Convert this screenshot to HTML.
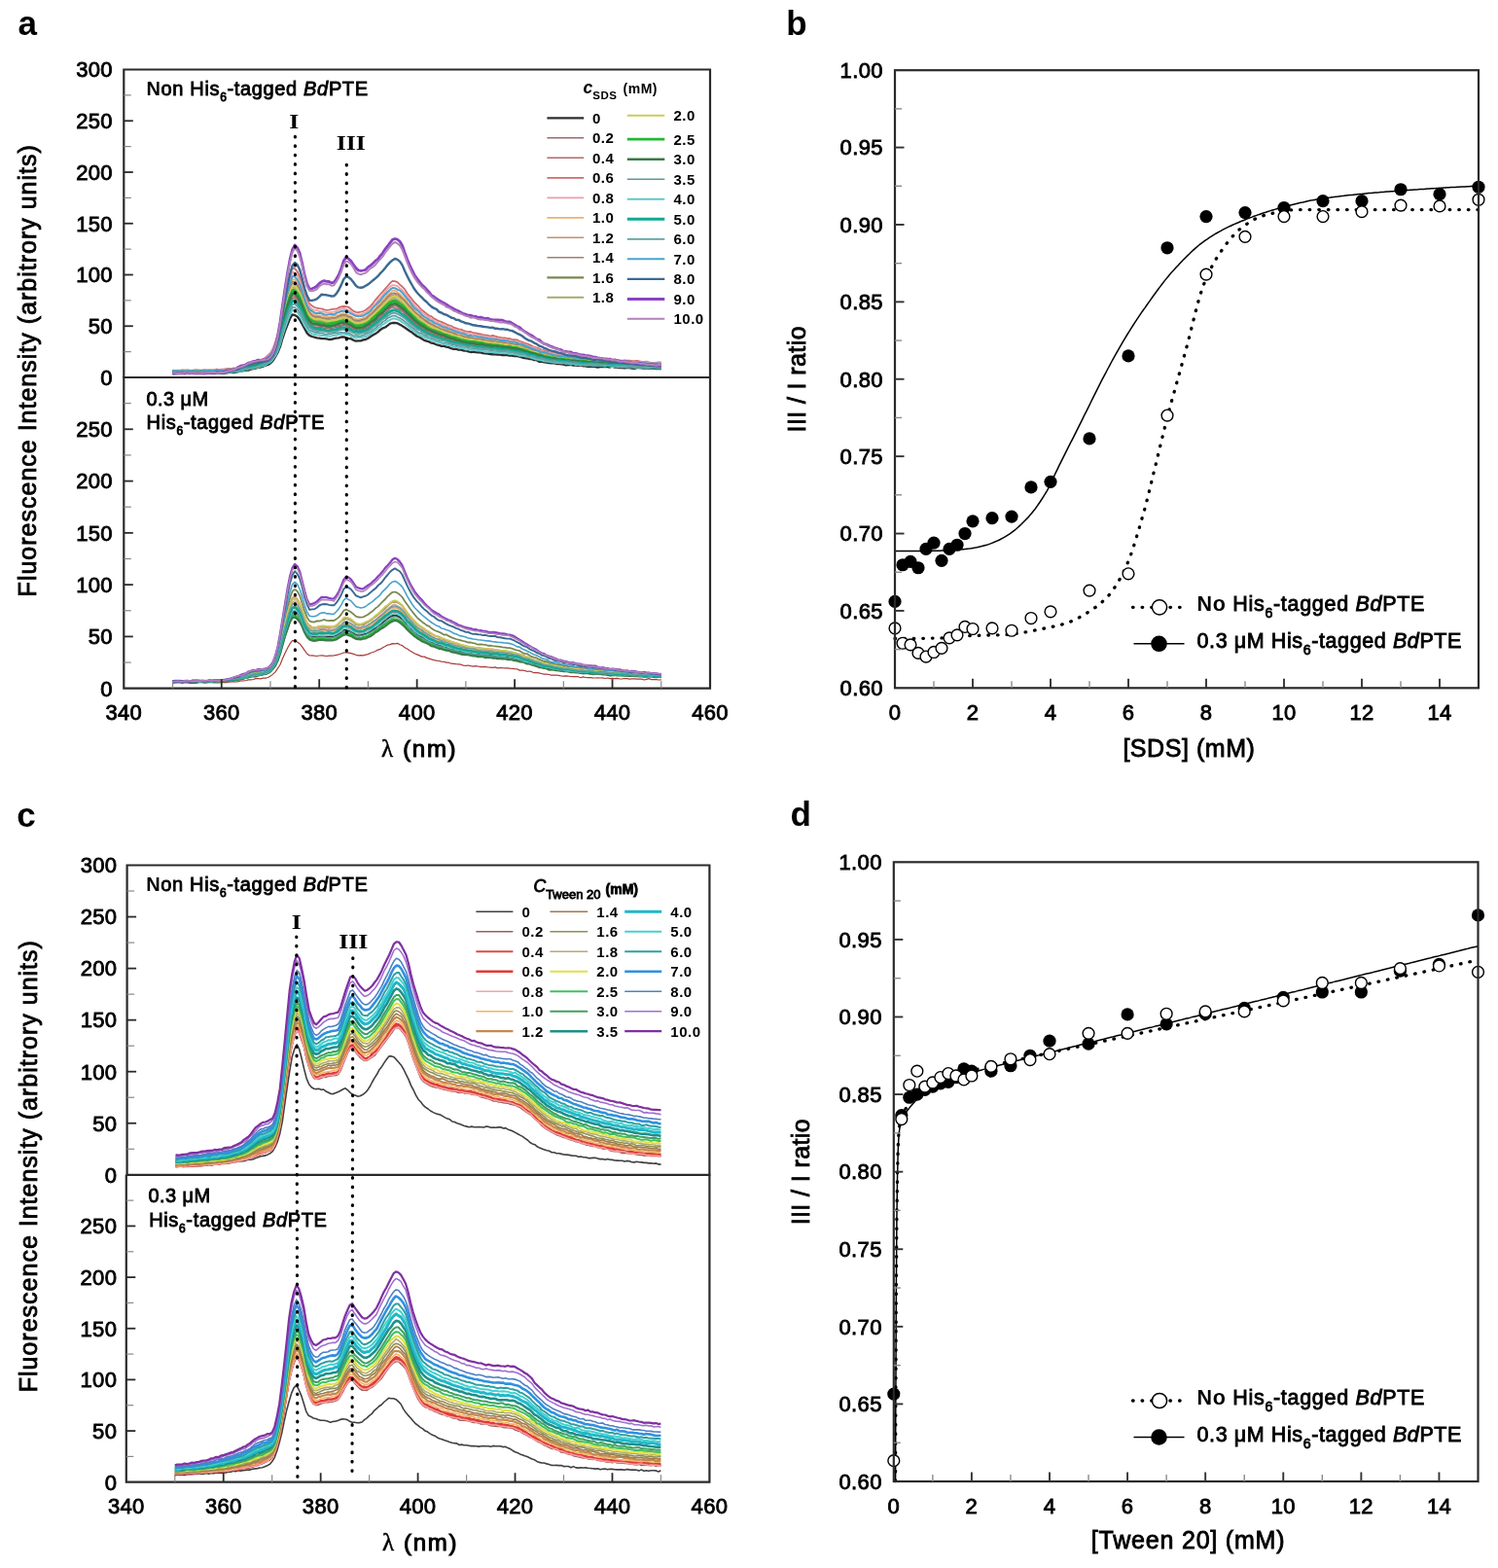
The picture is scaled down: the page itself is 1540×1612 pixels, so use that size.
<!DOCTYPE html>
<html><head><meta charset="utf-8"><title>Figure</title><style>html,body{margin:0;padding:0;background:#fff;}svg{display:block;} text{stroke:#000;stroke-width:0.85px;} text[font-weight=bold]{stroke-width:0;}</style></head><body>
<svg width="1540" height="1612" viewBox="0 0 1540 1612">
<rect width="1540" height="1612" fill="#fff"/>
<path d="M177.5,384.1 180,384 182.5,384 185.1,383.7 187.6,383.8 190.1,383.7 192.6,383.5 195.1,383.5 197.6,383.6 200.1,383.8 202.6,383.9 205.1,383.9 207.7,383.7 210.2,383.6 212.7,383.8 215.2,383.8 217.7,383.4 220.2,383.9 222.7,383.4 225.2,383.2 227.8,383.5 230.3,383.5 232.8,383.3 235.3,382.8 237.8,382.9 240.3,383.2 242.8,382.6 245.3,381.9 247.8,381.5 250.4,381.1 252.9,380.7 255.4,380.6 257.9,379.5 260.4,379.1 262.9,378.6 265.4,377.7 267.9,377.5 270.4,376.8 273,375.8 275.5,374.9 278,373.4 280.5,370.9 283,366.9 285.5,362.5 288,356.4 290.5,347.8 293,340.3 295.6,333.8 298.1,327.5 300.6,323.4 303.1,324.1 305.6,325.5 308.1,328.7 310.6,333.1 313.1,337.6 315.6,342.4 318.2,344.9 320.7,346 323.2,346.7 325.7,347.3 328.2,347.7 330.7,348.1 333.2,348.2 335.7,348.4 338.2,349 340.8,348.9 343.3,348.1 345.8,347.7 348.3,347.3 350.8,346.5 353.3,346.3 355.8,347.1 358.3,347.8 360.8,348.3 363.4,349.7 365.9,350.7 368.4,350.4 370.9,350.3 373.4,349.4 375.9,349 378.4,347.8 380.9,346.1 383.4,344.6 386,343.1 388.5,341.4 391,338.9 393.5,337.4 396,336.5 398.5,334.6 401,332.7 403.5,332 406,331.8 408.6,332.3 411.1,333.7 413.6,335.1 416.1,336.8 418.6,338.5 421.1,340.3 423.6,341.8 426.1,343.8 428.7,345.7 431.2,346.8 433.7,348.3 436.2,349.9 438.7,350.6 441.2,351.4 443.7,352.7 446.2,353.2 448.7,354.3 451.3,354.9 453.8,355.9 456.3,355.6 458.8,356.7 461.3,357.1 463.8,358.1 466.3,358.9 468.8,358.7 471.3,359.7 473.9,359.6 476.4,360.5 478.9,360.4 481.4,361.4 483.9,362 486.4,361.7 488.9,362.1 491.4,362.4 493.9,362.4 496.5,363.1 499,363.4 501.5,363.6 504,364 506.5,364.3 509,364.4 511.5,364.5 514,364.6 516.5,365.1 519.1,365 521.6,365 524.1,365.5 526.6,365.6 529.1,366.2 531.6,366.2 534.1,366.6 536.6,367.4 539.1,368.2 541.7,368.4 544.2,369 546.7,369.1 549.2,370.1 551.7,370.2 554.2,371.8 556.7,371.7 559.2,372.3 561.7,372.7 564.3,373.2 566.8,373.4 569.3,373.2 571.8,374 574.3,373.8 576.8,374.4 579.3,374.6 581.8,375.4 584.3,375 586.9,375 589.4,375.6 591.9,375.7 594.4,375.9 596.9,375.3 599.4,376.3 601.9,376.3 604.4,377 606.9,376.8 609.5,376.5 612,377 614.5,377.5 617,377 619.5,377 622,377.1 624.5,377.2 627,377.5 629.6,376.7 632.1,377.7 634.6,377.6 637.1,378.1 639.6,378 642.1,378.4 644.6,378 647.1,378.2 649.6,378.5 652.2,378.8 654.7,378.2 657.2,378.2 659.7,378.3 662.2,378.6 664.7,378.5 667.2,378.5 669.7,378.7 672.2,378.5 674.8,379 677.3,378.9 679.8,379.4" fill="none" stroke="#2e2e2e" stroke-width="2.3" stroke-linejoin="round" />
<path d="M177.5,382.7 180,382.4 182.5,382.4 185.1,382.8 187.6,382.8 190.1,382.8 192.6,382.5 195.1,382.7 197.6,382.4 200.1,383.1 202.6,382.2 205.1,382.6 207.7,382.3 210.2,382.5 212.7,382.5 215.2,382.3 217.7,382.1 220.2,382.3 222.7,382.2 225.2,381.9 227.8,382.3 230.3,382.4 232.8,381.7 235.3,381.9 237.8,382 240.3,381.5 242.8,381.2 245.3,381 247.8,380.5 250.4,379.5 252.9,378.5 255.4,378.1 257.9,377.5 260.4,376.6 262.9,375.9 265.4,375.6 267.9,374.7 270.4,373.7 273,373 275.5,371.6 278,369.3 280.5,366.2 283,361.4 285.5,356.3 288,348.1 290.5,337.8 293,328.2 295.6,318.9 298.1,311.4 300.6,306.2 303.1,306.1 305.6,308.7 308.1,312.5 310.6,318.1 313.1,324 315.6,329.8 318.2,332.8 320.7,334.4 323.2,336 325.7,336 328.2,336.5 330.7,336.5 333.2,337.4 335.7,337.7 338.2,337.6 340.8,337.6 343.3,336.9 345.8,336.5 348.3,335.6 350.8,335.2 353.3,334.5 355.8,335.1 358.3,336.3 360.8,337.1 363.4,338.3 365.9,339.2 368.4,340.1 370.9,339.1 373.4,338.5 375.9,337.8 378.4,336.7 380.9,334.2 383.4,332.8 386,330.2 388.5,327.8 391,326.3 393.5,323.9 396,322.1 398.5,319.5 401,317.2 403.5,315.8 406,316.7 408.6,317.3 411.1,318.5 413.6,320 416.1,322.4 418.6,325.1 421.1,327.2 423.6,329.7 426.1,332.1 428.7,334.3 431.2,335.7 433.7,337.4 436.2,339 438.7,340.4 441.2,342 443.7,343 446.2,343.6 448.7,345 451.3,346.2 453.8,346.3 456.3,347.3 458.8,347.7 461.3,349 463.8,349.8 466.3,350.8 468.8,350.8 471.3,351.1 473.9,352.6 476.4,353.1 478.9,353.3 481.4,354.1 483.9,354.4 486.4,354.8 488.9,355 491.4,355.1 493.9,355.7 496.5,355.7 499,356.4 501.5,356.5 504,357.4 506.5,357.5 509,357.2 511.5,357.9 514,357.9 516.5,358.2 519.1,358.3 521.6,358.7 524.1,358.9 526.6,359.6 529.1,360.1 531.6,360.5 534.1,361 536.6,361.8 539.1,362.4 541.7,363 544.2,363.7 546.7,364.5 549.2,365.6 551.7,365.8 554.2,366.4 556.7,366.9 559.2,367.7 561.7,368.6 564.3,369.1 566.8,368.8 569.3,369.5 571.8,369.6 574.3,369.8 576.8,370.9 579.3,370.9 581.8,371.1 584.3,371.3 586.9,371.6 589.4,371.9 591.9,372.1 594.4,372.8 596.9,372.6 599.4,373 601.9,372.9 604.4,373.2 606.9,373.1 609.5,373.2 612,373.5 614.5,373.7 617,373.9 619.5,374.2 622,374.3 624.5,374.5 627,374.4 629.6,374.6 632.1,374.6 634.6,375.3 637.1,374.8 639.6,375.4 642.1,375.5 644.6,375.4 647.1,375.7 649.6,375.5 652.2,375.9 654.7,376.1 657.2,376.1 659.7,375.7 662.2,376.1 664.7,376.5 667.2,376.3 669.7,376.8 672.2,376 674.8,377 677.3,376.5 679.8,376.6" fill="none" stroke="#9a6a6e" stroke-width="1.5" stroke-linejoin="round" />
<path d="M177.5,382.6 180,382.3 182.5,382.4 185.1,382.4 187.6,382.1 190.1,382.9 192.6,382.7 195.1,382.9 197.6,382.5 200.1,382.2 202.6,382.4 205.1,382.3 207.7,382.9 210.2,382.3 212.7,382.5 215.2,381.8 217.7,382 220.2,381.9 222.7,382.1 225.2,381.8 227.8,381.7 230.3,381.9 232.8,381.8 235.3,381.6 237.8,381.5 240.3,381.3 242.8,381 245.3,380.7 247.8,379.7 250.4,379.7 252.9,378.3 255.4,377.9 257.9,377.2 260.4,376.8 262.9,375.9 265.4,375.3 267.9,374.5 270.4,373.8 273,372.5 275.5,370.5 278,368.8 280.5,365.8 283,360.7 285.5,355.2 288,346.7 290.5,336.1 293,326.3 295.6,317.7 298.1,309.7 300.6,303.8 303.1,304.5 305.6,306.7 308.1,310.5 310.6,316.5 313.1,322.3 315.6,327.5 318.2,331.3 320.7,332.9 323.2,333.9 325.7,334.1 328.2,335 330.7,335.4 333.2,335.8 335.7,336.7 338.2,336.8 340.8,336.3 343.3,335.6 345.8,335 348.3,334.8 350.8,334.2 353.3,333.5 355.8,334 358.3,334.9 360.8,335.7 363.4,337 365.9,338.3 368.4,338.3 370.9,338.3 373.4,337.7 375.9,336.5 378.4,335 380.9,333 383.4,330.9 386,328.7 388.5,326.4 391,324.7 393.5,322.4 396,319.9 398.5,317.6 401,316.2 403.5,314.2 406,314.5 408.6,315.4 411.1,316.9 413.6,318.5 416.1,321.2 418.6,323 421.1,325.7 423.6,328.4 426.1,330.7 428.7,333.3 431.2,334.6 433.7,336.1 436.2,337.9 438.7,339.2 441.2,340.5 443.7,341.7 446.2,342.5 448.7,343.8 451.3,344.8 453.8,345.5 456.3,345.9 458.8,347.3 461.3,347.8 463.8,349.1 466.3,349.1 468.8,350 471.3,350.5 473.9,351.5 476.4,352.3 478.9,352.3 481.4,352.8 483.9,353.7 486.4,354.2 488.9,354.1 491.4,354.6 493.9,354.2 496.5,355.3 499,355.6 501.5,355.8 504,356.5 506.5,356.6 509,356.2 511.5,357 514,357.4 516.5,357.9 519.1,357.7 521.6,358 524.1,358.4 526.6,358.9 529.1,359.1 531.6,359.5 534.1,360.4 536.6,360.7 539.1,362.1 541.7,362.7 544.2,363.2 546.7,363.9 549.2,364.8 551.7,365.1 554.2,365.7 556.7,366.5 559.2,367.3 561.7,367.7 564.3,368.3 566.8,369.2 569.3,369.3 571.8,369.3 574.3,370.2 576.8,370.2 579.3,370.6 581.8,371 584.3,371.3 586.9,371.3 589.4,371.4 591.9,371.7 594.4,372.3 596.9,372.2 599.4,372.3 601.9,372.3 604.4,372.6 606.9,372.7 609.5,372.8 612,373 614.5,373.6 617,373.6 619.5,373.9 622,374.5 624.5,374.5 627,373.6 629.6,374.6 632.1,375 634.6,374.7 637.1,374.3 639.6,374.8 642.1,374.8 644.6,375.1 647.1,375.2 649.6,375 652.2,375.2 654.7,375.5 657.2,375.4 659.7,375.4 662.2,375.9 664.7,375.8 667.2,375.9 669.7,376.3 672.2,375.9 674.8,376.3 677.3,376.5 679.8,376.9" fill="none" stroke="#b06a6a" stroke-width="1.5" stroke-linejoin="round" />
<path d="M177.5,380.3 180,381.6 182.5,380.6 185.1,380.8 187.6,380.4 190.1,380.7 192.6,380.3 195.1,380.7 197.6,380.8 200.1,380.5 202.6,380.5 205.1,380.7 207.7,380.6 210.2,380.3 212.7,380.3 215.2,380.5 217.7,380.4 220.2,380.7 222.7,379.7 225.2,380.1 227.8,379.6 230.3,379.7 232.8,379.1 235.3,379 237.8,379.1 240.3,378.5 242.8,378.8 245.3,377.7 247.8,377.6 250.4,376.2 252.9,375 255.4,374.2 257.9,373.4 260.4,372.7 262.9,371.8 265.4,370.7 267.9,369.8 270.4,369 273,367.7 275.5,365.2 278,363 280.5,358.5 283,352.2 285.5,344.1 288,333.1 290.5,318.8 293,305.4 295.6,293.6 298.1,283.1 300.6,275.3 303.1,276.2 305.6,279.2 308.1,284.6 310.6,291.9 313.1,300.4 315.6,307.5 318.2,312.4 320.7,314.3 323.2,316 325.7,316.7 328.2,317.2 330.7,317.3 333.2,318.3 335.7,318.9 338.2,318.6 340.8,318.1 343.3,317.7 345.8,317.7 348.3,316.2 350.8,315.3 353.3,314.8 355.8,315.2 358.3,315.8 360.8,317.8 363.4,319.9 365.9,320.9 368.4,321.2 370.9,320.7 373.4,320 375.9,318.7 378.4,316.7 380.9,314.7 383.4,311.8 386,308.3 388.5,305.3 391,302.5 393.5,299.8 396,296.8 398.5,294 401,291.2 403.5,288.9 406,289.1 408.6,290.1 411.1,292.6 413.6,294.8 416.1,297.4 418.6,301.5 421.1,304.6 423.6,307.8 426.1,310.9 428.7,313.4 431.2,316 433.7,318.8 436.2,320.6 438.7,322.7 441.2,324.5 443.7,325.4 446.2,327.7 448.7,328.7 451.3,330.2 453.8,330.9 456.3,332.1 458.8,333.3 461.3,334.3 463.8,335 466.3,336.6 468.8,337.4 471.3,338.4 473.9,338.6 476.4,339.8 478.9,340.7 481.4,341.2 483.9,341 486.4,342.2 488.9,342.4 491.4,343 493.9,343.5 496.5,344.1 499,344.4 501.5,344.8 504,345.7 506.5,344.8 509,345.7 511.5,346.3 514,346.8 516.5,347.4 519.1,347.3 521.6,348 524.1,348.2 526.6,349.2 529.1,349.2 531.6,349.4 534.1,350.8 536.6,351.4 539.1,352.6 541.7,353.3 544.2,354.4 546.7,355.6 549.2,356.7 551.7,357.4 554.2,358.5 556.7,359.6 559.2,360.2 561.7,361 564.3,362.1 566.8,362.4 569.3,362.1 571.8,363.2 574.3,363.8 576.8,363.6 579.3,364.8 581.8,365.6 584.3,365.8 586.9,366.1 589.4,365.9 591.9,366 594.4,367.1 596.9,366.6 599.4,367.5 601.9,367.3 604.4,367.5 606.9,367.8 609.5,368.1 612,368.3 614.5,368.8 617,368.7 619.5,368.7 622,368.9 624.5,368.7 627,369.3 629.6,369.6 632.1,369.5 634.6,370.1 637.1,370.6 639.6,371.1 642.1,370.3 644.6,370.6 647.1,370.7 649.6,371.2 652.2,371.2 654.7,370.9 657.2,371.4 659.7,372 662.2,371.9 664.7,371.6 667.2,372.3 669.7,372.9 672.2,372.9 674.8,372.8 677.3,372.3 679.8,372.6" fill="none" stroke="#d06a6a" stroke-width="1.8" stroke-linejoin="round" />
<path d="M177.5,380.9 180,381.4 182.5,381.5 185.1,381.8 187.6,381.2 190.1,380.7 192.6,381 195.1,380.9 197.6,380.7 200.1,381.2 202.6,380.2 205.1,381.1 207.7,380.7 210.2,380.1 212.7,380.8 215.2,380.6 217.7,380.7 220.2,380.4 222.7,381 225.2,380.5 227.8,379.8 230.3,380 232.8,380 235.3,379.6 237.8,379.4 240.3,379.2 242.8,378.7 245.3,378.8 247.8,377.5 250.4,377 252.9,375.6 255.4,374.8 257.9,374.2 260.4,373.1 262.9,372.6 265.4,371.3 267.9,370.7 270.4,369.4 273,368.5 275.5,365.8 278,363.6 280.5,359.1 283,353.2 285.5,346.2 288,335.1 290.5,321.7 293,308.5 295.6,296.6 298.1,287 300.6,279.6 303.1,280.6 305.6,283.4 308.1,288.4 310.6,295.5 313.1,304 315.6,310.6 318.2,315.2 320.7,317.8 323.2,318.9 325.7,319.2 328.2,320 330.7,320.4 333.2,320.5 335.7,321.3 338.2,321.4 340.8,320.9 343.3,320.6 345.8,319.8 348.3,318.8 350.8,317.6 353.3,316.9 355.8,317.9 358.3,319 360.8,320.4 363.4,322.5 365.9,323.5 368.4,323.5 370.9,323.5 373.4,322.1 375.9,321.4 378.4,319.2 380.9,316.6 383.4,314.4 386,312.1 388.5,308.7 391,306 393.5,303.2 396,300.2 398.5,296.9 401,294.7 403.5,293.1 406,293.3 408.6,294.2 411.1,296.5 413.6,298.3 416.1,301.3 418.6,304.4 421.1,307.6 423.6,310.8 426.1,313.6 428.7,316.5 431.2,319 433.7,321 436.2,322.9 438.7,324.5 441.2,326.6 443.7,327.8 446.2,329.8 448.7,331 451.3,332.6 453.8,333.1 456.3,334.6 458.8,335.6 461.3,336.1 463.8,337.4 466.3,338.4 468.8,338.9 471.3,340.1 473.9,340.6 476.4,341.7 478.9,342 481.4,342.5 483.9,343.3 486.4,343.4 488.9,344.4 491.4,344.8 493.9,345.2 496.5,345.3 499,346 501.5,346.5 504,346.6 506.5,346.8 509,347.6 511.5,348.2 514,348.3 516.5,348.5 519.1,349.2 521.6,349.4 524.1,350.3 526.6,350.3 529.1,350.8 531.6,351.2 534.1,352 536.6,352.7 539.1,354.2 541.7,354.7 544.2,356.3 546.7,357 549.2,357.4 551.7,358.4 554.2,360.1 556.7,360.3 559.2,361.4 561.7,362.3 564.3,362.7 566.8,363.3 569.3,363.5 571.8,364.7 574.3,364.9 576.8,365.2 579.3,366 581.8,365.5 584.3,365.7 586.9,366.7 589.4,366.7 591.9,367.2 594.4,367.3 596.9,367.8 599.4,367.7 601.9,368.5 604.4,368 606.9,368.5 609.5,368.2 612,369.5 614.5,369.3 617,369.8 619.5,369.7 622,369.8 624.5,370.3 627,370.6 629.6,370.9 632.1,370.6 634.6,370.5 637.1,370.6 639.6,371.1 642.1,371.5 644.6,371.5 647.1,372 649.6,372.1 652.2,371.6 654.7,372.1 657.2,372.1 659.7,372.3 662.2,372.1 664.7,372.1 667.2,372.9 669.7,372.9 672.2,373.1 674.8,372.6 677.3,372.8 679.8,373.3" fill="none" stroke="#eca0a8" stroke-width="1.8" stroke-linejoin="round" />
<path d="M177.5,381.9 180,381.8 182.5,381.5 185.1,381.7 187.6,381.4 190.1,381.3 192.6,381.9 195.1,381.2 197.6,381.6 200.1,380.9 202.6,381.2 205.1,381.5 207.7,381.3 210.2,381.2 212.7,381.1 215.2,380.8 217.7,381 220.2,380.6 222.7,380.8 225.2,380.9 227.8,381.2 230.3,381 232.8,380.4 235.3,380.1 237.8,379.7 240.3,380 242.8,379.5 245.3,379.2 247.8,378.5 250.4,378.1 252.9,376.4 255.4,375.9 257.9,374.9 260.4,374 262.9,373.3 265.4,373.1 267.9,371.5 270.4,370.7 273,369.4 275.5,367.9 278,365.7 280.5,361.8 283,355.8 285.5,348.7 288,339 290.5,325.6 293,313.9 295.6,302.9 298.1,293.8 300.6,287.5 303.1,287.4 305.6,290.5 308.1,295.6 310.6,301.8 313.1,309.3 315.6,315.7 318.2,320 320.7,322.6 323.2,323.4 325.7,324.1 328.2,324.3 330.7,324.7 333.2,325 335.7,325.7 338.2,326.1 340.8,325.3 343.3,324.6 345.8,324.2 348.3,323.8 350.8,322.7 353.3,322.1 355.8,323 358.3,323.7 360.8,325.3 363.4,326.5 365.9,327.8 368.4,328.1 370.9,328 373.4,326.7 375.9,326 378.4,324.3 380.9,321.5 383.4,319.5 386,317.1 388.5,313.8 391,310.7 393.5,308.2 396,305.9 398.5,302.9 401,301.1 403.5,298.9 406,298.7 408.6,300.5 411.1,302.2 413.6,304.8 416.1,307.3 418.6,309.9 421.1,313.4 423.6,315.9 426.1,318.8 428.7,321.4 431.2,323.3 433.7,325.1 436.2,327.4 438.7,328.9 441.2,330.4 443.7,332.4 446.2,333.8 448.7,335.5 451.3,335.8 453.8,336.7 456.3,337.9 458.8,338.3 461.3,339.4 463.8,340.5 466.3,341.6 468.8,342.7 471.3,343.2 473.9,343.9 476.4,344.7 478.9,345.4 481.4,346 483.9,346.2 486.4,347.3 488.9,347.4 491.4,347.7 493.9,347.9 496.5,348.3 499,348.9 501.5,349.3 504,349.8 506.5,349.6 509,350.1 511.5,350.5 514,351.2 516.5,351.6 519.1,351.4 521.6,352.1 524.1,352.3 526.6,352.4 529.1,353.7 531.6,354.1 534.1,354.4 536.6,355.2 539.1,356.5 541.7,357.2 544.2,358.2 546.7,359.1 549.2,359.7 551.7,360.6 554.2,361.2 556.7,362.2 559.2,362.7 561.7,364.1 564.3,364.4 566.8,365.4 569.3,365.9 571.8,366.3 574.3,366.1 576.8,366.6 579.3,367.5 581.8,367 584.3,367.4 586.9,368 589.4,368.3 591.9,368.5 594.4,369.1 596.9,368.4 599.4,369.4 601.9,369.6 604.4,369.8 606.9,370.1 609.5,370.4 612,370.3 614.5,370.9 617,371 619.5,371.1 622,370.9 624.5,371.6 627,371.7 629.6,371.5 632.1,372.1 634.6,372 637.1,371.9 639.6,372.2 642.1,372.4 644.6,372.2 647.1,372.8 649.6,373 652.2,373.4 654.7,373.1 657.2,373.1 659.7,373.5 662.2,373 664.7,373.3 667.2,373.4 669.7,374.1 672.2,373.8 674.8,373.9 677.3,374.6 679.8,374.2" fill="none" stroke="#eeb070" stroke-width="1.8" stroke-linejoin="round" />
<path d="M177.5,382 180,381.6 182.5,381.5 185.1,381.5 187.6,381.3 190.1,381.9 192.6,381.6 195.1,381.8 197.6,382.1 200.1,381.9 202.6,381.6 205.1,381.9 207.7,381.6 210.2,381.2 212.7,381.3 215.2,381.3 217.7,381.3 220.2,381.3 222.7,381.7 225.2,380.8 227.8,381.4 230.3,380.8 232.8,380.8 235.3,380.5 237.8,380.3 240.3,380.2 242.8,379.6 245.3,379.7 247.8,378.5 250.4,378.4 252.9,376.8 255.4,376.3 257.9,375.3 260.4,374.3 262.9,374.6 265.4,373.4 267.9,372.4 270.4,371.3 273,369.9 275.5,368.3 278,366 280.5,362.4 283,356.9 285.5,350.3 288,340.5 290.5,328.5 293,316.8 295.6,306.2 298.1,297.6 300.6,291.5 303.1,291.9 305.6,294.5 308.1,299.3 310.6,306.1 313.1,313.1 315.6,318.8 318.2,323.2 320.7,325.1 323.2,325.9 325.7,327 328.2,326.4 330.7,327.4 333.2,328.1 335.7,328 338.2,328.9 340.8,328.4 343.3,327.8 345.8,327.3 348.3,326.3 350.8,325.3 353.3,325 355.8,325.6 358.3,326.4 360.8,327.3 363.4,329.1 365.9,331.3 368.4,330.4 370.9,330.2 373.4,329.5 375.9,328.8 378.4,327.1 380.9,324.8 383.4,322.7 386,319.6 388.5,317 391,314.6 393.5,312.4 396,309.3 398.5,306.9 401,304.5 403.5,303.5 406,302.5 408.6,304.3 411.1,305.6 413.6,308.7 416.1,310.5 418.6,313.4 421.1,317 423.6,319.3 426.1,322.2 428.7,324.7 431.2,326.6 433.7,328.6 436.2,330 438.7,331.6 441.2,333.2 443.7,334.9 446.2,336.1 448.7,336.7 451.3,338.3 453.8,339.2 456.3,340.3 458.8,340.9 461.3,341.7 463.8,342.6 466.3,343.5 468.8,344.2 471.3,345.3 473.9,345.8 476.4,346.8 478.9,347.2 481.4,347.5 483.9,348.4 486.4,348.4 488.9,349 491.4,349.8 493.9,350.3 496.5,350.6 499,350.8 501.5,350.8 504,351.1 506.5,351.2 509,351.3 511.5,352.3 514,353.1 516.5,353.3 519.1,353.8 521.6,353.8 524.1,354.1 526.6,354 529.1,355.2 531.6,355.4 534.1,356 536.6,356.8 539.1,357.7 541.7,357.9 544.2,359.4 546.7,360.2 549.2,360.8 551.7,361.7 554.2,362.2 556.7,363.8 559.2,364.3 561.7,365 564.3,365.5 566.8,365.8 569.3,366.6 571.8,367.4 574.3,367.2 576.8,367.9 579.3,367.7 581.8,368.2 584.3,368 586.9,368.6 589.4,369.3 591.9,369.2 594.4,369.3 596.9,369.8 599.4,370 601.9,370.3 604.4,370.6 606.9,370.9 609.5,370.6 612,371 614.5,371.6 617,371.2 619.5,371.6 622,371.7 624.5,371.9 627,371.8 629.6,372.9 632.1,372.4 634.6,372.4 637.1,372.8 639.6,373.3 642.1,373.4 644.6,373.1 647.1,372.9 649.6,373.9 652.2,373.7 654.7,373.6 657.2,373.7 659.7,373.8 662.2,373.7 664.7,373.9 667.2,374.6 669.7,374.4 672.2,374.7 674.8,374.5 677.3,374.2 679.8,374.4" fill="none" stroke="#c49070" stroke-width="1.6" stroke-linejoin="round" />
<path d="M177.5,381.4 180,381.6 182.5,381.8 185.1,382 187.6,382.1 190.1,381.6 192.6,381.8 195.1,381.8 197.6,381.6 200.1,381.5 202.6,382.1 205.1,381.2 207.7,382 210.2,380.9 212.7,381.2 215.2,381.4 217.7,380.9 220.2,381.1 222.7,380.9 225.2,380.9 227.8,380.6 230.3,380.5 232.8,380.8 235.3,380.6 237.8,380.1 240.3,380 242.8,380.3 245.3,378.7 247.8,379.1 250.4,378.3 252.9,377.2 255.4,375.8 257.9,374.6 260.4,374.4 262.9,373.8 265.4,373 267.9,372.3 270.4,371.1 273,370.2 275.5,367.9 278,365.5 280.5,362.5 283,356.4 285.5,349.5 288,339.6 290.5,327.5 293,315.8 295.6,305.1 298.1,295.8 300.6,289.5 303.1,290 305.6,292.3 308.1,297.4 310.6,304.1 313.1,311.2 315.6,317.4 318.2,321.4 320.7,323.9 323.2,325.2 325.7,325.4 328.2,325.5 330.7,326.5 333.2,326.9 335.7,327.2 338.2,327.2 340.8,326.9 343.3,326.5 345.8,326 348.3,325.1 350.8,323.7 353.3,323.9 355.8,323.9 358.3,325.7 360.8,325.8 363.4,328.7 365.9,329.1 368.4,329.8 370.9,329.1 373.4,328.3 375.9,327.5 378.4,325.1 380.9,323.3 383.4,321.3 386,318.2 388.5,315.5 391,313.3 393.5,310.3 396,308 398.5,305.1 401,302.8 403.5,301.5 406,301.4 408.6,302.2 411.1,304.2 413.6,306.8 416.1,309 418.6,312 421.1,314.8 423.6,317 426.1,320.5 428.7,322.8 431.2,324.6 433.7,326.8 436.2,328.7 438.7,330.2 441.2,332 443.7,333.5 446.2,334.6 448.7,335.9 451.3,337.3 453.8,338.4 456.3,339.1 458.8,339.6 461.3,341 463.8,341.5 466.3,342.5 468.8,343.6 471.3,345 473.9,345 476.4,345.8 478.9,346.7 481.4,346.7 483.9,347.3 486.4,347.7 488.9,348.4 491.4,348.5 493.9,349.1 496.5,349.1 499,349.7 501.5,350.4 504,350.3 506.5,350.7 509,351.1 511.5,351.8 514,351.5 516.5,352.4 519.1,352.1 521.6,353.1 524.1,353.2 526.6,353.7 529.1,354.1 531.6,353.9 534.1,355.4 536.6,355.5 539.1,356.8 541.7,358 544.2,358.4 546.7,359.4 549.2,360.1 551.7,361.6 554.2,361.9 556.7,363 559.2,363.7 561.7,364.4 564.3,365 566.8,365.1 569.3,365.9 571.8,366.9 574.3,366.4 576.8,367.1 579.3,367.4 581.8,368.3 584.3,368 586.9,368.5 589.4,368.4 591.9,368.8 594.4,368.9 596.9,369.5 599.4,370.1 601.9,369.6 604.4,370 606.9,370.4 609.5,370.6 612,370.9 614.5,371.4 617,371.4 619.5,371.3 622,371 624.5,371.5 627,371.4 629.6,372.2 632.1,371.8 634.6,372.4 637.1,372 639.6,372.2 642.1,372.7 644.6,372.8 647.1,372.7 649.6,373.3 652.2,373.8 654.7,373.1 657.2,372.9 659.7,374.1 662.2,373.7 664.7,374.1 667.2,374 669.7,374.3 672.2,373.9 674.8,374.4 677.3,374.4 679.8,374.7" fill="none" stroke="#a08070" stroke-width="1.6" stroke-linejoin="round" />
<path d="M177.5,382.3 180,382.5 182.5,382 185.1,382.5 187.6,381.6 190.1,381.9 192.6,382.2 195.1,382 197.6,381.7 200.1,381.3 202.6,382.3 205.1,381.7 207.7,381.9 210.2,382 212.7,381.6 215.2,381.7 217.7,381.5 220.2,381.9 222.7,381.6 225.2,381.5 227.8,381.5 230.3,381.4 232.8,381.4 235.3,381 237.8,380.8 240.3,380.6 242.8,380.4 245.3,379.8 247.8,379.5 250.4,378.4 252.9,377.8 255.4,377 257.9,376.3 260.4,375.3 262.9,374.7 265.4,374.3 267.9,373.6 270.4,372.1 273,371.3 275.5,370.1 278,367.5 280.5,364.1 283,358.8 285.5,352.8 288,344 290.5,332.1 293,322.2 295.6,312.3 298.1,303.9 300.6,297.8 303.1,298.1 305.6,300.7 308.1,304.7 310.6,311.4 313.1,317 315.6,323.3 318.2,327.5 320.7,329.2 323.2,330.3 325.7,331.3 328.2,330.9 330.7,331.7 333.2,332.1 335.7,332.7 338.2,332.6 340.8,332.1 343.3,332 345.8,330.6 348.3,330.6 350.8,329.6 353.3,329.1 355.8,329.5 358.3,330.6 360.8,331.8 363.4,333.2 365.9,334.4 368.4,334.8 370.9,334 373.4,333.6 375.9,332.8 378.4,331 380.9,329 383.4,326.6 386,324.3 388.5,322 391,319.3 393.5,317.1 396,315.2 398.5,312 401,310.3 403.5,308.9 406,308.5 408.6,310.1 411.1,311.6 413.6,313.1 416.1,316.1 418.6,318.6 421.1,320.6 423.6,323.4 426.1,326.5 428.7,328.5 431.2,330.2 433.7,332.4 436.2,333.8 438.7,335.3 441.2,336.8 443.7,337.8 446.2,339.3 448.7,340.5 451.3,341.4 453.8,342.5 456.3,343.5 458.8,344.2 461.3,345.1 463.8,345.2 466.3,346 468.8,347.4 471.3,348.7 473.9,348.8 476.4,349.1 478.9,350 481.4,350.2 483.9,350.6 486.4,351.4 488.9,351.7 491.4,352.2 493.9,352.4 496.5,352.9 499,353.1 501.5,352.9 504,353.7 506.5,353.6 509,354.1 511.5,354.9 514,354.9 516.5,355.4 519.1,355.9 521.6,356 524.1,355.9 526.6,356.2 529.1,357.1 531.6,357.7 534.1,358.1 536.6,358.7 539.1,359.2 541.7,360.6 544.2,361.5 546.7,362 549.2,363.3 551.7,363.5 554.2,364.2 556.7,365.5 559.2,365.5 561.7,366.6 564.3,367 566.8,367.5 569.3,367.9 571.8,368.2 574.3,368.7 576.8,369.4 579.3,369 581.8,369.5 584.3,369.6 586.9,370 589.4,370 591.9,370.5 594.4,370.9 596.9,370.3 599.4,370.8 601.9,371.2 604.4,371.3 606.9,371.4 609.5,372.6 612,372.3 614.5,372.3 617,372.4 619.5,372.9 622,372.8 624.5,373.3 627,373.2 629.6,373.8 632.1,373.6 634.6,373.2 637.1,374.1 639.6,373.7 642.1,374.4 644.6,374.4 647.1,373.6 649.6,374.6 652.2,374.5 654.7,374.7 657.2,375.5 659.7,374.9 662.2,374.8 664.7,375.4 667.2,375.5 669.7,375.5 672.2,375.2 674.8,375.7 677.3,375.3 679.8,375.4" fill="none" stroke="#788850" stroke-width="2.2" stroke-linejoin="round" />
<path d="M177.5,382.2 180,381.8 182.5,382 185.1,382.2 187.6,381.9 190.1,382.4 192.6,381.8 195.1,382.1 197.6,381.8 200.1,381.8 202.6,382.1 205.1,381.8 207.7,381.8 210.2,382 212.7,381.2 215.2,381.5 217.7,382 220.2,381.8 222.7,381.4 225.2,381.3 227.8,381.5 230.3,380.9 232.8,381 235.3,381.1 237.8,380.8 240.3,380.5 242.8,380.6 245.3,380 247.8,379.6 250.4,378.5 252.9,377.4 255.4,377.1 257.9,375.8 260.4,375.6 262.9,374.7 265.4,374.1 267.9,373.5 270.4,372.4 273,371.3 275.5,369.2 278,367 280.5,363.2 283,358.7 285.5,351.7 288,342.8 290.5,331.1 293,320.1 295.6,309.8 298.1,301.4 300.6,295.3 303.1,296 305.6,299.3 308.1,302.8 310.6,309.2 313.1,316.1 315.6,321.8 318.2,325.6 320.7,327.7 323.2,328.9 325.7,329.6 328.2,329.6 330.7,329.8 333.2,330.5 335.7,331 338.2,331.3 340.8,331.2 343.3,330.1 345.8,329.6 348.3,329.4 350.8,328.3 353.3,327.5 355.8,328 358.3,329.5 360.8,329.9 363.4,331.7 365.9,333 368.4,333.3 370.9,333.2 373.4,331.9 375.9,330.7 378.4,329.4 380.9,327.8 383.4,324.9 386,323 388.5,320.9 391,317.7 393.5,316.2 396,313.1 398.5,310.3 401,308.2 403.5,306.3 406,306.7 408.6,308.2 411.1,309.5 413.6,311.4 416.1,314.1 418.6,317.2 421.1,319.5 423.6,322.3 426.1,324.9 428.7,327.1 431.2,328.8 433.7,330.7 436.2,332.2 438.7,334.3 441.2,335.4 443.7,337.4 446.2,338.2 448.7,339.8 451.3,340.6 453.8,341 456.3,342.5 458.8,342.7 461.3,343.5 463.8,344.6 466.3,345.6 468.8,346.6 471.3,347.3 473.9,347.8 476.4,348.6 478.9,349 481.4,349.7 483.9,349.7 486.4,350.8 488.9,350.6 491.4,350.9 493.9,351.7 496.5,351.4 499,351.7 501.5,352.3 504,353.2 506.5,353 509,353.9 511.5,353.9 514,354.5 516.5,354.4 519.1,355 521.6,355 524.1,355.2 526.6,356 529.1,356.1 531.6,356.9 534.1,357.4 536.6,358.2 539.1,359.1 541.7,359.9 544.2,360.4 546.7,361.1 549.2,362.2 551.7,362.7 554.2,363.5 556.7,364.3 559.2,365.8 561.7,365.9 564.3,366.1 566.8,366.9 569.3,367.4 571.8,367.9 574.3,368.1 576.8,368.6 579.3,368.6 581.8,369.1 584.3,369.4 586.9,369.5 589.4,369.6 591.9,370.2 594.4,370.2 596.9,370.7 599.4,371.1 601.9,371 604.4,371.1 606.9,371.3 609.5,371.6 612,371.9 614.5,372.3 617,372.2 619.5,371.9 622,372.6 624.5,372.7 627,372.4 629.6,372.9 632.1,373.1 634.6,373.6 637.1,373.2 639.6,373.2 642.1,373.7 644.6,373.5 647.1,373.7 649.6,374.8 652.2,373.8 654.7,374.7 657.2,374.3 659.7,374.4 662.2,374.7 664.7,374.8 667.2,374.9 669.7,375.1 672.2,375.2 674.8,375.3 677.3,375.2 679.8,375.3" fill="none" stroke="#a8aa70" stroke-width="2.0" stroke-linejoin="round" />
<path d="M177.5,382 180,381.6 182.5,381.6 185.1,381.8 187.6,381.8 190.1,382 192.6,382.1 195.1,382.1 197.6,382.1 200.1,381.6 202.6,381.8 205.1,381.7 207.7,381.9 210.2,382 212.7,381.9 215.2,381.8 217.7,381.3 220.2,381.4 222.7,381.5 225.2,381.3 227.8,381.5 230.3,380.7 232.8,381.2 235.3,380.7 237.8,380 240.3,381 242.8,380.4 245.3,379.8 247.8,378.9 250.4,378.6 252.9,377.4 255.4,376.5 257.9,375.6 260.4,375.6 262.9,374.1 265.4,373.2 267.9,372.7 270.4,372.1 273,370.8 275.5,369.6 278,366.5 280.5,362.6 283,357.5 285.5,351.9 288,341.9 290.5,329.9 293,318.7 295.6,308.1 298.1,300.3 300.6,293.7 303.1,293.8 305.6,296.4 308.1,301 310.6,307.1 313.1,314.3 315.6,320.7 318.2,324.2 320.7,326.5 323.2,327.9 325.7,327.9 328.2,327.9 330.7,328.5 333.2,329.1 335.7,329.8 338.2,330.5 340.8,329.3 343.3,329 345.8,329.1 348.3,327.7 350.8,327 353.3,326.1 355.8,326.9 358.3,327.9 360.8,329.1 363.4,331.1 365.9,332.5 368.4,332 370.9,331.7 373.4,330.8 375.9,329.9 378.4,328.5 380.9,326 383.4,323.7 386,321.5 388.5,319.3 391,316.8 393.5,314.2 396,311.4 398.5,308.6 401,306.7 403.5,305 406,304.7 408.6,305.5 411.1,307.8 413.6,309.5 416.1,312.2 418.6,315.4 421.1,318.5 423.6,320.5 426.1,323.1 428.7,325 431.2,327.9 433.7,329.4 436.2,331.3 438.7,333.6 441.2,334.3 443.7,335.9 446.2,337.4 448.7,337.8 451.3,339.4 453.8,340.1 456.3,341.2 458.8,342.2 461.3,342.9 463.8,343.5 466.3,344.8 468.8,345.8 471.3,345.7 473.9,346.7 476.4,347.7 478.9,348.1 481.4,349 483.9,349.1 486.4,349.3 488.9,350.4 491.4,350 493.9,350.4 496.5,351.1 499,351.3 501.5,351.7 504,352.1 506.5,352.8 509,352.2 511.5,353.2 514,353.3 516.5,353.8 519.1,353.9 521.6,354.2 524.1,355 526.6,355 529.1,355.6 531.6,356.3 534.1,356.3 536.6,357.1 539.1,358.5 541.7,359.2 544.2,360.2 546.7,361.1 549.2,361.8 551.7,362.2 554.2,363.6 556.7,364.4 559.2,364.6 561.7,365.6 564.3,365.7 566.8,366.7 569.3,367 571.8,367.5 574.3,368.3 576.8,367.9 579.3,368.2 581.8,368.4 584.3,369 586.9,369 589.4,369.5 591.9,369.7 594.4,370.2 596.9,370.2 599.4,370.7 601.9,370.5 604.4,371 606.9,371.3 609.5,371.3 612,371.4 614.5,372.1 617,372.1 619.5,372.1 622,372 624.5,372.2 627,372.3 629.6,372.7 632.1,373 634.6,373.3 637.1,373 639.6,373.3 642.1,373.2 644.6,373.2 647.1,373.1 649.6,374 652.2,373.7 654.7,374.4 657.2,373.8 659.7,374.5 662.2,374.4 664.7,374.7 667.2,374.1 669.7,374.5 672.2,374.5 674.8,374.9 677.3,374.8 679.8,375.3" fill="none" stroke="#cccc58" stroke-width="2.0" stroke-linejoin="round" />
<path d="M177.5,382.2 180,381.9 182.5,382.7 185.1,381.8 187.6,382.3 190.1,382.4 192.6,382.4 195.1,382.5 197.6,382.2 200.1,381.9 202.6,382 205.1,381.9 207.7,382.5 210.2,382.4 212.7,381.6 215.2,381.7 217.7,381.3 220.2,381.5 222.7,382 225.2,381.3 227.8,381.4 230.3,381.4 232.8,381.5 235.3,381.1 237.8,381 240.3,380.5 242.8,380.4 245.3,379.6 247.8,379.7 250.4,378.6 252.9,377.8 255.4,377.3 257.9,376.7 260.4,375.4 262.9,374.9 265.4,374.5 267.9,373.6 270.4,373 273,371.5 275.5,370.1 278,367.7 280.5,364.1 283,359.5 285.5,353 288,344.6 290.5,333.2 293,322.8 295.6,312.8 298.1,304.7 300.6,298.8 303.1,299.2 305.6,301.4 308.1,305.5 310.6,312.2 313.1,318.3 315.6,324.7 318.2,328.2 320.7,329.8 323.2,330.8 325.7,331.6 328.2,331.9 330.7,332 333.2,332.8 335.7,333.3 338.2,332.9 340.8,332.5 343.3,332.4 345.8,331.7 348.3,330.9 350.8,330.3 353.3,329.9 355.8,330.6 358.3,331.1 360.8,332.4 363.4,334 365.9,335 368.4,335 370.9,334.4 373.4,334.1 375.9,333.2 378.4,331.6 380.9,329.8 383.4,327 386,324.8 388.5,322.4 391,320.2 393.5,317.7 396,315.4 398.5,313.1 401,311.2 403.5,310.2 406,309.4 408.6,310.7 411.1,312.6 413.6,314 416.1,316.4 418.6,319.5 421.1,321.8 423.6,324.4 426.1,326.6 428.7,329.6 431.2,331.1 433.7,332.8 436.2,334.1 438.7,336.3 441.2,338.2 443.7,339.1 446.2,339.8 448.7,340.8 451.3,341.5 453.8,342.8 456.3,344 458.8,344.4 461.3,345.4 463.8,346.3 466.3,347 468.8,347.4 471.3,348.7 473.9,349.4 476.4,349.8 478.9,350.3 481.4,351 483.9,351.4 486.4,351.5 488.9,351.7 491.4,352.2 493.9,352.5 496.5,352.7 499,353.9 501.5,354.1 504,354.2 506.5,354.6 509,354.9 511.5,354.9 514,355.6 516.5,355.7 519.1,356.5 521.6,356.5 524.1,356.2 526.6,357.1 529.1,357.3 531.6,357.6 534.1,358.5 536.6,359 539.1,359.8 541.7,360.5 544.2,361.7 546.7,362.7 549.2,363.3 551.7,363.9 554.2,364.4 556.7,365.4 559.2,366.1 561.7,366.7 564.3,366.9 566.8,367.8 569.3,367.7 571.8,368.8 574.3,369 576.8,368.9 579.3,369.3 581.8,369.9 584.3,370 586.9,370.4 589.4,370.3 591.9,370.6 594.4,371.2 596.9,371.1 599.4,371.5 601.9,371.6 604.4,371.8 606.9,372.1 609.5,372.1 612,372.2 614.5,372.4 617,372.4 619.5,372.9 622,373.4 624.5,373.3 627,373.3 629.6,373.5 632.1,373.5 634.6,373.6 637.1,373.9 639.6,374.1 642.1,374.4 644.6,374 647.1,374.5 649.6,374.8 652.2,374.9 654.7,374.9 657.2,374.5 659.7,374.8 662.2,375.5 664.7,375.2 667.2,375.2 669.7,375.2 672.2,375.4 674.8,375.7 677.3,375.5 679.8,375.9" fill="none" stroke="#22b832" stroke-width="2.8" stroke-linejoin="round" />
<path d="M177.5,382.8 180,382.8 182.5,382.8 185.1,382.6 187.6,382 190.1,382.8 192.6,382.1 195.1,382 197.6,382.4 200.1,382.5 202.6,382.2 205.1,382 207.7,381.7 210.2,382 212.7,381.7 215.2,382.2 217.7,382.3 220.2,382.4 222.7,382.2 225.2,381.9 227.8,381.7 230.3,382 232.8,381.3 235.3,381.4 237.8,381.3 240.3,381.2 242.8,380.2 245.3,380.3 247.8,380 250.4,379.3 252.9,377.8 255.4,377.6 257.9,376.4 260.4,375.7 262.9,376.1 265.4,374.5 267.9,374.2 270.4,373.6 273,372.3 275.5,370.4 278,368.3 280.5,365 283,360.5 285.5,354 288,345.4 290.5,334.5 293,324.4 295.6,314.9 298.1,307.1 300.6,301.7 303.1,302.1 305.6,304.7 308.1,308.7 310.6,314.4 313.1,321.5 315.6,326.5 318.2,330 320.7,332.4 323.2,333.2 325.7,333 328.2,334 330.7,334.2 333.2,334.6 335.7,335.3 338.2,335.4 340.8,335 343.3,334.5 345.8,333.9 348.3,333 350.8,331.9 353.3,332 355.8,332.1 358.3,333.4 360.8,334.4 363.4,335.9 365.9,337.2 368.4,337.1 370.9,336.7 373.4,336.4 375.9,335 378.4,333.7 380.9,331.7 383.4,329.8 386,328.1 388.5,324.7 391,322.7 393.5,321.1 396,318.2 398.5,316.2 401,313.8 403.5,312.7 406,312.2 408.6,313.5 411.1,315.1 413.6,316.9 416.1,318.8 418.6,322 421.1,323.9 423.6,326.5 426.1,329.3 428.7,331.3 431.2,333.3 433.7,334.8 436.2,336.2 438.7,338.1 441.2,339.1 443.7,340.3 446.2,341.5 448.7,342.3 451.3,343.7 453.8,344.4 456.3,344.7 458.8,346.2 461.3,347 463.8,347.7 466.3,348.3 468.8,349.4 471.3,350 473.9,351 476.4,351.4 478.9,351.9 481.4,352.4 483.9,352.7 486.4,352.8 488.9,353.4 491.4,354 493.9,353.9 496.5,354.3 499,355 501.5,354.9 504,355.5 506.5,355.7 509,356 511.5,355.9 514,356.7 516.5,356.9 519.1,357.1 521.6,357.2 524.1,357.4 526.6,358.4 529.1,358.2 531.6,358.9 534.1,359.2 536.6,359.9 539.1,361.1 541.7,361.7 544.2,362.6 546.7,363.1 549.2,363.5 551.7,364.7 554.2,365.6 556.7,365.5 559.2,367.1 561.7,367.4 564.3,368 566.8,368.7 569.3,368.6 571.8,368.9 574.3,369.5 576.8,369.8 579.3,370.1 581.8,370.8 584.3,370.5 586.9,371.2 589.4,371.4 591.9,371.2 594.4,371.3 596.9,372 599.4,371.7 601.9,371.7 604.4,372.3 606.9,372.6 609.5,372.7 612,373 614.5,373.3 617,373 619.5,373.2 622,373.7 624.5,373.8 627,374 629.6,374.2 632.1,374.4 634.6,374.6 637.1,374.1 639.6,374.6 642.1,374.6 644.6,374.3 647.1,375 649.6,374.8 652.2,375.4 654.7,375.4 657.2,375.1 659.7,375.5 662.2,375.9 664.7,376 667.2,375.6 669.7,376 672.2,375.7 674.8,375.9 677.3,376.1 679.8,376.1" fill="none" stroke="#3a7a48" stroke-width="2.6" stroke-linejoin="round" />
<path d="M177.5,383.2 180,383.2 182.5,383.3 185.1,383.9 187.6,383.2 190.1,383.8 192.6,383 195.1,383.1 197.6,383 200.1,383 202.6,383.1 205.1,383.3 207.7,383.2 210.2,382.7 212.7,383.2 215.2,383.1 217.7,383.2 220.2,383 222.7,382.9 225.2,382.7 227.8,382.8 230.3,382.7 232.8,382.7 235.3,382.4 237.8,382.6 240.3,382 242.8,381.5 245.3,381.7 247.8,381.1 250.4,379.7 252.9,380.1 255.4,379.6 257.9,378.6 260.4,377.5 262.9,376.9 265.4,377.3 267.9,376.2 270.4,375.6 273,374.8 275.5,373.8 278,371.2 280.5,368.9 283,364.6 285.5,359.6 288,352 290.5,343 293,335 295.6,327 298.1,320.1 300.6,315.8 303.1,316 305.6,318 308.1,321.8 310.6,326.6 313.1,332.1 315.6,336.1 318.2,339.5 320.7,340.5 323.2,341.6 325.7,341.9 328.2,342.4 330.7,342.5 333.2,343.2 335.7,343.9 338.2,343.3 340.8,343.1 343.3,342.4 345.8,342.5 348.3,342 350.8,341.7 353.3,342.1 355.8,341.9 358.3,342.3 360.8,343.5 363.4,345.2 365.9,345.2 368.4,345.6 370.9,345.2 373.4,344.6 375.9,343.8 378.4,342.4 380.9,341.3 383.4,339.1 386,337.3 388.5,334.9 391,333.4 393.5,330.9 396,329.3 398.5,327.1 401,326 403.5,324.6 406,324.5 408.6,325.9 411.1,326.9 413.6,328.5 416.1,330.4 418.6,332.5 421.1,334.8 423.6,336.6 426.1,338.5 428.7,340.6 431.2,342.3 433.7,343.1 436.2,344.8 438.7,345.9 441.2,347.1 443.7,348.3 446.2,348.9 448.7,350.1 451.3,350.7 453.8,351.9 456.3,352.6 458.8,353 461.3,353 463.8,354.1 466.3,354.3 468.8,355.3 471.3,355.9 473.9,356.7 476.4,357 478.9,357 481.4,357.5 483.9,358.4 486.4,358.7 488.9,358.5 491.4,359.3 493.9,359.2 496.5,360 499,359.8 501.5,359.8 504,360.3 506.5,360.7 509,361 511.5,361.3 514,361.5 516.5,361.5 519.1,361.8 521.6,362.2 524.1,362.9 526.6,363 529.1,363.1 531.6,363.6 534.1,364.4 536.6,364.4 539.1,364.6 541.7,366.2 544.2,366.5 546.7,366.7 549.2,367.9 551.7,368.5 554.2,369 556.7,369.4 559.2,370.3 561.7,370.4 564.3,371.6 566.8,371.3 569.3,371.7 571.8,372.2 574.3,372.3 576.8,372.7 579.3,372.6 581.8,373.3 584.3,373.4 586.9,373.9 589.4,374.1 591.9,374 594.4,374.6 596.9,374.6 599.4,374.8 601.9,374.8 604.4,374.8 606.9,374.7 609.5,375.6 612,375.3 614.5,375.2 617,375.2 619.5,375.3 622,376.2 624.5,376.1 627,375.9 629.6,375.9 632.1,376.2 634.6,376.3 637.1,376.4 639.6,376.8 642.1,376.7 644.6,376.6 647.1,377 649.6,376.7 652.2,377.9 654.7,377.3 657.2,376.8 659.7,377.1 662.2,377.1 664.7,377.5 667.2,377.9 669.7,377.8 672.2,377.4 674.8,378.3 677.3,378.2 679.8,378.4" fill="none" stroke="#5a9898" stroke-width="1.6" stroke-linejoin="round" />
<path d="M177.5,383.1 180,383.4 182.5,383.8 185.1,383.5 187.6,383.6 190.1,383.5 192.6,383.3 195.1,383.8 197.6,383.2 200.1,383.7 202.6,383.4 205.1,383.1 207.7,383.2 210.2,383.5 212.7,382.8 215.2,383.1 217.7,383.4 220.2,383.1 222.7,383.3 225.2,382.9 227.8,383.3 230.3,382.7 232.8,383.2 235.3,382.3 237.8,382.4 240.3,382 242.8,382.3 245.3,382.4 247.8,381.7 250.4,380.8 252.9,379.6 255.4,379.4 257.9,378.6 260.4,378.7 262.9,378.1 265.4,377.5 267.9,376.5 270.4,376.3 273,375.3 275.5,373.5 278,372.4 280.5,369.5 283,366 285.5,360.9 288,353.8 290.5,345 293,337.3 295.6,330.2 298.1,323.2 300.6,318.2 303.1,319.2 305.6,321 308.1,324.3 310.6,329.5 313.1,334.8 315.6,338.5 318.2,341.3 320.7,343.2 323.2,343.7 325.7,344.3 328.2,344.6 330.7,345 333.2,344.8 335.7,345.5 338.2,345.6 340.8,345.4 343.3,344.8 345.8,344.6 348.3,343.8 350.8,343.6 353.3,343.1 355.8,343.7 358.3,344.2 360.8,345.6 363.4,346.6 365.9,347.6 368.4,346.9 370.9,347.1 373.4,346.4 375.9,346.1 378.4,344.8 380.9,343.4 383.4,341.2 386,339.7 388.5,337.1 391,335.8 393.5,333.6 396,332.1 398.5,330.1 401,328.8 403.5,327.6 406,327.5 408.6,328.4 411.1,329.4 413.6,331.4 416.1,332.7 418.6,334.8 421.1,336.7 423.6,339 426.1,340.6 428.7,342.7 431.2,344.1 433.7,345.6 436.2,346.7 438.7,347.7 441.2,348.1 443.7,350.6 446.2,350.6 448.7,351.4 451.3,352 453.8,353 456.3,353.7 458.8,353.9 461.3,355 463.8,355.6 466.3,356.3 468.8,356.7 471.3,356.9 473.9,358.1 476.4,358.1 478.9,359.4 481.4,359.1 483.9,359.6 486.4,359.5 488.9,359.9 491.4,360.2 493.9,360.5 496.5,360.9 499,361.7 501.5,361.4 504,362 506.5,361.7 509,362.4 511.5,362.4 514,362.8 516.5,363 519.1,363.2 521.6,363.3 524.1,364 526.6,363.6 529.1,364.6 531.6,364.7 534.1,365.8 536.6,365.6 539.1,366 541.7,366.6 544.2,367.4 546.7,368 549.2,368.9 551.7,369.4 554.2,369.9 556.7,370.4 559.2,371.3 561.7,371.6 564.3,371.8 566.8,372.2 569.3,372.6 571.8,373.1 574.3,373 576.8,373.3 579.3,373.2 581.8,373.8 584.3,373.8 586.9,374.6 589.4,373.9 591.9,375 594.4,374.8 596.9,375.1 599.4,375.3 601.9,375.4 604.4,375.6 606.9,375.6 609.5,375.7 612,375.6 614.5,375.7 617,375.7 619.5,376.1 622,376.6 624.5,375.9 627,376.5 629.6,377.4 632.1,376.6 634.6,377 637.1,377.2 639.6,377.3 642.1,377.2 644.6,377.6 647.1,377.4 649.6,377.6 652.2,377.7 654.7,377.6 657.2,377.7 659.7,377.4 662.2,377.8 664.7,378.3 667.2,378.1 669.7,377.7 672.2,377.8 674.8,378.5 677.3,378.2 679.8,378.6" fill="none" stroke="#60c8cc" stroke-width="2.0" stroke-linejoin="round" />
<path d="M177.5,382.8 180,382.9 182.5,383.1 185.1,383.5 187.6,382.9 190.1,382.6 192.6,382.6 195.1,383 197.6,382.2 200.1,382.3 202.6,382.8 205.1,382.8 207.7,382.5 210.2,382.8 212.7,382.6 215.2,382.3 217.7,382.2 220.2,382.6 222.7,382.5 225.2,382.5 227.8,382.3 230.3,382.2 232.8,382.2 235.3,381.7 237.8,381.7 240.3,381.6 242.8,381.8 245.3,381.3 247.8,380.6 250.4,379.7 252.9,379.3 255.4,378 257.9,377.7 260.4,377.1 262.9,376.6 265.4,375.9 267.9,375.1 270.4,374.7 273,373.1 275.5,372.2 278,370 280.5,367.1 283,362.7 285.5,357 288,349.4 290.5,339.1 293,330.2 295.6,321.5 298.1,314.4 300.6,308.6 303.1,309.2 305.6,311.7 308.1,315.1 310.6,320.6 313.1,326.9 315.6,331.6 318.2,334.8 320.7,336.8 323.2,337.2 325.7,338 328.2,338.5 330.7,338.6 333.2,339.6 335.7,339.8 338.2,339.9 340.8,339.2 343.3,339.2 345.8,338.8 348.3,337.6 350.8,337.2 353.3,337 355.8,337.5 358.3,337.9 360.8,339.1 363.4,340.7 365.9,340.8 368.4,341.4 370.9,340.7 373.4,340.3 375.9,339.4 378.4,338.7 380.9,336.7 383.4,334.5 386,332.6 388.5,330.4 391,328 393.5,326.9 396,324.4 398.5,321.8 401,320.4 403.5,319.1 406,318.9 408.6,319.8 411.1,321.3 413.6,323.3 416.1,324.9 418.6,327.5 421.1,329.2 423.6,332.1 426.1,334.1 428.7,336.2 431.2,337.5 433.7,339.3 436.2,340.6 438.7,342.3 441.2,343.5 443.7,344.8 446.2,345.7 448.7,346.7 451.3,347.8 453.8,348.6 456.3,349 458.8,349.8 461.3,350.7 463.8,351.4 466.3,352.2 468.8,352.5 471.3,353.3 473.9,353.9 476.4,354.4 478.9,354.9 481.4,355.3 483.9,355.6 486.4,356.4 488.9,356.4 491.4,356.9 493.9,357 496.5,356.9 499,358 501.5,358.1 504,358.2 506.5,358.9 509,358 511.5,359 514,358.8 516.5,359.5 519.1,359.4 521.6,359.8 524.1,360.4 526.6,360.5 529.1,361.2 531.6,361.5 534.1,361.5 536.6,362.8 539.1,363.5 541.7,363.3 544.2,364.8 546.7,365.3 549.2,365.6 551.7,366.8 554.2,367.5 556.7,367.5 559.2,368.6 561.7,369.1 564.3,369.7 566.8,369.9 569.3,370.8 571.8,370.7 574.3,370.8 576.8,371.1 579.3,371.7 581.8,371.7 584.3,371.5 586.9,372.3 589.4,372.4 591.9,372.8 594.4,373.4 596.9,373 599.4,373.6 601.9,373.7 604.4,373.7 606.9,373.9 609.5,374.1 612,373.9 614.5,374.3 617,374.5 619.5,374.9 622,374.5 624.5,375.2 627,375.6 629.6,375.4 632.1,375.1 634.6,375.3 637.1,375.2 639.6,375.5 642.1,375.7 644.6,375.8 647.1,376.2 649.6,376.2 652.2,376.3 654.7,376.2 657.2,376.6 659.7,376.6 662.2,376.5 664.7,376.7 667.2,376.8 669.7,376.9 672.2,377.2 674.8,377.4 677.3,377.3 679.8,376.9" fill="none" stroke="#12a892" stroke-width="3.0" stroke-linejoin="round" />
<path d="M177.5,383.6 180,383.9 182.5,382.8 185.1,382.7 187.6,382.7 190.1,383.2 192.6,383.1 195.1,383.1 197.6,382.7 200.1,382.8 202.6,383 205.1,382.8 207.7,382.6 210.2,382.8 212.7,383.2 215.2,382.8 217.7,382.9 220.2,383.1 222.7,383.2 225.2,382.5 227.8,382.8 230.3,382.3 232.8,382.5 235.3,382 237.8,381.8 240.3,381.7 242.8,381.9 245.3,381.8 247.8,380.2 250.4,380.1 252.9,378.9 255.4,378.8 257.9,378.4 260.4,377.6 262.9,377.4 265.4,376.5 267.9,375.4 270.4,374.8 273,373.2 275.5,372.6 278,370.7 280.5,368.2 283,363.9 285.5,358.4 288,351.2 290.5,341.5 293,332.5 295.6,324.6 298.1,316.8 300.6,312.9 303.1,312.7 305.6,314.7 308.1,318.2 310.6,323.6 313.1,329.5 315.6,333.3 318.2,336.6 320.7,338.7 323.2,339.6 325.7,340 328.2,340.7 330.7,340.7 333.2,340.9 335.7,341.4 338.2,341.8 340.8,341.1 343.3,341.2 345.8,340.8 348.3,339.6 350.8,339 353.3,338.5 355.8,339.6 358.3,339.9 360.8,341 363.4,342.3 365.9,343.5 368.4,343.5 370.9,342.9 373.4,342.3 375.9,342 378.4,340.6 380.9,338.7 383.4,336.5 386,334.7 388.5,332.7 391,330.7 393.5,328.3 396,327 398.5,325 401,323.2 403.5,321.8 406,321.7 408.6,322.8 411.1,324.2 413.6,325.5 416.1,327.4 418.6,329.7 421.1,332.2 423.6,334.2 426.1,336 428.7,338.4 431.2,339.4 433.7,341.3 436.2,342.5 438.7,344.3 441.2,344.8 443.7,346.3 446.2,347.2 448.7,348 451.3,348.6 453.8,349.9 456.3,350.4 458.8,351.2 461.3,352.4 463.8,352.9 466.3,353.7 468.8,354 471.3,354.5 473.9,355 476.4,355.3 478.9,356 481.4,356.8 483.9,356.4 486.4,357.2 488.9,357.7 491.4,358.3 493.9,358 496.5,358.8 499,358.4 501.5,358.9 504,359.7 506.5,359.6 509,359.3 511.5,360.5 514,360.5 516.5,361.2 519.1,360.9 521.6,360.7 524.1,361.4 526.6,361.8 529.1,362.2 531.6,362.6 534.1,363.1 536.6,363.4 539.1,364 541.7,365.6 544.2,366.3 546.7,366 549.2,366.6 551.7,367.9 554.2,368.3 556.7,368.7 559.2,369.2 561.7,369.9 564.3,370.3 566.8,370.9 569.3,370.9 571.8,371.5 574.3,371.8 576.8,372.1 579.3,372.5 581.8,372.3 584.3,372.7 586.9,372.9 589.4,373.3 591.9,373.2 594.4,373.5 596.9,374.1 599.4,374.6 601.9,374.2 604.4,374.3 606.9,373.9 609.5,374.2 612,374.5 614.5,374.2 617,375.2 619.5,375.1 622,375.1 624.5,375.4 627,375.6 629.6,375.6 632.1,375.8 634.6,375.6 637.1,376.6 639.6,376 642.1,375.8 644.6,376.5 647.1,376.7 649.6,376.5 652.2,376.7 654.7,376.6 657.2,377 659.7,376.9 662.2,376.8 664.7,377.7 667.2,377.2 669.7,377.2 672.2,377.7 674.8,377.8 677.3,377.3 679.8,377.8" fill="none" stroke="#62a2a2" stroke-width="1.8" stroke-linejoin="round" />
<path d="M177.5,381.1 180,381.3 182.5,381.2 185.1,381.7 187.6,381.2 190.1,381.5 192.6,381.4 195.1,381.1 197.6,381.5 200.1,381.7 202.6,381.4 205.1,381.6 207.7,381.7 210.2,381.2 212.7,381 215.2,381.6 217.7,381 220.2,380.8 222.7,380.8 225.2,381.1 227.8,380.7 230.3,380.6 232.8,380.2 235.3,380.5 237.8,379.8 240.3,379.3 242.8,379.9 245.3,378.7 247.8,378.5 250.4,377.3 252.9,376.5 255.4,375 257.9,374.5 260.4,373.5 262.9,373.3 265.4,372.2 267.9,371.1 270.4,370.6 273,368.9 275.5,367.1 278,364.8 280.5,361.2 283,354.9 285.5,347.9 288,337.3 290.5,324.1 293,311.5 295.6,300.9 298.1,291 300.6,284 303.1,284.5 305.6,287.3 308.1,292.2 310.6,299.1 313.1,307 315.6,313.9 318.2,318.2 320.7,319.9 323.2,321.4 325.7,321.9 328.2,321.7 330.7,322.3 333.2,323.2 335.7,323.7 338.2,323.2 340.8,323.1 343.3,323.3 345.8,321.8 348.3,321.1 350.8,319.9 353.3,319.6 355.8,319.7 358.3,321 360.8,322.4 363.4,323.7 365.9,324.7 368.4,325.3 370.9,325 373.4,324.6 375.9,323.2 378.4,321.7 380.9,319.6 383.4,316.4 386,313.9 388.5,311.3 391,308.7 393.5,305.5 396,302.7 398.5,300.2 401,297.9 403.5,296 406,296.2 408.6,297.7 411.1,298.6 413.6,300.9 416.1,304.1 418.6,307.2 421.1,309.9 423.6,313.7 426.1,316.4 428.7,318.8 431.2,320.8 433.7,323.6 436.2,325.5 438.7,327 441.2,328.9 443.7,329.9 446.2,331.9 448.7,332.9 451.3,334.1 453.8,335.2 456.3,336.6 458.8,336.8 461.3,338.1 463.8,338.9 466.3,339.8 468.8,341 471.3,341.8 473.9,342.6 476.4,342.9 478.9,344 481.4,345 483.9,345 486.4,345.6 488.9,345.6 491.4,346.4 493.9,346.5 496.5,347 499,347.4 501.5,348 504,348.2 506.5,348.5 509,348.7 511.5,349.1 514,349.9 516.5,350.1 519.1,350.1 521.6,350.5 524.1,351.2 526.6,351.7 529.1,351.6 531.6,352.4 534.1,353.8 536.6,353.6 539.1,354.9 541.7,356 544.2,357.2 546.7,358.2 549.2,359 551.7,359.9 554.2,360.9 556.7,362 559.2,362 561.7,362.7 564.3,363.6 566.8,364.3 569.3,364.9 571.8,365.4 574.3,365.7 576.8,366.3 579.3,366.3 581.8,366.8 584.3,367.2 586.9,367.3 589.4,367.7 591.9,367.7 594.4,368.3 596.9,368.8 599.4,368.7 601.9,368.6 604.4,368.7 606.9,369.2 609.5,370 612,370.1 614.5,370.5 617,370.2 619.5,370.5 622,370.9 624.5,370.4 627,370.8 629.6,371.3 632.1,371.1 634.6,372.1 637.1,371.6 639.6,371.8 642.1,371.4 644.6,371.8 647.1,372.1 649.6,372.5 652.2,372.7 654.7,372.6 657.2,372.9 659.7,373.2 662.2,372.8 664.7,373.4 667.2,373.8 669.7,373.4 672.2,373.7 674.8,373.6 677.3,373.6 679.8,374.2" fill="none" stroke="#4aa2cc" stroke-width="2.0" stroke-linejoin="round" />
<path d="M177.5,384.2 180,383.8 182.5,383.9 185.1,383.9 187.6,383.7 190.1,383.5 192.6,383.8 195.1,384 197.6,383.6 200.1,383.8 202.6,383.4 205.1,383.7 207.7,383.4 210.2,383.9 212.7,383.1 215.2,383.7 217.7,383.6 220.2,383.2 222.7,382.6 225.2,383.2 227.8,383 230.3,383.4 232.8,382 235.3,381.7 237.8,380.8 240.3,379.9 242.8,380.1 245.3,379 247.8,377.8 250.4,376.8 252.9,376.1 255.4,375.2 257.9,374.1 260.4,373.4 262.9,372.8 265.4,372.3 267.9,372.1 270.4,371.8 273,371.3 275.5,370.6 278,368.3 280.5,365.6 283,358.9 285.5,349.8 288,337.6 290.5,321.9 293,308.1 295.6,293 298.1,281.9 300.6,273 303.1,270 305.6,272.1 308.1,277.1 310.6,286.3 313.1,296.3 315.6,303.9 318.2,308.8 320.7,308.9 323.2,308.4 325.7,307.4 328.2,305.2 330.7,302.7 333.2,303.1 335.7,303.3 338.2,303.9 340.8,304.5 343.3,304.3 345.8,301.8 348.3,298 350.8,292.9 353.3,287 355.8,284.4 358.3,285 360.8,287 363.4,290.3 365.9,293.8 368.4,295.4 370.9,295.7 373.4,295.3 375.9,293.8 378.4,292.4 380.9,290.4 383.4,288.2 386,286.1 388.5,283.9 391,280.9 393.5,278.5 396,275.5 398.5,272.3 401,269.7 403.5,267.5 406,265.9 408.6,266.9 411.1,268.9 413.6,272.6 416.1,278.5 418.6,283.7 421.1,288.7 423.6,293 426.1,297.3 428.7,300.7 431.2,303.5 433.7,305.9 436.2,308.5 438.7,310.5 441.2,313.2 443.7,315.4 446.2,316.9 448.7,317.9 451.3,320.6 453.8,321.5 456.3,323 458.8,323.6 461.3,325 463.8,326.5 466.3,327.1 468.8,328.7 471.3,328.9 473.9,330.4 476.4,331.2 478.9,332.3 481.4,332.6 483.9,333.3 486.4,334.3 488.9,334.5 491.4,335.1 493.9,335.3 496.5,335.8 499,336.1 501.5,336.4 504,336.9 506.5,336.7 509,337.8 511.5,337.8 514,338.4 516.5,338.1 519.1,338.7 521.6,338.8 524.1,339.6 526.6,340.1 529.1,341.4 531.6,342.8 534.1,343.9 536.6,345.3 539.1,347.2 541.7,348.9 544.2,350.2 546.7,350.9 549.2,352.6 551.7,353.6 554.2,355.5 556.7,356.3 559.2,357.6 561.7,358.7 564.3,359.8 566.8,360.6 569.3,361.1 571.8,361.7 574.3,362.6 576.8,363.1 579.3,363.9 581.8,364.8 584.3,365.4 586.9,365.5 589.4,365.9 591.9,366 594.4,366.9 596.9,367.6 599.4,367.8 601.9,367.9 604.4,368.6 606.9,368.9 609.5,370 612,369.9 614.5,369.2 617,370.3 619.5,370.6 622,371 624.5,371.1 627,371.7 629.6,372.1 632.1,372.3 634.6,372.6 637.1,372.4 639.6,373 642.1,373.3 644.6,373.5 647.1,373.5 649.6,373.9 652.2,374.2 654.7,374.8 657.2,375.1 659.7,374.8 662.2,375.1 664.7,374.9 667.2,375.7 669.7,375.6 672.2,376 674.8,376.2 677.3,376.3 679.8,376.5" fill="none" stroke="#3a6a92" stroke-width="2.4" stroke-linejoin="round" />
<path d="M177.5,383.9 180,383.8 182.5,383.8 185.1,383.8 187.6,383.7 190.1,383.8 192.6,383.6 195.1,383.7 197.6,383.5 200.1,383.8 202.6,383.7 205.1,383.8 207.7,383.9 210.2,384.1 212.7,383.4 215.2,383.6 217.7,383.5 220.2,383.4 222.7,383 225.2,382.9 227.8,382.8 230.3,382.4 232.8,381.2 235.3,381.1 237.8,380.3 240.3,380.1 242.8,379.1 245.3,377.2 247.8,376.1 250.4,375.7 252.9,374.7 255.4,373.1 257.9,372.6 260.4,371.5 262.9,371 265.4,370.1 267.9,370.5 270.4,370 273,369.6 275.5,368.6 278,366.7 280.5,363.2 283,356.3 285.5,345.5 288,331.3 290.5,313.9 293,297 295.6,280.5 298.1,266.7 300.6,256.6 303.1,252 305.6,254.6 308.1,260.1 310.6,270.5 313.1,282.7 315.6,291.9 318.2,297.1 320.7,296.8 323.2,295.8 325.7,294.2 328.2,291.4 330.7,289.5 333.2,288.7 335.7,289.4 338.2,289.5 340.8,290.7 343.3,290.4 345.8,286.7 348.3,282.4 350.8,275.9 353.3,268.1 355.8,264.5 358.3,266 360.8,268.2 363.4,272.2 365.9,275.6 368.4,277.9 370.9,278.5 373.4,278 375.9,277.3 378.4,274.6 380.9,272.8 383.4,270.8 386,268.2 388.5,266.3 391,262.9 393.5,260.1 396,256.1 398.5,253 401,249.7 403.5,246.3 406,245.5 408.6,246.2 411.1,248.3 413.6,252.4 416.1,259.8 418.6,266.6 421.1,272.4 423.6,277.5 426.1,282.7 428.7,286.3 431.2,289.6 433.7,292.8 436.2,295 438.7,297.6 441.2,300.4 443.7,303.8 446.2,305.1 448.7,307 451.3,308.8 453.8,310.3 456.3,311.6 458.8,312.9 461.3,314.7 463.8,315.9 466.3,317.4 468.8,318.8 471.3,319.8 473.9,321.2 476.4,322.6 478.9,323.2 481.4,324.2 483.9,324.2 486.4,325.1 488.9,325.3 491.4,326.6 493.9,326.1 496.5,326.8 499,327.6 501.5,327.2 504,328.3 506.5,328.7 509,328.8 511.5,329 514,329.2 516.5,329.2 519.1,330.3 521.6,331 524.1,330.9 526.6,332.4 529.1,334 531.6,335.4 534.1,336.6 536.6,338.9 539.1,340.6 541.7,342.1 544.2,343.8 546.7,345 549.2,346.8 551.7,348.7 554.2,349.3 556.7,351.6 559.2,353.3 561.7,354 564.3,355.3 566.8,356.2 569.3,357.3 571.8,358.2 574.3,359 576.8,359.6 579.3,361.2 581.8,361.3 584.3,362 586.9,362 589.4,363.4 591.9,363.4 594.4,364 596.9,364.9 599.4,365 601.9,365.4 604.4,365.7 606.9,366.2 609.5,366.8 612,367.1 614.5,367.8 617,368.2 619.5,368.5 622,369 624.5,369.4 627,369.1 629.6,370.4 632.1,370.2 634.6,370.6 637.1,371.4 639.6,371.1 642.1,372 644.6,372 647.1,372.9 649.6,373.1 652.2,373.2 654.7,373.2 657.2,373.1 659.7,374.1 662.2,373.8 664.7,374.4 667.2,374.3 669.7,374.6 672.2,374.9 674.8,375.1 677.3,375.9 679.8,375.4" fill="none" stroke="#8a42c2" stroke-width="2.8" stroke-linejoin="round" />
<path d="M177.5,383.3 180,383.5 182.5,384 185.1,383.8 187.6,383.8 190.1,383.1 192.6,383.9 195.1,383.3 197.6,383.6 200.1,383.3 202.6,383.5 205.1,383.4 207.7,383.3 210.2,383.4 212.7,383.2 215.2,383.2 217.7,383 220.2,382.7 222.7,383.2 225.2,383.1 227.8,382.8 230.3,383 232.8,381.9 235.3,381.3 237.8,380.6 240.3,380 242.8,378.9 245.3,377.8 247.8,377.2 250.4,376.3 252.9,375.1 255.4,373.6 257.9,372.7 260.4,371.8 262.9,371.5 265.4,370.9 267.9,370.1 270.4,370.3 273,369.5 275.5,369.3 278,367.1 280.5,363.4 283,356.1 285.5,346.4 288,332.5 290.5,315.3 293,298.6 295.6,282.4 298.1,269.2 300.6,259.6 303.1,255 305.6,257.7 308.1,263.6 310.6,273.3 313.1,284.8 315.6,294.6 318.2,299 320.7,299.2 323.2,298.6 325.7,297.3 328.2,294.4 330.7,292.5 333.2,291.6 335.7,292.2 338.2,292.2 340.8,293.7 343.3,293.2 345.8,289.7 348.3,285.4 350.8,279.7 353.3,272 355.8,268.6 358.3,269.2 360.8,271.5 363.4,275.3 365.9,279.7 368.4,281.6 370.9,282.3 373.4,281.4 375.9,280.6 378.4,278.4 380.9,275.9 383.4,274.4 386,272.2 388.5,269.1 391,266.4 393.5,263.6 396,259.7 398.5,256.7 401,253.3 403.5,250.6 406,248.8 408.6,250.3 411.1,252.5 413.6,256.8 416.1,263.1 418.6,269.9 421.1,275.8 423.6,281.1 426.1,285.4 428.7,289.3 431.2,292.4 433.7,295.1 436.2,297.1 438.7,300.3 441.2,302.6 443.7,305.3 446.2,307.1 448.7,309.1 451.3,310.8 453.8,312.2 456.3,313.2 458.8,315.5 461.3,316.4 463.8,317.7 466.3,319.5 468.8,320.4 471.3,321.7 473.9,322.5 476.4,323.7 478.9,324.8 481.4,325.4 483.9,326.7 486.4,326.2 488.9,327.1 491.4,328.1 493.9,328.4 496.5,328.6 499,329.1 501.5,329.3 504,329.9 506.5,329.9 509,330.5 511.5,330.8 514,331.5 516.5,331.6 519.1,331.8 521.6,332.4 524.1,332.7 526.6,333.8 529.1,335.6 531.6,336.5 534.1,338.7 536.6,339.5 539.1,341.4 541.7,343.2 544.2,344.9 546.7,346.6 549.2,347.5 551.7,348.9 554.2,351.1 556.7,351.9 559.2,353.4 561.7,354.7 564.3,356 566.8,357.2 569.3,358 571.8,358.8 574.3,359.4 576.8,360.8 579.3,361.2 581.8,362.2 584.3,362.5 586.9,363.2 589.4,363.9 591.9,364.1 594.4,364.6 596.9,365.5 599.4,365.8 601.9,365.9 604.4,366.6 606.9,366.8 609.5,368 612,367.7 614.5,368.1 617,368.3 619.5,368.2 622,369.2 624.5,369.5 627,369.5 629.6,370.3 632.1,370.2 634.6,370.8 637.1,371.8 639.6,371.6 642.1,371.6 644.6,372.3 647.1,372.5 649.6,372.9 652.2,373.1 654.7,373.1 657.2,373.6 659.7,373.9 662.2,373.6 664.7,374.8 667.2,374.8 669.7,375 672.2,375.2 674.8,375.7 677.3,374.8 679.8,375.7" fill="none" stroke="#b282ba" stroke-width="2.0" stroke-linejoin="round" />
<path d="M177.5,700.9 180,700.8 182.5,700.7 185.1,700.3 187.6,700.8 190.1,700.8 192.6,700.6 195.1,700.1 197.6,700.7 200.1,700.6 202.6,700.4 205.1,700.4 207.7,700.3 210.2,700.5 212.7,700.6 215.2,700.6 217.7,700.1 220.2,700.2 222.7,700 225.2,700 227.8,699.6 230.3,699.7 232.8,699.6 235.3,699.4 237.8,699.2 240.3,698.9 242.8,698.6 245.3,697.7 247.8,697.6 250.4,697.1 252.9,696.2 255.4,695.4 257.9,695.2 260.4,695 262.9,694 265.4,693.3 267.9,693.3 270.4,692.4 273,691.8 275.5,690.6 278,689.3 280.5,686.7 283,681.9 285.5,676.8 288,669.9 290.5,659.1 293,649.7 295.6,641.6 298.1,634.1 300.6,629.3 303.1,628.2 305.6,630.2 308.1,633.8 310.6,638.8 313.1,644.9 315.6,650 318.2,653.1 320.7,654.7 323.2,654.4 325.7,654.9 328.2,654.1 330.7,653.7 333.2,654.2 335.7,654.2 338.2,654.7 340.8,654.5 343.3,653.9 345.8,653.3 348.3,651.6 350.8,650.3 353.3,648 355.8,648 358.3,648.6 360.8,649.8 363.4,651 365.9,652.8 368.4,653.1 370.9,652.8 373.4,652.2 375.9,651.5 378.4,650.5 380.9,648.6 383.4,647.1 386,645.6 388.5,643.2 391,642 393.5,639.9 396,637.6 398.5,635.8 401,634 403.5,632.8 406,632.6 408.6,633.2 411.1,634.5 413.6,636.6 416.1,639.5 418.6,642.1 421.1,644 423.6,646.9 426.1,648.9 428.7,651.5 431.2,653.3 433.7,654.9 436.2,655.7 438.7,657.8 441.2,659 443.7,660 446.2,661.6 448.7,662.4 451.3,663.3 453.8,664 456.3,664.5 458.8,665.6 461.3,666 463.8,667.1 466.3,667.6 468.8,668.4 471.3,669.2 473.9,670 476.4,670.2 478.9,670.7 481.4,670.4 483.9,671 486.4,671.4 488.9,672.2 491.4,671.9 493.9,672.3 496.5,672.8 499,672.7 501.5,673.3 504,673.5 506.5,673.8 509,674.3 511.5,674 514,674.9 516.5,674.8 519.1,675.4 521.6,675.3 524.1,675.9 526.6,675.8 529.1,676.7 531.6,677.3 534.1,678.1 536.6,678.8 539.1,679.6 541.7,679.8 544.2,680.9 546.7,682 549.2,682.1 551.7,683.1 554.2,683.7 556.7,684.3 559.2,685.6 561.7,686.1 564.3,686.4 566.8,686.5 569.3,687.1 571.8,688.2 574.3,688.5 576.8,688.1 579.3,688.7 581.8,688.8 584.3,689 586.9,690.1 589.4,689.6 591.9,690.1 594.4,690.4 596.9,690 599.4,690.8 601.9,691.1 604.4,691.6 606.9,690.9 609.5,691.3 612,692 614.5,691.8 617,692 619.5,692.7 622,692.3 624.5,692.8 627,692.4 629.6,693.1 632.1,693.1 634.6,693.8 637.1,693.6 639.6,693.8 642.1,693.2 644.6,693.9 647.1,693.9 649.6,694.3 652.2,694.4 654.7,694.3 657.2,693.8 659.7,694.7 662.2,694.2 664.7,694.3 667.2,694.8 669.7,694.8 672.2,694.7 674.8,695.4 677.3,695.3 679.8,695.5" fill="none" stroke="#2e2e2e" stroke-width="1.8399999999999999" stroke-linejoin="round" />
<path d="M177.5,702.4 180,702 182.5,702 185.1,701.9 187.6,702.4 190.1,701.7 192.6,702 195.1,702.3 197.6,702.3 200.1,702.3 202.6,702.1 205.1,701.6 207.7,701.7 210.2,702.1 212.7,702 215.2,701.3 217.7,701.6 220.2,702 222.7,701.8 225.2,701.8 227.8,701.6 230.3,701.4 232.8,701.6 235.3,701.2 237.8,701 240.3,700.8 242.8,701 245.3,700.6 247.8,699.8 250.4,700 252.9,699.5 255.4,698.9 257.9,698.8 260.4,698.5 262.9,697.6 265.4,697.5 267.9,697.8 270.4,697.2 273,697.1 275.5,696.5 278,695.1 280.5,693.1 283,690.9 285.5,687.2 288,683.3 290.5,677 293,671.4 295.6,666.2 298.1,661.7 300.6,658.6 303.1,658.5 305.6,659.9 308.1,661.8 310.6,664.9 313.1,668.7 315.6,672 318.2,674 320.7,673.8 323.2,674.2 325.7,674.5 328.2,674 330.7,673.8 333.2,674.2 335.7,674.5 338.2,674.1 340.8,674.2 343.3,673.9 345.8,673.4 348.3,672.8 350.8,672 353.3,671 355.8,670.8 358.3,671.1 360.8,671.7 363.4,672.4 365.9,673.3 368.4,673.8 370.9,673.7 373.4,673.8 375.9,673.2 378.4,672.6 380.9,671.3 383.4,670.5 386,669.5 388.5,668.1 391,667.4 393.5,665.8 396,664.5 398.5,663.1 401,662.6 403.5,661.6 406,661.8 408.6,661.4 411.1,662.7 413.6,663.6 416.1,665.7 418.6,667 421.1,668.7 423.6,670.3 426.1,671.8 428.7,672.9 431.2,673.9 433.7,675.1 436.2,675.1 438.7,676.4 441.2,677.1 443.7,677.9 446.2,678.6 448.7,679.1 451.3,679.5 453.8,680.2 456.3,680.3 458.8,681.1 461.3,681.2 463.8,682.2 466.3,682.3 468.8,682.6 471.3,682.8 473.9,683.2 476.4,684.1 478.9,684.3 481.4,684 483.9,684.7 486.4,685.2 488.9,684.7 491.4,685 493.9,685.7 496.5,685.7 499,685.4 501.5,686 504,686.1 506.5,686.3 509,685.9 511.5,686.9 514,686.5 516.5,686.7 519.1,686.8 521.6,686.9 524.1,687.2 526.6,687.3 529.1,687.7 531.6,687.8 534.1,689.1 536.6,689 539.1,689.4 541.7,690.3 544.2,690 546.7,690.7 549.2,691.7 551.7,691.7 554.2,691.9 556.7,692.5 559.2,693.1 561.7,693.1 564.3,693.5 566.8,694.1 569.3,694.2 571.8,694 574.3,694.3 576.8,695 579.3,695.1 581.8,694.8 584.3,695.2 586.9,695.5 589.4,695.7 591.9,695.7 594.4,695.7 596.9,696.7 599.4,695.9 601.9,696.5 604.4,696.7 606.9,696.7 609.5,696.9 612,697 614.5,696.8 617,697 619.5,696.8 622,697.5 624.5,697 627,697.6 629.6,697.4 632.1,697.6 634.6,697.4 637.1,698 639.6,697.8 642.1,697.5 644.6,697.6 647.1,698.1 649.6,697.9 652.2,697.9 654.7,698.1 657.2,698 659.7,698.1 662.2,699 664.7,698.3 667.2,697.6 669.7,698.7 672.2,698.7 674.8,698.7 677.3,699 679.8,698.9" fill="none" stroke="#a83a3a" stroke-width="1.2000000000000002" stroke-linejoin="round" />
<path d="M177.5,700.1 180,700.4 182.5,700 185.1,699.9 187.6,700.7 190.1,700.5 192.6,700.1 195.1,700.2 197.6,700.1 200.1,700.3 202.6,699.8 205.1,699.8 207.7,700 210.2,699.6 212.7,699.8 215.2,700.1 217.7,699.7 220.2,700 222.7,699.5 225.2,699.6 227.8,699.6 230.3,699.6 232.8,698.8 235.3,698.9 237.8,698.7 240.3,698.3 242.8,697.7 245.3,697.3 247.8,696.7 250.4,696.1 252.9,694.8 255.4,694.7 257.9,694 260.4,693.5 262.9,692.7 265.4,692.1 267.9,691.9 270.4,691.5 273,690.8 275.5,689.2 278,687.4 280.5,684.6 283,680.2 285.5,674 288,665.4 290.5,654.5 293,644 295.6,634.5 298.1,626.4 300.6,620.7 303.1,619.7 305.6,621.7 308.1,626.1 310.6,631.8 313.1,638.6 315.6,644.3 318.2,647.7 320.7,648.1 323.2,649.1 325.7,648.5 328.2,648.7 330.7,648 333.2,648.1 335.7,648.3 338.2,648.4 340.8,648.4 343.3,648.5 345.8,647.3 348.3,645.3 350.8,643.5 353.3,641.7 355.8,641.1 358.3,641.8 360.8,642.6 363.4,644.7 365.9,646.2 368.4,646.9 370.9,646.8 373.4,646.1 375.9,645.5 378.4,644 380.9,642.6 383.4,640.7 386,638.8 388.5,636.9 391,634.4 393.5,632.5 396,630.2 398.5,628 401,625.9 403.5,624.3 406,624.1 408.6,625 411.1,626.6 413.6,629 416.1,632 418.6,635.2 421.1,638 423.6,640.5 426.1,643.5 428.7,645.6 431.2,647.1 433.7,649.2 436.2,650.5 438.7,652.6 441.2,653.9 443.7,655.4 446.2,656.5 448.7,657.2 451.3,658.9 453.8,659.2 456.3,660.1 458.8,661.2 461.3,662.2 463.8,662.6 466.3,663.6 468.8,664.1 471.3,664.9 473.9,665.2 476.4,666.3 478.9,667 481.4,667.1 483.9,667.5 486.4,667.6 488.9,668.1 491.4,668.6 493.9,668.6 496.5,669.6 499,669.7 501.5,670.1 504,670.2 506.5,670.7 509,670.5 511.5,671 514,671.6 516.5,671.7 519.1,671.6 521.6,671.8 524.1,671.8 526.6,672 529.1,673.3 531.6,674.4 534.1,675.4 536.6,675.6 539.1,676.8 541.7,677.6 544.2,678.5 546.7,679.2 549.2,679.7 551.7,680.7 554.2,681.6 556.7,682.7 559.2,683.6 561.7,684 564.3,684.5 566.8,684.5 569.3,685.4 571.8,685.6 574.3,686.4 576.8,687 579.3,687.3 581.8,687.6 584.3,687.1 586.9,688.2 589.4,688.1 591.9,688.8 594.4,688.6 596.9,689 599.4,689.4 601.9,689.5 604.4,689.9 606.9,689.8 609.5,690.3 612,690.7 614.5,690.9 617,690.7 619.5,690.5 622,691.1 624.5,691.4 627,691.4 629.6,691.3 632.1,691.8 634.6,692.1 637.1,691.9 639.6,692.3 642.1,692.1 644.6,692.6 647.1,693.2 649.6,693.3 652.2,692.7 654.7,692.8 657.2,693.4 659.7,693.6 662.2,693.2 664.7,694 667.2,694.1 669.7,693.8 672.2,694.2 674.8,694.2 677.3,694.3 679.8,694.3" fill="none" stroke="#b06a6a" stroke-width="1.2000000000000002" stroke-linejoin="round" />
<path d="M177.5,699.8 180,699.7 182.5,700 185.1,700.1 187.6,700.3 190.1,699.5 192.6,699.8 195.1,699.7 197.6,699.9 200.1,699.4 202.6,699.4 205.1,699.7 207.7,699.8 210.2,699.7 212.7,699.8 215.2,699.5 217.7,699.6 220.2,699.2 222.7,699.4 225.2,699.3 227.8,698.8 230.3,699.2 232.8,699.2 235.3,698.3 237.8,698.6 240.3,697.7 242.8,697.1 245.3,696.9 247.8,696.3 250.4,696.1 252.9,694.6 255.4,693.7 257.9,693.4 260.4,691.9 262.9,692.3 265.4,691.9 267.9,691.4 270.4,690.3 273,689.4 275.5,688.2 278,686.4 280.5,683.5 283,678 285.5,672 288,662.8 290.5,650.4 293,639.7 295.6,629.2 298.1,620.6 300.6,614.6 303.1,613.5 305.6,615.5 308.1,619.9 310.6,626.1 313.1,633.5 315.6,639.9 318.2,643.1 320.7,644.7 323.2,644.6 325.7,644.6 328.2,643.7 330.7,643.9 333.2,644 335.7,644.3 338.2,644.3 340.8,644.2 343.3,644.1 345.8,642.9 348.3,640.8 350.8,638.4 353.3,637 355.8,636 358.3,636.7 360.8,638.1 363.4,639.8 365.9,642.1 368.4,642.8 370.9,642.2 373.4,642.7 375.9,641.1 378.4,639 380.9,637.8 383.4,635.7 386,634 388.5,631.5 391,629.3 393.5,626.5 396,625 398.5,623.1 401,620.1 403.5,618.1 406,618.2 408.6,619.4 411.1,621 413.6,622.7 416.1,626.2 418.6,629.6 421.1,633.4 423.6,635.9 426.1,638.4 428.7,641.1 431.2,643.4 433.7,644.7 436.2,646.4 438.7,648.5 441.2,650.2 443.7,651.1 446.2,652.9 448.7,653.9 451.3,654.5 453.8,655.9 456.3,657 458.8,658.3 461.3,658.6 463.8,659.5 466.3,660.5 468.8,660.9 471.3,662.3 473.9,663.1 476.4,663.5 478.9,663.9 481.4,664.8 483.9,665.2 486.4,665.5 488.9,665.7 491.4,666.2 493.9,666.1 496.5,667.2 499,666.9 501.5,667.4 504,667.4 506.5,667.3 509,668.1 511.5,668.4 514,668.5 516.5,669.4 519.1,669.1 521.6,669.4 524.1,670 526.6,670.3 529.1,671.1 531.6,672.1 534.1,673 536.6,673.3 539.1,674 541.7,675.7 544.2,676.3 546.7,677.6 549.2,678.3 551.7,679.2 554.2,680.2 556.7,680.8 559.2,681.3 561.7,682.2 564.3,683.1 566.8,683.1 569.3,684 571.8,684 574.3,685.3 576.8,684.6 579.3,685.8 581.8,686.4 584.3,686.8 586.9,686.5 589.4,686.9 591.9,687.2 594.4,687.5 596.9,688.2 599.4,688.2 601.9,689 604.4,688.9 606.9,688.7 609.5,689.6 612,688.7 614.5,689.2 617,690 619.5,689.7 622,690 624.5,690.4 627,690.4 629.6,690.8 632.1,690.9 634.6,691 637.1,691.2 639.6,691.4 642.1,691.6 644.6,691.6 647.1,691.8 649.6,692.4 652.2,692.5 654.7,692 657.2,692.1 659.7,692.5 662.2,692.9 664.7,692.7 667.2,692.9 669.7,693.6 672.2,693.3 674.8,693.8 677.3,693.6 679.8,693.6" fill="none" stroke="#d06a6a" stroke-width="1.4400000000000002" stroke-linejoin="round" />
<path d="M177.5,699.7 180,700.1 182.5,700 185.1,699.8 187.6,699.9 190.1,699.9 192.6,700.2 195.1,700.3 197.6,699.9 200.1,700.1 202.6,699.8 205.1,699.9 207.7,700.1 210.2,699.8 212.7,699.7 215.2,699.8 217.7,700 220.2,699.6 222.7,699.5 225.2,699.3 227.8,699.3 230.3,699.6 232.8,699.2 235.3,698.6 237.8,698.9 240.3,697.9 242.8,697.9 245.3,697.4 247.8,696.3 250.4,696 252.9,695.3 255.4,694.3 257.9,693.6 260.4,693.2 262.9,692.5 265.4,691.6 267.9,691.4 270.4,690.9 273,690.2 275.5,688.9 278,687.1 280.5,684.6 283,679.5 285.5,673.4 288,664.1 290.5,653.5 293,642.5 295.6,633.2 298.1,624.6 300.6,618.9 303.1,617.8 305.6,619.6 308.1,623.9 310.6,629.9 313.1,637 315.6,642.5 318.2,646.2 320.7,647.7 323.2,647.2 325.7,647.4 328.2,646.2 330.7,646 333.2,646.3 335.7,647.5 338.2,646.5 340.8,647 343.3,647.1 345.8,645.4 348.3,643.5 350.8,642 353.3,639.1 355.8,638.8 358.3,639.7 360.8,640.8 363.4,643 365.9,644.4 368.4,644.9 370.9,644.7 373.4,644.1 375.9,643.7 378.4,642 380.9,640.8 383.4,638.5 386,637 388.5,634.8 391,632.3 393.5,630.5 396,628 398.5,626.3 401,624 403.5,622 406,621.3 408.6,622.9 411.1,623.9 413.6,626.3 416.1,628.9 418.6,633 421.1,636 423.6,638.7 426.1,641.8 428.7,643.8 431.2,645.8 433.7,647.2 436.2,649.1 438.7,651.2 441.2,652.7 443.7,654 446.2,655.6 448.7,656.7 451.3,656.6 453.8,658.3 456.3,658.6 458.8,660 461.3,660.7 463.8,661.9 466.3,661.9 468.8,663.2 471.3,663.4 473.9,664.7 476.4,664.8 478.9,665.3 481.4,666.5 483.9,666.5 486.4,667.2 488.9,667.6 491.4,667.6 493.9,667.8 496.5,667.9 499,668.7 501.5,668.6 504,669 506.5,669.4 509,669.9 511.5,669.9 514,669.3 516.5,670.8 519.1,670.8 521.6,671.3 524.1,671 526.6,671.4 529.1,672.2 531.6,672.7 534.1,674 536.6,674.4 539.1,676 541.7,676.3 544.2,677.2 546.7,678.6 549.2,679 551.7,680.4 554.2,681.4 556.7,682.2 559.2,682.9 561.7,683.6 564.3,684 566.8,684 569.3,685 571.8,685.6 574.3,685.7 576.8,686.3 579.3,686.6 581.8,686.9 584.3,687.2 586.9,687.8 589.4,688 591.9,688 594.4,688.6 596.9,688.8 599.4,688.9 601.9,689.1 604.4,689.5 606.9,689.5 609.5,689.8 612,690.4 614.5,690.1 617,690.7 619.5,689.8 622,690.8 624.5,691.1 627,691 629.6,691 632.1,691.2 634.6,691.7 637.1,691.7 639.6,691.9 642.1,692.3 644.6,692.9 647.1,692.6 649.6,693.4 652.2,693.1 654.7,692.7 657.2,693.1 659.7,693.3 662.2,693.7 664.7,693.8 667.2,693.9 669.7,694.2 672.2,694.5 674.8,693.7 677.3,693.7 679.8,694.4" fill="none" stroke="#eca0a8" stroke-width="1.4400000000000002" stroke-linejoin="round" />
<path d="M177.5,700.4 180,700.4 182.5,700.2 185.1,700 187.6,700.3 190.1,700.2 192.6,700.1 195.1,700 197.6,700.4 200.1,700 202.6,700.1 205.1,700.3 207.7,700.3 210.2,700.1 212.7,700.3 215.2,700.4 217.7,699.9 220.2,699.7 222.7,699.9 225.2,699.5 227.8,699.8 230.3,699.8 232.8,699.7 235.3,699.2 237.8,698.3 240.3,698.4 242.8,698.5 245.3,697.5 247.8,697.1 250.4,696.4 252.9,695.7 255.4,695 257.9,694.1 260.4,693.9 262.9,693.3 265.4,692.7 267.9,691.9 270.4,691.4 273,690.3 275.5,689.4 278,688.4 280.5,685 283,680.2 285.5,674.5 288,666.6 290.5,655.4 293,645.4 295.6,635.4 298.1,627.3 300.6,621.6 303.1,621 305.6,622.7 308.1,626.6 310.6,632.3 313.1,639.4 315.6,644.8 318.2,648.4 320.7,649.3 323.2,649.1 325.7,649.1 328.2,648.7 330.7,648.8 333.2,648.8 335.7,649 338.2,648.9 340.8,649.6 343.3,648.7 345.8,648 348.3,646.4 350.8,643.7 353.3,641.9 355.8,641 358.3,641.7 360.8,642.9 363.4,645.3 365.9,646.9 368.4,647.3 370.9,647.1 373.4,646.6 375.9,645.5 378.4,644.4 380.9,642.6 383.4,641.2 386,639.3 388.5,637.6 391,635.3 393.5,633.5 396,631.1 398.5,628.4 401,626.7 403.5,625.2 406,624.8 408.6,625.7 411.1,627.2 413.6,628.9 416.1,632.5 418.6,635.7 421.1,638.7 423.6,641.3 426.1,643.1 428.7,645.6 431.2,647.4 433.7,650 436.2,651.6 438.7,652.6 441.2,654.6 443.7,655.6 446.2,657.2 448.7,657.6 451.3,658.9 453.8,659.9 456.3,659.9 458.8,661.4 461.3,662.5 463.8,663.3 466.3,663.5 468.8,664.8 471.3,664.9 473.9,666.3 476.4,666.5 478.9,667.4 481.4,667.3 483.9,667.7 486.4,668.2 488.9,668.8 491.4,669.2 493.9,669.4 496.5,670 499,670.2 501.5,669.9 504,670.6 506.5,670.7 509,670.6 511.5,671.2 514,671.5 516.5,671.5 519.1,671.9 521.6,672.2 524.1,672.6 526.6,672.7 529.1,673.3 531.6,675.1 534.1,674.6 536.6,675.8 539.1,676.9 541.7,677.5 544.2,679 546.7,679.3 549.2,679.9 551.7,681.1 554.2,682.5 556.7,682.6 559.2,683.5 561.7,683.7 564.3,684.4 566.8,684.7 569.3,685.6 571.8,685.9 574.3,686.4 576.8,687.1 579.3,687.2 581.8,686.9 584.3,688.1 586.9,688.1 589.4,688.5 591.9,688.6 594.4,689.3 596.9,688.9 599.4,689.6 601.9,689.8 604.4,690.1 606.9,690.1 609.5,690.6 612,690.3 614.5,690.9 617,691 619.5,690.8 622,690.9 624.5,691.5 627,691.9 629.6,691.9 632.1,691.9 634.6,692.2 637.1,692.3 639.6,692.3 642.1,693.2 644.6,692.9 647.1,693 649.6,693.3 652.2,693.2 654.7,693.7 657.2,693.7 659.7,693.8 662.2,693.3 664.7,694.3 667.2,694.1 669.7,693.9 672.2,694.1 674.8,694.7 677.3,694.5 679.8,695.1" fill="none" stroke="#eeb070" stroke-width="1.4400000000000002" stroke-linejoin="round" />
<path d="M177.5,700.5 180,700.1 182.5,700.5 185.1,700.2 187.6,700.7 190.1,700.7 192.6,700.3 195.1,700.4 197.6,700.3 200.1,700.1 202.6,700.2 205.1,700.3 207.7,700.5 210.2,700.5 212.7,700.1 215.2,699.6 217.7,700 220.2,700.3 222.7,700 225.2,699.7 227.8,699.7 230.3,700 232.8,699.4 235.3,699 237.8,698.6 240.3,699 242.8,698.2 245.3,697.6 247.8,696.6 250.4,696.2 252.9,696.1 255.4,694.7 257.9,694.4 260.4,693.8 262.9,693.4 265.4,692.8 267.9,692 270.4,692.1 273,690.9 275.5,690.1 278,688.1 280.5,685.4 283,681.1 285.5,675.1 288,666.7 290.5,656.8 293,646.3 295.6,637.2 298.1,629.2 300.6,624.4 303.1,622.9 305.6,625.1 308.1,628.8 310.6,634.9 313.1,641 315.6,646.5 318.2,650.1 320.7,650.8 323.2,650.6 325.7,650.8 328.2,649.9 330.7,649.2 333.2,650.1 335.7,650.4 338.2,650.9 340.8,651.1 343.3,650.4 345.8,649.3 348.3,647.4 350.8,645.2 353.3,643.4 355.8,642.6 358.3,643.7 360.8,644.5 363.4,647 365.9,648.1 368.4,648.4 370.9,649.2 373.4,648.4 375.9,647.2 378.4,646 380.9,644.3 383.4,643 386,640.5 388.5,638.8 391,636.8 393.5,634.6 396,632.6 398.5,630.5 401,628.8 403.5,627.3 406,627.3 408.6,627.4 411.1,628.7 413.6,631.5 416.1,634 418.6,637.3 421.1,640.3 423.6,643 426.1,645.9 428.7,647.4 431.2,649.5 433.7,650.9 436.2,652.3 438.7,654 441.2,655.9 443.7,656.6 446.2,658.1 448.7,659.1 451.3,660.3 453.8,660.9 456.3,661.9 458.8,662.8 461.3,663.5 463.8,663.8 466.3,664.6 468.8,665.8 471.3,666.5 473.9,666.9 476.4,667.8 478.9,668.3 481.4,668.3 483.9,668.4 486.4,669.1 488.9,669.6 491.4,669.9 493.9,670.2 496.5,670.6 499,670.7 501.5,671.1 504,671.2 506.5,671.5 509,671.5 511.5,671.9 514,672.3 516.5,672.7 519.1,672.4 521.6,672.6 524.1,673.1 526.6,673.6 529.1,674.8 531.6,675.1 534.1,675.1 536.6,676.9 539.1,677.8 541.7,678.3 544.2,679.9 546.7,680 549.2,680.8 551.7,681.8 554.2,682.1 556.7,683.4 559.2,683.9 561.7,684.9 564.3,685.3 566.8,685.5 569.3,686.6 571.8,686.1 574.3,687.2 576.8,687.2 579.3,687.3 581.8,687.8 584.3,688.7 586.9,688 589.4,688.5 591.9,688.7 594.4,689.7 596.9,689.8 599.4,690.1 601.9,690 604.4,690.1 606.9,690.6 609.5,690.4 612,690.6 614.5,691.1 617,691.4 619.5,692.2 622,691.8 624.5,691.6 627,692.8 629.6,692.3 632.1,692.7 634.6,692.6 637.1,692.7 639.6,692.8 642.1,693.6 644.6,693.3 647.1,693.3 649.6,693.2 652.2,693.3 654.7,693.9 657.2,693.5 659.7,694 662.2,693.9 664.7,694.1 667.2,694.5 669.7,694.3 672.2,694.4 674.8,694.7 677.3,694.6 679.8,695.1" fill="none" stroke="#c49070" stroke-width="1.2800000000000002" stroke-linejoin="round" />
<path d="M177.5,700.7 180,700.5 182.5,701 185.1,701 187.6,700.8 190.1,700.7 192.6,700.6 195.1,700.5 197.6,700.5 200.1,700.6 202.6,700.4 205.1,700.2 207.7,700.2 210.2,700.1 212.7,699.8 215.2,700.4 217.7,699.7 220.2,700.4 222.7,700.1 225.2,699.7 227.8,699.5 230.3,699.6 232.8,699.4 235.3,698.9 237.8,698.9 240.3,698.5 242.8,698.5 245.3,698.3 247.8,697.9 250.4,696.3 252.9,695.8 255.4,695.4 257.9,694.7 260.4,694.2 262.9,693.9 265.4,693.4 267.9,692.9 270.4,691.9 273,691.4 275.5,690.9 278,688.5 280.5,685.9 283,681.7 285.5,676.1 288,667.9 290.5,657.8 293,648.3 295.6,638.5 298.1,631.3 300.6,625.9 303.1,625.2 305.6,627.3 308.1,630.3 310.6,636.1 313.1,642.4 315.6,648.2 318.2,651.2 320.7,652.3 323.2,652.4 325.7,652.2 328.2,651.3 330.7,651.4 333.2,651.8 335.7,651.6 338.2,651.7 340.8,652.4 343.3,651.6 345.8,650.3 348.3,649.1 350.8,647 353.3,644.7 355.8,644.1 358.3,645.1 360.8,646.3 363.4,648 365.9,649.5 368.4,650.1 370.9,650.3 373.4,649.4 375.9,648.6 378.4,647.3 380.9,646.1 383.4,643.9 386,641.9 388.5,640.8 391,638.5 393.5,636.5 396,635.2 398.5,632.7 401,631 403.5,629.4 406,629.1 408.6,629.7 411.1,631.2 413.6,633.1 416.1,635.6 418.6,639.1 421.1,641.6 423.6,644.3 426.1,647 428.7,649.1 431.2,650.6 433.7,652.3 436.2,653.7 438.7,655.7 441.2,656.7 443.7,658.2 446.2,659.2 448.7,660.1 451.3,660.8 453.8,662.4 456.3,663.1 458.8,663.3 461.3,664.3 463.8,664.7 466.3,665.6 468.8,666.6 471.3,667.1 473.9,667.4 476.4,668.6 478.9,669 481.4,669.8 483.9,669.9 486.4,670.1 488.9,670.6 491.4,670.7 493.9,671.5 496.5,671.5 499,671.7 501.5,671.9 504,671.8 506.5,672.9 509,672.4 511.5,672.7 514,673.7 516.5,673.7 519.1,673.5 521.6,673.5 524.1,674.4 526.6,674.7 529.1,675.2 531.6,676.2 534.1,676.5 536.6,677 539.1,678.4 541.7,679.4 544.2,679.8 546.7,680.7 549.2,681.9 551.7,681.9 554.2,682.7 556.7,683.7 559.2,684.4 561.7,685.1 564.3,685.7 566.8,686.1 569.3,686.9 571.8,687.1 574.3,687.5 576.8,687.6 579.3,688.1 581.8,688.5 584.3,688.8 586.9,688.6 589.4,689.2 591.9,689.6 594.4,690.5 596.9,689.9 599.4,690.6 601.9,690.4 604.4,690.5 606.9,691.6 609.5,690.9 612,690.8 614.5,691.5 617,691.2 619.5,692.2 622,692.3 624.5,692.1 627,692.6 629.6,692.1 632.1,692.4 634.6,693.1 637.1,692.9 639.6,692.9 642.1,693.1 644.6,693.2 647.1,693.7 649.6,693.9 652.2,693.7 654.7,694.4 657.2,694.1 659.7,694.1 662.2,694.6 664.7,694.6 667.2,694.2 669.7,694.9 672.2,694.8 674.8,694.9 677.3,694.9 679.8,695.3" fill="none" stroke="#a08070" stroke-width="1.2800000000000002" stroke-linejoin="round" />
<path d="M177.5,700 180,699.5 182.5,699.8 185.1,699.5 187.6,699.8 190.1,700.1 192.6,699.6 195.1,700 197.6,699.7 200.1,699.5 202.6,699.5 205.1,699.6 207.7,700 210.2,699.7 212.7,699.8 215.2,699.2 217.7,699.4 220.2,699.2 222.7,699.1 225.2,699.2 227.8,699.3 230.3,699 232.8,698.7 235.3,698.5 237.8,697.8 240.3,697.7 242.8,697 245.3,696.5 247.8,695.8 250.4,694.4 252.9,694.2 255.4,692.9 257.9,692.6 260.4,691.5 262.9,691 265.4,690.7 267.9,690.3 270.4,689.5 273,688.7 275.5,687.1 278,686.1 280.5,682.5 283,676.8 285.5,669.9 288,659.7 290.5,647 293,635.3 295.6,623.8 298.1,614.8 300.6,607.7 303.1,606 305.6,607.8 308.1,612.3 310.6,619.9 313.1,627.7 315.6,634.4 318.2,638.5 320.7,639.4 323.2,639.5 325.7,638.4 328.2,638.5 330.7,637.8 333.2,637 335.7,637.8 338.2,638.1 340.8,638 343.3,638.1 345.8,636.4 348.3,634.6 350.8,631.6 353.3,627.7 355.8,626.6 358.3,627.8 360.8,629.3 363.4,631.4 365.9,633.7 368.4,634.5 370.9,634.6 373.4,634.3 375.9,633.1 378.4,631.7 380.9,629.8 383.4,628 386,625.4 388.5,623.6 391,621 393.5,618.4 396,616 398.5,613.2 401,610.8 403.5,608.8 406,608.5 408.6,609.6 411.1,611.5 413.6,614 416.1,618 418.6,621.4 421.1,625.3 423.6,628.5 426.1,631.6 428.7,634.8 431.2,637 433.7,639.2 436.2,640.9 438.7,642.9 441.2,643.8 443.7,646.1 446.2,647.8 448.7,648.8 451.3,649.7 453.8,650.9 456.3,652.6 458.8,652.3 461.3,653.9 463.8,655.1 466.3,656.1 468.8,657 471.3,657.7 473.9,658.3 476.4,659 478.9,659.7 481.4,660.5 483.9,660.5 486.4,661.2 488.9,661.7 491.4,662.7 493.9,662.3 496.5,662.6 499,662.8 501.5,663.8 504,663.6 506.5,664 509,664.3 511.5,664.6 514,664.9 516.5,665.3 519.1,665.6 521.6,666.2 524.1,666.2 526.6,666.8 529.1,667.9 531.6,668.5 534.1,669.1 536.6,670.7 539.1,671.9 541.7,672.1 544.2,673.8 546.7,675.2 549.2,675.9 551.7,676.4 554.2,677.9 556.7,678.8 559.2,680 561.7,680.1 564.3,681.4 566.8,682 569.3,682.2 571.8,683.3 574.3,683 576.8,683.8 579.3,684.3 581.8,684.5 584.3,685.4 586.9,685.7 589.4,685.5 591.9,686.1 594.4,687 596.9,686.4 599.4,687.1 601.9,687.3 604.4,687.6 606.9,687.6 609.5,688 612,688.7 614.5,688.4 617,689.2 619.5,689 622,689.3 624.5,689.7 627,690 629.6,690.1 632.1,690.5 634.6,690.2 637.1,690.4 639.6,690.8 642.1,691.4 644.6,691 647.1,692 649.6,691.4 652.2,691.4 654.7,692 657.2,692 659.7,692.1 662.2,692.3 664.7,692.9 667.2,692.6 669.7,692.9 672.2,692.9 674.8,693.5 677.3,693.1 679.8,692.9" fill="none" stroke="#788850" stroke-width="1.7600000000000002" stroke-linejoin="round" />
<path d="M177.5,700 180,699.8 182.5,700.1 185.1,700.6 187.6,700.1 190.1,700.1 192.6,700.3 195.1,700.6 197.6,700.1 200.1,700.6 202.6,700.1 205.1,700 207.7,699.4 210.2,699.7 212.7,699.7 215.2,699.8 217.7,699.9 220.2,699.9 222.7,699.9 225.2,699.4 227.8,699.2 230.3,699.5 232.8,699.1 235.3,698.6 237.8,698 240.3,697.6 242.8,697.1 245.3,697 247.8,696.3 250.4,695.5 252.9,695.2 255.4,694 257.9,693.4 260.4,692.6 262.9,692.4 265.4,691.9 267.9,691.6 270.4,690.6 273,690 275.5,688.9 278,687.5 280.5,684.4 283,679.1 285.5,672.7 288,663.8 290.5,652.7 293,641.5 295.6,631.1 298.1,623.1 300.6,616.8 303.1,615.3 305.6,617.3 308.1,621.5 310.6,628.4 313.1,635.2 315.6,640.9 318.2,644.9 320.7,645.7 323.2,645.9 325.7,645.7 328.2,644.9 330.7,644.2 333.2,644.9 335.7,645.2 338.2,645.3 340.8,645 343.3,644.9 345.8,643.7 348.3,641.3 350.8,638.8 353.3,636.3 355.8,635.5 358.3,636.9 360.8,637.5 363.4,639.7 365.9,641.8 368.4,642.6 370.9,642.1 373.4,641.9 375.9,640.5 378.4,639.9 380.9,637.9 383.4,636.1 386,634.2 388.5,632 391,629.9 393.5,627.8 396,626.1 398.5,623 401,620.8 403.5,619.1 406,619 408.6,619.4 411.1,620.7 413.6,623.1 416.1,627.1 418.6,630.5 421.1,633.8 423.6,636.4 426.1,639.4 428.7,641.9 431.2,643.5 433.7,645.4 436.2,647.4 438.7,648.7 441.2,651 443.7,651.8 446.2,653.7 448.7,654.1 451.3,655.4 453.8,656.6 456.3,657.5 458.8,658.5 461.3,659.3 463.8,660 466.3,661 468.8,661.5 471.3,662.5 473.9,663.4 476.4,663.8 478.9,664.6 481.4,665.1 483.9,665.8 486.4,665.6 488.9,666.6 491.4,665.9 493.9,666.8 496.5,666.8 499,667 501.5,667.8 504,667.9 506.5,668.6 509,668.5 511.5,668.3 514,669.2 516.5,669.4 519.1,669.4 521.6,670.3 524.1,670.3 526.6,670.7 529.1,671 531.6,672.2 534.1,672.6 536.6,674 539.1,674.7 541.7,675.9 544.2,676.5 546.7,677.8 549.2,678.9 551.7,679.3 554.2,680.5 556.7,681.3 559.2,681.8 561.7,683.1 564.3,683.7 566.8,684.1 569.3,684.1 571.8,685.2 574.3,684.8 576.8,685.8 579.3,686.5 581.8,686.8 584.3,687 586.9,687.3 589.4,687.6 591.9,688.4 594.4,687.8 596.9,688.5 599.4,688.8 601.9,688.4 604.4,689 606.9,689.6 609.5,689.3 612,689.6 614.5,690 617,690.2 619.5,690.2 622,690.8 624.5,690.5 627,690.9 629.6,691.4 632.1,691.2 634.6,691.5 637.1,691.6 639.6,692.8 642.1,691.9 644.6,692 647.1,692.5 649.6,692 652.2,693.2 654.7,693.5 657.2,693.4 659.7,693.4 662.2,693.1 664.7,693.1 667.2,693.9 669.7,693.2 672.2,694 674.8,693.7 677.3,693.6 679.8,694.4" fill="none" stroke="#a8aa70" stroke-width="1.6" stroke-linejoin="round" />
<path d="M177.5,700.1 180,700.3 182.5,700 185.1,700.6 187.6,699.7 190.1,700.2 192.6,700 195.1,699.9 197.6,700 200.1,700 202.6,700.4 205.1,700.1 207.7,700.2 210.2,700 212.7,700.7 215.2,700.3 217.7,699.9 220.2,699.7 222.7,699.8 225.2,699.9 227.8,699.7 230.3,699.5 232.8,699.9 235.3,699 237.8,698.6 240.3,698.2 242.8,697.5 245.3,697.4 247.8,696.4 250.4,695.7 252.9,694.9 255.4,694 257.9,693 260.4,692.2 262.9,692.3 265.4,692.1 267.9,691.3 270.4,690.3 273,690.2 275.5,689.1 278,687.3 280.5,684.6 283,679.6 285.5,672.1 288,663.9 290.5,652.4 293,641.2 295.6,630.4 298.1,622.4 300.6,616 303.1,614.4 305.6,616.3 308.1,620.9 310.6,627 313.1,633.8 315.6,640.7 318.2,644.4 320.7,644.8 323.2,644.8 325.7,644.9 328.2,644 330.7,643.2 333.2,643.4 335.7,643.9 338.2,643.8 340.8,644.7 343.3,643.9 345.8,642.7 348.3,640.4 350.8,638 353.3,634.8 355.8,634.2 358.3,635.1 360.8,636.3 363.4,638.4 365.9,640.6 368.4,641.4 370.9,641.5 373.4,640.6 375.9,639.3 378.4,638.6 380.9,636.5 383.4,635.2 386,632.7 388.5,630.9 391,628.6 393.5,626 396,623.5 398.5,621.9 401,619.9 403.5,618.1 406,617.2 408.6,618.2 411.1,620.1 413.6,622.4 416.1,625.7 418.6,629.5 421.1,632.2 423.6,635.7 426.1,638.1 428.7,640.7 431.2,642.8 433.7,644.7 436.2,646.9 438.7,648 441.2,649.5 443.7,651.4 446.2,653 448.7,654.1 451.3,655.1 453.8,656.1 456.3,656.3 458.8,657.6 461.3,658.2 463.8,659.6 466.3,660 468.8,660.9 471.3,661.6 473.9,662.8 476.4,663.3 478.9,664.1 481.4,664.7 483.9,665.1 486.4,665.2 488.9,665.6 491.4,666.1 493.9,666.4 496.5,666.3 499,666.7 501.5,666.9 504,667.3 506.5,667.6 509,667.7 511.5,668.2 514,668.6 516.5,668.7 519.1,668.8 521.6,669.6 524.1,669.7 526.6,670.5 529.1,670.9 531.6,671.8 534.1,672.2 536.6,673.8 539.1,674.5 541.7,675 544.2,675.8 546.7,677.9 549.2,678.1 551.7,679.5 554.2,680.2 556.7,680.7 559.2,681.6 561.7,681.8 564.3,683.2 566.8,683.5 569.3,684 571.8,684.5 574.3,685.3 576.8,685.3 579.3,686.3 581.8,686.6 584.3,686.8 586.9,686.9 589.4,687.5 591.9,687.6 594.4,687.5 596.9,688.6 599.4,688.4 601.9,688.7 604.4,689.7 606.9,689.6 609.5,689.6 612,689.7 614.5,690.3 617,690.2 619.5,690.2 622,690.5 624.5,690.6 627,690.9 629.6,690.8 632.1,691.7 634.6,691.2 637.1,691.5 639.6,691.8 642.1,691.7 644.6,692.4 647.1,692.2 649.6,692.4 652.2,693.1 654.7,693 657.2,693.4 659.7,693.2 662.2,693.6 664.7,693.6 667.2,693.8 669.7,693.5 672.2,693.7 674.8,693.7 677.3,693.8 679.8,694.4" fill="none" stroke="#cccc58" stroke-width="1.6" stroke-linejoin="round" />
<path d="M177.5,700.9 180,700.9 182.5,700.7 185.1,700.4 187.6,700.8 190.1,701 192.6,700.9 195.1,700.2 197.6,700.8 200.1,701 202.6,700.7 205.1,700.6 207.7,700.5 210.2,700.1 212.7,700.6 215.2,700.9 217.7,700.1 220.2,700.3 222.7,700.3 225.2,700.5 227.8,700.5 230.3,699.7 232.8,700.3 235.3,699.8 237.8,699.7 240.3,698.7 242.8,698.7 245.3,698.6 247.8,697.8 250.4,696.9 252.9,697 255.4,696.3 257.9,695.3 260.4,694.9 262.9,694.9 265.4,694.3 267.9,693.7 270.4,693 273,693 275.5,691.4 278,689.9 280.5,687 283,684.2 285.5,678.6 288,671.3 290.5,661.5 293,653.5 295.6,645.1 298.1,638.2 300.6,633.1 303.1,632.3 305.6,634.7 308.1,637 310.6,642.8 313.1,648.2 315.6,652.9 318.2,656.3 320.7,656.8 323.2,657.6 325.7,657.2 328.2,657 330.7,656.9 333.2,656.9 335.7,657.3 338.2,656.9 340.8,657.4 343.3,657.4 345.8,656 348.3,654.7 350.8,652.2 353.3,650.7 355.8,650.7 358.3,651.6 360.8,651.8 363.4,654 365.9,655.9 368.4,655.7 370.9,656.3 373.4,655 375.9,654.5 378.4,653.8 380.9,652.2 383.4,651.1 386,648.4 388.5,647.1 391,645.1 393.5,643.1 396,641.8 398.5,640 401,638.2 403.5,636.7 406,636.6 408.6,637.2 411.1,638.4 413.6,640.2 416.1,642.9 418.6,645.8 421.1,648.1 423.6,650.1 426.1,652.2 428.7,654.2 431.2,656.2 433.7,657.4 436.2,658.8 438.7,659.8 441.2,661.8 443.7,662.3 446.2,663.6 448.7,664.6 451.3,664.7 453.8,665.7 456.3,667.4 458.8,667.6 461.3,668.1 463.8,668.7 466.3,670 468.8,670.2 471.3,670.9 473.9,671.7 476.4,671.8 478.9,672.6 481.4,672.9 483.9,673.5 486.4,673.4 488.9,673.7 491.4,674.2 493.9,674.6 496.5,674.6 499,674.8 501.5,675.1 504,675.4 506.5,675.3 509,675.9 511.5,676 514,675.8 516.5,676.8 519.1,676.7 521.6,676.9 524.1,677.5 526.6,678.1 529.1,678.5 531.6,679.4 534.1,679.4 536.6,680.1 539.1,680.6 541.7,681 544.2,682.2 546.7,682.9 549.2,683.5 551.7,684.5 554.2,685.5 556.7,686 559.2,686.3 561.7,687 564.3,687.5 566.8,688.1 569.3,688.3 571.8,688.8 574.3,689.1 576.8,689.7 579.3,689.9 581.8,689.9 584.3,689.8 586.9,690.4 589.4,690.5 591.9,690.4 594.4,691.1 596.9,691.5 599.4,692.1 601.9,691.9 604.4,691.6 606.9,692.4 609.5,692.4 612,692.5 614.5,692.6 617,693.1 619.5,692.7 622,692.9 624.5,693.6 627,694.2 629.6,693.4 632.1,693.7 634.6,693.9 637.1,694.5 639.6,694.4 642.1,694.4 644.6,694.3 647.1,694.6 649.6,694.4 652.2,695.1 654.7,695.2 657.2,695 659.7,694.8 662.2,695.6 664.7,695.7 667.2,694.9 669.7,695.7 672.2,695.6 674.8,695.3 677.3,696 679.8,695.8" fill="none" stroke="#22b832" stroke-width="2.2399999999999998" stroke-linejoin="round" />
<path d="M177.5,701.1 180,700.8 182.5,700.9 185.1,700.9 187.6,700.8 190.1,700.7 192.6,700.8 195.1,700.8 197.6,701.1 200.1,700.6 202.6,700.9 205.1,700.5 207.7,700.4 210.2,701.1 212.7,700.3 215.2,700.8 217.7,700.9 220.2,700.6 222.7,700.4 225.2,700.2 227.8,699.6 230.3,700.6 232.8,700.1 235.3,699.7 237.8,699.7 240.3,699.7 242.8,699.1 245.3,698.6 247.8,698 250.4,697.7 252.9,696.6 255.4,696.3 257.9,695.5 260.4,695.5 262.9,695.5 265.4,694.3 267.9,694 270.4,693.4 273,692.9 275.5,692 278,690.5 280.5,687.8 283,684.4 285.5,679.3 288,672.2 290.5,663.1 293,654.1 295.6,646.9 298.1,639.5 300.6,635.3 303.1,634.6 305.6,636.5 308.1,639.3 310.6,644 313.1,650.3 315.6,654.7 318.2,657.6 320.7,658.5 323.2,658.9 325.7,658.5 328.2,658 330.7,657.8 333.2,658.3 335.7,658.4 338.2,658.2 340.8,658.4 343.3,658.1 345.8,657.4 348.3,655.8 350.8,654.2 353.3,652.9 355.8,652.3 358.3,653.2 360.8,653.9 363.4,655.6 365.9,656.9 368.4,657.2 370.9,657.4 373.4,656.6 375.9,656.4 378.4,655 380.9,654.2 383.4,652.3 386,650.3 388.5,648.8 391,646.9 393.5,645.5 396,643.9 398.5,642 401,640 403.5,638.8 406,637.9 408.6,638.6 411.1,640.2 413.6,642.3 416.1,644.5 418.6,647.3 421.1,649.8 423.6,652 426.1,654.1 428.7,656 431.2,657.5 433.7,659.4 436.2,660.4 438.7,661.4 441.2,662.6 443.7,664.3 446.2,664.8 448.7,665.8 451.3,666.9 453.8,667.3 456.3,667.9 458.8,668.7 461.3,668.9 463.8,670.2 466.3,670.6 468.8,671.2 471.3,671.8 473.9,672.6 476.4,672.9 478.9,673.3 481.4,673.2 483.9,673.8 486.4,674.5 488.9,674.4 491.4,675.3 493.9,675.2 496.5,675.1 499,676.3 501.5,675.7 504,676.1 506.5,676.6 509,676.4 511.5,677.2 514,676.9 516.5,677.4 519.1,677.3 521.6,678.1 524.1,677.9 526.6,678.2 529.1,679.2 531.6,679.1 534.1,680.4 536.6,680.2 539.1,681 541.7,682.5 544.2,682.5 546.7,683.5 549.2,684.2 551.7,684.9 554.2,686.1 556.7,686.3 559.2,687 561.7,687.3 564.3,688.6 566.8,688.4 569.3,688.5 571.8,689.3 574.3,689.3 576.8,689.6 579.3,690.2 581.8,690.3 584.3,690.4 586.9,691.3 589.4,690.9 591.9,691.4 594.4,691.5 596.9,691.9 599.4,692.1 601.9,691.9 604.4,692.2 606.9,692.6 609.5,693.1 612,692.7 614.5,692.8 617,692.6 619.5,693.5 622,693.4 624.5,693.7 627,694.4 629.6,694.1 632.1,693.9 634.6,694.4 637.1,693.9 639.6,694.3 642.1,694.7 644.6,694.4 647.1,694.9 649.6,694.7 652.2,695 654.7,695 657.2,695.4 659.7,695.3 662.2,695.4 664.7,695.5 667.2,695.5 669.7,695.3 672.2,695.9 674.8,696.1 677.3,695.8 679.8,696.2" fill="none" stroke="#3a7a48" stroke-width="2.08" stroke-linejoin="round" />
<path d="M177.5,700.7 180,700.9 182.5,700.5 185.1,700.9 187.6,701 190.1,700.5 192.6,700.3 195.1,700.3 197.6,700.3 200.1,700.5 202.6,700.7 205.1,700.4 207.7,700.4 210.2,700.5 212.7,700.7 215.2,700.5 217.7,700.3 220.2,700.7 222.7,700.4 225.2,700.6 227.8,699.7 230.3,699.8 232.8,699.9 235.3,699.3 237.8,699.2 240.3,699.1 242.8,698.7 245.3,698.3 247.8,696.8 250.4,697.5 252.9,697.3 255.4,695.6 257.9,695.5 260.4,695.1 262.9,693.9 265.4,694.1 267.9,693.8 270.4,693 273,692.6 275.5,691.1 278,689.9 280.5,687.2 283,682.7 285.5,677.3 288,670.9 290.5,660.9 293,651.9 295.6,643.1 298.1,636.5 300.6,631.4 303.1,629.9 305.6,631.9 308.1,635.5 310.6,641.4 313.1,646.8 315.6,652 318.2,654.2 320.7,655.4 323.2,655.7 325.7,655.5 328.2,655.1 330.7,655.3 333.2,655 335.7,655.4 338.2,656.3 340.8,655.3 343.3,655.3 345.8,654.4 348.3,652.8 350.8,651.3 353.3,649 355.8,648.8 358.3,649.8 360.8,649.9 363.4,652 365.9,653.6 368.4,654 370.9,653.9 373.4,653.2 375.9,652.6 378.4,651.3 380.9,650.4 383.4,648.8 386,646.9 388.5,645 391,643.3 393.5,641.7 396,639.6 398.5,637.4 401,635.6 403.5,634.8 406,633.9 408.6,634.7 411.1,636.2 413.6,637.8 416.1,640.6 418.6,643.1 421.1,646.2 423.6,648.8 426.1,650.8 428.7,652.7 431.2,654.8 433.7,655.9 436.2,657.4 438.7,659.1 441.2,660.2 443.7,661 446.2,662.1 448.7,663.6 451.3,664 453.8,664.9 456.3,665.1 458.8,666.5 461.3,667 463.8,668.3 466.3,668.2 468.8,669.2 471.3,670 473.9,670.6 476.4,671 478.9,671.6 481.4,671.7 483.9,672.3 486.4,672.6 488.9,672.1 491.4,673.2 493.9,673.3 496.5,673.6 499,673.9 501.5,674.1 504,674.8 506.5,674.4 509,674.8 511.5,675.1 514,675.7 516.5,675.3 519.1,676.2 521.6,676.1 524.1,676.5 526.6,677.1 529.1,676.9 531.6,677.5 534.1,678.2 536.6,679.3 539.1,680.3 541.7,680.8 544.2,681.6 546.7,682.8 549.2,682.7 551.7,683.5 554.2,684.6 556.7,685.4 559.2,685.8 561.7,686.4 564.3,686.4 566.8,687.3 569.3,688.1 571.8,688 574.3,688.9 576.8,689.2 579.3,689.1 581.8,689.6 584.3,690.2 586.9,690.3 589.4,690.5 591.9,690.8 594.4,690.9 596.9,691 599.4,691.3 601.9,691.6 604.4,691.4 606.9,691.4 609.5,691.7 612,692.4 614.5,692.5 617,692.4 619.5,692.6 622,693.1 624.5,692.8 627,693.1 629.6,693.6 632.1,693.9 634.6,693.6 637.1,693.9 639.6,693.4 642.1,694.3 644.6,694.3 647.1,693.5 649.6,694.7 652.2,694.3 654.7,694.6 657.2,694.8 659.7,695.2 662.2,694.9 664.7,694.7 667.2,695 669.7,695.3 672.2,695.1 674.8,695.6 677.3,695.5 679.8,695.3" fill="none" stroke="#5a9898" stroke-width="1.2800000000000002" stroke-linejoin="round" />
<path d="M177.5,700.9 180,700.6 182.5,700.3 185.1,700.1 187.6,700.7 190.1,700.2 192.6,700.7 195.1,700.5 197.6,700.2 200.1,700.6 202.6,699.8 205.1,701.1 207.7,700.5 210.2,700.6 212.7,700.4 215.2,700.3 217.7,700.7 220.2,699.9 222.7,700.5 225.2,700 227.8,699.8 230.3,700.2 232.8,699.4 235.3,699.3 237.8,699.2 240.3,698.6 242.8,698 245.3,697.7 247.8,697.4 250.4,697 252.9,696.4 255.4,695.3 257.9,694.8 260.4,694.4 262.9,694.1 265.4,693.8 267.9,693.2 270.4,692.4 273,692.1 275.5,691.1 278,689.4 280.5,686.9 283,682.6 285.5,676.6 288,668.5 290.5,659 293,649.5 295.6,640.8 298.1,633.3 300.6,628.4 303.1,627.1 305.6,628.7 308.1,632.8 310.6,638.1 313.1,644.3 315.6,649.7 318.2,652.4 320.7,653.5 323.2,653.3 325.7,653.6 328.2,653.2 330.7,652.9 333.2,653.2 335.7,653 338.2,653.3 340.8,652.9 343.3,653.1 345.8,651.9 348.3,650.3 350.8,648.9 353.3,646.3 355.8,645.8 358.3,646.9 360.8,647.8 363.4,649.4 365.9,651 368.4,651.4 370.9,651.4 373.4,650.7 375.9,650.3 378.4,649.2 380.9,647.6 383.4,645.8 386,644.4 388.5,642.6 391,640.7 393.5,638.1 396,636.4 398.5,634.2 401,632.5 403.5,631.2 406,630.4 408.6,631.2 411.1,632.5 413.6,635.2 416.1,637.9 418.6,640.7 421.1,644 423.6,645.9 426.1,648.7 428.7,650.7 431.2,652.6 433.7,653.6 436.2,655.2 438.7,657.1 441.2,658.6 443.7,659.1 446.2,660.2 448.7,661.5 451.3,661.9 453.8,663.1 456.3,663.9 458.8,664.5 461.3,665.6 463.8,666.5 466.3,666.7 468.8,667.7 471.3,668.4 473.9,668.6 476.4,669.4 478.9,670.3 481.4,670.2 483.9,670.8 486.4,671.1 488.9,671.5 491.4,671.3 493.9,672 496.5,671.8 499,672.3 501.5,672.8 504,672.6 506.5,672.8 509,673.5 511.5,673.9 514,673.9 516.5,674.2 519.1,674.8 521.6,674 524.1,675.3 526.6,675.2 529.1,676 531.6,676.7 534.1,677.4 536.6,678.1 539.1,679.4 541.7,680.2 544.2,680.2 546.7,681.4 549.2,681.6 551.7,682.8 554.2,683.6 556.7,684.4 559.2,685 561.7,686 564.3,686.2 566.8,686.4 569.3,686.9 571.8,687.7 574.3,687.6 576.8,688.2 579.3,688.5 581.8,689.7 584.3,689.3 586.9,689.6 589.4,690 591.9,689.8 594.4,690.8 596.9,690.5 599.4,690.7 601.9,690.6 604.4,691.3 606.9,691.3 609.5,691.6 612,691.7 614.5,691.8 617,692.1 619.5,692.2 622,692.3 624.5,692.2 627,693 629.6,692.7 632.1,693.4 634.6,693.4 637.1,693.6 639.6,693.3 642.1,693.9 644.6,693.2 647.1,693.9 649.6,693.8 652.2,694.2 654.7,694.1 657.2,694.7 659.7,694.4 662.2,694.7 664.7,694.2 667.2,695.1 669.7,695.8 672.2,694.6 674.8,695.2 677.3,695.5 679.8,695.1" fill="none" stroke="#60c8cc" stroke-width="1.6" stroke-linejoin="round" />
<path d="M177.5,700.3 180,701.3 182.5,700.6 185.1,700.1 187.6,700.8 190.1,700.4 192.6,700 195.1,700.7 197.6,700.2 200.1,699.9 202.6,700.2 205.1,699.9 207.7,700.4 210.2,700.4 212.7,700.1 215.2,700.6 217.7,699.9 220.2,700.1 222.7,700.4 225.2,699.7 227.8,699.7 230.3,699.9 232.8,699.7 235.3,699.1 237.8,699.3 240.3,698.9 242.8,697.9 245.3,697.7 247.8,696.9 250.4,696.6 252.9,695.4 255.4,695.4 257.9,694.1 260.4,693.6 262.9,693.1 265.4,692.6 267.9,692.7 270.4,692.1 273,690.9 275.5,690 278,688.4 280.5,686.3 283,681 285.5,675.7 288,667.4 290.5,657.7 293,647.4 295.6,638.8 298.1,630.4 300.6,625 303.1,623.8 305.6,626.2 308.1,629.4 310.6,635.3 313.1,642.2 315.6,647.1 318.2,650.5 320.7,651.6 323.2,651.2 325.7,651.7 328.2,651 330.7,650.8 333.2,651 335.7,650.7 338.2,650.3 340.8,651.2 343.3,650.9 345.8,649.7 348.3,647.7 350.8,645.3 353.3,643.6 355.8,643.1 358.3,643.5 360.8,644.7 363.4,646.9 365.9,648.4 368.4,649.2 370.9,648.9 373.4,648.9 375.9,647.3 378.4,646 380.9,645.4 383.4,643.7 386,641.6 388.5,639.5 391,637.2 393.5,635.6 396,633.1 398.5,631.8 401,629.5 403.5,628 406,627.8 408.6,628.5 411.1,629.7 413.6,631.7 416.1,634.5 418.6,638.5 421.1,640.3 423.6,642.9 426.1,645.4 428.7,648.2 431.2,650.1 433.7,651.4 436.2,653.1 438.7,654.4 441.2,656.7 443.7,657.5 446.2,658.5 448.7,659.8 451.3,660.8 453.8,660.8 456.3,662 458.8,663.2 461.3,663.3 463.8,664.6 466.3,665.5 468.8,666.2 471.3,666.9 473.9,667.2 476.4,667.9 478.9,668.4 481.4,669 483.9,669.1 486.4,669.8 488.9,669.9 491.4,670.6 493.9,670.3 496.5,670.6 499,671.2 501.5,671.3 504,671.8 506.5,672 509,672.1 511.5,672.1 514,673.1 516.5,673 519.1,672.9 521.6,673.7 524.1,674.1 526.6,673.9 529.1,674.9 531.6,674.9 534.1,675.9 536.6,676.9 539.1,677.9 541.7,678.7 544.2,679.6 546.7,680.4 549.2,681.5 551.7,682 554.2,682.6 556.7,683.7 559.2,684.5 561.7,685 564.3,685 566.8,685.5 569.3,686.2 571.8,687 574.3,686.9 576.8,688.1 579.3,687.7 581.8,688.2 584.3,687.9 586.9,688.7 589.4,689.3 591.9,689.3 594.4,689.9 596.9,689.8 599.4,690.3 601.9,690.1 604.4,690.3 606.9,691.1 609.5,690.5 612,691.9 614.5,691.7 617,691.3 619.5,691.5 622,691.3 624.5,692.1 627,692.3 629.6,692.2 632.1,692.8 634.6,692.6 637.1,693.1 639.6,693.2 642.1,693 644.6,693.2 647.1,693.8 649.6,693.3 652.2,694.2 654.7,693.8 657.2,693.9 659.7,694.3 662.2,694.7 664.7,694.7 667.2,694.5 669.7,694.1 672.2,694.8 674.8,695.4 677.3,695.1 679.8,695.5" fill="none" stroke="#12a892" stroke-width="2.4000000000000004" stroke-linejoin="round" />
<path d="M177.5,700.6 180,700.3 182.5,699.9 185.1,700.1 187.6,700.3 190.1,700 192.6,700.1 195.1,699.8 197.6,700.7 200.1,700.3 202.6,700.1 205.1,700.4 207.7,700.2 210.2,700.5 212.7,700.5 215.2,699.8 217.7,700.7 220.2,700.4 222.7,700 225.2,700.1 227.8,699.5 230.3,699.5 232.8,699.3 235.3,698.6 237.8,698.4 240.3,698 242.8,697.9 245.3,697.5 247.8,696.7 250.4,696 252.9,695.4 255.4,694.6 257.9,693.8 260.4,693.2 262.9,692.7 265.4,692.8 267.9,692.2 270.4,691.4 273,690.9 275.5,689.8 278,687.8 280.5,685.3 283,680.5 285.5,674.9 288,665.5 290.5,655.2 293,644.8 295.6,634.2 298.1,626.5 300.6,620.8 303.1,619.8 305.6,621.9 308.1,626 310.6,631.8 313.1,639.2 315.6,644.1 318.2,647.6 320.7,648.7 323.2,648.5 325.7,648.8 328.2,647.8 330.7,647 333.2,647.1 335.7,647.6 338.2,648 340.8,648.1 343.3,647.2 345.8,646.9 348.3,644.2 350.8,642.8 353.3,640 355.8,638.7 358.3,639.8 360.8,641.1 363.4,642.7 365.9,644.5 368.4,645.4 370.9,645.2 373.4,644.3 375.9,644 378.4,642.6 380.9,641 383.4,639.2 386,637.4 388.5,635.5 391,633.3 393.5,631.5 396,629.2 398.5,627.1 401,624.9 403.5,623.1 406,622.9 408.6,623.7 411.1,625.1 413.6,627.5 416.1,630.4 418.6,634.2 421.1,636.7 423.6,639.8 426.1,642.6 428.7,644.9 431.2,646.9 433.7,647.9 436.2,650.2 438.7,651.5 441.2,653.1 443.7,654.7 446.2,656 448.7,656.6 451.3,657.6 453.8,658.6 456.3,660 458.8,660.4 461.3,661.4 463.8,662 466.3,663.1 468.8,664 471.3,664.4 473.9,665.4 476.4,665.4 478.9,666.3 481.4,666.7 483.9,666.9 486.4,667 488.9,667.8 491.4,668.6 493.9,668.9 496.5,669.2 499,669.1 501.5,669.5 504,669.4 506.5,670 509,670.5 511.5,670.1 514,670.7 516.5,670.8 519.1,671.4 521.6,671.4 524.1,671.4 526.6,672.3 529.1,673.2 531.6,673.3 534.1,674.2 536.6,675.6 539.1,676.6 541.7,677.1 544.2,677.7 546.7,678.6 549.2,679.9 551.7,680.5 554.2,681.2 556.7,682.1 559.2,683.3 561.7,683.7 564.3,684 566.8,684.5 569.3,685.4 571.8,685.7 574.3,686.2 576.8,686.5 579.3,687.6 581.8,687.1 584.3,687.5 586.9,688.3 589.4,688.1 591.9,689 594.4,689.3 596.9,689.5 599.4,689.2 601.9,689.7 604.4,690.2 606.9,689.8 609.5,690.3 612,690.9 614.5,691 617,691.3 619.5,691.2 622,691.1 624.5,691.2 627,691.7 629.6,691.7 632.1,692.4 634.6,692.4 637.1,692.5 639.6,692.3 642.1,692.8 644.6,692.4 647.1,693.3 649.6,693.6 652.2,694.1 654.7,693.5 657.2,693.5 659.7,693.7 662.2,693.8 664.7,693.9 667.2,694.3 669.7,694.2 672.2,694.1 674.8,694.4 677.3,694.5 679.8,695.1" fill="none" stroke="#62a2a2" stroke-width="1.4400000000000002" stroke-linejoin="round" />
<path d="M177.5,700.2 180,700.2 182.5,699.9 185.1,699.9 187.6,700.2 190.1,700.1 192.6,700.5 195.1,700.3 197.6,700.1 200.1,699.9 202.6,700.3 205.1,700.3 207.7,699.9 210.2,699.8 212.7,700.3 215.2,699.9 217.7,699.5 220.2,699.8 222.7,699.5 225.2,699.4 227.8,699.8 230.3,699.5 232.8,699.3 235.3,698.7 237.8,697.9 240.3,697.2 242.8,696.6 245.3,696.3 247.8,695.9 250.4,694.6 252.9,693.4 255.4,692.5 257.9,691.5 260.4,690.5 262.9,690.2 265.4,690.3 267.9,690.4 270.4,689.1 273,689 275.5,687.7 278,686.1 280.5,682.7 283,677.2 285.5,669.2 288,658.5 290.5,644.6 293,631.7 295.6,618.6 298.1,608.4 300.6,600.8 303.1,598.4 305.6,600.6 308.1,605.5 310.6,613.1 313.1,621.9 315.6,629.3 318.2,633.2 320.7,633.8 323.2,633.6 325.7,633 328.2,631.1 330.7,630.1 333.2,629.7 335.7,630.9 338.2,630.7 340.8,631.4 343.3,631.2 345.8,628.7 348.3,625.9 350.8,621.8 353.3,617 355.8,614.8 358.3,616.4 360.8,617.7 363.4,620.7 365.9,623.6 368.4,624.2 370.9,625 373.4,624.5 375.9,623.5 378.4,621.5 380.9,619.8 383.4,618.1 386,615.7 388.5,613.7 391,611.3 393.5,608.1 396,605.6 398.5,603.1 401,600.1 403.5,598.2 406,597.5 408.6,598.8 411.1,600.9 413.6,603.3 416.1,607.8 418.6,612.8 421.1,617 423.6,621 426.1,624.5 428.7,627.2 431.2,629.6 433.7,632 436.2,634.2 438.7,636.1 441.2,638.1 443.7,640 446.2,641.6 448.7,643.2 451.3,644 453.8,645.9 456.3,646.6 458.8,647.6 461.3,648.3 463.8,649.4 466.3,651.1 468.8,651.7 471.3,652.9 473.9,653.9 476.4,654.2 478.9,655 481.4,656 483.9,656.4 486.4,657 488.9,657.2 491.4,657.8 493.9,658 496.5,658.3 499,658.7 501.5,658.9 504,659.1 506.5,659.7 509,659.9 511.5,660.2 514,660.5 516.5,660.6 519.1,661 521.6,661.1 524.1,661.6 526.6,662.2 529.1,663.4 531.6,664.9 534.1,665.1 536.6,667 539.1,668 541.7,669.3 544.2,670.4 546.7,671.9 549.2,673 551.7,673.8 554.2,675.1 556.7,676.5 559.2,677.4 561.7,678 564.3,679.5 566.8,680.6 569.3,680.8 571.8,681.1 574.3,681.8 576.8,682.8 579.3,682.9 581.8,683.2 584.3,683.6 586.9,684.7 589.4,684.9 591.9,685.5 594.4,685.4 596.9,685.7 599.4,686.1 601.9,686.3 604.4,687.1 606.9,687 609.5,687.5 612,687.6 614.5,688.2 617,688.5 619.5,688.3 622,688.9 624.5,689.1 627,689.4 629.6,689.5 632.1,689.3 634.6,690.3 637.1,690.8 639.6,690.9 642.1,690.8 644.6,691.2 647.1,691.7 649.6,691.7 652.2,691.8 654.7,691.5 657.2,692.1 659.7,692.2 662.2,692.2 664.7,692.7 667.2,692.6 669.7,693.1 672.2,693.3 674.8,693 677.3,693.1 679.8,693.8" fill="none" stroke="#4aa2cc" stroke-width="1.6" stroke-linejoin="round" />
<path d="M177.5,700.4 180,700.2 182.5,700.8 185.1,700.6 187.6,700.4 190.1,700.3 192.6,700 195.1,700.1 197.6,700.3 200.1,700.2 202.6,700.1 205.1,700.1 207.7,700.2 210.2,700.2 212.7,700 215.2,700 217.7,700.1 220.2,699.7 222.7,699.6 225.2,699.8 227.8,699.6 230.3,699.2 232.8,698.4 235.3,698.5 237.8,697.6 240.3,696.3 242.8,696.3 245.3,695.8 247.8,694.6 250.4,693.8 252.9,692.5 255.4,691.6 257.9,690.6 260.4,689.7 262.9,689.6 265.4,689.3 267.9,689.1 270.4,688.1 273,688.4 275.5,687 278,684.4 280.5,681.5 283,675.4 285.5,666.3 288,654.1 290.5,639.7 293,625.3 295.6,611.4 298.1,599.4 300.6,591.2 303.1,587.2 305.6,590.1 308.1,594.8 310.6,603.3 313.1,613.7 315.6,621.3 318.2,626.9 320.7,626.4 323.2,626.3 325.7,624.7 328.2,622.5 330.7,621.4 333.2,621 335.7,621.2 338.2,621.9 340.8,622.3 343.3,622.3 345.8,619.7 348.3,616 350.8,611.5 353.3,605.6 355.8,603.2 358.3,604.1 360.8,605.8 363.4,609 365.9,612.4 368.4,613.3 370.9,614.4 373.4,613.4 375.9,612.7 378.4,611.2 380.9,609.1 383.4,606.9 386,605 388.5,602.1 391,600.1 393.5,597.3 396,593.9 398.5,591 401,587.9 403.5,585.8 406,584.4 408.6,586 411.1,587.5 413.6,591 416.1,596.5 418.6,602.1 421.1,607.1 423.6,611.4 426.1,615.2 428.7,618.4 431.2,620.9 433.7,624 436.2,626.4 438.7,628.3 441.2,630.7 443.7,632.8 446.2,634 448.7,636.2 451.3,637.9 453.8,638.2 456.3,639.9 458.8,641.3 461.3,642.7 463.8,643.6 466.3,644.5 468.8,645.9 471.3,646.7 473.9,648 476.4,648.6 478.9,649.9 481.4,649.8 483.9,651.1 486.4,651.9 488.9,651.7 491.4,652.3 493.9,652.4 496.5,653.1 499,652.8 501.5,653.6 504,654 506.5,654 509,654 511.5,655.1 514,655.2 516.5,655.8 519.1,656.3 521.6,656.6 524.1,656.6 526.6,657.7 529.1,658.7 531.6,660.2 534.1,661.3 536.6,663.1 539.1,664.4 541.7,665.2 544.2,667.1 546.7,668.3 549.2,669.4 551.7,671 554.2,671.8 556.7,673.5 559.2,674.1 561.7,675.2 564.3,676.8 566.8,677.1 569.3,678.6 571.8,679.1 574.3,679.5 576.8,680.2 579.3,681.2 581.8,681.4 584.3,681.6 586.9,682.6 589.4,683.1 591.9,683.1 594.4,684 596.9,684.7 599.4,684.6 601.9,685.4 604.4,685.5 606.9,685.3 609.5,686.3 612,686.2 614.5,686.9 617,687.1 619.5,687 622,687.7 624.5,687.8 627,688.3 629.6,688.4 632.1,688.8 634.6,688.8 637.1,689.6 639.6,689.8 642.1,690.1 644.6,690.3 647.1,690.7 649.6,691.4 652.2,691.1 654.7,690.9 657.2,690.9 659.7,691.2 662.2,691.1 664.7,692.2 667.2,692.2 669.7,692.6 672.2,692.5 674.8,692.8 677.3,693 679.8,693.3" fill="none" stroke="#3a6a92" stroke-width="1.92" stroke-linejoin="round" />
<path d="M177.5,700.7 180,700 182.5,699.9 185.1,700.4 187.6,700.6 190.1,700.5 192.6,700.3 195.1,700.6 197.6,699.7 200.1,700.2 202.6,699.9 205.1,700 207.7,699.9 210.2,700.1 212.7,700.3 215.2,699.7 217.7,700.1 220.2,700.1 222.7,699.5 225.2,700 227.8,699.9 230.3,698.9 232.8,698.6 235.3,698.1 237.8,697.4 240.3,696.9 242.8,695.5 245.3,695 247.8,693.9 250.4,692.9 252.9,692.3 255.4,690.5 257.9,689.7 260.4,688.9 262.9,689.1 265.4,688.1 267.9,688.1 270.4,687.9 273,687.4 275.5,686.7 278,684.5 280.5,681.2 283,674.5 285.5,665.2 288,651.7 290.5,636.2 293,621 295.6,605 298.1,592.4 300.6,583.7 303.1,580 305.6,582.1 308.1,587.4 310.6,597.2 313.1,607.3 315.6,616.3 318.2,621.6 320.7,620.8 323.2,620.2 325.7,618.4 328.2,616.1 330.7,613.8 333.2,614.1 335.7,614.1 338.2,614.9 340.8,615.6 343.3,615.3 345.8,612.4 348.3,608.3 350.8,602.4 353.3,595.9 355.8,592.9 358.3,593.5 360.8,595.6 363.4,599.4 365.9,603.2 368.4,604.4 370.9,605.3 373.4,605.4 375.9,603.5 378.4,601.8 380.9,600.2 383.4,597.7 386,595.6 388.5,592.8 391,590.3 393.5,587.3 396,583.9 398.5,581.3 401,578.5 403.5,575.3 406,573.8 408.6,575.1 411.1,577.6 413.6,581.4 416.1,587.6 418.6,593.7 421.1,599 423.6,603.7 426.1,607.8 428.7,611.3 431.2,614.4 433.7,616.8 436.2,619.9 438.7,622.6 441.2,624.8 443.7,627.3 446.2,628.7 448.7,630.3 451.3,631.5 453.8,633.7 456.3,634.9 458.8,636.4 461.3,637.5 463.8,638.4 466.3,639.9 468.8,641 471.3,642.6 473.9,643.4 476.4,644.3 478.9,645.1 481.4,645.7 483.9,646.1 486.4,647.1 488.9,647.2 491.4,647.9 493.9,648 496.5,648.5 499,648.9 501.5,649.6 504,650.1 506.5,649.9 509,650.2 511.5,650.7 514,651.2 516.5,651.3 519.1,651.6 521.6,652.4 524.1,652.7 526.6,653.3 529.1,654.5 531.6,656.1 534.1,657.8 536.6,659.3 539.1,661 541.7,662.5 544.2,663.9 546.7,665.4 549.2,666.8 551.7,668.1 554.2,669.9 556.7,671.2 559.2,672 561.7,673.9 564.3,674.6 566.8,675.4 569.3,676.4 571.8,677.3 574.3,678.7 576.8,678.7 579.3,679.5 581.8,680.1 584.3,680.8 586.9,681.4 589.4,681.2 591.9,682 594.4,682.5 596.9,682.7 599.4,683.5 601.9,683.9 604.4,684.3 606.9,684.3 609.5,684.7 612,684.6 614.5,685.7 617,686.6 619.5,686 622,686.9 624.5,687.1 627,687.9 629.6,687.5 632.1,687.9 634.6,688.3 637.1,688.3 639.6,689 642.1,689.5 644.6,689.4 647.1,690.1 649.6,689.9 652.2,690.1 654.7,690.7 657.2,691.3 659.7,691.8 662.2,691.1 664.7,691.5 667.2,691.7 669.7,692.1 672.2,692.2 674.8,692.4 677.3,693.1 679.8,692.8" fill="none" stroke="#8a42c2" stroke-width="2.2399999999999998" stroke-linejoin="round" />
<path d="M177.5,700.7 180,700.5 182.5,700.2 185.1,700.7 187.6,700.7 190.1,700.1 192.6,700 195.1,699.8 197.6,700.3 200.1,700 202.6,700.1 205.1,700.1 207.7,699.9 210.2,700 212.7,699.6 215.2,699.8 217.7,700.1 220.2,699.7 222.7,699.6 225.2,700.2 227.8,699.5 230.3,699.3 232.8,698.8 235.3,698.4 237.8,697.7 240.3,696.3 242.8,695.6 245.3,694.8 247.8,694.5 250.4,693.7 252.9,692.4 255.4,691 257.9,689.8 260.4,689.2 262.9,688.8 265.4,688.6 267.9,688.4 270.4,687.8 273,688.1 275.5,686.3 278,684.8 280.5,681.8 283,674.6 285.5,665.7 288,652.8 290.5,636.8 293,622.1 295.6,606.7 298.1,595.1 300.6,586 303.1,582.4 305.6,584.7 308.1,589.8 310.6,599.3 313.1,609.2 315.6,617.5 318.2,623.1 320.7,622.9 323.2,622.4 325.7,620.7 328.2,618.5 330.7,616.4 333.2,616.7 335.7,616.7 338.2,617 340.8,617.3 343.3,617.9 345.8,614.6 348.3,610.7 350.8,605.3 353.3,599 355.8,595.5 358.3,596.7 360.8,598.2 363.4,601.9 365.9,606.2 368.4,607.2 370.9,608.1 373.4,608 375.9,606.6 378.4,604.4 380.9,602.2 383.4,600.6 386,598.1 388.5,595.8 391,593 393.5,590.6 396,587.6 398.5,584.2 401,581.7 403.5,578.9 406,577.5 408.6,578.2 411.1,580.9 413.6,584.1 416.1,590.4 418.6,595.9 421.1,601.4 423.6,606 426.1,610.3 428.7,613.4 431.2,616.4 433.7,619 436.2,621.8 438.7,623.9 441.2,626 443.7,628.6 446.2,631 448.7,632.1 451.3,633.7 453.8,635 456.3,636.2 458.8,637.9 461.3,638.6 463.8,640 466.3,641 468.8,642.9 471.3,643.8 473.9,644.5 476.4,645.6 478.9,646.6 481.4,647 483.9,647.6 486.4,648.3 488.9,648.7 491.4,648.7 493.9,649.5 496.5,649.9 499,650.1 501.5,651.1 504,651.2 506.5,651.3 509,651.6 511.5,652.2 514,652.3 516.5,652.9 519.1,653.2 521.6,653.1 524.1,653.8 526.6,655 529.1,656.1 531.6,657.5 534.1,658.8 536.6,660.6 539.1,662.2 541.7,663.8 544.2,664.7 546.7,665.6 549.2,667.8 551.7,668.7 554.2,670.4 556.7,671.8 559.2,672.7 561.7,674 564.3,674.5 566.8,676.1 569.3,676.6 571.8,677.6 574.3,678.8 576.8,679.1 579.3,679.9 581.8,680.6 584.3,681.6 586.9,681.2 589.4,681.8 591.9,682.6 594.4,682.8 596.9,683.1 599.4,683.9 601.9,683.5 604.4,685 606.9,685.2 609.5,685.2 612,685.6 614.5,686.1 617,686.5 619.5,686.3 622,687.4 624.5,687.5 627,687.7 629.6,687.9 632.1,687.9 634.6,688.7 637.1,689.2 639.6,689.3 642.1,689.6 644.6,689.9 647.1,689.7 649.6,690.4 652.2,690.6 654.7,690.9 657.2,691.2 659.7,690.9 662.2,691.8 664.7,692.1 667.2,691.8 669.7,691.7 672.2,692.4 674.8,692 677.3,692.5 679.8,693" fill="none" stroke="#b282ba" stroke-width="1.6" stroke-linejoin="round" />
<path d="M127.3,388 L127.3,71.5 L730,71.5 L730,388" fill="none" stroke="#2a2a2a" stroke-width="2.2"/>
<line x1="126.3" y1="388" x2="731" y2="388" stroke="#2a2a2a" stroke-width="2.2" />
<path d="M127.3,388 L127.3,707.7 L730,707.7 L730,388" fill="none" stroke="#2a2a2a" stroke-width="2.2"/>
<text x="115.8" y="395.8" font-size="22" text-anchor="end" font-weight="normal" font-style="normal" font-family="'Liberation Sans', Arial, sans-serif" letter-spacing="0.3" >0</text>
<line x1="127.3" y1="361.62" x2="134.8" y2="361.62" stroke="#888" stroke-width="1.2" />
<line x1="127.3" y1="335.25" x2="136.8" y2="335.25" stroke="#2a2a2a" stroke-width="1.8" />
<text x="115.8" y="343.05" font-size="22" text-anchor="end" font-weight="normal" font-style="normal" font-family="'Liberation Sans', Arial, sans-serif" letter-spacing="0.3" >50</text>
<line x1="127.3" y1="308.88" x2="134.8" y2="308.88" stroke="#888" stroke-width="1.2" />
<line x1="127.3" y1="282.5" x2="136.8" y2="282.5" stroke="#2a2a2a" stroke-width="1.8" />
<text x="115.8" y="290.3" font-size="22" text-anchor="end" font-weight="normal" font-style="normal" font-family="'Liberation Sans', Arial, sans-serif" letter-spacing="0.3" >100</text>
<line x1="127.3" y1="256.12" x2="134.8" y2="256.12" stroke="#888" stroke-width="1.2" />
<line x1="127.3" y1="229.75" x2="136.8" y2="229.75" stroke="#2a2a2a" stroke-width="1.8" />
<text x="115.8" y="237.55" font-size="22" text-anchor="end" font-weight="normal" font-style="normal" font-family="'Liberation Sans', Arial, sans-serif" letter-spacing="0.3" >150</text>
<line x1="127.3" y1="203.38" x2="134.8" y2="203.38" stroke="#888" stroke-width="1.2" />
<line x1="127.3" y1="177" x2="136.8" y2="177" stroke="#2a2a2a" stroke-width="1.8" />
<text x="115.8" y="184.8" font-size="22" text-anchor="end" font-weight="normal" font-style="normal" font-family="'Liberation Sans', Arial, sans-serif" letter-spacing="0.3" >200</text>
<line x1="127.3" y1="150.62" x2="134.8" y2="150.62" stroke="#888" stroke-width="1.2" />
<line x1="127.3" y1="124.25" x2="136.8" y2="124.25" stroke="#2a2a2a" stroke-width="1.8" />
<text x="115.8" y="132.05" font-size="22" text-anchor="end" font-weight="normal" font-style="normal" font-family="'Liberation Sans', Arial, sans-serif" letter-spacing="0.3" >250</text>
<line x1="127.3" y1="97.88" x2="134.8" y2="97.88" stroke="#888" stroke-width="1.2" />
<text x="115.8" y="79.3" font-size="22" text-anchor="end" font-weight="normal" font-style="normal" font-family="'Liberation Sans', Arial, sans-serif" letter-spacing="0.3" >300</text>
<text x="115.8" y="715.5" font-size="22" text-anchor="end" font-weight="normal" font-style="normal" font-family="'Liberation Sans', Arial, sans-serif" letter-spacing="0.3" >0</text>
<line x1="127.3" y1="681.06" x2="134.8" y2="681.06" stroke="#888" stroke-width="1.2" />
<line x1="127.3" y1="654.42" x2="136.8" y2="654.42" stroke="#2a2a2a" stroke-width="1.8" />
<text x="115.8" y="662.22" font-size="22" text-anchor="end" font-weight="normal" font-style="normal" font-family="'Liberation Sans', Arial, sans-serif" letter-spacing="0.3" >50</text>
<line x1="127.3" y1="627.78" x2="134.8" y2="627.78" stroke="#888" stroke-width="1.2" />
<line x1="127.3" y1="601.13" x2="136.8" y2="601.13" stroke="#2a2a2a" stroke-width="1.8" />
<text x="115.8" y="608.93" font-size="22" text-anchor="end" font-weight="normal" font-style="normal" font-family="'Liberation Sans', Arial, sans-serif" letter-spacing="0.3" >100</text>
<line x1="127.3" y1="574.49" x2="134.8" y2="574.49" stroke="#888" stroke-width="1.2" />
<line x1="127.3" y1="547.85" x2="136.8" y2="547.85" stroke="#2a2a2a" stroke-width="1.8" />
<text x="115.8" y="555.65" font-size="22" text-anchor="end" font-weight="normal" font-style="normal" font-family="'Liberation Sans', Arial, sans-serif" letter-spacing="0.3" >150</text>
<line x1="127.3" y1="521.21" x2="134.8" y2="521.21" stroke="#888" stroke-width="1.2" />
<line x1="127.3" y1="494.57" x2="136.8" y2="494.57" stroke="#2a2a2a" stroke-width="1.8" />
<text x="115.8" y="502.37" font-size="22" text-anchor="end" font-weight="normal" font-style="normal" font-family="'Liberation Sans', Arial, sans-serif" letter-spacing="0.3" >200</text>
<line x1="127.3" y1="467.92" x2="134.8" y2="467.92" stroke="#888" stroke-width="1.2" />
<line x1="127.3" y1="441.28" x2="136.8" y2="441.28" stroke="#2a2a2a" stroke-width="1.8" />
<text x="115.8" y="449.08" font-size="22" text-anchor="end" font-weight="normal" font-style="normal" font-family="'Liberation Sans', Arial, sans-serif" letter-spacing="0.3" >250</text>
<line x1="127.3" y1="414.64" x2="134.8" y2="414.64" stroke="#888" stroke-width="1.2" />
<text x="127.3" y="739.7" font-size="22" text-anchor="middle" font-weight="normal" font-style="normal" font-family="'Liberation Sans', Arial, sans-serif" letter-spacing="0.3" >340</text>
<line x1="177.53" y1="707.7" x2="177.53" y2="700.2" stroke="#888" stroke-width="1.2" />
<line x1="227.75" y1="707.7" x2="227.75" y2="698.2" stroke="#2a2a2a" stroke-width="1.8" />
<text x="227.75" y="739.7" font-size="22" text-anchor="middle" font-weight="normal" font-style="normal" font-family="'Liberation Sans', Arial, sans-serif" letter-spacing="0.3" >360</text>
<line x1="277.98" y1="707.7" x2="277.98" y2="700.2" stroke="#888" stroke-width="1.2" />
<line x1="328.2" y1="707.7" x2="328.2" y2="698.2" stroke="#2a2a2a" stroke-width="1.8" />
<text x="328.2" y="739.7" font-size="22" text-anchor="middle" font-weight="normal" font-style="normal" font-family="'Liberation Sans', Arial, sans-serif" letter-spacing="0.3" >380</text>
<line x1="378.43" y1="707.7" x2="378.43" y2="700.2" stroke="#888" stroke-width="1.2" />
<line x1="428.65" y1="707.7" x2="428.65" y2="698.2" stroke="#2a2a2a" stroke-width="1.8" />
<text x="428.65" y="739.7" font-size="22" text-anchor="middle" font-weight="normal" font-style="normal" font-family="'Liberation Sans', Arial, sans-serif" letter-spacing="0.3" >400</text>
<line x1="478.88" y1="707.7" x2="478.88" y2="700.2" stroke="#888" stroke-width="1.2" />
<line x1="529.1" y1="707.7" x2="529.1" y2="698.2" stroke="#2a2a2a" stroke-width="1.8" />
<text x="529.1" y="739.7" font-size="22" text-anchor="middle" font-weight="normal" font-style="normal" font-family="'Liberation Sans', Arial, sans-serif" letter-spacing="0.3" >420</text>
<line x1="579.33" y1="707.7" x2="579.33" y2="700.2" stroke="#888" stroke-width="1.2" />
<line x1="629.55" y1="707.7" x2="629.55" y2="698.2" stroke="#2a2a2a" stroke-width="1.8" />
<text x="629.55" y="739.7" font-size="22" text-anchor="middle" font-weight="normal" font-style="normal" font-family="'Liberation Sans', Arial, sans-serif" letter-spacing="0.3" >440</text>
<line x1="679.77" y1="707.7" x2="679.77" y2="700.2" stroke="#888" stroke-width="1.2" />
<text x="730" y="739.7" font-size="22" text-anchor="middle" font-weight="normal" font-style="normal" font-family="'Liberation Sans', Arial, sans-serif" letter-spacing="0.3" >460</text>
<text x="431.15" y="777.7" font-size="24" text-anchor="middle" font-weight="normal" letter-spacing="1.7" style="stroke-width:1.05px" font-family="'Liberation Sans', Arial, sans-serif"><tspan font-family="'Liberation Serif', 'Times New Roman', serif" font-size="25" style="stroke-width:0.5px">&#955;</tspan> (nm)</text>
<text x="0" y="0" transform="translate(37.3,380.8) rotate(-90)" font-size="25" text-anchor="middle" font-weight="normal" letter-spacing="1.0" font-family="'Liberation Sans', Arial, sans-serif">Fluorescence Intensity (arbitrory units)</text>
<text x="150.5" y="97.6" font-size="20" font-weight="normal" font-family="'Liberation Sans', Arial, sans-serif" letter-spacing="0.65"><tspan font-weight="bold" stroke-width="0">N</tspan>on His<tspan font-size="12" dy="6">6</tspan><tspan dy="-6">-tagged </tspan><tspan font-style="italic">Bd</tspan>PTE</text>
<text x="150.6" y="416.5" font-size="20" text-anchor="start" font-weight="normal" font-style="normal" font-family="'Liberation Sans', Arial, sans-serif" letter-spacing="0.4" >0.3 &#956;M</text>
<text x="150.6" y="441.3" font-size="20" font-weight="normal" font-family="'Liberation Sans', Arial, sans-serif" letter-spacing="0.65">His<tspan font-size="12" dy="6">6</tspan><tspan dy="-6">-tagged </tspan><tspan font-style="italic">Bd</tspan>PTE</text>
<line x1="303.4" y1="140.4" x2="303.4" y2="708" stroke="#000" stroke-width="3.2" stroke-linecap="round" stroke-dasharray="0.6 8.82"/>
<line x1="356.3" y1="169.3" x2="356.3" y2="708" stroke="#000" stroke-width="3.2" stroke-linecap="round" stroke-dasharray="0.6 8.82"/>
<text x="0" y="0" transform="translate(302.3,131.6) scale(1.2,1)" font-size="21.5" text-anchor="middle" font-weight="bold" font-family="'Liberation Serif', 'Times New Roman', serif">I</text>
<text x="0" y="0" transform="translate(360.7,154) scale(1.2,1)" font-size="21.5" text-anchor="middle" font-weight="bold" font-family="'Liberation Serif', 'Times New Roman', serif">III</text>
<text x="599.4" y="96.1" font-size="17.5" font-weight="bold" font-style="italic" font-family="'Liberation Sans', Arial, sans-serif">c<tspan font-size="11.5" font-style="normal" dy="6" letter-spacing="0.6">SDS</tspan><tspan font-size="14" font-style="normal" dy="-6" dx="6" letter-spacing="0.5">(mM)</tspan></text>
<line x1="562.4" y1="121.3" x2="600.2" y2="121.3" stroke="#2e2e2e" stroke-width="2.3" />
<text x="609" y="126.7" font-size="15" text-anchor="start" font-weight="bold" font-style="normal" font-family="'Liberation Sans', Arial, sans-serif" letter-spacing="0.5" >0</text>
<line x1="562.4" y1="141.8" x2="600.2" y2="141.8" stroke="#9a6a6e" stroke-width="1.5" />
<text x="609" y="147.2" font-size="15" text-anchor="start" font-weight="bold" font-style="normal" font-family="'Liberation Sans', Arial, sans-serif" letter-spacing="0.5" >0.2</text>
<line x1="562.4" y1="162.3" x2="600.2" y2="162.3" stroke="#b06a6a" stroke-width="1.5" />
<text x="609" y="167.7" font-size="15" text-anchor="start" font-weight="bold" font-style="normal" font-family="'Liberation Sans', Arial, sans-serif" letter-spacing="0.5" >0.4</text>
<line x1="562.4" y1="182.8" x2="600.2" y2="182.8" stroke="#d06a6a" stroke-width="1.8" />
<text x="609" y="188.2" font-size="15" text-anchor="start" font-weight="bold" font-style="normal" font-family="'Liberation Sans', Arial, sans-serif" letter-spacing="0.5" >0.6</text>
<line x1="562.4" y1="203.3" x2="600.2" y2="203.3" stroke="#eca0a8" stroke-width="1.8" />
<text x="609" y="208.7" font-size="15" text-anchor="start" font-weight="bold" font-style="normal" font-family="'Liberation Sans', Arial, sans-serif" letter-spacing="0.5" >0.8</text>
<line x1="562.4" y1="223.8" x2="600.2" y2="223.8" stroke="#eeb070" stroke-width="1.8" />
<text x="609" y="229.2" font-size="15" text-anchor="start" font-weight="bold" font-style="normal" font-family="'Liberation Sans', Arial, sans-serif" letter-spacing="0.5" >1.0</text>
<line x1="562.4" y1="244.3" x2="600.2" y2="244.3" stroke="#c49070" stroke-width="1.6" />
<text x="609" y="249.7" font-size="15" text-anchor="start" font-weight="bold" font-style="normal" font-family="'Liberation Sans', Arial, sans-serif" letter-spacing="0.5" >1.2</text>
<line x1="562.4" y1="264.8" x2="600.2" y2="264.8" stroke="#a08070" stroke-width="1.6" />
<text x="609" y="270.2" font-size="15" text-anchor="start" font-weight="bold" font-style="normal" font-family="'Liberation Sans', Arial, sans-serif" letter-spacing="0.5" >1.4</text>
<line x1="562.4" y1="285.3" x2="600.2" y2="285.3" stroke="#788850" stroke-width="2.2" />
<text x="609" y="290.7" font-size="15" text-anchor="start" font-weight="bold" font-style="normal" font-family="'Liberation Sans', Arial, sans-serif" letter-spacing="0.5" >1.6</text>
<line x1="562.4" y1="305.8" x2="600.2" y2="305.8" stroke="#a8aa70" stroke-width="2.0" />
<text x="609" y="311.2" font-size="15" text-anchor="start" font-weight="bold" font-style="normal" font-family="'Liberation Sans', Arial, sans-serif" letter-spacing="0.5" >1.8</text>
<line x1="644.8" y1="118.7" x2="683.3" y2="118.7" stroke="#cccc58" stroke-width="2.0" />
<text x="692.5" y="124.1" font-size="15" text-anchor="start" font-weight="bold" font-style="normal" font-family="'Liberation Sans', Arial, sans-serif" letter-spacing="0.5" >2.0</text>
<line x1="644.8" y1="143.1" x2="683.3" y2="143.1" stroke="#22b832" stroke-width="2.8" />
<text x="692.5" y="148.5" font-size="15" text-anchor="start" font-weight="bold" font-style="normal" font-family="'Liberation Sans', Arial, sans-serif" letter-spacing="0.5" >2.5</text>
<line x1="644.8" y1="163.8" x2="683.3" y2="163.8" stroke="#3a7a48" stroke-width="2.6" />
<text x="692.5" y="169.2" font-size="15" text-anchor="start" font-weight="bold" font-style="normal" font-family="'Liberation Sans', Arial, sans-serif" letter-spacing="0.5" >3.0</text>
<line x1="644.8" y1="184.3" x2="683.3" y2="184.3" stroke="#5a9898" stroke-width="1.6" />
<text x="692.5" y="189.7" font-size="15" text-anchor="start" font-weight="bold" font-style="normal" font-family="'Liberation Sans', Arial, sans-serif" letter-spacing="0.5" >3.5</text>
<line x1="644.8" y1="204.7" x2="683.3" y2="204.7" stroke="#60c8cc" stroke-width="2.0" />
<text x="692.5" y="210.1" font-size="15" text-anchor="start" font-weight="bold" font-style="normal" font-family="'Liberation Sans', Arial, sans-serif" letter-spacing="0.5" >4.0</text>
<line x1="644.8" y1="225.2" x2="683.3" y2="225.2" stroke="#12a892" stroke-width="3.0" />
<text x="692.5" y="230.6" font-size="15" text-anchor="start" font-weight="bold" font-style="normal" font-family="'Liberation Sans', Arial, sans-serif" letter-spacing="0.5" >5.0</text>
<line x1="644.8" y1="245.8" x2="683.3" y2="245.8" stroke="#62a2a2" stroke-width="1.8" />
<text x="692.5" y="251.2" font-size="15" text-anchor="start" font-weight="bold" font-style="normal" font-family="'Liberation Sans', Arial, sans-serif" letter-spacing="0.5" >6.0</text>
<line x1="644.8" y1="266.3" x2="683.3" y2="266.3" stroke="#4aa2cc" stroke-width="2.0" />
<text x="692.5" y="271.7" font-size="15" text-anchor="start" font-weight="bold" font-style="normal" font-family="'Liberation Sans', Arial, sans-serif" letter-spacing="0.5" >7.0</text>
<line x1="644.8" y1="286.9" x2="683.3" y2="286.9" stroke="#3a6a92" stroke-width="2.4" />
<text x="692.5" y="292.3" font-size="15" text-anchor="start" font-weight="bold" font-style="normal" font-family="'Liberation Sans', Arial, sans-serif" letter-spacing="0.5" >8.0</text>
<line x1="644.8" y1="307.5" x2="683.3" y2="307.5" stroke="#8a42c2" stroke-width="2.8" />
<text x="692.5" y="312.9" font-size="15" text-anchor="start" font-weight="bold" font-style="normal" font-family="'Liberation Sans', Arial, sans-serif" letter-spacing="0.5" >9.0</text>
<line x1="644.8" y1="327.7" x2="683.3" y2="327.7" stroke="#b282ba" stroke-width="2.0" />
<text x="692.5" y="333.1" font-size="15" text-anchor="start" font-weight="bold" font-style="normal" font-family="'Liberation Sans', Arial, sans-serif" letter-spacing="0.5" >10.0</text>
<path d="M180.5,1199.2 183,1199.5 185.5,1198.8 188,1199.2 190.5,1198.5 193,1199.3 195.5,1198.6 198,1198.6 200.5,1198.3 203,1198.6 205.4,1198.2 207.9,1197.6 210.4,1198.3 212.9,1197.9 215.4,1197.2 217.9,1197.5 220.4,1196.7 222.9,1197.1 225.4,1196.8 227.9,1196.1 230.4,1196.1 232.9,1195.5 235.4,1195.3 237.9,1195.5 240.4,1194.4 242.9,1194.3 245.4,1193.9 247.9,1193.6 250.4,1193.8 252.9,1193.1 255.3,1192.1 257.8,1192.2 260.3,1191.8 262.8,1190.6 265.3,1189.8 267.8,1188.8 270.3,1188.4 272.8,1187.9 275.3,1186.9 277.8,1185.7 280.3,1183.7 282.8,1179.4 285.3,1173.6 287.8,1165.2 290.3,1152.9 292.8,1135 295.3,1117.7 297.8,1100.8 300.3,1086.3 302.8,1078.4 305.2,1073.8 307.7,1078.7 310.2,1088.5 312.7,1099.3 315.2,1108.9 317.7,1114.7 320.2,1117.8 322.7,1119.2 325.2,1119.6 327.7,1119.2 330.2,1120.2 332.7,1120 335.2,1122.1 337.7,1123.2 340.2,1124.5 342.7,1124.6 345.2,1123.5 347.7,1122.5 350.2,1121.2 352.7,1119.8 355.1,1118.8 357.6,1120.8 360.1,1123.4 362.6,1125.5 365.1,1126 367.6,1127.1 370.1,1126.7 372.6,1125.6 375.1,1123.7 377.6,1121.1 380.1,1117.3 382.6,1112.5 385.1,1108.1 387.6,1104.3 390.1,1099.4 392.6,1096.4 395.1,1092.4 397.6,1088.8 400.1,1085.7 402.6,1085.9 405,1086.8 407.5,1089.4 410,1092.3 412.5,1095.2 415,1099.5 417.5,1104.7 420,1109.6 422.5,1115.9 425,1120.5 427.5,1125.8 430,1130.2 432.5,1132.7 435,1136.1 437.5,1138.3 440,1140 442.5,1142 445,1143.4 447.5,1144.6 450,1145.4 452.5,1146 455,1147.4 457.4,1148.9 459.9,1150.1 462.4,1150.8 464.9,1153 467.4,1153.5 469.9,1154.7 472.4,1155.6 474.9,1156.6 477.4,1157.5 479.9,1158.1 482.4,1158.7 484.9,1158.1 487.4,1158.7 489.9,1158.7 492.4,1158.5 494.9,1158.7 497.4,1159 499.9,1158 502.4,1158.4 504.9,1159.2 507.3,1159.1 509.8,1159.3 512.3,1158.9 514.8,1158.8 517.3,1160 519.8,1159.6 522.3,1161.2 524.8,1161.9 527.3,1163 529.8,1164.4 532.3,1165.7 534.8,1167.1 537.3,1168.4 539.8,1170.3 542.3,1172 544.8,1174.5 547.3,1175.9 549.8,1176.7 552.3,1178.8 554.7,1180.1 557.2,1181 559.7,1181.9 562.2,1182.8 564.7,1183.3 567.2,1184.8 569.7,1184.8 572.2,1185.8 574.7,1185.8 577.2,1186.4 579.7,1187 582.2,1187.1 584.7,1187.4 587.2,1187.9 589.7,1188.3 592.2,1188.2 594.7,1189.4 597.2,1189 599.7,1189.7 602.2,1189.8 604.6,1190.6 607.1,1190.6 609.6,1190.4 612.1,1190.3 614.6,1191.1 617.1,1191.6 619.6,1191.5 622.1,1192.3 624.6,1191.6 627.1,1192.3 629.6,1192.4 632.1,1193 634.6,1193.1 637.1,1193.3 639.6,1193.2 642.1,1194.1 644.6,1193.4 647.1,1193.8 649.6,1194.8 652.1,1194.9 654.5,1194.3 657,1194.8 659.5,1194.9 662,1195.4 664.5,1195.4 667,1195.9 669.5,1195.7 672,1196.2 674.5,1195.9 677,1196.9 679.5,1197.1" fill="none" stroke="#404040" stroke-width="1.6" stroke-linejoin="round" />
<path d="M180.5,1199.3 183,1199.1 185.5,1199.2 188,1199.1 190.5,1198.8 193,1198.7 195.5,1198.7 198,1199.1 200.5,1198.7 203,1198.5 205.4,1198 207.9,1198.1 210.4,1198.1 212.9,1197.6 215.4,1197.5 217.9,1197.7 220.4,1197 222.9,1197.1 225.4,1196.6 227.9,1196.3 230.4,1196.4 232.9,1195.4 235.4,1195.8 237.9,1194.8 240.4,1194.5 242.9,1194.3 245.4,1193.3 247.9,1193.4 250.4,1193 252.9,1192 255.3,1191.7 257.8,1190.6 260.3,1189.6 262.8,1188.2 265.3,1187.7 267.8,1186.5 270.3,1185.5 272.8,1184.7 275.3,1184.1 277.8,1182.7 280.3,1181.6 282.8,1177.1 285.3,1169.3 287.8,1158.2 290.3,1140.8 292.8,1122.9 295.3,1104 297.8,1086.6 300.3,1074.5 302.8,1064.8 305.2,1060 307.7,1062.3 310.2,1069.7 312.7,1077.1 315.2,1088.8 317.7,1097.3 320.2,1103.9 322.7,1108.5 325.2,1109.3 327.7,1109.4 330.2,1108.3 332.7,1107.4 335.2,1107.4 337.7,1106.4 340.2,1106 342.7,1105.8 345.2,1105.6 347.7,1104.6 350.2,1100.7 352.7,1094 355.1,1088.2 357.6,1082.4 360.1,1078.2 362.6,1077.2 365.1,1081 367.6,1084.3 370.1,1087.1 372.6,1089.3 375.1,1090.5 377.6,1090.2 380.1,1088.5 382.6,1086.8 385.1,1085.2 387.6,1082.1 390.1,1078.7 392.6,1075.4 395.1,1072.1 397.6,1068.8 400.1,1065.2 402.6,1062 405,1058.5 407.5,1056.4 410,1056.8 412.5,1059.5 415,1062.6 417.5,1066.2 420,1073 422.5,1081.5 425,1089.2 427.5,1095.4 430,1102 432.5,1108.3 435,1111.9 437.5,1113.3 440,1114.9 442.5,1116.4 445,1117.2 447.5,1117.9 450,1118.3 452.5,1119.1 455,1119.7 457.4,1120.2 459.9,1120.9 462.4,1121.4 464.9,1121.9 467.4,1122.1 469.9,1122.9 472.4,1123.5 474.9,1123.1 477.4,1123.6 479.9,1123.4 482.4,1124.3 484.9,1125.1 487.4,1125.6 489.9,1125.5 492.4,1126.6 494.9,1128.1 497.4,1128.6 499.9,1129.3 502.4,1129.7 504.9,1130.9 507.3,1132.1 509.8,1131.8 512.3,1132.9 514.8,1133 517.3,1133.8 519.8,1133.9 522.3,1134.2 524.8,1135.3 527.3,1135.7 529.8,1136.2 532.3,1137.6 534.8,1138.6 537.3,1140.6 539.8,1142.4 542.3,1144.2 544.8,1145.7 547.3,1147.8 549.8,1150.4 552.3,1152.4 554.7,1154.5 557.2,1157.4 559.7,1159.4 562.2,1161.1 564.7,1162.7 567.2,1164 569.7,1165.4 572.2,1166.7 574.7,1167.5 577.2,1168.5 579.7,1169.5 582.2,1170.1 584.7,1171.2 587.2,1172 589.7,1172.7 592.2,1173.8 594.7,1173.9 597.2,1175.4 599.7,1175.7 602.2,1176.9 604.6,1177.2 607.1,1178.1 609.6,1178.6 612.1,1178.5 614.6,1179.8 617.1,1180.1 619.6,1181 622.1,1180.8 624.6,1181 627.1,1182.8 629.6,1183.4 632.1,1183.7 634.6,1183.6 637.1,1184.4 639.6,1185.5 642.1,1185.6 644.6,1185.5 647.1,1185.9 649.6,1185.7 652.1,1186.4 654.5,1186.9 657,1187.2 659.5,1187.6 662,1187.9 664.5,1187.9 667,1187.8 669.5,1188.5 672,1188.5 674.5,1188.5 677,1188.3 679.5,1188.8" fill="none" stroke="#a05a5a" stroke-width="1.5" stroke-linejoin="round" />
<path d="M180.5,1199.4 183,1199 185.5,1198.8 188,1199.4 190.5,1199.2 193,1198.9 195.5,1198.2 198,1198 200.5,1198.2 203,1198 205.4,1198.2 207.9,1198.2 210.4,1197.5 212.9,1197.2 215.4,1197.3 217.9,1197.7 220.4,1196.8 222.9,1196.6 225.4,1196.6 227.9,1195.9 230.4,1195.4 232.9,1195.2 235.4,1195.1 237.9,1194.9 240.4,1194.2 242.9,1194.3 245.4,1193.1 247.9,1192.6 250.4,1192.2 252.9,1191.3 255.3,1191 257.8,1189.8 260.3,1189 262.8,1188.1 265.3,1186.8 267.8,1186.2 270.3,1185.2 272.8,1184.8 275.3,1183.4 277.8,1182.1 280.3,1180.4 282.8,1176.1 285.3,1168.1 287.8,1157 290.3,1140.6 292.8,1122 295.3,1103.3 297.8,1084.9 300.3,1072.8 302.8,1063.1 305.2,1058.5 307.7,1060.8 310.2,1068.2 312.7,1075.5 315.2,1087.3 317.7,1095.8 320.2,1102.3 322.7,1107.4 325.2,1109.1 327.7,1108.1 330.2,1106.9 332.7,1106.1 335.2,1105.4 337.7,1105.6 340.2,1104.9 342.7,1104.6 345.2,1103.8 347.7,1103.2 350.2,1099.1 352.7,1092.6 355.1,1086.9 357.6,1081.1 360.1,1077.3 362.6,1076.5 365.1,1079.5 367.6,1082.6 370.1,1085.3 372.6,1087.9 375.1,1089.2 377.6,1089.2 380.1,1087.6 382.6,1085.8 385.1,1083.2 387.6,1081.1 390.1,1077.4 392.6,1073.2 395.1,1069.9 397.6,1067.3 400.1,1063.9 402.6,1059.6 405,1056.6 407.5,1054.9 410,1054.7 412.5,1057.8 415,1060.7 417.5,1064.7 420,1071 422.5,1079.8 425,1087.6 427.5,1093.8 430,1100.7 432.5,1106.7 435,1110.3 437.5,1112.6 440,1113.7 442.5,1114.8 445,1115.9 447.5,1116.9 450,1117.3 452.5,1118.1 455,1118.6 457.4,1119 459.9,1119.6 462.4,1120.4 464.9,1120.9 467.4,1121 469.9,1122.1 472.4,1121.8 474.9,1122.2 477.4,1123.7 479.9,1123.5 482.4,1123.5 484.9,1124.4 487.4,1124.2 489.9,1124.8 492.4,1125.7 494.9,1126.5 497.4,1127.2 499.9,1128 502.4,1128.8 504.9,1129.6 507.3,1130.1 509.8,1130.6 512.3,1131.5 514.8,1131.2 517.3,1132.6 519.8,1132.4 522.3,1133.3 524.8,1133.5 527.3,1134.1 529.8,1134.9 532.3,1136.1 534.8,1137.4 537.3,1138.5 539.8,1141.1 542.3,1143.5 544.8,1144.2 547.3,1146.7 549.8,1149.4 552.3,1151.6 554.7,1153.9 557.2,1156 559.7,1158.3 562.2,1159.7 564.7,1161.5 567.2,1162.9 569.7,1164.4 572.2,1164.9 574.7,1165.7 577.2,1167.4 579.7,1168.5 582.2,1169.3 584.7,1170.4 587.2,1171 589.7,1171.8 592.2,1172.3 594.7,1173.2 597.2,1173.7 599.7,1174.9 602.2,1176.1 604.6,1175.6 607.1,1176.3 609.6,1177.5 612.1,1178 614.6,1177.8 617.1,1178.7 619.6,1179.8 622.1,1180.7 624.6,1180.8 627.1,1181.3 629.6,1181.7 632.1,1182.2 634.6,1182.1 637.1,1183.4 639.6,1184.2 642.1,1184.2 644.6,1184.6 647.1,1185 649.6,1185.2 652.1,1185.3 654.5,1185.9 657,1185.9 659.5,1186.4 662,1187.3 664.5,1186.9 667,1187 669.5,1187 672,1187.7 674.5,1187.1 677,1188.3 679.5,1188.2" fill="none" stroke="#e04848" stroke-width="2.0" stroke-linejoin="round" />
<path d="M180.5,1199.2 183,1198.5 185.5,1198.8 188,1198.5 190.5,1198.4 193,1199 195.5,1198.1 198,1198.4 200.5,1198.4 203,1197.5 205.4,1198.2 207.9,1198 210.4,1197.6 212.9,1196.7 215.4,1196.7 217.9,1196.8 220.4,1196 222.9,1196.6 225.4,1196.6 227.9,1195.6 230.4,1195.4 232.9,1195.1 235.4,1195.2 237.9,1194.3 240.4,1193.9 242.9,1193.9 245.4,1192.8 247.9,1192.3 250.4,1191.3 252.9,1191.3 255.3,1190.4 257.8,1189.3 260.3,1189 262.8,1187.7 265.3,1186.7 267.8,1185.5 270.3,1184 272.8,1183.5 275.3,1182.7 277.8,1181.6 280.3,1179.8 282.8,1175.1 285.3,1167.4 287.8,1156 290.3,1139.1 292.8,1120.8 295.3,1101.7 297.8,1083.5 300.3,1071.2 302.8,1062.7 305.2,1057 307.7,1059.2 310.2,1066.4 312.7,1074.3 315.2,1085.5 317.7,1094.7 320.2,1101.5 322.7,1105.9 325.2,1108 327.7,1106.9 330.2,1105.7 332.7,1104.9 335.2,1104.4 337.7,1103.6 340.2,1104.1 342.7,1103.1 345.2,1103 347.7,1102.1 350.2,1097.4 352.7,1090.8 355.1,1085.1 357.6,1079 360.1,1075.1 362.6,1074.4 365.1,1077.4 367.6,1081.4 370.1,1084.1 372.6,1086.3 375.1,1088.4 377.6,1087.7 380.1,1086.7 382.6,1083.3 385.1,1081.9 387.6,1079 390.1,1076.4 392.6,1071.8 395.1,1069.3 397.6,1065.7 400.1,1061.2 402.6,1057.8 405,1054.8 407.5,1052.6 410,1053.5 412.5,1055.8 415,1059.2 417.5,1063.3 420,1070.1 422.5,1078.5 425,1086.1 427.5,1092.5 430,1099.3 432.5,1105 435,1108.6 437.5,1110.7 440,1112 442.5,1113.3 445,1113.9 447.5,1115.3 450,1115.3 452.5,1116.6 455,1117.2 457.4,1117.6 459.9,1118.5 462.4,1118.7 464.9,1119.2 467.4,1119.8 469.9,1120.2 472.4,1121.1 474.9,1120.5 477.4,1121.5 479.9,1122.7 482.4,1121.7 484.9,1122.5 487.4,1123.1 489.9,1123.9 492.4,1124.7 494.9,1125.2 497.4,1125.4 499.9,1126.8 502.4,1127.5 504.9,1128.5 507.3,1129.6 509.8,1129.8 512.3,1130.2 514.8,1130.4 517.3,1130.9 519.8,1131.4 522.3,1132.4 524.8,1132.9 527.3,1133.4 529.8,1134.7 532.3,1135.6 534.8,1136.2 537.3,1138.3 539.8,1140.3 542.3,1142.1 544.8,1143.6 547.3,1145.8 549.8,1148.2 552.3,1150.3 554.7,1152.6 557.2,1154.8 559.7,1157.3 562.2,1159 564.7,1160.6 567.2,1162.4 569.7,1163.4 572.2,1164.4 574.7,1164.7 577.2,1166.2 579.7,1167.1 582.2,1167.8 584.7,1169 587.2,1169.2 589.7,1170.9 592.2,1171.8 594.7,1172.2 597.2,1173.1 599.7,1174 602.2,1174.4 604.6,1175.8 607.1,1175.6 609.6,1176.6 612.1,1176.9 614.6,1177.9 617.1,1178.3 619.6,1178.4 622.1,1179.6 624.6,1179.5 627.1,1180.5 629.6,1180.2 632.1,1181.9 634.6,1181.5 637.1,1182.5 639.6,1182.3 642.1,1183.4 644.6,1184 647.1,1183.9 649.6,1184.1 652.1,1184.6 654.5,1184.8 657,1185.2 659.5,1185.6 662,1186.1 664.5,1185.7 667,1185.9 669.5,1186.6 672,1186.1 674.5,1186.7 677,1186.7 679.5,1187.1" fill="none" stroke="#e03a3a" stroke-width="2.6" stroke-linejoin="round" />
<path d="M180.5,1199.1 183,1199.1 185.5,1198.8 188,1199 190.5,1199.1 193,1198.9 195.5,1198.6 198,1198.5 200.5,1198.5 203,1198 205.4,1197.6 207.9,1197.6 210.4,1197.9 212.9,1197.6 215.4,1197.3 217.9,1197.2 220.4,1197.4 222.9,1197.2 225.4,1196.5 227.9,1195.8 230.4,1195.9 232.9,1195.4 235.4,1195.2 237.9,1194.9 240.4,1194.8 242.9,1193.6 245.4,1193.8 247.9,1192.9 250.4,1192.3 252.9,1192.2 255.3,1191 257.8,1190.6 260.3,1189 262.8,1188.1 265.3,1187.4 267.8,1186.4 270.3,1185.4 272.8,1184.4 275.3,1183.8 277.8,1182 280.3,1181.4 282.8,1176.5 285.3,1168 287.8,1158.4 290.3,1140.7 292.8,1122.3 295.3,1104.2 297.8,1085.1 300.3,1074.2 302.8,1064.2 305.2,1059.3 307.7,1061.7 310.2,1067.5 312.7,1076.9 315.2,1087.1 317.7,1096.6 320.2,1102.4 322.7,1107.7 325.2,1109.4 327.7,1108.5 330.2,1106.9 332.7,1107.2 335.2,1106.1 337.7,1105.5 340.2,1105.4 342.7,1105.4 345.2,1104.4 347.7,1103.7 350.2,1099.4 352.7,1092.8 355.1,1087.6 357.6,1082 360.1,1077.5 362.6,1076.9 365.1,1080 367.6,1083.7 370.1,1085.6 372.6,1088.4 375.1,1090.1 377.6,1089.8 380.1,1087.6 382.6,1086.4 385.1,1083.6 387.6,1081.9 390.1,1078.3 392.6,1074.3 395.1,1070.9 397.6,1068.2 400.1,1064.5 402.6,1060.5 405,1057.8 407.5,1056.4 410,1056.1 412.5,1058.8 415,1061.8 417.5,1064.8 420,1072.9 422.5,1080.8 425,1088.3 427.5,1094.7 430,1101.7 432.5,1106.7 435,1111.1 437.5,1112.5 440,1113.9 442.5,1115.3 445,1116.2 447.5,1116.8 450,1118 452.5,1118.2 455,1119.2 457.4,1119.4 459.9,1120.4 462.4,1121 464.9,1121.4 467.4,1121.4 469.9,1121.6 472.4,1122.6 474.9,1122.4 477.4,1123.3 479.9,1123.4 482.4,1124.1 484.9,1124.5 487.4,1125 489.9,1125.9 492.4,1126.2 494.9,1127.2 497.4,1127.4 499.9,1128.6 502.4,1129.2 504.9,1130.1 507.3,1130.9 509.8,1131.1 512.3,1132 514.8,1132.2 517.3,1132.4 519.8,1132.9 522.3,1133.3 524.8,1133.9 527.3,1134.8 529.8,1135.9 532.3,1136.7 534.8,1137.6 537.3,1139.5 539.8,1141.6 542.3,1143.8 544.8,1144.9 547.3,1147.4 549.8,1150.1 552.3,1152.2 554.7,1154.4 557.2,1156.1 559.7,1158.7 562.2,1160.4 564.7,1162.1 567.2,1163.5 569.7,1164.9 572.2,1165.9 574.7,1166.8 577.2,1167.8 579.7,1168.8 582.2,1169.8 584.7,1170.8 587.2,1171.6 589.7,1172.5 592.2,1173 594.7,1173.4 597.2,1175 599.7,1175.2 602.2,1176.2 604.6,1176.6 607.1,1177.4 609.6,1177.7 612.1,1178.7 614.6,1179.3 617.1,1179.9 619.6,1179.8 622.1,1180.6 624.6,1181.6 627.1,1182.3 629.6,1182.8 632.1,1183.6 634.6,1183 637.1,1183.8 639.6,1183.8 642.1,1184 644.6,1185 647.1,1185.7 649.6,1185.7 652.1,1186.3 654.5,1186.4 657,1186 659.5,1186.4 662,1186.4 664.5,1187.7 667,1187.6 669.5,1188 672,1188 674.5,1188 677,1188.3 679.5,1188.4" fill="none" stroke="#f4a4a4" stroke-width="1.5" stroke-linejoin="round" />
<path d="M180.5,1198.7 183,1198.2 185.5,1198.1 188,1198 190.5,1197.8 193,1197.9 195.5,1197.6 198,1197.3 200.5,1196.9 203,1197.4 205.4,1197.4 207.9,1197.4 210.4,1196.7 212.9,1196.7 215.4,1195.9 217.9,1196.6 220.4,1196.1 222.9,1196 225.4,1195.4 227.9,1195.2 230.4,1195.2 232.9,1194.7 235.4,1193.9 237.9,1193.4 240.4,1193.1 242.9,1192.6 245.4,1192.1 247.9,1191.8 250.4,1191 252.9,1190.6 255.3,1189.3 257.8,1188.8 260.3,1187.7 262.8,1186.2 265.3,1185 267.8,1184.2 270.3,1183.5 272.8,1182.7 275.3,1181.8 277.8,1180.4 280.3,1178.5 282.8,1174.3 285.3,1166 287.8,1155.6 290.3,1137.4 292.8,1118.7 295.3,1100 297.8,1080.4 300.3,1068.4 302.8,1058.3 305.2,1053.5 307.7,1056.1 310.2,1063.9 312.7,1072.1 315.2,1083.1 317.7,1092.2 320.2,1098.8 322.7,1104 325.2,1105 327.7,1104.5 330.2,1103.6 332.7,1102.2 335.2,1102.2 337.7,1101.5 340.2,1101.2 342.7,1100.4 345.2,1100.3 347.7,1099.6 350.2,1095.2 352.7,1088.2 355.1,1082.6 357.6,1076.6 360.1,1072.4 362.6,1071.2 365.1,1075.1 367.6,1078.5 370.1,1080.6 372.6,1083.3 375.1,1085 377.6,1084.7 380.1,1082.5 382.6,1081.1 385.1,1078.8 387.6,1076.5 390.1,1073.2 392.6,1069.5 395.1,1066 397.6,1061.9 400.1,1058.4 402.6,1054.6 405,1051.3 407.5,1049 410,1050.2 412.5,1051.8 415,1055.8 417.5,1059.7 420,1066.2 422.5,1075.1 425,1082.5 427.5,1089.7 430,1096.2 432.5,1101.8 435,1105.1 437.5,1107.7 440,1109.3 442.5,1110.5 445,1111.6 447.5,1112.6 450,1113.2 452.5,1113.8 455,1115.2 457.4,1114.9 459.9,1115.5 462.4,1116.3 464.9,1117.2 467.4,1117.5 469.9,1118.1 472.4,1118.1 474.9,1118.9 477.4,1119.7 479.9,1120.1 482.4,1120.3 484.9,1120.3 487.4,1120.5 489.9,1122 492.4,1122.5 494.9,1123.1 497.4,1124.5 499.9,1124.4 502.4,1125.5 504.9,1126 507.3,1126.6 509.8,1127.9 512.3,1127.6 514.8,1128.7 517.3,1128.7 519.8,1129.4 522.3,1129.6 524.8,1130.4 527.3,1131.1 529.8,1131.8 532.3,1132.8 534.8,1134.3 537.3,1135.6 539.8,1138.1 542.3,1139.7 544.8,1141.2 547.3,1143.9 549.8,1145.6 552.3,1148.2 554.7,1151 557.2,1152.2 559.7,1154.9 562.2,1156.6 564.7,1158.4 567.2,1159.9 569.7,1161.2 572.2,1161.7 574.7,1163.1 577.2,1163.8 579.7,1165.2 582.2,1166.1 584.7,1167 587.2,1167.4 589.7,1168.2 592.2,1169.2 594.7,1169.6 597.2,1171.2 599.7,1171.6 602.2,1173 604.6,1172.9 607.1,1173.5 609.6,1174.3 612.1,1175.4 614.6,1175.4 617.1,1175.9 619.6,1176.7 622.1,1177.7 624.6,1178.2 627.1,1178.7 629.6,1178.9 632.1,1179 634.6,1179.8 637.1,1180.3 639.6,1181.1 642.1,1180.8 644.6,1181.1 647.1,1181.9 649.6,1182.3 652.1,1182.8 654.5,1182.5 657,1183.4 659.5,1183.3 662,1183.4 664.5,1184.2 667,1183.9 669.5,1184.2 672,1184.7 674.5,1184.8 677,1184.8 679.5,1185.2" fill="none" stroke="#f2b464" stroke-width="1.6" stroke-linejoin="round" />
<path d="M180.5,1198.1 183,1197.3 185.5,1197.4 188,1197.5 190.5,1197.2 193,1197.9 195.5,1197 198,1196.6 200.5,1196.5 203,1197.3 205.4,1196.9 207.9,1196.3 210.4,1196.1 212.9,1196.3 215.4,1195.4 217.9,1195.6 220.4,1195.4 222.9,1195.3 225.4,1194.4 227.9,1195 230.4,1193.8 232.9,1194 235.4,1193.6 237.9,1193.2 240.4,1192.5 242.9,1192.2 245.4,1191.8 247.9,1190.5 250.4,1189.9 252.9,1189.6 255.3,1188.6 257.8,1187 260.3,1186.5 262.8,1185 265.3,1184.4 267.8,1183 270.3,1182.3 272.8,1181.3 275.3,1180.3 277.8,1178.8 280.3,1177.6 282.8,1173 285.3,1164.1 287.8,1153 290.3,1135.4 292.8,1116.6 295.3,1097.1 297.8,1078.2 300.3,1064.8 302.8,1055.6 305.2,1050.8 307.7,1052.9 310.2,1060.1 312.7,1069.3 315.2,1080.6 317.7,1090.6 320.2,1096.8 322.7,1101.7 325.2,1103.4 327.7,1102.2 330.2,1101 332.7,1099.8 335.2,1099 337.7,1098 340.2,1098.1 342.7,1098 345.2,1097.4 347.7,1097.2 350.2,1092.6 352.7,1085.9 355.1,1080 357.6,1073.8 360.1,1069.4 362.6,1069 365.1,1072.2 367.6,1075.9 370.1,1078.3 372.6,1081.2 375.1,1082.4 377.6,1081.5 380.1,1080.5 382.6,1078.1 385.1,1075.8 387.6,1073.1 390.1,1069.8 392.6,1065.7 395.1,1062 397.6,1058.9 400.1,1054.5 402.6,1050.5 405,1047.7 407.5,1045.7 410,1046.7 412.5,1048.8 415,1051.6 417.5,1056.5 420,1063.5 422.5,1072.2 425,1080 427.5,1086.6 430,1093.1 432.5,1098.7 435,1102.7 437.5,1104.7 440,1106.5 442.5,1107.8 445,1108.5 447.5,1110.1 450,1110.6 452.5,1111.4 455,1112.8 457.4,1112.9 459.9,1113.5 462.4,1113.6 464.9,1114.8 467.4,1114.8 469.9,1116.2 472.4,1116.1 474.9,1116.2 477.4,1117.1 479.9,1117 482.4,1117.5 484.9,1118 487.4,1118.7 489.9,1118.9 492.4,1120.4 494.9,1120.9 497.4,1121.8 499.9,1122.9 502.4,1123.2 504.9,1123.9 507.3,1124.8 509.8,1125.1 512.3,1125.5 514.8,1125.5 517.3,1126.3 519.8,1126.8 522.3,1126.8 524.8,1128.1 527.3,1128.5 529.8,1129.2 532.3,1130.5 534.8,1132.1 537.3,1133.6 539.8,1135.3 542.3,1137.5 544.8,1139.2 547.3,1142.2 549.8,1144.2 552.3,1145.5 554.7,1148 557.2,1150.3 559.7,1152.9 562.2,1154.6 564.7,1156 567.2,1157.4 569.7,1159.1 572.2,1159.8 574.7,1161.1 577.2,1162 579.7,1162.6 582.2,1164.2 584.7,1165 587.2,1165.2 589.7,1166.3 592.2,1167.8 594.7,1167.9 597.2,1169.5 599.7,1169.2 602.2,1170.5 604.6,1170.6 607.1,1171 609.6,1172 612.1,1172.9 614.6,1172.7 617.1,1174.5 619.6,1174.5 622.1,1175.5 624.6,1176.2 627.1,1176.2 629.6,1177.2 632.1,1176.9 634.6,1177.8 637.1,1178.2 639.6,1179.1 642.1,1178.9 644.6,1179.3 647.1,1180.6 649.6,1180.4 652.1,1180.3 654.5,1180.9 657,1181.9 659.5,1181.3 662,1181.7 664.5,1182.1 667,1182.4 669.5,1182.5 672,1182.6 674.5,1182.6 677,1183.1 679.5,1182.9" fill="none" stroke="#c48a4c" stroke-width="2.2" stroke-linejoin="round" />
<path d="M180.5,1197.3 183,1197.6 185.5,1196.4 188,1197.7 190.5,1196.8 193,1196.9 195.5,1196.8 198,1196.2 200.5,1197 203,1196.5 205.4,1196.1 207.9,1195.3 210.4,1195.6 212.9,1195.2 215.4,1195.8 217.9,1195.4 220.4,1194.5 222.9,1194.7 225.4,1194.3 227.9,1193.7 230.4,1194.3 232.9,1193.7 235.4,1192.9 237.9,1193 240.4,1192.2 242.9,1191.5 245.4,1191 247.9,1190.2 250.4,1189.4 252.9,1188.2 255.3,1187.2 257.8,1186.7 260.3,1185.6 262.8,1183.7 265.3,1182.5 267.8,1181.5 270.3,1181 272.8,1179.7 275.3,1178.8 277.8,1178.4 280.3,1175.8 282.8,1171.6 285.3,1163.5 287.8,1152.2 290.3,1133.8 292.8,1114.5 295.3,1094.6 297.8,1075.5 300.3,1062.9 302.8,1052.5 305.2,1047.4 307.7,1049.7 310.2,1057.1 312.7,1066 315.2,1077.7 317.7,1088 320.2,1094.4 322.7,1099.5 325.2,1100.6 327.7,1099.7 330.2,1098.6 332.7,1097.5 335.2,1096.8 337.7,1095.1 340.2,1096 342.7,1095.1 345.2,1095 347.7,1094.4 350.2,1089.9 352.7,1083 355.1,1076.9 357.6,1071.2 360.1,1066.4 362.6,1065.7 365.1,1068.8 367.6,1072.4 370.1,1074.9 372.6,1077.4 375.1,1079.3 377.6,1079 380.1,1076.9 382.6,1075.2 385.1,1072.8 387.6,1070.3 390.1,1066.8 392.6,1062.7 395.1,1059 397.6,1056.1 400.1,1052.2 402.6,1047.8 405,1044.2 407.5,1042.1 410,1043.6 412.5,1044.9 415,1049.1 417.5,1052.5 420,1060.4 422.5,1068.8 425,1076.3 427.5,1083.5 430,1090.1 432.5,1095.6 435,1100.3 437.5,1102.6 440,1104.3 442.5,1105.7 445,1106.4 447.5,1107.8 450,1109 452.5,1109.1 455,1109.1 457.4,1110.1 459.9,1111.2 462.4,1111.7 464.9,1111.8 467.4,1112.5 469.9,1113.3 472.4,1113.3 474.9,1114 477.4,1114.7 479.9,1115.1 482.4,1115.5 484.9,1115.7 487.4,1117 489.9,1117.4 492.4,1118.1 494.9,1119.5 497.4,1119.8 499.9,1120.9 502.4,1121.1 504.9,1121.9 507.3,1122.4 509.8,1122.9 512.3,1124 514.8,1123.9 517.3,1124.1 519.8,1124.4 522.3,1125.1 524.8,1125.9 527.3,1126.2 529.8,1126.8 532.3,1128.3 534.8,1130.3 537.3,1131.3 539.8,1133.1 542.3,1134.9 544.8,1137.1 547.3,1139.2 549.8,1141.6 552.3,1144.3 554.7,1145.7 557.2,1148.3 559.7,1150.4 562.2,1152.4 564.7,1153.5 567.2,1155 569.7,1156.1 572.2,1157.9 574.7,1159.3 577.2,1160 579.7,1160.5 582.2,1161.3 584.7,1162.9 587.2,1163.1 589.7,1164.8 592.2,1165.2 594.7,1165.9 597.2,1166.2 599.7,1168 602.2,1168.6 604.6,1169.6 607.1,1169.8 609.6,1170.8 612.1,1170.6 614.6,1171.8 617.1,1172.2 619.6,1171.9 622.1,1173 624.6,1173.9 627.1,1174.1 629.6,1174.6 632.1,1175 634.6,1176.1 637.1,1176.2 639.6,1176.8 642.1,1177.2 644.6,1177.7 647.1,1177.6 649.6,1178 652.1,1179.1 654.5,1179.1 657,1179.3 659.5,1179.3 662,1179.7 664.5,1179.8 667,1180.4 669.5,1180.7 672,1180.7 674.5,1180.6 677,1181.4 679.5,1181.4" fill="none" stroke="#a07850" stroke-width="1.6" stroke-linejoin="round" />
<path d="M180.5,1197.2 183,1196.8 185.5,1196.9 188,1197 190.5,1196.3 193,1196.5 195.5,1196.2 198,1195.8 200.5,1195.1 203,1195.8 205.4,1195.3 207.9,1195 210.4,1195 212.9,1194.5 215.4,1194.1 217.9,1194.1 220.4,1194 222.9,1193.5 225.4,1193.5 227.9,1193.2 230.4,1192.9 232.9,1192.4 235.4,1192.3 237.9,1191.4 240.4,1191.3 242.9,1190.4 245.4,1190.1 247.9,1189.6 250.4,1188.8 252.9,1187.8 255.3,1186.9 257.8,1185.3 260.3,1183.9 262.8,1183.1 265.3,1181.6 267.8,1180.3 270.3,1179.6 272.8,1178.5 275.3,1177.9 277.8,1176.4 280.3,1175 282.8,1169.6 285.3,1161.9 287.8,1150.1 290.3,1131.5 292.8,1112.4 295.3,1092.2 297.8,1072.3 300.3,1059.1 302.8,1050 305.2,1044.2 307.7,1046.7 310.2,1054.2 312.7,1063.4 315.2,1075.5 317.7,1085.3 320.2,1091.9 322.7,1096.9 325.2,1098.1 327.7,1097.1 330.2,1096.4 332.7,1095 335.2,1094.2 337.7,1093.2 340.2,1093.8 342.7,1092.9 345.2,1092.8 347.7,1091.8 350.2,1088.1 352.7,1080.3 355.1,1073.6 357.6,1068.1 360.1,1063.2 362.6,1062.5 365.1,1065.2 367.6,1069.4 370.1,1072.7 372.6,1074.9 375.1,1076.2 377.6,1075.8 380.1,1074.3 382.6,1072.4 385.1,1069.8 387.6,1067.2 390.1,1064.2 392.6,1059.6 395.1,1055.6 397.6,1052.2 400.1,1047.9 402.6,1044.1 405,1040.3 407.5,1039 410,1040 412.5,1042.2 415,1045.1 417.5,1049.7 420,1057.3 422.5,1065.6 425,1072.7 427.5,1079.9 430,1087.1 432.5,1093.4 435,1097.6 437.5,1099.5 440,1101 442.5,1102.4 445,1103 447.5,1104.7 450,1105.6 452.5,1106.3 455,1107.4 457.4,1107.6 459.9,1108.7 462.4,1109 464.9,1109.7 467.4,1109.9 469.9,1110.3 472.4,1111.9 474.9,1111.5 477.4,1112.6 479.9,1112.6 482.4,1113.6 484.9,1113.5 487.4,1113.9 489.9,1115.1 492.4,1116.1 494.9,1116.7 497.4,1117.8 499.9,1118.1 502.4,1118.6 504.9,1119.8 507.3,1120.1 509.8,1120.6 512.3,1121.2 514.8,1121.2 517.3,1121.9 519.8,1122.4 522.3,1122.7 524.8,1123.2 527.3,1123.8 529.8,1124.9 532.3,1125.8 534.8,1127.5 537.3,1128.8 539.8,1130.3 542.3,1132.1 544.8,1135 547.3,1137.1 549.8,1140 552.3,1142 554.7,1144.2 557.2,1145.9 559.7,1148 562.2,1150.4 564.7,1152.1 567.2,1153.1 569.7,1154.2 572.2,1155.5 574.7,1156.5 577.2,1157.6 579.7,1157.9 582.2,1159.3 584.7,1160.5 587.2,1161.6 589.7,1162.4 592.2,1163 594.7,1164.2 597.2,1164 599.7,1165 602.2,1165.8 604.6,1166.4 607.1,1167.4 609.6,1168 612.1,1168.9 614.6,1169.7 617.1,1170.3 619.6,1170.2 622.1,1171.3 624.6,1171.7 627.1,1172.5 629.6,1172.1 632.1,1173.5 634.6,1173.9 637.1,1174.6 639.6,1174.8 642.1,1175.3 644.6,1175 647.1,1176.4 649.6,1175.8 652.1,1176.5 654.5,1177.9 657,1177.5 659.5,1177.2 662,1177.8 664.5,1178.2 667,1178.6 669.5,1178.7 672,1178.7 674.5,1179.1 677,1178.9 679.5,1178.9" fill="none" stroke="#909050" stroke-width="1.6" stroke-linejoin="round" />
<path d="M180.5,1196.4 183,1196.7 185.5,1196.2 188,1196.3 190.5,1195.6 193,1195.9 195.5,1196.3 198,1195.3 200.5,1195.5 203,1194.9 205.4,1194.8 207.9,1194.9 210.4,1194.3 212.9,1194.3 215.4,1193.8 217.9,1193.8 220.4,1194.2 222.9,1193.3 225.4,1193.2 227.9,1192.8 230.4,1192.2 232.9,1192.3 235.4,1191.1 237.9,1191.7 240.4,1191.2 242.9,1190.1 245.4,1188.8 247.9,1188.5 250.4,1187.9 252.9,1186.8 255.3,1185.8 257.8,1184.5 260.3,1183 262.8,1181.4 265.3,1180.1 267.8,1179.1 270.3,1178.3 272.8,1177.1 275.3,1176.7 277.8,1175.1 280.3,1174.2 282.8,1168.6 285.3,1160.2 287.8,1148.7 290.3,1129.9 292.8,1110.1 295.3,1090.2 297.8,1069.1 300.3,1056.2 302.8,1046.2 305.2,1041.1 307.7,1043.7 310.2,1051.3 312.7,1060.4 315.2,1072.7 317.7,1083.2 320.2,1089.1 322.7,1094.8 325.2,1095.8 327.7,1095.2 330.2,1093.7 332.7,1092.6 335.2,1092 337.7,1090.7 340.2,1090.8 342.7,1090.7 345.2,1090.2 347.7,1089.6 350.2,1084.6 352.7,1078 355.1,1071.6 357.6,1065.2 360.1,1060.1 362.6,1059.9 365.1,1062.8 367.6,1066.8 370.1,1069.3 372.6,1071.9 375.1,1072.6 377.6,1073.1 380.1,1071.6 382.6,1068.6 385.1,1066.9 387.6,1063.5 390.1,1060.6 392.6,1056.7 395.1,1053.2 397.6,1049.4 400.1,1045 402.6,1040.8 405,1037.5 407.5,1035.9 410,1035.8 412.5,1038.3 415,1042 417.5,1045.9 420,1053.9 422.5,1062.2 425,1070.9 427.5,1077.3 430,1085.1 432.5,1090.6 435,1094.7 437.5,1097.1 440,1098.4 442.5,1099.6 445,1100.5 447.5,1102.4 450,1103.3 452.5,1103.6 455,1103.9 457.4,1105 459.9,1105.5 462.4,1106.9 464.9,1107.4 467.4,1108.1 469.9,1108.5 472.4,1108.7 474.9,1109.1 477.4,1109.7 479.9,1110.8 482.4,1111.1 484.9,1111.9 487.4,1112.2 489.9,1113.2 492.4,1113.5 494.9,1113.8 497.4,1115 499.9,1116.3 502.4,1116.8 504.9,1117.9 507.3,1117.7 509.8,1118.3 512.3,1118.8 514.8,1119.5 517.3,1119 519.8,1120 522.3,1120.3 524.8,1120.6 527.3,1121.9 529.8,1122.3 532.3,1123.9 534.8,1125.4 537.3,1126.7 539.8,1129.6 542.3,1130.6 544.8,1132.8 547.3,1135.2 549.8,1137.1 552.3,1139.3 554.7,1141.4 557.2,1143.6 559.7,1145.3 562.2,1147.6 564.7,1149.2 567.2,1151.1 569.7,1151.9 572.2,1153.8 574.7,1154.5 577.2,1155 579.7,1157 582.2,1156.6 584.7,1158.5 587.2,1159.2 589.7,1160.5 592.2,1160 594.7,1162.3 597.2,1162.7 599.7,1163.3 602.2,1163.4 604.6,1164.3 607.1,1165.4 609.6,1165.9 612.1,1166.3 614.6,1167.1 617.1,1167.9 619.6,1168.3 622.1,1168.7 624.6,1169.4 627.1,1169.9 629.6,1170.6 632.1,1171.5 634.6,1171.3 637.1,1172.2 639.6,1172.9 642.1,1172.9 644.6,1173.2 647.1,1173.7 649.6,1174.1 652.1,1175 654.5,1174.7 657,1175.1 659.5,1175.4 662,1176.3 664.5,1176.1 667,1176.9 669.5,1176.7 672,1176.5 674.5,1177.5 677,1177.2 679.5,1177.5" fill="none" stroke="#b4aa72" stroke-width="1.6" stroke-linejoin="round" />
<path d="M180.5,1195.8 183,1196.1 185.5,1196 188,1196.1 190.5,1195.9 193,1194.5 195.5,1195.1 198,1195 200.5,1194.5 203,1194.5 205.4,1194.7 207.9,1194.5 210.4,1193.8 212.9,1194 215.4,1193.2 217.9,1193.4 220.4,1193.3 222.9,1192.8 225.4,1192.7 227.9,1192.1 230.4,1192.4 232.9,1191.6 235.4,1190.6 237.9,1190.7 240.4,1189.5 242.9,1188.7 245.4,1188.8 247.9,1187.6 250.4,1187.1 252.9,1186.1 255.3,1185.2 257.8,1183.4 260.3,1181.8 262.8,1180.3 265.3,1178.9 267.8,1178.1 270.3,1177 272.8,1176 275.3,1175.2 277.8,1174.3 280.3,1172.1 282.8,1167.1 285.3,1159 287.8,1146.6 290.3,1128.1 292.8,1108.4 295.3,1087.3 297.8,1066.4 300.3,1053.7 302.8,1043.6 305.2,1038.3 307.7,1040.8 310.2,1047.5 312.7,1057.6 315.2,1070.6 317.7,1080.3 320.2,1087.5 322.7,1092.4 325.2,1093.7 327.7,1093.2 330.2,1090.6 332.7,1089.6 335.2,1089.1 337.7,1088.7 340.2,1087.9 342.7,1088.3 345.2,1087.8 347.7,1087 350.2,1082.3 352.7,1075 355.1,1068.7 357.6,1062.5 360.1,1057.4 362.6,1057 365.1,1060.3 367.6,1062.9 370.1,1066.3 372.6,1069.2 375.1,1070.5 377.6,1070.3 380.1,1068.4 382.6,1067 385.1,1064 387.6,1060.5 390.1,1057.3 392.6,1053.8 395.1,1049.6 397.6,1045.9 400.1,1041.9 402.6,1037.3 405,1033.8 407.5,1031.6 410,1032.3 412.5,1035.3 415,1038.3 417.5,1043.3 420,1050.3 422.5,1059 425,1067.5 427.5,1074.4 430,1081.4 432.5,1087.7 435,1091.7 437.5,1094 440,1095.8 442.5,1097.2 445,1099.1 447.5,1098.8 450,1100.2 452.5,1101.8 455,1101.3 457.4,1102.1 459.9,1103.4 462.4,1103.5 464.9,1104.1 467.4,1105.5 469.9,1106.4 472.4,1106.8 474.9,1106.9 477.4,1107.8 479.9,1107.8 482.4,1108.8 484.9,1109.9 487.4,1110 489.9,1110.5 492.4,1110.9 494.9,1112.3 497.4,1113 499.9,1113.4 502.4,1114.5 504.9,1115 507.3,1115.8 509.8,1115.9 512.3,1116.8 514.8,1116.8 517.3,1117.6 519.8,1117.4 522.3,1118.3 524.8,1118.8 527.3,1119.6 529.8,1120.3 532.3,1120.8 534.8,1122.7 537.3,1124.8 539.8,1126.7 542.3,1128.8 544.8,1130 547.3,1132.5 549.8,1135.1 552.3,1137.1 554.7,1139.4 557.2,1141.8 559.7,1143.4 562.2,1145.6 564.7,1147.2 567.2,1148.4 569.7,1150.2 572.2,1152.5 574.7,1152.9 577.2,1153.6 579.7,1154.2 582.2,1155 584.7,1155.8 587.2,1157.7 589.7,1158.2 592.2,1158.8 594.7,1159.1 597.2,1160.6 599.7,1161.9 602.2,1162.4 604.6,1162.9 607.1,1163.5 609.6,1163.8 612.1,1164.2 614.6,1165.3 617.1,1165.1 619.6,1166.2 622.1,1166.8 624.6,1167.4 627.1,1167.9 629.6,1168.8 632.1,1168.9 634.6,1169.7 637.1,1170.5 639.6,1171.1 642.1,1170.9 644.6,1171.5 647.1,1171.2 649.6,1172.3 652.1,1173.7 654.5,1173.6 657,1173.7 659.5,1173.4 662,1173.5 664.5,1174.7 667,1174.8 669.5,1174.3 672,1175.6 674.5,1175.3 677,1174.7 679.5,1175.8" fill="none" stroke="#e2e040" stroke-width="2.0" stroke-linejoin="round" />
<path d="M180.5,1195.4 183,1195.1 185.5,1195.5 188,1194.9 190.5,1194.5 193,1194.7 195.5,1194.1 198,1194 200.5,1194.2 203,1193.7 205.4,1193.5 207.9,1193 210.4,1193.2 212.9,1193.6 215.4,1192.7 217.9,1192.3 220.4,1192.2 222.9,1191.8 225.4,1192 227.9,1190.9 230.4,1190.9 232.9,1191 235.4,1190.4 237.9,1189.7 240.4,1189 242.9,1188.7 245.4,1187.1 247.9,1187 250.4,1186.1 252.9,1185.2 255.3,1183.8 257.8,1181.9 260.3,1180.8 262.8,1179.1 265.3,1177.3 267.8,1176.7 270.3,1175.1 272.8,1174.3 275.3,1173.4 277.8,1172.2 280.3,1170.5 282.8,1165.8 285.3,1157.4 287.8,1144.9 290.3,1126.2 292.8,1105.5 295.3,1084.3 297.8,1063.4 300.3,1049.9 302.8,1039.9 305.2,1034.2 307.7,1036.8 310.2,1045.4 312.7,1054.7 315.2,1068.2 317.7,1077.8 320.2,1084.9 322.7,1089.8 325.2,1091 327.7,1089.9 330.2,1087.7 332.7,1087.3 335.2,1085.6 337.7,1085 340.2,1084.9 342.7,1084.4 345.2,1083.9 347.7,1083.2 350.2,1079.1 352.7,1071.8 355.1,1065 357.6,1058.7 360.1,1053.5 362.6,1053 365.1,1056.2 367.6,1059.8 370.1,1062.6 372.6,1065.7 375.1,1067.5 377.6,1066.4 380.1,1065.4 382.6,1062.7 385.1,1060.4 387.6,1057 390.1,1053.9 392.6,1049.9 395.1,1045.8 397.6,1041.3 400.1,1037.4 402.6,1033.1 405,1029 407.5,1027 410,1027.3 412.5,1030.7 415,1034.2 417.5,1038.7 420,1046.2 422.5,1055 425,1063.1 427.5,1070.2 430,1077.9 432.5,1083.6 435,1087.9 437.5,1090.6 440,1092 442.5,1093.4 445,1094.9 447.5,1096.3 450,1096.7 452.5,1097.4 455,1099 457.4,1099.2 459.9,1100.1 462.4,1100.6 464.9,1102.1 467.4,1102.5 469.9,1102.7 472.4,1103.9 474.9,1104.3 477.4,1104.6 479.9,1105.3 482.4,1106.2 484.9,1106.6 487.4,1107.1 489.9,1108.2 492.4,1108.7 494.9,1109.1 497.4,1110.6 499.9,1110.9 502.4,1111.9 504.9,1112.2 507.3,1112.9 509.8,1113.7 512.3,1113.6 514.8,1114.7 517.3,1114.4 519.8,1115.4 522.3,1115.8 524.8,1116.4 527.3,1116.6 529.8,1117.7 532.3,1118.9 534.8,1120.2 537.3,1121.9 539.8,1123.4 542.3,1125.4 544.8,1127.5 547.3,1129.6 549.8,1131.7 552.3,1134.4 554.7,1136.6 557.2,1138.9 559.7,1140.5 562.2,1142.3 564.7,1144.1 567.2,1145.6 569.7,1147.2 572.2,1148.2 574.7,1149.3 577.2,1150.2 579.7,1151.4 582.2,1153.3 584.7,1153.7 587.2,1154.4 589.7,1155.5 592.2,1155.6 594.7,1157.1 597.2,1157.6 599.7,1157.8 602.2,1159.1 604.6,1160.6 607.1,1160.6 609.6,1161.3 612.1,1162 614.6,1162.5 617.1,1163.1 619.6,1164.4 622.1,1164.3 624.6,1164.9 627.1,1166 629.6,1165.8 632.1,1166.1 634.6,1167.5 637.1,1167.7 639.6,1168.5 642.1,1168.7 644.6,1168.9 647.1,1169.1 649.6,1169.5 652.1,1169.6 654.5,1170.5 657,1171.1 659.5,1171.9 662,1171.5 664.5,1171.5 667,1172.1 669.5,1172.7 672,1172.1 674.5,1172.4 677,1173 679.5,1173.1" fill="none" stroke="#40c060" stroke-width="2.0" stroke-linejoin="round" />
<path d="M180.5,1194.4 183,1194.5 185.5,1194.3 188,1194.8 190.5,1194.5 193,1194.3 195.5,1194.4 198,1193.8 200.5,1193.2 203,1193.2 205.4,1193.1 207.9,1193.3 210.4,1192 212.9,1192.8 215.4,1191.7 217.9,1192.1 220.4,1191.5 222.9,1191.2 225.4,1191.2 227.9,1190.8 230.4,1190.7 232.9,1190.2 235.4,1189.4 237.9,1188.9 240.4,1188.1 242.9,1187.2 245.4,1187.5 247.9,1186 250.4,1185 252.9,1183.2 255.3,1182.7 257.8,1180.9 260.3,1179 262.8,1177.5 265.3,1176.2 267.8,1174.7 270.3,1173.6 272.8,1173 275.3,1172.4 277.8,1170.6 280.3,1169.3 282.8,1164 285.3,1155.5 287.8,1142.3 290.3,1123.4 292.8,1103 295.3,1080.9 297.8,1059.9 300.3,1046.9 302.8,1036.1 305.2,1029.9 307.7,1033.5 310.2,1040.6 312.7,1050.6 315.2,1064.1 317.7,1074.5 320.2,1081.7 322.7,1086.9 325.2,1088.1 327.7,1086.6 330.2,1085.2 332.7,1084.4 335.2,1083.2 337.7,1082.1 340.2,1082.5 342.7,1080.9 345.2,1081.2 347.7,1080 350.2,1075.2 352.7,1068.3 355.1,1062 357.6,1055.4 360.1,1050.2 362.6,1049.4 365.1,1052.2 367.6,1056.1 370.1,1059.1 372.6,1061.6 375.1,1063.1 377.6,1063.1 380.1,1061 382.6,1059.6 385.1,1056.8 387.6,1053.6 390.1,1050.3 392.6,1046.1 395.1,1041.8 397.6,1037.8 400.1,1033.4 402.6,1029 405,1025.1 407.5,1022.9 410,1022.9 412.5,1026.4 415,1029.8 417.5,1035.1 420,1042 422.5,1051.4 425,1059.9 427.5,1066.6 430,1074.3 432.5,1080.6 435,1084.9 437.5,1087.2 440,1089.1 442.5,1090 445,1091.1 447.5,1093.1 450,1093.5 452.5,1094.2 455,1095.5 457.4,1096.5 459.9,1097 462.4,1097.4 464.9,1098.7 467.4,1099.5 469.9,1099.6 472.4,1100.7 474.9,1101.9 477.4,1102.3 479.9,1103 482.4,1103 484.9,1103.6 487.4,1104.6 489.9,1105 492.4,1106.1 494.9,1106.6 497.4,1107 499.9,1108.6 502.4,1109.3 504.9,1109.2 507.3,1110 509.8,1110.2 512.3,1111.4 514.8,1112 517.3,1111.5 519.8,1112.4 522.3,1113.1 524.8,1113.5 527.3,1113.3 529.8,1114.3 532.3,1116.7 534.8,1117.3 537.3,1118.6 539.8,1120.6 542.3,1122.7 544.8,1125 547.3,1126.7 549.8,1129 552.3,1132 554.7,1134.1 557.2,1135.7 559.7,1138.2 562.2,1139.8 564.7,1141.4 567.2,1143.2 569.7,1144.8 572.2,1145.8 574.7,1147.4 577.2,1148.2 579.7,1149.1 582.2,1150 584.7,1150.4 587.2,1151.9 589.7,1152.7 592.2,1153.3 594.7,1154.1 597.2,1155 599.7,1156.3 602.2,1156.1 604.6,1157.3 607.1,1158.4 609.6,1159 612.1,1159.5 614.6,1159.9 617.1,1160.9 619.6,1161.2 622.1,1161.8 624.6,1161.8 627.1,1163 629.6,1164.2 632.1,1164 634.6,1165.2 637.1,1165.3 639.6,1165.8 642.1,1165.7 644.6,1166.9 647.1,1167.6 649.6,1167.2 652.1,1168.1 654.5,1167.7 657,1168.4 659.5,1168.7 662,1169 664.5,1169.4 667,1169.8 669.5,1170.1 672,1169.7 674.5,1170.1 677,1170.9 679.5,1170.3" fill="none" stroke="#40a060" stroke-width="2.0" stroke-linejoin="round" />
<path d="M180.5,1194.6 183,1194.1 185.5,1193.8 188,1193.5 190.5,1193.7 193,1192.8 195.5,1192.9 198,1192.9 200.5,1193 203,1192.5 205.4,1191.8 207.9,1191.6 210.4,1191.3 212.9,1191.5 215.4,1190.8 217.9,1190.8 220.4,1190 222.9,1190.2 225.4,1190.2 227.9,1189.6 230.4,1189.1 232.9,1188.6 235.4,1188.1 237.9,1187.9 240.4,1187.1 242.9,1186.1 245.4,1185.2 247.9,1184.5 250.4,1183.3 252.9,1182.9 255.3,1180.9 257.8,1179.3 260.3,1177.5 262.8,1175.4 265.3,1174 267.8,1172.5 270.3,1171.4 272.8,1170.8 275.3,1169.8 277.8,1168.4 280.3,1167.3 282.8,1162.1 285.3,1153.5 287.8,1139.9 290.3,1120 292.8,1098.8 295.3,1076.6 297.8,1055.3 300.3,1040.7 302.8,1030.2 305.2,1025.6 307.7,1027.3 310.2,1035.6 312.7,1046.5 315.2,1059.6 317.7,1071 320.2,1077.8 322.7,1082.8 325.2,1083.7 327.7,1083 330.2,1080.8 332.7,1079.7 335.2,1078 337.7,1078.2 340.2,1077.4 342.7,1076.8 345.2,1076.5 347.7,1076.3 350.2,1070.7 352.7,1063.8 355.1,1057.4 357.6,1050.4 360.1,1044.9 362.6,1045 365.1,1047 367.6,1050.9 370.1,1054.2 372.6,1056.9 375.1,1058.2 377.6,1057.9 380.1,1056.2 382.6,1054.2 385.1,1051 387.6,1048.3 390.1,1045 392.6,1040.7 395.1,1035.8 397.6,1032.2 400.1,1027.4 402.6,1022.9 405,1018.4 407.5,1016.4 410,1017.4 412.5,1020.2 415,1023.7 417.5,1028.4 420,1036.6 422.5,1046.3 425,1053.6 427.5,1061.5 430,1069.1 432.5,1075.3 435,1079.9 437.5,1081.6 440,1084.4 442.5,1085.1 445,1087 447.5,1088.4 450,1089 452.5,1090.1 455,1090.6 457.4,1091.4 459.9,1093.3 462.4,1093.1 464.9,1093.9 467.4,1094.1 469.9,1095.8 472.4,1097.4 474.9,1097 477.4,1097.9 479.9,1098.5 482.4,1099.4 484.9,1100.3 487.4,1100.7 489.9,1101.3 492.4,1102.4 494.9,1102.2 497.4,1103.9 499.9,1104.6 502.4,1105.7 504.9,1105.2 507.3,1106.6 509.8,1106.5 512.3,1107 514.8,1108 517.3,1108.1 519.8,1108.9 522.3,1108.3 524.8,1109.4 527.3,1109.9 529.8,1111.2 532.3,1111.8 534.8,1113.3 537.3,1115.5 539.8,1116.8 542.3,1119.2 544.8,1120.6 547.3,1123.1 549.8,1125.3 552.3,1127.8 554.7,1129.8 557.2,1132.4 559.7,1134 562.2,1136.6 564.7,1137.8 567.2,1139.6 569.7,1140.8 572.2,1142 574.7,1143.1 577.2,1143.7 579.7,1145.3 582.2,1146.2 584.7,1147.3 587.2,1147.6 589.7,1148.7 592.2,1150.1 594.7,1150.5 597.2,1151.6 599.7,1152.1 602.2,1153.1 604.6,1153.4 607.1,1154.3 609.6,1155 612.1,1155.8 614.6,1155.7 617.1,1157.3 619.6,1158.2 622.1,1158.7 624.6,1158.7 627.1,1159.1 629.6,1160.1 632.1,1160.7 634.6,1160.9 637.1,1162.1 639.6,1162 642.1,1162.6 644.6,1162.8 647.1,1163.4 649.6,1163.8 652.1,1164.6 654.5,1164.5 657,1165.2 659.5,1165.7 662,1165.6 664.5,1165.9 667,1166.2 669.5,1166.7 672,1167.1 674.5,1166.9 677,1167.3 679.5,1167.9" fill="none" stroke="#1e908a" stroke-width="2.6" stroke-linejoin="round" />
<path d="M180.5,1193.8 183,1193.3 185.5,1193.7 188,1192.4 190.5,1192.9 193,1192.4 195.5,1191.9 198,1191.8 200.5,1191.9 203,1191 205.4,1191.1 207.9,1191 210.4,1190.8 212.9,1190.7 215.4,1189.7 217.9,1190 220.4,1189.5 222.9,1189.6 225.4,1188.9 227.9,1187.9 230.4,1188.5 232.9,1187.6 235.4,1187.4 237.9,1186.3 240.4,1185.4 242.9,1184.7 245.4,1184.8 247.9,1183.1 250.4,1182.7 252.9,1181.3 255.3,1179.3 257.8,1177.4 260.3,1175.5 262.8,1173.4 265.3,1171.5 267.8,1170.7 270.3,1169.1 272.8,1168.8 275.3,1167.6 277.8,1166.1 280.3,1164.4 282.8,1159.7 285.3,1150.6 287.8,1137.2 290.3,1116.7 292.8,1095.4 295.3,1072.4 297.8,1050.6 300.3,1035.8 302.8,1024.8 305.2,1019.5 307.7,1021.6 310.2,1031.2 312.7,1041.4 315.2,1056.1 317.7,1066.7 320.2,1073.5 322.7,1078.3 325.2,1080 327.7,1079.1 330.2,1076.7 332.7,1075.6 335.2,1074.6 337.7,1073.2 340.2,1073.3 342.7,1072.4 345.2,1072.4 347.7,1071 350.2,1066.9 352.7,1059.2 355.1,1052.1 357.6,1045.4 360.1,1039.5 362.6,1038.9 365.1,1041.8 367.6,1045.7 370.1,1048.8 372.6,1051.4 375.1,1052.9 377.6,1052.4 380.1,1051 382.6,1048.4 385.1,1046 387.6,1043.3 390.1,1039.1 392.6,1035 395.1,1030.5 397.6,1026.1 400.1,1022 402.6,1017.2 405,1012.3 407.5,1009.9 410,1011.5 412.5,1014.1 415,1017 417.5,1022.7 420,1031.5 422.5,1039.5 425,1048.5 427.5,1056 430,1063.8 432.5,1070.7 435,1074.5 437.5,1077.8 440,1079 442.5,1080.7 445,1081.8 447.5,1083.6 450,1084.4 452.5,1085.4 455,1086.4 457.4,1087.5 459.9,1087.9 462.4,1089.7 464.9,1090.1 467.4,1091.1 469.9,1091.9 472.4,1091.5 474.9,1093.4 477.4,1093.7 479.9,1094.9 482.4,1095.4 484.9,1095.8 487.4,1096.9 489.9,1097.6 492.4,1098.1 494.9,1099.1 497.4,1100.2 499.9,1100.8 502.4,1100.8 504.9,1102 507.3,1102.7 509.8,1103.2 512.3,1103.5 514.8,1103.7 517.3,1103.9 519.8,1104.6 522.3,1104.8 524.8,1104.7 527.3,1106.1 529.8,1106.7 532.3,1107.9 534.8,1109.4 537.3,1110.9 539.8,1113.1 542.3,1114.4 544.8,1117.2 547.3,1119.8 549.8,1121.4 552.3,1124 554.7,1126.4 557.2,1128.4 559.7,1131 562.2,1132 564.7,1134.6 567.2,1135.6 569.7,1137 572.2,1138.9 574.7,1139.4 577.2,1140.4 579.7,1141.2 582.2,1142.3 584.7,1143.2 587.2,1144 589.7,1145.1 592.2,1146.2 594.7,1146.3 597.2,1148.2 599.7,1148.6 602.2,1149.4 604.6,1150.2 607.1,1150.9 609.6,1151.6 612.1,1152.2 614.6,1152.7 617.1,1153.8 619.6,1154.3 622.1,1155.1 624.6,1155.3 627.1,1155.6 629.6,1156.7 632.1,1156.9 634.6,1157.2 637.1,1158.1 639.6,1158.8 642.1,1158.8 644.6,1159.7 647.1,1159.9 649.6,1160.3 652.1,1161.3 654.5,1160.8 657,1161.5 659.5,1161.4 662,1161.6 664.5,1162.1 667,1162.9 669.5,1163.4 672,1164.1 674.5,1163.9 677,1164.1 679.5,1164.3" fill="none" stroke="#20b8c8" stroke-width="3.0" stroke-linejoin="round" />
<path d="M180.5,1192.3 183,1192.8 185.5,1192.6 188,1192.3 190.5,1191.8 193,1191.4 195.5,1191.2 198,1191 200.5,1191.1 203,1190.6 205.4,1190.2 207.9,1190.1 210.4,1190.1 212.9,1188.8 215.4,1189.3 217.9,1189.3 220.4,1188.8 222.9,1188.6 225.4,1188.6 227.9,1187.5 230.4,1186.9 232.9,1187.1 235.4,1186.3 237.9,1185.6 240.4,1184.7 242.9,1184.4 245.4,1182.8 247.9,1182.3 250.4,1181.2 252.9,1179.9 255.3,1177.8 257.8,1176 260.3,1173.7 262.8,1171.9 265.3,1169.9 267.8,1168.6 270.3,1167.4 272.8,1166.6 275.3,1165.8 277.8,1165 280.3,1163.1 282.8,1157.4 285.3,1148.1 287.8,1134.3 290.3,1114.1 292.8,1092.3 295.3,1068.9 297.8,1046.1 300.3,1030.8 302.8,1020.4 305.2,1015.1 307.7,1017.1 310.2,1026.3 312.7,1037 315.2,1051.8 317.7,1063.6 320.2,1069.2 322.7,1075 325.2,1076.8 327.7,1075.3 330.2,1073.4 332.7,1071.4 335.2,1070.6 337.7,1069.3 340.2,1069.4 342.7,1068.2 345.2,1067.4 347.7,1067.9 350.2,1063 352.7,1054.6 355.1,1048.1 357.6,1042.1 360.1,1035.9 362.6,1034.4 365.1,1037.2 367.6,1041.4 370.1,1044.6 372.6,1047.3 375.1,1048.7 377.6,1048.6 380.1,1046.5 382.6,1044.4 385.1,1041.9 387.6,1039.2 390.1,1034.3 392.6,1031 395.1,1025.7 397.6,1021.5 400.1,1017.5 402.6,1011.7 405,1007 407.5,1005 410,1005.5 412.5,1008.6 415,1011.6 417.5,1017 420,1025.5 422.5,1035 425,1044.4 427.5,1052.3 430,1059.7 432.5,1066.3 435,1070.7 437.5,1073.1 440,1075.1 442.5,1076.7 445,1078 447.5,1079.3 450,1080.5 452.5,1081.4 455,1082 457.4,1083 459.9,1084.5 462.4,1085.2 464.9,1086.2 467.4,1087.1 469.9,1088.1 472.4,1088.8 474.9,1089.4 477.4,1090.5 479.9,1091.2 482.4,1092.2 484.9,1092.4 487.4,1093.1 489.9,1094.6 492.4,1095.3 494.9,1096.2 497.4,1096.1 499.9,1097.2 502.4,1097.9 504.9,1098.4 507.3,1099.3 509.8,1099.6 512.3,1100.1 514.8,1100.3 517.3,1100.5 519.8,1100.8 522.3,1101.4 524.8,1102.1 527.3,1103.1 529.8,1102.8 532.3,1104.7 534.8,1105.9 537.3,1107.5 539.8,1109.5 542.3,1111.6 544.8,1113.6 547.3,1115.6 549.8,1118.1 552.3,1120.6 554.7,1122.7 557.2,1125.1 559.7,1127 562.2,1128.7 564.7,1131.1 567.2,1132.5 569.7,1133.2 572.2,1134.9 574.7,1136.4 577.2,1136.8 579.7,1137.8 582.2,1138.8 584.7,1140.2 587.2,1140.9 589.7,1142.4 592.2,1143.3 594.7,1143.6 597.2,1144.7 599.7,1145.8 602.2,1146.5 604.6,1146.6 607.1,1147.6 609.6,1148.2 612.1,1148.9 614.6,1149.6 617.1,1150 619.6,1151.4 622.1,1152.3 624.6,1153.2 627.1,1153 629.6,1153.2 632.1,1153.9 634.6,1154.5 637.1,1154.8 639.6,1155.3 642.1,1156.4 644.6,1156.8 647.1,1157.3 649.6,1157 652.1,1158.1 654.5,1158 657,1158.4 659.5,1158.9 662,1159.3 664.5,1159.8 667,1160 669.5,1160.5 672,1160.9 674.5,1160.7 677,1161.2 679.5,1161.5" fill="none" stroke="#44d0d0" stroke-width="2.0" stroke-linejoin="round" />
<path d="M180.5,1192.5 183,1191.8 185.5,1191.3 188,1191.1 190.5,1191.3 193,1190.6 195.5,1190.4 198,1190.2 200.5,1189.9 203,1190.1 205.4,1189.5 207.9,1189.2 210.4,1188.3 212.9,1188.5 215.4,1189.1 217.9,1187.6 220.4,1187.1 222.9,1187.4 225.4,1186.4 227.9,1186.3 230.4,1186.2 232.9,1186.2 235.4,1185.6 237.9,1184.7 240.4,1183.9 242.9,1183.2 245.4,1182.5 247.9,1181.3 250.4,1179.6 252.9,1177.9 255.3,1176.5 257.8,1174.7 260.3,1172 262.8,1169.8 265.3,1168 267.8,1166.3 270.3,1165.8 272.8,1164.9 275.3,1163.7 277.8,1162.7 280.3,1160 282.8,1155.2 285.3,1145.6 287.8,1132.4 290.3,1111.6 292.8,1089.3 295.3,1065.3 297.8,1042.2 300.3,1027.7 302.8,1015.4 305.2,1009.6 307.7,1013.2 310.2,1021.8 312.7,1032.7 315.2,1047.7 317.7,1059.5 320.2,1066.4 322.7,1071.7 325.2,1073.5 327.7,1071.9 330.2,1069.7 332.7,1068.5 335.2,1066.3 337.7,1065.9 340.2,1065.4 342.7,1065.3 345.2,1065 347.7,1063.6 350.2,1058.7 352.7,1051.2 355.1,1043.6 357.6,1036.7 360.1,1031.3 362.6,1030 365.1,1032.9 367.6,1037.1 370.1,1039.6 372.6,1043.4 375.1,1044.1 377.6,1044.2 380.1,1041.8 382.6,1040.1 385.1,1037.4 387.6,1034.4 390.1,1030.1 392.6,1025.7 395.1,1020.3 397.6,1016.7 400.1,1011.8 402.6,1006.6 405,1002.1 407.5,1000.2 410,999.7 412.5,1003.8 415,1007.4 417.5,1012.4 420,1020.8 422.5,1029.7 425,1039.6 427.5,1047.3 430,1055.9 432.5,1061.9 435,1066.3 437.5,1069.3 440,1071.2 442.5,1072.6 445,1073.8 447.5,1075.4 450,1076.4 452.5,1077.5 455,1079 457.4,1080 459.9,1080 462.4,1081.6 464.9,1081.9 467.4,1083.3 469.9,1083.8 472.4,1085.4 474.9,1086.5 477.4,1087 479.9,1088.4 482.4,1088.6 484.9,1089.4 487.4,1090 489.9,1091.4 492.4,1091.7 494.9,1091.9 497.4,1093.5 499.9,1094.1 502.4,1094.9 504.9,1095.2 507.3,1095.5 509.8,1096.4 512.3,1096.6 514.8,1096.7 517.3,1097.1 519.8,1097.9 522.3,1098.5 524.8,1099 527.3,1098.9 529.8,1100 532.3,1101.3 534.8,1103.2 537.3,1104.1 539.8,1106.5 542.3,1108.6 544.8,1110.4 547.3,1112.7 549.8,1115.4 552.3,1117.2 554.7,1119.8 557.2,1121.8 559.7,1123.1 562.2,1125.4 564.7,1128 567.2,1129.3 569.7,1130.7 572.2,1132 574.7,1132.8 577.2,1134.2 579.7,1134.7 582.2,1136.3 584.7,1137.5 587.2,1137.8 589.7,1139.4 592.2,1140 594.7,1140.8 597.2,1141.2 599.7,1142.4 602.2,1143.5 604.6,1143.9 607.1,1144 609.6,1145.2 612.1,1146 614.6,1146.4 617.1,1147.3 619.6,1147.1 622.1,1148.5 624.6,1148.9 627.1,1149.4 629.6,1150.5 632.1,1151.1 634.6,1151.8 637.1,1152 639.6,1152.7 642.1,1152.7 644.6,1153.6 647.1,1154.2 649.6,1154.2 652.1,1155.2 654.5,1155.4 657,1155.4 659.5,1157 662,1156.9 664.5,1156.3 667,1157.2 669.5,1157.7 672,1157.7 674.5,1158 677,1158.8 679.5,1159.1" fill="none" stroke="#30a0a0" stroke-width="2.0" stroke-linejoin="round" />
<path d="M180.5,1190.9 183,1190.9 185.5,1190.4 188,1189.8 190.5,1190.3 193,1190 195.5,1189.3 198,1189.2 200.5,1188.4 203,1189 205.4,1188.6 207.9,1188 210.4,1187.9 212.9,1186.8 215.4,1187.1 217.9,1187.2 220.4,1186.3 222.9,1186.6 225.4,1185.5 227.9,1185.5 230.4,1185.2 232.9,1184.6 235.4,1184.4 237.9,1183.6 240.4,1183 242.9,1181.6 245.4,1180.4 247.9,1179.8 250.4,1178.3 252.9,1176.7 255.3,1174.5 257.8,1172.5 260.3,1170 262.8,1167.6 265.3,1165.9 267.8,1164 270.3,1163 272.8,1162.3 275.3,1161.3 277.8,1159.8 280.3,1158.5 282.8,1152.7 285.3,1142.9 287.8,1129.5 290.3,1108.4 292.8,1084.1 295.3,1060.5 297.8,1036.2 300.3,1021.3 302.8,1009.9 305.2,1003.6 307.7,1006.5 310.2,1015.3 312.7,1026.9 315.2,1042.8 317.7,1054.6 320.2,1062.2 322.7,1067.5 325.2,1068.5 327.7,1067.1 330.2,1064.9 332.7,1063 335.2,1061.8 337.7,1061.1 340.2,1060.2 342.7,1059.8 345.2,1059.5 347.7,1058.7 350.2,1053.4 352.7,1045.8 355.1,1038.1 357.6,1031.9 360.1,1025.8 362.6,1023.9 365.1,1027.3 367.6,1031.5 370.1,1033.9 372.6,1037.2 375.1,1038.5 377.6,1038.1 380.1,1037.2 382.6,1034.1 385.1,1030.9 387.6,1027.4 390.1,1024 392.6,1019 395.1,1014.5 397.6,1010.2 400.1,1005.3 402.6,999.5 405,995.1 407.5,992.6 410,993 412.5,996 415,1000.6 417.5,1005.9 420,1014.4 422.5,1024 425,1033 427.5,1040.9 430,1049.2 432.5,1056.2 435,1060.7 437.5,1063.4 440,1065.8 442.5,1067.2 445,1068.1 447.5,1069.8 450,1071.3 452.5,1072.8 455,1073.1 457.4,1074.4 459.9,1075 462.4,1076.9 464.9,1077.1 467.4,1078.3 469.9,1079.3 472.4,1080.2 474.9,1081.7 477.4,1082.8 479.9,1083.5 482.4,1084.4 484.9,1084.9 487.4,1086.1 489.9,1086.6 492.4,1087.3 494.9,1088.2 497.4,1088.8 499.9,1089.5 502.4,1089.9 504.9,1090.8 507.3,1091.4 509.8,1091.8 512.3,1091.5 514.8,1093 517.3,1092.6 519.8,1093.1 522.3,1093.3 524.8,1094 527.3,1094 529.8,1095.1 532.3,1096.7 534.8,1098.1 537.3,1099.9 539.8,1101.6 542.3,1103.4 544.8,1105.8 547.3,1108.4 549.8,1110.8 552.3,1113.4 554.7,1115.2 557.2,1117.4 559.7,1119.8 562.2,1122 564.7,1123.4 567.2,1124.8 569.7,1126.1 572.2,1127.1 574.7,1128.8 577.2,1129 579.7,1130.8 582.2,1131.3 584.7,1132.3 587.2,1133.7 589.7,1134.9 592.2,1135.5 594.7,1136.6 597.2,1137.4 599.7,1138.5 602.2,1138.8 604.6,1139.7 607.1,1140.3 609.6,1141.4 612.1,1142 614.6,1142.2 617.1,1143.2 619.6,1143.9 622.1,1144 624.6,1145.7 627.1,1146 629.6,1146.4 632.1,1146.9 634.6,1147.2 637.1,1148.4 639.6,1148.7 642.1,1149 644.6,1149.9 647.1,1150.5 649.6,1150.2 652.1,1150.8 654.5,1151.6 657,1152 659.5,1152.6 662,1152.7 664.5,1152.9 667,1152.9 669.5,1153.8 672,1154.4 674.5,1154.1 677,1154.9 679.5,1155.4" fill="none" stroke="#3090e0" stroke-width="2.6" stroke-linejoin="round" />
<path d="M180.5,1190.4 183,1190.1 185.5,1190 188,1189.2 190.5,1189.2 193,1188.5 195.5,1188.2 198,1188.3 200.5,1187.4 203,1187.9 205.4,1187.7 207.9,1187.2 210.4,1186.8 212.9,1186.1 215.4,1185.3 217.9,1185.8 220.4,1185.1 222.9,1184.8 225.4,1184.3 227.9,1184 230.4,1183.4 232.9,1183.2 235.4,1182.7 237.9,1182.2 240.4,1181 242.9,1180.8 245.4,1179.4 247.9,1178.4 250.4,1176.8 252.9,1174.9 255.3,1172.7 257.8,1170.8 260.3,1167.4 262.8,1165.4 265.3,1162.8 267.8,1160.9 270.3,1160.6 272.8,1159.2 275.3,1158.9 277.8,1157.8 280.3,1155.8 282.8,1150.2 285.3,1140.5 287.8,1125.8 290.3,1104.1 292.8,1080 295.3,1055.6 297.8,1031.3 300.3,1015.3 302.8,1003.9 305.2,997.5 307.7,1000 310.2,1010 312.7,1022.2 315.2,1037.2 317.7,1050.1 320.2,1056.8 322.7,1062.7 325.2,1064.3 327.7,1062.9 330.2,1059.9 332.7,1058.1 335.2,1056.6 337.7,1055.4 340.2,1055.6 342.7,1054.9 345.2,1054.3 347.7,1052.8 350.2,1048.1 352.7,1040.4 355.1,1032.5 357.6,1025.8 360.1,1019 362.6,1017.9 365.1,1021.5 367.6,1025.1 370.1,1028.3 372.6,1031.4 375.1,1032.9 377.6,1032.6 380.1,1031 382.6,1028.2 385.1,1025.5 387.6,1021.9 390.1,1017.6 392.6,1013.4 395.1,1007.8 397.6,1003.1 400.1,998 402.6,992.6 405,988 407.5,985.3 410,986.2 412.5,989.1 415,994 417.5,998.8 420,1007.4 422.5,1017.9 425,1026.1 427.5,1035.3 430,1043.4 432.5,1050.6 435,1054.9 437.5,1058.2 440,1059.7 442.5,1061.4 445,1062.9 447.5,1064.2 450,1066 452.5,1067.1 455,1068.5 457.4,1069.6 459.9,1070.5 462.4,1071.7 464.9,1073 467.4,1074.2 469.9,1075 472.4,1076.3 474.9,1076.9 477.4,1077.6 479.9,1079.1 482.4,1079.7 484.9,1080.4 487.4,1081.8 489.9,1082.1 492.4,1082.8 494.9,1083.8 497.4,1084.8 499.9,1084.4 502.4,1086.1 504.9,1086.8 507.3,1086.7 509.8,1087.5 512.3,1087.7 514.8,1088 517.3,1088.5 519.8,1088.6 522.3,1088.8 524.8,1088.8 527.3,1090.1 529.8,1090.8 532.3,1091.7 534.8,1094.1 537.3,1095.6 539.8,1097.6 542.3,1099.4 544.8,1101.9 547.3,1103.3 549.8,1106 552.3,1108.7 554.7,1110.4 557.2,1113.3 559.7,1115.7 562.2,1117.5 564.7,1118.6 567.2,1120.2 569.7,1121.9 572.2,1122 574.7,1124 577.2,1124.9 579.7,1126.3 582.2,1127.8 584.7,1128.1 587.2,1129.1 589.7,1130.8 592.2,1131.6 594.7,1132.2 597.2,1132.6 599.7,1133.8 602.2,1134.7 604.6,1135.7 607.1,1136.3 609.6,1136.6 612.1,1137.4 614.6,1138.4 617.1,1139.2 619.6,1139.7 622.1,1140.3 624.6,1141 627.1,1141.4 629.6,1142.2 632.1,1143 634.6,1143.8 637.1,1144.5 639.6,1144.9 642.1,1145.5 644.6,1145.7 647.1,1146.1 649.6,1146.7 652.1,1147.6 654.5,1147.2 657,1147.9 659.5,1148.4 662,1149.2 664.5,1149.2 667,1149.8 669.5,1149.9 672,1150.3 674.5,1150.4 677,1150.8 679.5,1150.8" fill="none" stroke="#5080c0" stroke-width="1.6" stroke-linejoin="round" />
<path d="M180.5,1188.9 183,1188.6 185.5,1187.9 188,1187.8 190.5,1187.3 193,1187.2 195.5,1186.8 198,1186.6 200.5,1186.1 203,1186.2 205.4,1185.2 207.9,1185.6 210.4,1184.8 212.9,1184.5 215.4,1184.4 217.9,1183.8 220.4,1184.2 222.9,1183.5 225.4,1182.8 227.9,1182.1 230.4,1181.5 232.9,1181.6 235.4,1181 237.9,1180.1 240.4,1179 242.9,1178.1 245.4,1177 247.9,1175.5 250.4,1174.2 252.9,1173 255.3,1170.3 257.8,1167.7 260.3,1165.1 262.8,1162.5 265.3,1159.4 267.8,1157.5 270.3,1156.9 272.8,1155.8 275.3,1155.6 277.8,1154 280.3,1151.4 282.8,1146.4 285.3,1136.1 287.8,1121.5 290.3,1098.5 292.8,1074.4 295.3,1048.1 297.8,1023.1 300.3,1006.2 302.8,994.5 305.2,987.6 307.7,991.5 310.2,1000.9 312.7,1013.7 315.2,1030.4 317.7,1042.5 320.2,1050.3 322.7,1055.9 325.2,1057.2 327.7,1055.6 330.2,1053.3 332.7,1050.9 335.2,1049.3 337.7,1047.9 340.2,1047.4 342.7,1047.4 345.2,1046.8 347.7,1046.2 350.2,1040.2 352.7,1032.5 355.1,1024.4 357.6,1016.6 360.1,1010.3 362.6,1008.9 365.1,1012.3 367.6,1016.3 370.1,1019.6 372.6,1022.5 375.1,1024.3 377.6,1023.4 380.1,1021.9 382.6,1019 385.1,1016.6 387.6,1013 390.1,1008.7 392.6,1003.6 395.1,997.8 397.6,993.5 400.1,988.3 402.6,982.6 405,977 407.5,975 410,976 412.5,979.1 415,983.1 417.5,989.1 420,997.9 422.5,1008.1 425,1017.9 427.5,1026.6 430,1034.8 432.5,1041.9 435,1046.8 437.5,1049.1 440,1051.5 442.5,1053.9 445,1055.3 447.5,1056.5 450,1057.8 452.5,1059.1 455,1061 457.4,1062 459.9,1062.9 462.4,1064.2 464.9,1065.3 467.4,1066.2 469.9,1067.2 472.4,1068.4 474.9,1069.2 477.4,1070.1 479.9,1071.6 482.4,1073 484.9,1074.1 487.4,1074.5 489.9,1075.6 492.4,1075.9 494.9,1077.3 497.4,1077.9 499.9,1078.4 502.4,1079.4 504.9,1079.6 507.3,1080.1 509.8,1080.7 512.3,1081 514.8,1081.2 517.3,1081.2 519.8,1081.2 522.3,1082.3 524.8,1082.8 527.3,1083.2 529.8,1084.1 532.3,1085.4 534.8,1087.2 537.3,1089.1 539.8,1090.7 542.3,1092.2 544.8,1094.7 547.3,1097 549.8,1099.7 552.3,1102.2 554.7,1104.4 557.2,1106.5 559.7,1108.3 562.2,1110.2 564.7,1111.5 567.2,1113.4 569.7,1115.3 572.2,1116.4 574.7,1117.7 577.2,1118.8 579.7,1119.9 582.2,1121.1 584.7,1122.6 587.2,1123.3 589.7,1124.3 592.2,1124.9 594.7,1125.6 597.2,1126.6 599.7,1127.8 602.2,1128.2 604.6,1128.7 607.1,1130.2 609.6,1130.9 612.1,1132 614.6,1131.6 617.1,1133.2 619.6,1133.4 622.1,1134 624.6,1134.6 627.1,1135.8 629.6,1135.7 632.1,1137 634.6,1137.5 637.1,1138 639.6,1138.4 642.1,1139.1 644.6,1138.8 647.1,1140 649.6,1141.2 652.1,1141.4 654.5,1141.5 657,1141.5 659.5,1142.5 662,1144 664.5,1143.6 667,1144.2 669.5,1144.3 672,1144.4 674.5,1144.9 677,1145.1 679.5,1146.1" fill="none" stroke="#a070d0" stroke-width="1.6" stroke-linejoin="round" />
<path d="M180.5,1187.3 183,1187.7 185.5,1187.3 188,1186.8 190.5,1186.7 193,1186.3 195.5,1185.4 198,1185.2 200.5,1185 203,1184.8 205.4,1184.4 207.9,1183.6 210.4,1183.7 212.9,1183.2 215.4,1182.8 217.9,1182.9 220.4,1181.9 222.9,1182.2 225.4,1181.5 227.9,1181.8 230.4,1180.2 232.9,1179.9 235.4,1179.6 237.9,1179.4 240.4,1177.9 242.9,1176.9 245.4,1175.8 247.9,1174.5 250.4,1172 252.9,1170.3 255.3,1168.8 257.8,1165.9 260.3,1162.5 262.8,1159.2 265.3,1157.3 267.8,1155.3 270.3,1153.9 272.8,1153.5 275.3,1152.6 277.8,1150.9 280.3,1149.7 282.8,1143.8 285.3,1132.9 287.8,1119.2 290.3,1095.2 292.8,1069.4 295.3,1043.2 297.8,1017.4 300.3,1001.2 302.8,988.5 305.2,981.9 307.7,985.1 310.2,995.9 312.7,1008.2 315.2,1024.2 317.7,1038.3 320.2,1045.4 322.7,1051.5 325.2,1053.3 327.7,1050.8 330.2,1047.7 332.7,1045.3 335.2,1044.6 337.7,1043.1 340.2,1042.3 342.7,1042 345.2,1041.3 347.7,1040.6 350.2,1035.1 352.7,1026.9 355.1,1018.9 357.6,1011.6 360.1,1004.6 362.6,1003.5 365.1,1005.8 367.6,1010.3 370.1,1013.8 372.6,1016.4 375.1,1018.7 377.6,1017.7 380.1,1015.8 382.6,1013.5 385.1,1010 387.6,1006.9 390.1,1002.4 392.6,997.4 395.1,991.8 397.6,986.7 400.1,981.7 402.6,975.9 405,970.3 407.5,968.3 410,968.5 412.5,972 415,976.7 417.5,981.7 420,990.8 422.5,1002.1 425,1011.8 427.5,1020 430,1028.1 432.5,1035.5 435,1041.1 437.5,1043.8 440,1046.1 442.5,1048.2 445,1050.1 447.5,1051.6 450,1052.3 452.5,1054.1 455,1055.5 457.4,1056.9 459.9,1057.9 462.4,1059.4 464.9,1060.6 467.4,1061.7 469.9,1063.3 472.4,1064.2 474.9,1065.3 477.4,1066.8 479.9,1067.7 482.4,1068.5 484.9,1070.1 487.4,1069.9 489.9,1071.3 492.4,1072.2 494.9,1072.6 497.4,1073.7 499.9,1074.8 502.4,1074.8 504.9,1074.8 507.3,1076.1 509.8,1076.6 512.3,1076.5 514.8,1077 517.3,1077.2 519.8,1077.5 522.3,1077.4 524.8,1077.5 527.3,1078.4 529.8,1079.1 532.3,1080.8 534.8,1082.3 537.3,1084.5 539.8,1086.2 542.3,1088.2 544.8,1090.7 547.3,1093 549.8,1095.1 552.3,1097.2 554.7,1100.3 557.2,1101.6 559.7,1104 562.2,1105.7 564.7,1108.1 567.2,1109.7 569.7,1110.6 572.2,1111.9 574.7,1112.5 577.2,1114.6 579.7,1115.3 582.2,1116.6 584.7,1117.5 587.2,1118.8 589.7,1119.9 592.2,1120 594.7,1121.6 597.2,1122.8 599.7,1123.4 602.2,1124.2 604.6,1124.8 607.1,1125.7 609.6,1126.2 612.1,1127.2 614.6,1128.1 617.1,1128.6 619.6,1129.1 622.1,1130.3 624.6,1130.7 627.1,1131.6 629.6,1132 632.1,1132.6 634.6,1133.5 637.1,1133.4 639.6,1134.1 642.1,1135 644.6,1135.9 647.1,1136.1 649.6,1136.8 652.1,1137 654.5,1136.9 657,1137.8 659.5,1138.4 662,1139 664.5,1139.3 667,1139.7 669.5,1140.7 672,1140.8 674.5,1140.8 677,1141.2 679.5,1141.1" fill="none" stroke="#8030a0" stroke-width="2.2" stroke-linejoin="round" />
<path d="M179.8,1516.8 182.3,1516.3 184.8,1516.1 187.3,1516.1 189.8,1516.4 192.3,1515.7 194.8,1515.7 197.3,1515.6 199.8,1515.5 202.3,1515.3 204.8,1514.8 207.2,1515.5 209.7,1515.2 212.2,1514.5 214.7,1515.3 217.2,1514.6 219.7,1514.7 222.2,1514.3 224.7,1514 227.2,1514.5 229.7,1514 232.2,1513.9 234.7,1513.3 237.2,1513.2 239.7,1512.3 242.2,1512.7 244.7,1511.7 247.2,1512.1 249.7,1511.6 252.2,1511.4 254.7,1511.1 257.2,1511.1 259.7,1510.3 262.2,1509.9 264.7,1509.6 267.2,1509 269.7,1508.8 272.2,1507.8 274.7,1506.7 277.2,1505.4 279.7,1502.5 282.2,1498.6 284.7,1491.7 287.2,1483 289.7,1473.4 292.2,1461.1 294.7,1449.7 297.2,1440.5 299.7,1432.2 302.2,1426.6 304.7,1424.1 307.2,1428.7 309.7,1434.6 312.2,1442.4 314.7,1450.8 317.2,1455.3 319.7,1456.4 322.2,1458 324.7,1458.5 327.2,1459.5 329.7,1460.3 332.2,1460.3 334.7,1460.5 337.2,1461.3 339.7,1462.2 342.2,1461.4 344.7,1461.3 347.2,1460.4 349.7,1459.4 352.2,1458.9 354.6,1459 357.1,1459.6 359.6,1461.3 362.1,1462.3 364.6,1462.2 367.1,1462.7 369.6,1462.6 372.1,1462 374.6,1459.6 377.1,1457.8 379.6,1455.4 382.1,1453.7 384.6,1450.3 387.1,1448.2 389.6,1445.7 392.1,1444.2 394.6,1441.5 397.1,1439.5 399.6,1437.3 402.1,1437.8 404.6,1437.7 407.1,1438.7 409.6,1440.9 412.1,1443.5 414.6,1448.4 417.1,1452.1 419.6,1455.1 422.1,1457.7 424.6,1460.8 427.1,1463.5 429.6,1465.3 432.1,1467.4 434.6,1468.9 437.1,1471.1 439.6,1472.1 442.1,1473.9 444.6,1475.2 447.1,1476.2 449.6,1477.9 452.1,1479 454.6,1479.7 457.1,1480.8 459.6,1481.6 462.1,1482.5 464.6,1483.2 467.1,1483.6 469.6,1483.9 472.1,1485.5 474.6,1485.1 477.1,1485.7 479.6,1485.8 482.1,1486.2 484.6,1486.6 487.1,1486.5 489.6,1486.8 492.1,1487.1 494.6,1486.7 497.1,1486.6 499.6,1486.8 502.1,1486.7 504.5,1487.2 507,1486.4 509.5,1486.8 512,1486.8 514.5,1486.7 517,1487.6 519.5,1487.3 522,1488.6 524.5,1489.6 527,1491.2 529.5,1492.7 532,1493.5 534.5,1494.9 537,1495.7 539.5,1496.8 542,1497.5 544.5,1498.8 547,1500 549.5,1500.8 552,1502.4 554.5,1503.4 557,1504 559.5,1504 562,1504.9 564.5,1505.5 567,1506.4 569.5,1506.5 572,1506.4 574.5,1506.6 577,1506.6 579.5,1507.6 582,1507.5 584.5,1507.5 587,1508.8 589.5,1507.6 592,1508.9 594.5,1509.1 597,1508.7 599.5,1509 602,1508.9 604.5,1509.3 607,1509.5 609.5,1509.8 612,1510.1 614.5,1509.8 617,1510.7 619.5,1510.3 622,1510.1 624.5,1510.8 627,1510.3 629.5,1510.4 632,1510.8 634.5,1510.9 637,1510.8 639.5,1510.9 642,1511.3 644.5,1510.6 647,1510.9 649.5,1511.1 652,1511.1 654.5,1511.2 656.9,1512.1 659.4,1510.9 661.9,1512.3 664.4,1511.8 666.9,1512.2 669.4,1511.7 671.9,1511.8 674.4,1511.9 676.9,1512.9 679.4,1511.8" fill="none" stroke="#404040" stroke-width="1.6" stroke-linejoin="round" />
<path d="M179.8,1515.5 182.3,1515.8 184.8,1514.9 187.3,1514.8 189.8,1515 192.3,1514.7 194.8,1514.2 197.3,1514.3 199.8,1514.2 202.3,1514.1 204.8,1514.5 207.2,1513.8 209.7,1514.5 212.2,1513.9 214.7,1513.8 217.2,1514.1 219.7,1513.4 222.2,1512.7 224.7,1513.2 227.2,1513.2 229.7,1512.7 232.2,1512.1 234.7,1512.1 237.2,1511.8 239.7,1511.9 242.2,1511 244.7,1510.6 247.2,1509.9 249.7,1509.4 252.2,1509.2 254.7,1509.5 257.2,1508.9 259.7,1508.2 262.2,1507.1 264.7,1506.8 267.2,1505.3 269.7,1504.7 272.2,1503.6 274.7,1502.2 277.2,1500.6 279.7,1498.9 282.2,1493.2 284.7,1486.5 287.2,1477.1 289.7,1464.5 292.2,1450.6 294.7,1435.2 297.2,1420.1 299.7,1409.3 302.2,1401.1 304.7,1396.4 307.2,1398.2 309.7,1405 312.2,1412.9 314.7,1424.3 317.2,1433.2 319.7,1439.3 322.2,1443.3 324.7,1444.7 327.2,1444.2 329.7,1443.3 332.2,1442.3 334.7,1441.7 337.2,1441.7 339.7,1441.2 342.2,1441 344.7,1440.3 347.2,1439.3 349.7,1436 352.2,1431.3 354.6,1426.7 357.1,1422.5 359.6,1419.9 362.1,1418.8 364.6,1422 367.1,1424.8 369.6,1427.3 372.1,1429.2 374.6,1429.1 377.1,1429.4 379.6,1427.7 382.1,1426.4 384.6,1424.6 387.1,1422.1 389.6,1419.6 392.1,1417.3 394.6,1413.5 397.1,1409.7 399.6,1406.2 402.1,1403.6 404.6,1401 407.1,1399.8 409.6,1399.7 412.1,1402.1 414.6,1404.4 417.1,1407.2 419.6,1413.1 422.1,1420.5 424.6,1426.5 427.1,1432.6 429.6,1437.8 432.1,1442 434.6,1444.8 437.1,1446.7 439.6,1447.2 442.1,1449.1 444.6,1449.8 447.1,1451.3 449.6,1452 452.1,1453.3 454.6,1454.2 457.1,1454.5 459.6,1456 462.1,1456.1 464.6,1457.6 467.1,1458.2 469.6,1458.3 472.1,1460 474.6,1460.3 477.1,1460.2 479.6,1460.6 482.1,1461 484.6,1461.8 487.1,1462.6 489.6,1462.4 492.1,1463 494.6,1464 497.1,1464 499.6,1463.9 502.1,1464.9 504.5,1465.7 507,1465.9 509.5,1466.3 512,1466.4 514.5,1466.5 517,1467.4 519.5,1467.7 522,1467.5 524.5,1468.1 527,1468.4 529.5,1470 532,1470.9 534.5,1471.4 537,1473.4 539.5,1474.4 542,1475.8 544.5,1477.5 547,1478.2 549.5,1480.2 552,1481.7 554.5,1482.9 557,1484.1 559.5,1485.9 562,1486.9 564.5,1488.1 567,1489.4 569.5,1489.4 572,1490.2 574.5,1491.2 577,1493.1 579.5,1493.3 582,1494 584.5,1495.1 587,1495.4 589.5,1496.7 592,1497.3 594.5,1497.8 597,1498.3 599.5,1498.9 602,1498.8 604.5,1499.9 607,1500.1 609.5,1500.6 612,1500.1 614.5,1501.5 617,1501.4 619.5,1501.4 622,1502.7 624.5,1502.9 627,1503 629.5,1503.7 632,1503.1 634.5,1504 637,1503.7 639.5,1504.1 642,1504.5 644.5,1504.4 647,1505 649.5,1504.8 652,1505.8 654.5,1505.8 656.9,1505.3 659.4,1506.5 661.9,1505.9 664.4,1506.3 666.9,1506.5 669.4,1506.7 671.9,1506.2 674.4,1507.2 676.9,1506.5 679.4,1506.7" fill="none" stroke="#a05a5a" stroke-width="1.5" stroke-linejoin="round" />
<path d="M179.8,1514.9 182.3,1514.3 184.8,1514.6 187.3,1515.2 189.8,1514.9 192.3,1514.3 194.8,1514.5 197.3,1514 199.8,1514.9 202.3,1513.5 204.8,1513.4 207.2,1514.3 209.7,1513.8 212.2,1513.8 214.7,1513.5 217.2,1513 219.7,1513.3 222.2,1513.2 224.7,1512.5 227.2,1512.1 229.7,1512.4 232.2,1511.9 234.7,1512.2 237.2,1511.1 239.7,1510.4 242.2,1510.5 244.7,1510.3 247.2,1510.6 249.7,1509.5 252.2,1509.6 254.7,1508.2 257.2,1507.3 259.7,1506.9 262.2,1506.6 264.7,1505.7 267.2,1505.3 269.7,1504.1 272.2,1503 274.7,1501.8 277.2,1501 279.7,1497.8 282.2,1493.3 284.7,1486.6 287.2,1476.8 289.7,1463.2 292.2,1449.7 294.7,1433.3 297.2,1418.6 299.7,1408.6 302.2,1399.9 304.7,1395.6 307.2,1397.5 309.7,1404 312.2,1411.9 314.7,1423.3 317.2,1432.1 319.7,1438.1 322.2,1442.7 324.7,1443.2 327.2,1442.9 329.7,1441.7 332.2,1440.6 334.7,1440.6 337.2,1440.4 339.7,1440.4 342.2,1439.3 344.7,1438.7 347.2,1437.5 349.7,1434.6 352.2,1429.9 354.6,1426 357.1,1421.2 359.6,1418.6 362.1,1417.8 364.6,1420.2 367.1,1423.2 369.6,1425.2 372.1,1426.8 374.6,1428.4 377.1,1427.6 379.6,1426.1 382.1,1424.6 384.6,1423.7 387.1,1420.7 389.6,1417.9 392.1,1415 394.6,1411.8 397.1,1408.3 399.6,1404.7 402.1,1401.6 404.6,1399.3 407.1,1397.5 409.6,1397.7 412.1,1399.8 414.6,1402.4 417.1,1405.4 419.6,1412.2 422.1,1418.7 424.6,1425.7 427.1,1430.7 429.6,1435.9 432.1,1440.5 434.6,1443.7 437.1,1445.3 439.6,1446.2 442.1,1448 444.6,1449 447.1,1449.6 449.6,1450.5 452.1,1451.8 454.6,1453 457.1,1453.5 459.6,1454.7 462.1,1454.7 464.6,1455.6 467.1,1456.1 469.6,1457.7 472.1,1458.1 474.6,1458.6 477.1,1459.4 479.6,1459.7 482.1,1459.7 484.6,1460.8 487.1,1461.1 489.6,1461 492.1,1461.8 494.6,1462.2 497.1,1462.8 499.6,1463.5 502.1,1463.8 504.5,1464.1 507,1464.7 509.5,1464.9 512,1465.4 514.5,1465.6 517,1465.4 519.5,1466 522,1467 524.5,1467.1 527,1467 529.5,1467.7 532,1469.7 534.5,1470.4 537,1471.8 539.5,1474 542,1474.5 544.5,1475.3 547,1477.7 549.5,1479.1 552,1480.1 554.5,1481.9 557,1483.2 559.5,1484.3 562,1486 564.5,1486.5 567,1488.1 569.5,1488.7 572,1489.4 574.5,1490.1 577,1491.8 579.5,1492.3 582,1493.1 584.5,1494.6 587,1494.7 589.5,1495.3 592,1495.8 594.5,1495.9 597,1497 599.5,1497.6 602,1498.1 604.5,1498.6 607,1498.9 609.5,1498.9 612,1500.2 614.5,1500.3 617,1501.4 619.5,1501.5 622,1501.3 624.5,1502.4 627,1501.9 629.5,1501.9 632,1502.9 634.5,1503.1 637,1503.2 639.5,1503.6 642,1503.7 644.5,1504.1 647,1503.8 649.5,1504.2 652,1504.5 654.5,1505.4 656.9,1505.1 659.4,1505 661.9,1504.9 664.4,1505.5 666.9,1505.3 669.4,1505.3 671.9,1505.9 674.4,1505.6 676.9,1506 679.4,1506.4" fill="none" stroke="#e04848" stroke-width="2.0" stroke-linejoin="round" />
<path d="M179.8,1514.6 182.3,1515.2 184.8,1514.5 187.3,1515 189.8,1514.2 192.3,1514.9 194.8,1514.5 197.3,1514.4 199.8,1514.7 202.3,1513.6 204.8,1514.2 207.2,1514 209.7,1513.7 212.2,1513.1 214.7,1513.4 217.2,1512.4 219.7,1512.8 222.2,1512.7 224.7,1512.3 227.2,1512.3 229.7,1512.3 232.2,1511.9 234.7,1511.4 237.2,1510.6 239.7,1510.7 242.2,1510.2 244.7,1510.7 247.2,1509.6 249.7,1509 252.2,1508 254.7,1507.5 257.2,1507.4 259.7,1506.6 262.2,1506.1 264.7,1505.6 267.2,1504.5 269.7,1503.7 272.2,1502.5 274.7,1501.1 277.2,1499.7 279.7,1497 282.2,1493.3 284.7,1485.7 287.2,1476.2 289.7,1463.2 292.2,1447.9 294.7,1432.3 297.2,1416.6 299.7,1406.8 302.2,1398.2 304.7,1393.6 307.2,1396.4 309.7,1402.1 312.2,1410.7 314.7,1421.5 317.2,1430.4 319.7,1436.4 322.2,1441.6 324.7,1441.9 327.2,1441.5 329.7,1440.2 332.2,1440.1 334.7,1439.6 337.2,1438.5 339.7,1438.7 342.2,1438.3 344.7,1437.7 347.2,1436.2 349.7,1433.7 352.2,1428.4 354.6,1424.2 357.1,1419.1 359.6,1416.1 362.1,1416.1 364.6,1418.7 367.1,1421.7 369.6,1423.8 372.1,1425.5 374.6,1425.8 377.1,1426.2 379.6,1425.1 382.1,1423.3 384.6,1421.2 387.1,1419.3 389.6,1416.7 392.1,1413 394.6,1409.6 397.1,1406.9 399.6,1403.6 402.1,1399.8 404.6,1397.3 407.1,1395.2 409.6,1396 412.1,1398 414.6,1400.5 417.1,1404 419.6,1410 422.1,1416.9 424.6,1423.7 427.1,1429.8 429.6,1434.9 432.1,1438.8 434.6,1442.4 437.1,1443.9 439.6,1444.8 442.1,1446.3 444.6,1447.4 447.1,1448.5 449.6,1449.1 452.1,1450.7 454.6,1451.8 457.1,1452.3 459.6,1452.7 462.1,1453.9 464.6,1454.2 467.1,1455 469.6,1456.4 472.1,1456.6 474.6,1457.2 477.1,1457.7 479.6,1457.8 482.1,1458.3 484.6,1459 487.1,1459.3 489.6,1460.4 492.1,1460.4 494.6,1461.4 497.1,1461.7 499.6,1462.4 502.1,1462.1 504.5,1463 507,1463 509.5,1464.1 512,1463.9 514.5,1464 517,1464.6 519.5,1464.9 522,1465.2 524.5,1465.7 527,1466.4 529.5,1467.2 532,1467.6 534.5,1469.2 537,1470.5 539.5,1471.8 542,1473.6 544.5,1475.1 547,1476.7 549.5,1477.2 552,1479.3 554.5,1480.4 557,1482.5 559.5,1483.4 562,1484.4 564.5,1485.8 567,1486.3 569.5,1487.7 572,1488.6 574.5,1489.2 577,1490 579.5,1491.2 582,1492.3 584.5,1493 587,1493.2 589.5,1494.6 592,1495.2 594.5,1495.8 597,1495.7 599.5,1496.4 602,1497.4 604.5,1497.8 607,1498 609.5,1498.6 612,1499.2 614.5,1499.5 617,1499.7 619.5,1500.2 622,1500.4 624.5,1500.8 627,1501.3 629.5,1501.2 632,1501.5 634.5,1502.6 637,1502.1 639.5,1502.6 642,1503 644.5,1502.7 647,1503.1 649.5,1503.2 652,1503.7 654.5,1503.2 656.9,1503.8 659.4,1504.3 661.9,1503.7 664.4,1504.7 666.9,1504.1 669.4,1504.8 671.9,1505 674.4,1505.2 676.9,1505.4 679.4,1505.4" fill="none" stroke="#e03a3a" stroke-width="2.6" stroke-linejoin="round" />
<path d="M179.8,1515 182.3,1514.9 184.8,1515.2 187.3,1514.9 189.8,1514.8 192.3,1514.7 194.8,1513.9 197.3,1514.6 199.8,1514.5 202.3,1514.4 204.8,1513.8 207.2,1514.1 209.7,1513.9 212.2,1513.4 214.7,1513.3 217.2,1513.7 219.7,1512.7 222.2,1513 224.7,1512.6 227.2,1512.6 229.7,1511.9 232.2,1512.3 234.7,1512.2 237.2,1511.5 239.7,1510.9 242.2,1511 244.7,1510.3 247.2,1509.6 249.7,1510.1 252.2,1508.8 254.7,1508.4 257.2,1508.3 259.7,1507.6 262.2,1507.1 264.7,1506 267.2,1505.6 269.7,1504.2 272.2,1503 274.7,1502.7 277.2,1500.3 279.7,1498.2 282.2,1493.9 284.7,1486.5 287.2,1477.3 289.7,1464.4 292.2,1449.7 294.7,1434.2 297.2,1419.4 299.7,1409.3 302.2,1399.8 304.7,1395.6 307.2,1397.7 309.7,1404.4 312.2,1413 314.7,1423.6 317.2,1432.3 319.7,1438.5 322.2,1443 324.7,1444.1 327.2,1442.8 329.7,1442.3 332.2,1441.7 334.7,1441.6 337.2,1440.6 339.7,1440.5 342.2,1440.2 344.7,1439.6 347.2,1438.7 349.7,1435.1 352.2,1429.7 354.6,1426 357.1,1421.9 359.6,1419 362.1,1418.3 364.6,1421.5 367.1,1423.4 369.6,1426 372.1,1427.4 374.6,1428.5 377.1,1427.8 379.6,1427 382.1,1425.4 384.6,1424.4 387.1,1422 389.6,1419.1 392.1,1415.8 394.6,1412.4 397.1,1408.8 399.6,1406 402.1,1402.6 404.6,1400.1 407.1,1398.7 409.6,1399.3 412.1,1400.3 414.6,1403.1 417.1,1406.1 419.6,1412.2 422.1,1419.9 424.6,1426.1 427.1,1432.1 429.6,1436.5 432.1,1441.1 434.6,1444.1 437.1,1445.8 439.6,1447 442.1,1448.3 444.6,1449.3 447.1,1450.6 449.6,1451.5 452.1,1452.4 454.6,1453.1 457.1,1454.5 459.6,1455.6 462.1,1456.6 464.6,1456.8 467.1,1457.6 469.6,1457.8 472.1,1458 474.6,1459.3 477.1,1459.2 479.6,1459.7 482.1,1460.9 484.6,1461.2 487.1,1461.3 489.6,1462.3 492.1,1462.8 494.6,1462.7 497.1,1463.6 499.6,1464.1 502.1,1464.1 504.5,1464.7 507,1465.1 509.5,1465.1 512,1465.4 514.5,1466.7 517,1466.2 519.5,1466.8 522,1467.1 524.5,1467.4 527,1467.6 529.5,1468.6 532,1469.9 534.5,1470.9 537,1472.9 539.5,1473.6 542,1475.1 544.5,1476.9 547,1478.5 549.5,1480 552,1481.2 554.5,1482.1 557,1483.7 559.5,1485.1 562,1486.1 564.5,1486.8 567,1488.3 569.5,1489.4 572,1489.5 574.5,1491.4 577,1491.8 579.5,1492.6 582,1493.6 584.5,1494.5 587,1494.8 589.5,1495.8 592,1496.2 594.5,1497 597,1497 599.5,1498.3 602,1499 604.5,1499.3 607,1499.5 609.5,1500 612,1500.3 614.5,1500.9 617,1500.9 619.5,1501.9 622,1502.2 624.5,1502.2 627,1502.7 629.5,1503 632,1503.2 634.5,1503.6 637,1503.5 639.5,1503.6 642,1503.7 644.5,1504.2 647,1504.7 649.5,1505 652,1505.2 654.5,1505.6 656.9,1505.1 659.4,1504.9 661.9,1505.6 664.4,1505.7 666.9,1506.6 669.4,1506 671.9,1506.3 674.4,1506.2 676.9,1506.6 679.4,1506.7" fill="none" stroke="#f4a4a4" stroke-width="1.5" stroke-linejoin="round" />
<path d="M179.8,1514.6 182.3,1514.1 184.8,1513.7 187.3,1514.3 189.8,1514.2 192.3,1513.7 194.8,1513.9 197.3,1513.5 199.8,1513.1 202.3,1513.3 204.8,1513 207.2,1513.9 209.7,1512.6 212.2,1512.9 214.7,1512.9 217.2,1512.5 219.7,1512.6 222.2,1512.4 224.7,1512.5 227.2,1511.8 229.7,1511.7 232.2,1511.3 234.7,1510.4 237.2,1510.3 239.7,1510.4 242.2,1509.4 244.7,1508.8 247.2,1508.7 249.7,1508.2 252.2,1507.7 254.7,1507.4 257.2,1506.1 259.7,1505.6 262.2,1505 264.7,1504.2 267.2,1503.4 269.7,1502 272.2,1501.5 274.7,1500.8 277.2,1498.5 279.7,1496.1 282.2,1491.6 284.7,1484.7 287.2,1475.4 289.7,1460.4 292.2,1446.5 294.7,1430.3 297.2,1414.7 299.7,1404.2 302.2,1395.6 304.7,1391.2 307.2,1393.1 309.7,1399.5 312.2,1407.5 314.7,1418.2 317.2,1428.5 319.7,1433.7 322.2,1438.5 324.7,1440 327.2,1439.6 329.7,1438 332.2,1437.6 334.7,1436.8 337.2,1436.4 339.7,1436.5 342.2,1435.3 344.7,1435 347.2,1434 349.7,1430.5 352.2,1425.6 354.6,1420.6 357.1,1416.3 359.6,1413.3 362.1,1412.6 364.6,1415.1 367.1,1418.3 369.6,1420.7 372.1,1422 374.6,1423.3 377.1,1423.2 379.6,1422.4 382.1,1420.3 384.6,1418.8 387.1,1416.2 389.6,1413.9 392.1,1410.1 394.6,1405.8 397.1,1402.5 399.6,1399.7 402.1,1396.3 404.6,1394.2 407.1,1391.9 409.6,1392.7 412.1,1395 414.6,1397.3 417.1,1400.6 419.6,1406.2 422.1,1413.9 424.6,1419.9 427.1,1425.7 429.6,1431.6 432.1,1436 434.6,1439.6 437.1,1440.7 439.6,1442.5 442.1,1443.5 444.6,1444.5 447.1,1445.7 449.6,1446.9 452.1,1447.6 454.6,1448.5 457.1,1450.5 459.6,1450.8 462.1,1451.5 464.6,1452.3 467.1,1452.8 469.6,1453.2 472.1,1454 474.6,1454.7 477.1,1454.9 479.6,1455.6 482.1,1456.1 484.6,1456.1 487.1,1456.9 489.6,1458 492.1,1457.7 494.6,1458.9 497.1,1459 499.6,1460.1 502.1,1459.6 504.5,1461 507,1460.7 509.5,1460.5 512,1461.3 514.5,1461.8 517,1462.4 519.5,1462.5 522,1462.5 524.5,1464 527,1464.1 529.5,1464.1 532,1465.6 534.5,1466.3 537,1467.8 539.5,1469.7 542,1470.9 544.5,1471.8 547,1474 549.5,1475.5 552,1476.8 554.5,1478.6 557,1479.9 559.5,1481 562,1482.5 564.5,1483.6 567,1484.4 569.5,1485.1 572,1486.7 574.5,1487.8 577,1487.5 579.5,1489 582,1490.8 584.5,1491.1 587,1492.2 589.5,1492.1 592,1493.3 594.5,1493.7 597,1493.5 599.5,1494.8 602,1495.1 604.5,1495.5 607,1495.7 609.5,1496.2 612,1496.4 614.5,1497.6 617,1497.6 619.5,1498.7 622,1498.5 624.5,1498.9 627,1498.6 629.5,1499.4 632,1499.9 634.5,1500.2 637,1500.7 639.5,1500.8 642,1501.1 644.5,1501.1 647,1501.5 649.5,1501.6 652,1501.4 654.5,1502.3 656.9,1502.4 659.4,1502.8 661.9,1501.9 664.4,1502.1 666.9,1502.7 669.4,1503 671.9,1503.4 674.4,1502.9 676.9,1503.3 679.4,1503.3" fill="none" stroke="#f2b464" stroke-width="1.6" stroke-linejoin="round" />
<path d="M179.8,1513.9 182.3,1514 184.8,1513.8 187.3,1513.9 189.8,1513.4 192.3,1514.1 194.8,1513.1 197.3,1513.4 199.8,1513.2 202.3,1513.3 204.8,1513.3 207.2,1512.8 209.7,1512.3 212.2,1512.2 214.7,1511.8 217.2,1512 219.7,1511.6 222.2,1511.5 224.7,1511.5 227.2,1511 229.7,1510.8 232.2,1510.1 234.7,1510.1 237.2,1509.6 239.7,1509 242.2,1508.5 244.7,1508.4 247.2,1507.9 249.7,1507.2 252.2,1506.4 254.7,1506.4 257.2,1505.8 259.7,1503.8 262.2,1504 264.7,1503.1 267.2,1502.9 269.7,1501.5 272.2,1500.4 274.7,1499.3 277.2,1497.6 279.7,1495.4 282.2,1490.7 284.7,1483 287.2,1473.9 289.7,1459.8 292.2,1444.1 294.7,1428 297.2,1412.3 299.7,1401.6 302.2,1392.8 304.7,1387.8 307.2,1389.7 309.7,1396.1 312.2,1404.4 314.7,1416.7 317.2,1425.1 319.7,1431.4 322.2,1436.1 324.7,1437.4 327.2,1436.3 329.7,1435.6 332.2,1434.8 334.7,1434.2 337.2,1433.4 339.7,1433.9 342.2,1432.7 344.7,1433 347.2,1431.6 349.7,1427.8 352.2,1422.4 354.6,1418.4 357.1,1413.5 359.6,1409.8 362.1,1409.9 364.6,1412.7 367.1,1415.6 369.6,1418.2 372.1,1418.7 374.6,1420.3 377.1,1420.6 379.6,1418.8 382.1,1417.2 384.6,1415.6 387.1,1413.1 389.6,1409.7 392.1,1406.6 394.6,1403.1 397.1,1399.1 399.6,1396.2 402.1,1392.9 404.6,1389.3 407.1,1389 409.6,1389.1 412.1,1390.4 414.6,1393.3 417.1,1396.6 419.6,1403.2 422.1,1410.9 424.6,1417.7 427.1,1423.2 429.6,1428.4 432.1,1432.9 434.6,1436.2 437.1,1437.8 439.6,1440.2 442.1,1440.8 444.6,1442.2 447.1,1442.5 449.6,1444.2 452.1,1445 454.6,1446.1 457.1,1447.3 459.6,1448.2 462.1,1448.6 464.6,1449.3 467.1,1450.4 469.6,1450.3 472.1,1451.5 474.6,1451.9 477.1,1452.6 479.6,1452.9 482.1,1454.2 484.6,1453.8 487.1,1454.5 489.6,1455 492.1,1455.3 494.6,1456 497.1,1457.1 499.6,1457.3 502.1,1457.9 504.5,1458.1 507,1458.2 509.5,1458.2 512,1459.5 514.5,1459.7 517,1459.6 519.5,1459.8 522,1460.2 524.5,1460.9 527,1461.1 529.5,1461.8 532,1463.1 534.5,1463.7 537,1466 539.5,1466.9 542,1468.3 544.5,1469.7 547,1471.2 549.5,1473.3 552,1474.7 554.5,1475.9 557,1477.1 559.5,1479.2 562,1480.1 564.5,1481.4 567,1482.8 569.5,1483.4 572,1484.9 574.5,1485.6 577,1486.4 579.5,1486.7 582,1488.4 584.5,1488.7 587,1489.6 589.5,1490.4 592,1491.1 594.5,1491.1 597,1492.3 599.5,1492.4 602,1493.2 604.5,1493.4 607,1493.9 609.5,1495.1 612,1495.3 614.5,1495.4 617,1495.8 619.5,1496.6 622,1496.4 624.5,1496.6 627,1497.3 629.5,1497.6 632,1498.3 634.5,1497.9 637,1498 639.5,1497.9 642,1499 644.5,1498.7 647,1499.7 649.5,1499.6 652,1499.9 654.5,1500.7 656.9,1500.6 659.4,1500.6 661.9,1500.8 664.4,1501.1 666.9,1501.1 669.4,1501 671.9,1501 674.4,1502.2 676.9,1501.8 679.4,1501.7" fill="none" stroke="#c48a4c" stroke-width="2.2" stroke-linejoin="round" />
<path d="M179.8,1513.7 182.3,1514.3 184.8,1513.6 187.3,1512.9 189.8,1513.8 192.3,1513 194.8,1513.2 197.3,1512.4 199.8,1512.9 202.3,1512.7 204.8,1511.8 207.2,1511.8 209.7,1512.1 212.2,1512.4 214.7,1512.1 217.2,1511.2 219.7,1510.9 222.2,1511.3 224.7,1510.2 227.2,1510.1 229.7,1510.1 232.2,1509.7 234.7,1509.2 237.2,1509.1 239.7,1508.2 242.2,1508 244.7,1507.5 247.2,1506.7 249.7,1506.3 252.2,1506.3 254.7,1505.2 257.2,1504.8 259.7,1503.6 262.2,1502.7 264.7,1502.4 267.2,1500.7 269.7,1499.6 272.2,1499.1 274.7,1498.4 277.2,1496.5 279.7,1494.2 282.2,1489.5 284.7,1481.9 287.2,1472.4 289.7,1458 292.2,1442.2 294.7,1424.9 297.2,1409.3 299.7,1398.4 302.2,1389.3 304.7,1384.2 307.2,1386.8 309.7,1394.3 312.2,1402 314.7,1414 317.2,1423.5 319.7,1429.5 322.2,1433.9 324.7,1434.1 327.2,1433.9 329.7,1432.8 332.2,1432.5 334.7,1431.8 337.2,1431.1 339.7,1430.9 342.2,1430.4 344.7,1429.2 347.2,1428.3 349.7,1425 352.2,1420.4 354.6,1415 357.1,1411.1 359.6,1407.3 362.1,1406.7 364.6,1409.3 367.1,1412.1 369.6,1415.3 372.1,1416.2 374.6,1417.7 377.1,1417.2 379.6,1416.3 382.1,1413.8 384.6,1412.4 387.1,1409.8 389.6,1407.1 392.1,1402.8 394.6,1399.4 397.1,1396.4 399.6,1392.9 402.1,1389.4 404.6,1386.4 407.1,1384.2 409.6,1385 412.1,1387.2 414.6,1390.3 417.1,1392.9 419.6,1399.7 422.1,1407.6 424.6,1414.7 427.1,1419.7 429.6,1425.3 432.1,1430.5 434.6,1433.7 437.1,1435.6 439.6,1437 442.1,1438.1 444.6,1439.7 447.1,1440.6 449.6,1441.5 452.1,1442.2 454.6,1443.4 457.1,1444.4 459.6,1445.6 462.1,1446.1 464.6,1446.7 467.1,1447.4 469.6,1447.9 472.1,1449.1 474.6,1449.8 477.1,1449.9 479.6,1450.9 482.1,1451.1 484.6,1451.8 487.1,1452.8 489.6,1452.8 492.1,1453.4 494.6,1453.9 497.1,1454.4 499.6,1455.1 502.1,1455.3 504.5,1455.7 507,1455.6 509.5,1456.3 512,1456.5 514.5,1456.3 517,1457.8 519.5,1457.1 522,1457.7 524.5,1458.3 527,1459.1 529.5,1459 532,1460.2 534.5,1461.7 537,1463.3 539.5,1464 542,1465.3 544.5,1467.6 547,1469 549.5,1470.6 552,1472 554.5,1474 557,1474.7 559.5,1476.8 562,1478.3 564.5,1479.7 567,1480.9 569.5,1481.3 572,1482.5 574.5,1483.8 577,1484.8 579.5,1485 582,1485.8 584.5,1486.7 587,1487.6 589.5,1488.5 592,1488.6 594.5,1489.1 597,1490 599.5,1490.7 602,1490.6 604.5,1491.9 607,1492 609.5,1491.9 612,1493 614.5,1493.5 617,1494.6 619.5,1494.5 622,1494.7 624.5,1494.4 627,1495.8 629.5,1495 632,1496 634.5,1496.4 637,1496.5 639.5,1497.4 642,1497.1 644.5,1496.9 647,1498.3 649.5,1498.2 652,1498.6 654.5,1498.3 656.9,1498.5 659.4,1498.2 661.9,1499.3 664.4,1498.8 666.9,1499.5 669.4,1499.3 671.9,1499.6 674.4,1499.5 676.9,1500.1 679.4,1499.6" fill="none" stroke="#a07850" stroke-width="1.6" stroke-linejoin="round" />
<path d="M179.8,1512.5 182.3,1513.3 184.8,1512.6 187.3,1513.5 189.8,1512.7 192.3,1512.4 194.8,1513.2 197.3,1512.5 199.8,1512.1 202.3,1511.3 204.8,1512 207.2,1511.4 209.7,1511.7 212.2,1511 214.7,1510.2 217.2,1510.3 219.7,1511 222.2,1510.6 224.7,1510.4 227.2,1509.8 229.7,1509.7 232.2,1508.2 234.7,1508.5 237.2,1507.3 239.7,1507.7 242.2,1507.1 244.7,1506.7 247.2,1506 249.7,1505.4 252.2,1504.8 254.7,1504.4 257.2,1503.8 259.7,1502.5 262.2,1501.4 264.7,1500.6 267.2,1500.2 269.7,1498.7 272.2,1498.2 274.7,1497.4 277.2,1495.3 279.7,1493.7 282.2,1488.2 284.7,1480.8 287.2,1471 289.7,1456.4 292.2,1440.5 294.7,1423.7 297.2,1407.1 299.7,1394.9 302.2,1386.7 304.7,1381.9 307.2,1384.5 309.7,1390.4 312.2,1399 314.7,1410.9 317.2,1421 319.7,1426.1 322.2,1431.4 324.7,1432.7 327.2,1431.6 329.7,1430.4 332.2,1429.3 334.7,1428.2 337.2,1428.5 339.7,1427.6 342.2,1427.4 344.7,1427.3 347.2,1426.6 349.7,1422.5 352.2,1417.4 354.6,1412.3 357.1,1407.6 359.6,1404 362.1,1403.2 364.6,1407 367.1,1409.7 369.6,1410.6 372.1,1413.2 374.6,1414.4 377.1,1414 379.6,1413.4 382.1,1411.6 384.6,1409.1 387.1,1407.6 389.6,1403.4 392.1,1400.6 394.6,1395.7 397.1,1392.5 399.6,1389.3 402.1,1385.4 404.6,1382.4 407.1,1381.3 409.6,1381.9 412.1,1383.5 414.6,1386 417.1,1390.1 419.6,1396.2 422.1,1403.6 424.6,1411.3 427.1,1417.1 429.6,1423.3 432.1,1427 434.6,1430.8 437.1,1432.8 439.6,1434.5 442.1,1435 444.6,1436.5 447.1,1437.6 449.6,1438.9 452.1,1440.2 454.6,1440.8 457.1,1441.7 459.6,1442.9 462.1,1443.8 464.6,1444.3 467.1,1445.2 469.6,1445.3 472.1,1445.7 474.6,1447.2 477.1,1447.9 479.6,1447.9 482.1,1448.6 484.6,1449.3 487.1,1449.8 489.6,1450 492.1,1450.7 494.6,1451.2 497.1,1451.5 499.6,1453 502.1,1452.5 504.5,1452.9 507,1453.4 509.5,1453.9 512,1454.6 514.5,1455 517,1454.7 519.5,1455.4 522,1454.8 524.5,1455.4 527,1456.2 529.5,1456.4 532,1457.7 534.5,1459.1 537,1459.9 539.5,1461.7 542,1463.2 544.5,1464.6 547,1466.4 549.5,1468.1 552,1470.1 554.5,1471.6 557,1472.9 559.5,1474.5 562,1475.9 564.5,1477.7 567,1478.5 569.5,1479.6 572,1480.4 574.5,1481.2 577,1482.5 579.5,1483.2 582,1484 584.5,1484.6 587,1485.5 589.5,1486.3 592,1487 594.5,1487.5 597,1487.6 599.5,1488.1 602,1489 604.5,1489.9 607,1490.1 609.5,1490.4 612,1491.6 614.5,1491.6 617,1491.3 619.5,1492.3 622,1493.1 624.5,1493.3 627,1494.1 629.5,1494 632,1494.4 634.5,1494.7 637,1495 639.5,1495.3 642,1495.2 644.5,1495.6 647,1496.1 649.5,1496.2 652,1497 654.5,1496.7 656.9,1496.2 659.4,1496.6 661.9,1497 664.4,1497.7 666.9,1497.6 669.4,1497 671.9,1497.9 674.4,1498 676.9,1497.7 679.4,1497.7" fill="none" stroke="#909050" stroke-width="1.6" stroke-linejoin="round" />
<path d="M179.8,1512.8 182.3,1512.6 184.8,1512.8 187.3,1513.1 189.8,1512.3 192.3,1512.3 194.8,1512.3 197.3,1512.1 199.8,1511.9 202.3,1511.6 204.8,1511.4 207.2,1511.5 209.7,1511 212.2,1511 214.7,1510.9 217.2,1510.3 219.7,1509.7 222.2,1509.5 224.7,1509.2 227.2,1508.5 229.7,1508.4 232.2,1508.2 234.7,1507.9 237.2,1506.9 239.7,1507 242.2,1506.5 244.7,1505.6 247.2,1505 249.7,1505 252.2,1503.8 254.7,1503.3 257.2,1502.4 259.7,1501.6 262.2,1500.6 264.7,1499.2 267.2,1498.5 269.7,1498 272.2,1497 274.7,1496.1 277.2,1494.8 279.7,1492.3 282.2,1487.2 284.7,1479.5 287.2,1469.7 289.7,1453.9 292.2,1438.3 294.7,1421.5 297.2,1404.2 299.7,1392.7 302.2,1383.7 304.7,1378.2 307.2,1380.3 309.7,1387.7 312.2,1396.1 314.7,1408.4 317.2,1418.3 319.7,1424.5 322.2,1429 324.7,1429.8 327.2,1429 329.7,1427.7 332.2,1426.9 334.7,1426.4 337.2,1426.1 339.7,1426.1 342.2,1425.7 344.7,1424.2 347.2,1423.5 349.7,1420.2 352.2,1414.4 354.6,1409 357.1,1404.1 359.6,1400.4 362.1,1400.2 364.6,1403.1 367.1,1406.6 369.6,1408.4 372.1,1410.7 374.6,1411.5 377.1,1411.7 379.6,1409.9 382.1,1408.4 384.6,1406 387.1,1404.2 389.6,1400.2 392.1,1396.5 394.6,1392.9 397.1,1389.2 399.6,1386 402.1,1381.6 404.6,1379.4 407.1,1376.5 409.6,1378.1 412.1,1380.2 414.6,1383.2 417.1,1386.1 419.6,1393 422.1,1401.4 424.6,1408.5 427.1,1414.6 429.6,1419.7 432.1,1424.6 434.6,1427.9 437.1,1430.4 439.6,1431.4 442.1,1432.9 444.6,1433.9 447.1,1435.3 449.6,1436 452.1,1436.9 454.6,1438.3 457.1,1439.1 459.6,1440.1 462.1,1441.3 464.6,1441.7 467.1,1442.8 469.6,1443.2 472.1,1443.7 474.6,1444.1 477.1,1445.4 479.6,1445.4 482.1,1445.8 484.6,1446.8 487.1,1447.2 489.6,1447.7 492.1,1448.1 494.6,1448.8 497.1,1449.1 499.6,1450.5 502.1,1450.5 504.5,1450.5 507,1450.6 509.5,1451.6 512,1451.9 514.5,1452.1 517,1451.9 519.5,1452.7 522,1452.5 524.5,1452.5 527,1453.5 529.5,1453.8 532,1454.9 534.5,1455.9 537,1458 539.5,1459.5 542,1460.4 544.5,1461.8 547,1464.3 549.5,1465.7 552,1468 554.5,1469.4 557,1471.4 559.5,1472.6 562,1474.3 564.5,1474.8 567,1476.4 569.5,1477.1 572,1477.9 574.5,1480 577,1479.8 579.5,1481.2 582,1482 584.5,1483 587,1484.2 589.5,1484.7 592,1485.1 594.5,1486 597,1486.2 599.5,1486.5 602,1487.5 604.5,1487.9 607,1488 609.5,1489.2 612,1489 614.5,1490.1 617,1489.7 619.5,1490.5 622,1491.1 624.5,1491.3 627,1491.1 629.5,1492.4 632,1492.8 634.5,1492.4 637,1492.7 639.5,1493.4 642,1493.4 644.5,1493.9 647,1493.9 649.5,1494.4 652,1494.5 654.5,1494.8 656.9,1495.2 659.4,1495.3 661.9,1495.3 664.4,1495.6 666.9,1496.2 669.4,1495.9 671.9,1495.4 674.4,1496 676.9,1496.3 679.4,1496.6" fill="none" stroke="#b4aa72" stroke-width="1.6" stroke-linejoin="round" />
<path d="M179.8,1512.6 182.3,1512.6 184.8,1512.1 187.3,1512.3 189.8,1512.6 192.3,1512 194.8,1511.6 197.3,1511.2 199.8,1510.8 202.3,1511.6 204.8,1511.2 207.2,1510.8 209.7,1510.2 212.2,1510.3 214.7,1510.2 217.2,1509.8 219.7,1509.8 222.2,1509.2 224.7,1508.6 227.2,1508.4 229.7,1508.4 232.2,1508.1 234.7,1506.7 237.2,1506.2 239.7,1506.2 242.2,1505.7 244.7,1504.8 247.2,1504.2 249.7,1503.4 252.2,1502.6 254.7,1502.2 257.2,1502.1 259.7,1500.3 262.2,1499.6 264.7,1499.1 267.2,1497.4 269.7,1496.2 272.2,1496 274.7,1494.5 277.2,1492.9 279.7,1491 282.2,1486.2 284.7,1478.6 287.2,1468.1 289.7,1453 292.2,1436.6 294.7,1419.1 297.2,1401.9 299.7,1390.2 302.2,1380.6 304.7,1375.6 307.2,1377.9 309.7,1384.7 312.2,1393.7 314.7,1405.4 317.2,1415.8 319.7,1420.8 322.2,1426 324.7,1427.8 327.2,1426.3 329.7,1425.3 332.2,1424.5 334.7,1423.9 337.2,1422.8 339.7,1422.9 342.2,1422.8 344.7,1422.4 347.2,1421.1 349.7,1417.2 352.2,1411.5 354.6,1406.2 357.1,1401.7 359.6,1397.6 362.1,1397.9 364.6,1399.6 367.1,1403.6 369.6,1405.5 372.1,1407.6 374.6,1408.5 377.1,1408 379.6,1407 382.1,1404.8 384.6,1403.7 387.1,1400.2 389.6,1397.2 392.1,1392.8 394.6,1389.2 397.1,1385.5 399.6,1382 402.1,1377.8 404.6,1375.5 407.1,1373.6 409.6,1373.8 412.1,1376.1 414.6,1378.4 417.1,1383 419.6,1388.9 422.1,1397.9 424.6,1405.6 427.1,1410.7 429.6,1417.4 432.1,1421.7 434.6,1424.7 437.1,1426.7 439.6,1428.4 442.1,1430 444.6,1431.1 447.1,1432.8 449.6,1433.7 452.1,1434.8 454.6,1435.8 457.1,1436.2 459.6,1437.6 462.1,1438.5 464.6,1439.4 467.1,1439.5 469.6,1440.7 472.1,1441.3 474.6,1442 477.1,1442.8 479.6,1443.1 482.1,1443.7 484.6,1444.7 487.1,1445.1 489.6,1445.7 492.1,1445.9 494.6,1445.8 497.1,1447 499.6,1447 502.1,1448.1 504.5,1448.1 507,1448.2 509.5,1448.8 512,1449.1 514.5,1448.9 517,1450.1 519.5,1449.8 522,1449.9 524.5,1450.2 527,1451.3 529.5,1452.1 532,1452.7 534.5,1454.2 537,1455.6 539.5,1457.1 542,1458.9 544.5,1459.6 547,1461.4 549.5,1463.2 552,1465.3 554.5,1467.3 557,1469 559.5,1470.3 562,1472 564.5,1472.8 567,1474.5 569.5,1475.4 572,1476 574.5,1477.6 577,1478.8 579.5,1479.6 582,1479.7 584.5,1480.7 587,1482 589.5,1482.1 592,1483.1 594.5,1483.2 597,1484.2 599.5,1484.8 602,1485.3 604.5,1485.6 607,1485.7 609.5,1487 612,1486.8 614.5,1488 617,1488 619.5,1488.9 622,1488.8 624.5,1489.8 627,1489.3 629.5,1490 632,1490.8 634.5,1491 637,1491.6 639.5,1491.3 642,1492 644.5,1491.8 647,1492.9 649.5,1492.4 652,1492.9 654.5,1492.5 656.9,1493.2 659.4,1493.3 661.9,1493.3 664.4,1493.6 666.9,1494.4 669.4,1494 671.9,1494.2 674.4,1494.5 676.9,1495.2 679.4,1494.8" fill="none" stroke="#e2e040" stroke-width="2.0" stroke-linejoin="round" />
<path d="M179.8,1512.3 182.3,1512.4 184.8,1511.9 187.3,1512 189.8,1511.6 192.3,1510.7 194.8,1511.1 197.3,1510.8 199.8,1511.1 202.3,1510.9 204.8,1510.2 207.2,1510.5 209.7,1510.2 212.2,1509.5 214.7,1509.5 217.2,1508.8 219.7,1508.9 222.2,1508 224.7,1508.6 227.2,1507.8 229.7,1507.5 232.2,1506.6 234.7,1506.7 237.2,1505.4 239.7,1505.5 242.2,1504.3 244.7,1504.1 247.2,1503.1 249.7,1502.4 252.2,1502.2 254.7,1501.1 257.2,1500 259.7,1499.1 262.2,1497.7 264.7,1496.7 267.2,1496.3 269.7,1495.9 272.2,1494.4 274.7,1492.9 277.2,1492 279.7,1490 282.2,1485.2 284.7,1476.8 287.2,1465.9 289.7,1451.6 292.2,1434.1 294.7,1416.5 297.2,1398.8 299.7,1386.1 302.2,1377.1 304.7,1372 307.2,1374.1 309.7,1381.5 312.2,1389.9 314.7,1402.9 317.2,1412 319.7,1418.4 322.2,1423.2 324.7,1424.4 327.2,1423.8 329.7,1421.9 332.2,1420.9 334.7,1421.2 337.2,1420.1 339.7,1419.4 342.2,1418.9 344.7,1418.7 347.2,1417.8 349.7,1413.7 352.2,1407.6 354.6,1402.3 357.1,1397.6 359.6,1393.8 362.1,1393.4 364.6,1396.6 367.1,1399.2 369.6,1401.8 372.1,1403.7 374.6,1404.1 377.1,1405 379.6,1402.9 382.1,1401.7 384.6,1399.4 387.1,1396.9 389.6,1393.1 392.1,1388.9 394.6,1385 397.1,1380.9 399.6,1377.9 402.1,1373.5 404.6,1370.7 407.1,1369.2 409.6,1369.4 412.1,1371.9 414.6,1374.1 417.1,1377.8 419.6,1385.3 422.1,1394.1 424.6,1400.9 427.1,1407.1 429.6,1412.9 432.1,1418.3 434.6,1421.4 437.1,1423.4 439.6,1424.5 442.1,1426.7 444.6,1427.4 447.1,1429 449.6,1430 452.1,1430.6 454.6,1432.6 457.1,1433.6 459.6,1434.1 462.1,1435 464.6,1435.1 467.1,1436.8 469.6,1436.7 472.1,1438.1 474.6,1438.5 477.1,1439.6 479.6,1440.5 482.1,1440.7 484.6,1440.9 487.1,1441.9 489.6,1442.5 492.1,1442.4 494.6,1444.1 497.1,1443.7 499.6,1444 502.1,1444.8 504.5,1445 507,1445 509.5,1445.6 512,1446.4 514.5,1446.2 517,1446.9 519.5,1446.4 522,1446.7 524.5,1447.2 527,1447.5 529.5,1448.4 532,1450 534.5,1450.9 537,1452.1 539.5,1453.2 542,1455 544.5,1456.3 547,1459 549.5,1460.3 552,1463.3 554.5,1464 557,1466.2 559.5,1467.5 562,1469.3 564.5,1470.8 567,1471.6 569.5,1472.5 572,1473.7 574.5,1474.2 577,1476 579.5,1476.7 582,1477.8 584.5,1478.3 587,1478.8 589.5,1479.3 592,1480.5 594.5,1481.6 597,1481.9 599.5,1482.2 602,1482.7 604.5,1483 607,1483.4 609.5,1484.5 612,1485.1 614.5,1485.8 617,1485.7 619.5,1485.6 622,1486.5 624.5,1486.6 627,1487.7 629.5,1487.9 632,1488.2 634.5,1488.8 637,1489 639.5,1489.1 642,1489.5 644.5,1489.6 647,1490 649.5,1490.2 652,1490.9 654.5,1491 656.9,1491.1 659.4,1490.9 661.9,1491.6 664.4,1491.8 666.9,1492.1 669.4,1491.8 671.9,1492.4 674.4,1492.7 676.9,1492.9 679.4,1493" fill="none" stroke="#40c060" stroke-width="2.0" stroke-linejoin="round" />
<path d="M179.8,1512.2 182.3,1511.4 184.8,1511.7 187.3,1511.3 189.8,1511.5 192.3,1510.3 194.8,1511.1 197.3,1510.5 199.8,1510.4 202.3,1509.4 204.8,1509.7 207.2,1509.9 209.7,1509.4 212.2,1509.2 214.7,1508.9 217.2,1508.3 219.7,1508.4 222.2,1507.3 224.7,1507.7 227.2,1506.7 229.7,1506 232.2,1505.7 234.7,1504.7 237.2,1504.7 239.7,1503.9 242.2,1503.8 244.7,1502.4 247.2,1503.1 249.7,1501.5 252.2,1501.1 254.7,1499.7 257.2,1499.2 259.7,1497.9 262.2,1496.6 264.7,1495.9 267.2,1494.7 269.7,1493.7 272.2,1493.1 274.7,1492.1 277.2,1490.5 279.7,1487.9 282.2,1484 284.7,1475.2 287.2,1465.3 289.7,1449.3 292.2,1431.9 294.7,1413.2 297.2,1395.2 299.7,1382.8 302.2,1373.8 304.7,1368.4 307.2,1370.1 309.7,1377.5 312.2,1386.6 314.7,1399.9 317.2,1409 319.7,1415 322.2,1420 324.7,1421.1 327.2,1420.7 329.7,1418.6 332.2,1417.9 334.7,1417.4 337.2,1417.5 339.7,1416.6 342.2,1416.4 344.7,1415 347.2,1414.5 349.7,1409.8 352.2,1404.1 354.6,1399 357.1,1393.5 359.6,1389.4 362.1,1389.2 364.6,1392.9 367.1,1395.3 369.6,1397.6 372.1,1399.8 374.6,1401.4 377.1,1401.3 379.6,1400 382.1,1398.2 384.6,1395.8 387.1,1392.4 389.6,1388.7 392.1,1385.1 394.6,1381 397.1,1376.9 399.6,1373.3 402.1,1369.1 404.6,1366.1 407.1,1364.5 409.6,1364.5 412.1,1367.3 414.6,1369.8 417.1,1374.2 419.6,1381 422.1,1389.8 424.6,1397.2 427.1,1403.6 429.6,1409 432.1,1414.6 434.6,1418.1 437.1,1420.2 439.6,1421.3 442.1,1423.3 444.6,1424.7 447.1,1426 449.6,1426.7 452.1,1428 454.6,1429 457.1,1429.8 459.6,1430.2 462.1,1431.6 464.6,1432.2 467.1,1433.6 469.6,1433.9 472.1,1434.6 474.6,1435.5 477.1,1436.1 479.6,1437.3 482.1,1437.2 484.6,1438.2 487.1,1439 489.6,1439.2 492.1,1439.6 494.6,1440.2 497.1,1440.4 499.6,1440.8 502.1,1441.5 504.5,1442 507,1442.3 509.5,1442.6 512,1442.9 514.5,1442.6 517,1442.6 519.5,1444 522,1443.7 524.5,1444.5 527,1444.9 529.5,1445.2 532,1446.2 534.5,1447.9 537,1448.8 539.5,1450.3 542,1452.3 544.5,1453.5 547,1455.7 549.5,1457.9 552,1459.8 554.5,1461.3 557,1463.3 559.5,1464.4 562,1466.6 564.5,1468.2 567,1468.9 569.5,1470.5 572,1471.4 574.5,1472.5 577,1473.3 579.5,1474.3 582,1474.4 584.5,1475.9 587,1476.5 589.5,1477.1 592,1477.4 594.5,1478.8 597,1479.5 599.5,1479.5 602,1480.6 604.5,1481.1 607,1481.6 609.5,1481.7 612,1482.4 614.5,1483.8 617,1483.1 619.5,1483.5 622,1484.1 624.5,1484.9 627,1484.9 629.5,1486.2 632,1485.3 634.5,1486.4 637,1486.8 639.5,1486.8 642,1486.6 644.5,1487.8 647,1487.8 649.5,1488.3 652,1488.5 654.5,1488.3 656.9,1488.2 659.4,1489.1 661.9,1489.4 664.4,1489.6 666.9,1489.7 669.4,1490.1 671.9,1490.3 674.4,1490.7 676.9,1490.6 679.4,1490.7" fill="none" stroke="#40a060" stroke-width="2.0" stroke-linejoin="round" />
<path d="M179.8,1510.7 182.3,1510.8 184.8,1510.9 187.3,1511.4 189.8,1510.2 192.3,1509.5 194.8,1509.3 197.3,1509.6 199.8,1509.7 202.3,1509 204.8,1509.6 207.2,1508.9 209.7,1508.2 212.2,1507.9 214.7,1507.6 217.2,1507.8 219.7,1507.5 222.2,1506.4 224.7,1505.8 227.2,1505.7 229.7,1505.5 232.2,1504.5 234.7,1503.7 237.2,1503.5 239.7,1503.2 242.2,1501.7 244.7,1501.3 247.2,1501 249.7,1500.1 252.2,1499.5 254.7,1497.8 257.2,1497.4 259.7,1496.3 262.2,1494.8 264.7,1493 267.2,1493.7 269.7,1492.3 272.2,1490.7 274.7,1489.9 277.2,1488.6 279.7,1486.7 282.2,1481.9 284.7,1473.2 287.2,1462.1 289.7,1446.2 292.2,1429 294.7,1409.8 297.2,1391.1 299.7,1377.9 302.2,1368.1 304.7,1362.5 307.2,1364.6 309.7,1372.5 312.2,1381.5 314.7,1395 317.2,1405 319.7,1411.5 322.2,1415.6 324.7,1417 327.2,1415.8 329.7,1414.3 332.2,1413.8 334.7,1412.3 337.2,1412.2 339.7,1412 342.2,1411.1 344.7,1411 347.2,1410.1 349.7,1405.3 352.2,1399.2 354.6,1394 357.1,1388.6 359.6,1383.9 362.1,1383.6 364.6,1386.6 367.1,1390.1 369.6,1392.3 372.1,1394.3 374.6,1395.8 377.1,1395.7 379.6,1394.4 382.1,1392.2 384.6,1390.1 387.1,1387.1 389.6,1383.3 392.1,1379 394.6,1374.8 397.1,1370.8 399.6,1366.8 402.1,1364.1 404.6,1360.1 407.1,1357.9 409.6,1358.2 412.1,1360.4 414.6,1364.2 417.1,1368 419.6,1375.4 422.1,1383.6 424.6,1391.8 427.1,1398.8 429.6,1404.3 432.1,1409.7 434.6,1412.8 437.1,1415.4 439.6,1417.2 442.1,1418.5 444.6,1419.3 447.1,1421.2 449.6,1422.3 452.1,1423.4 454.6,1424.3 457.1,1424.9 459.6,1426 462.1,1426.6 464.6,1427.8 467.1,1428.9 469.6,1429.1 472.1,1430.5 474.6,1430.6 477.1,1431.8 479.6,1432.9 482.1,1432.8 484.6,1433.7 487.1,1434.1 489.6,1434.6 492.1,1435.4 494.6,1436.1 497.1,1435.9 499.6,1436.8 502.1,1437.2 504.5,1438 507,1437.7 509.5,1438 512,1439.3 514.5,1439.4 517,1439.3 519.5,1439.3 522,1439.4 524.5,1440 527,1439.8 529.5,1440.5 532,1442.2 534.5,1442.9 537,1444.5 539.5,1446.1 542,1447.9 544.5,1449.3 547,1451.6 549.5,1454.3 552,1455.4 554.5,1457.5 557,1459.3 559.5,1461.7 562,1463.2 564.5,1464.6 567,1465.4 569.5,1466.6 572,1467.9 574.5,1467.8 577,1470 579.5,1471.2 582,1471.2 584.5,1472.7 587,1473.4 589.5,1473.6 592,1475 594.5,1475.3 597,1475.7 599.5,1476.2 602,1476.6 604.5,1477.6 607,1477.7 609.5,1479.1 612,1479.3 614.5,1479.6 617,1480 619.5,1480.4 622,1480.5 624.5,1481.1 627,1481.4 629.5,1482 632,1483.2 634.5,1482.4 637,1483.1 639.5,1483.9 642,1484.3 644.5,1484.3 647,1484.7 649.5,1484.6 652,1484.7 654.5,1485.3 656.9,1485.2 659.4,1485.4 661.9,1486.2 664.4,1486.3 666.9,1486.7 669.4,1487 671.9,1487.2 674.4,1487.7 676.9,1487.5 679.4,1487.7" fill="none" stroke="#1e908a" stroke-width="2.6" stroke-linejoin="round" />
<path d="M179.8,1510.8 182.3,1510.3 184.8,1510.5 187.3,1509.7 189.8,1509.4 192.3,1509.5 194.8,1509.4 197.3,1509 199.8,1508.9 202.3,1508.7 204.8,1508.3 207.2,1507.8 209.7,1507.3 212.2,1507 214.7,1507 217.2,1506.9 219.7,1506.2 222.2,1505.6 224.7,1504.7 227.2,1504.5 229.7,1504.5 232.2,1503 234.7,1502.5 237.2,1502.2 239.7,1502 242.2,1501.1 244.7,1500.1 247.2,1499.3 249.7,1498.8 252.2,1497.9 254.7,1496.2 257.2,1496 259.7,1493.7 262.2,1493.2 264.7,1491.3 267.2,1490.5 269.7,1489.7 272.2,1489 274.7,1487.6 277.2,1486.6 279.7,1484.9 282.2,1480.4 284.7,1471.1 287.2,1459.7 289.7,1443.4 292.2,1425.7 294.7,1405.6 297.2,1386 299.7,1373.2 302.2,1362.5 304.7,1357.3 307.2,1360.3 309.7,1367.6 312.2,1376.2 314.7,1390.3 317.2,1400.6 319.7,1407 322.2,1411.3 324.7,1412.7 327.2,1411.9 329.7,1410.4 332.2,1409 334.7,1408.3 337.2,1408 339.7,1407.2 342.2,1407 344.7,1405.4 347.2,1405.5 349.7,1400.1 352.2,1394.4 354.6,1388.4 357.1,1383.3 359.6,1378.7 362.1,1378 364.6,1381.3 367.1,1384.8 369.6,1387.2 372.1,1389.5 374.6,1390.5 377.1,1389.8 379.6,1389.3 382.1,1386.9 384.6,1384.8 387.1,1382 389.6,1378.1 392.1,1373.8 394.6,1369.2 397.1,1365.3 399.6,1360.5 402.1,1356 404.6,1353.1 407.1,1350.8 409.6,1352.6 412.1,1353.8 414.6,1357.8 417.1,1361.7 419.6,1369.4 422.1,1378.3 424.6,1386 427.1,1393 429.6,1398.9 432.1,1404 434.6,1407.7 437.1,1410.1 439.6,1411.9 442.1,1413.6 444.6,1414.9 447.1,1416.3 449.6,1417.8 452.1,1418.7 454.6,1419.8 457.1,1420.1 459.6,1421.5 462.1,1422.2 464.6,1423.6 467.1,1424.4 469.6,1425.1 472.1,1425.9 474.6,1426.5 477.1,1427.9 479.6,1427.9 482.1,1428.6 484.6,1429.5 487.1,1430.2 489.6,1430.4 492.1,1430.9 494.6,1431.9 497.1,1431.6 499.6,1432.7 502.1,1432.9 504.5,1432.7 507,1433.5 509.5,1434.2 512,1433.6 514.5,1434.9 517,1434.3 519.5,1434.9 522,1434.4 524.5,1435 527,1435.5 529.5,1436.4 532,1437.2 534.5,1438.9 537,1440.3 539.5,1441.4 542,1442.9 544.5,1445.5 547,1447.3 549.5,1449.4 552,1451.1 554.5,1453.4 557,1455.5 559.5,1457.2 562,1459 564.5,1460.9 567,1461.8 569.5,1462.9 572,1464 574.5,1465.3 577,1466.6 579.5,1467.3 582,1467.7 584.5,1468.8 587,1469.2 589.5,1470.2 592,1470.8 594.5,1472.1 597,1472.6 599.5,1473.5 602,1473.6 604.5,1473.8 607,1474.9 609.5,1475.1 612,1475.7 614.5,1475.7 617,1476.6 619.5,1476.4 622,1477.2 624.5,1477.5 627,1478.5 629.5,1478.3 632,1479.8 634.5,1480.1 637,1480 639.5,1480.5 642,1480.5 644.5,1481.1 647,1481.3 649.5,1482.2 652,1481.8 654.5,1482.1 656.9,1482.3 659.4,1482.9 661.9,1483.1 664.4,1483.5 666.9,1483.8 669.4,1483.6 671.9,1483.6 674.4,1484.2 676.9,1484.7 679.4,1485.2" fill="none" stroke="#20b8c8" stroke-width="3.0" stroke-linejoin="round" />
<path d="M179.8,1509.6 182.3,1510.4 184.8,1509.9 187.3,1509.1 189.8,1509.2 192.3,1509.2 194.8,1508.7 197.3,1508.5 199.8,1508.3 202.3,1508.1 204.8,1507.4 207.2,1507.3 209.7,1507.6 212.2,1506.4 214.7,1506.2 217.2,1505.7 219.7,1505.1 222.2,1504.8 224.7,1504 227.2,1503.3 229.7,1503.2 232.2,1502.5 234.7,1501.6 237.2,1500.9 239.7,1500.4 242.2,1499.7 244.7,1499 247.2,1498.5 249.7,1497.2 252.2,1496.2 254.7,1495.2 257.2,1493.9 259.7,1492.4 262.2,1490.7 264.7,1490.3 267.2,1488.8 269.7,1488.3 272.2,1486.7 274.7,1486.3 277.2,1485.3 279.7,1483.1 282.2,1478.5 284.7,1469.4 287.2,1458 289.7,1440.5 292.2,1422.4 294.7,1402.3 297.2,1382.2 299.7,1369.3 302.2,1358.5 304.7,1353 307.2,1355.9 309.7,1362.6 312.2,1372.9 314.7,1386.8 317.2,1396.8 319.7,1403 322.2,1407.8 324.7,1408.6 327.2,1407.5 329.7,1406.3 332.2,1404.9 334.7,1404.4 337.2,1403.6 339.7,1402.6 342.2,1403 344.7,1402.3 347.2,1401.3 349.7,1397.2 352.2,1389.9 354.6,1383.5 357.1,1378.5 359.6,1374.5 362.1,1373.7 364.6,1376.3 367.1,1380.1 369.6,1382.9 372.1,1385.6 374.6,1386.1 377.1,1385.7 379.6,1384.4 382.1,1382.7 384.6,1380 387.1,1377.3 389.6,1373.5 392.1,1368.4 394.6,1363.5 397.1,1359.7 399.6,1356.4 402.1,1350.7 404.6,1347.8 407.1,1345.6 409.6,1346.9 412.1,1348.6 414.6,1352.4 417.1,1356.8 419.6,1364.7 422.1,1373.7 424.6,1381.5 427.1,1388.4 429.6,1394.1 432.1,1400.2 434.6,1403.9 437.1,1405.8 439.6,1408.1 442.1,1409.5 444.6,1410.8 447.1,1412 449.6,1413.2 452.1,1414.3 454.6,1416.1 457.1,1416.8 459.6,1417.4 462.1,1418.5 464.6,1419.6 467.1,1420.7 469.6,1420.7 472.1,1422.2 474.6,1422.7 477.1,1424.2 479.6,1424.7 482.1,1425.8 484.6,1425.8 487.1,1425.8 489.6,1426.7 492.1,1427.4 494.6,1428.3 497.1,1428.3 499.6,1428.6 502.1,1428.6 504.5,1429.5 507,1430 509.5,1429.7 512,1430.2 514.5,1430.6 517,1430.3 519.5,1430.6 522,1430.7 524.5,1431.8 527,1432.2 529.5,1432.1 532,1433.3 534.5,1435.3 537,1436 539.5,1437.5 542,1439 544.5,1441.5 547,1444.1 549.5,1446.1 552,1447.9 554.5,1449.9 557,1452.3 559.5,1454.1 562,1455.7 564.5,1458.1 567,1458.9 569.5,1460.5 572,1460.7 574.5,1462.1 577,1463.3 579.5,1464.4 582,1465.1 584.5,1465.5 587,1466.3 589.5,1468.1 592,1467.9 594.5,1468 597,1469.6 599.5,1470.6 602,1471.1 604.5,1471.2 607,1471.4 609.5,1471.9 612,1472.8 614.5,1473.2 617,1473.5 619.5,1474.4 622,1474.4 624.5,1475.3 627,1476 629.5,1476.5 632,1476.4 634.5,1477.2 637,1477.1 639.5,1478.5 642,1478.3 644.5,1478.5 647,1478.9 649.5,1479.4 652,1479.9 654.5,1479.3 656.9,1479.6 659.4,1479.9 661.9,1480.9 664.4,1480.8 666.9,1481.3 669.4,1481.4 671.9,1481.3 674.4,1481.6 676.9,1482.2 679.4,1481.6" fill="none" stroke="#44d0d0" stroke-width="2.0" stroke-linejoin="round" />
<path d="M179.8,1509.6 182.3,1509.2 184.8,1508.8 187.3,1509.4 189.8,1508.6 192.3,1507.9 194.8,1507.9 197.3,1508.1 199.8,1507.7 202.3,1507.1 204.8,1506.4 207.2,1506.6 209.7,1505.8 212.2,1506 214.7,1505.3 217.2,1504.8 219.7,1504 222.2,1503.6 224.7,1502.7 227.2,1502.5 229.7,1502 232.2,1501.2 234.7,1500.9 237.2,1500.2 239.7,1499.5 242.2,1498.6 244.7,1498.1 247.2,1497.5 249.7,1496.5 252.2,1495.3 254.7,1493.4 257.2,1492.3 259.7,1490.9 262.2,1489.5 264.7,1488.2 267.2,1487.8 269.7,1486.3 272.2,1485.8 274.7,1484.9 277.2,1483.6 279.7,1481.6 282.2,1476.7 284.7,1468.1 287.2,1456 289.7,1438.4 292.2,1419.8 294.7,1398.6 297.2,1378.3 299.7,1364.1 302.2,1354.5 304.7,1348.4 307.2,1350.4 309.7,1358.6 312.2,1368.6 314.7,1382.9 317.2,1394 319.7,1399.3 322.2,1404.1 324.7,1405 327.2,1404 329.7,1402.1 332.2,1401.2 334.7,1400.3 337.2,1399.6 339.7,1399.6 342.2,1399.7 344.7,1398.4 347.2,1397.1 349.7,1393.1 352.2,1386.1 354.6,1379.2 357.1,1374.4 359.6,1369.2 362.1,1368.7 364.6,1372.2 367.1,1375.9 369.6,1378.2 372.1,1381.1 374.6,1382.3 377.1,1381.5 379.6,1380.2 382.1,1378.2 384.6,1375.4 387.1,1372.4 389.6,1368.7 392.1,1363.7 394.6,1358.8 397.1,1354.3 399.6,1350.9 402.1,1346.4 404.6,1342.2 407.1,1340.4 409.6,1340.6 412.1,1343.7 414.6,1346.6 417.1,1350.9 419.6,1358.7 422.1,1368.4 424.6,1376.5 427.1,1383.6 429.6,1390.2 432.1,1395.5 434.6,1399.8 437.1,1401.6 439.6,1403.9 442.1,1405.4 444.6,1407.4 447.1,1408 449.6,1408.9 452.1,1410.5 454.6,1411.4 457.1,1413.3 459.6,1413.6 462.1,1414.5 464.6,1415.9 467.1,1416.6 469.6,1416.9 472.1,1418.1 474.6,1419.2 477.1,1419.8 479.6,1420.8 482.1,1421 484.6,1421.7 487.1,1422.6 489.6,1423.7 492.1,1423.8 494.6,1424 497.1,1424.5 499.6,1425 502.1,1424.9 504.5,1425.8 507,1425.7 509.5,1426.6 512,1427.2 514.5,1426.6 517,1427.1 519.5,1426.7 522,1427.1 524.5,1427.9 527,1428.3 529.5,1429 532,1429.6 534.5,1431.6 537,1432.2 539.5,1434 542,1435.6 544.5,1437.3 547,1440.2 549.5,1442.6 552,1444.9 554.5,1446.5 557,1449.5 559.5,1451 562,1452.7 564.5,1454.7 567,1456.1 569.5,1456.7 572,1458.4 574.5,1459.3 577,1460.6 579.5,1460.7 582,1461.9 584.5,1462.6 587,1463.9 589.5,1464.2 592,1465 594.5,1465.8 597,1466.6 599.5,1466.6 602,1468.1 604.5,1468.3 607,1468.2 609.5,1469 612,1469.5 614.5,1470.3 617,1471 619.5,1470.9 622,1471.9 624.5,1472.5 627,1473.1 629.5,1472.8 632,1474 634.5,1473.6 637,1474.6 639.5,1475.2 642,1475.2 644.5,1475.5 647,1476.3 649.5,1476.4 652,1476.6 654.5,1477 656.9,1477.8 659.4,1477.2 661.9,1478.1 664.4,1477.8 666.9,1478.6 669.4,1478.8 671.9,1478.8 674.4,1479 676.9,1479.1 679.4,1479.5" fill="none" stroke="#30a0a0" stroke-width="2.0" stroke-linejoin="round" />
<path d="M179.8,1508.7 182.3,1508.2 184.8,1508.7 187.3,1507.6 189.8,1507.9 192.3,1507.7 194.8,1507 197.3,1506.8 199.8,1506.8 202.3,1506.1 204.8,1506.2 207.2,1505.2 209.7,1505.1 212.2,1504.6 214.7,1504.3 217.2,1503.4 219.7,1503.2 222.2,1502.9 224.7,1502.4 227.2,1500.5 229.7,1500.7 232.2,1499.9 234.7,1499.3 237.2,1498.5 239.7,1498.2 242.2,1497.2 244.7,1495.9 247.2,1495.6 249.7,1493.9 252.2,1493.1 254.7,1491.8 257.2,1490.5 259.7,1488.4 262.2,1487.2 264.7,1486.2 267.2,1485.2 269.7,1483.3 272.2,1483.6 274.7,1482.8 277.2,1480.7 279.7,1479.9 282.2,1473.9 284.7,1465.3 287.2,1453.2 289.7,1435.1 292.2,1416.2 294.7,1394.3 297.2,1372.7 299.7,1359.2 302.2,1348.2 304.7,1341.8 307.2,1344.9 309.7,1352.5 312.2,1362.8 314.7,1377.4 317.2,1388.6 319.7,1394.4 322.2,1398.7 324.7,1400.4 327.2,1398.9 329.7,1397.2 332.2,1395.9 334.7,1395.4 337.2,1394.4 339.7,1393.8 342.2,1393.4 344.7,1393.6 347.2,1392 349.7,1387.5 352.2,1380.6 354.6,1373.9 357.1,1367.6 359.6,1362.8 362.1,1362 364.6,1365.9 367.1,1369.6 369.6,1372.3 372.1,1374.7 374.6,1375.6 377.1,1375.4 379.6,1374.3 382.1,1372.1 384.6,1369 387.1,1366.4 389.6,1361.5 392.1,1356.7 394.6,1352 397.1,1347.3 399.6,1343.5 402.1,1338.9 404.6,1335 407.1,1332.5 409.6,1334 412.1,1336.2 414.6,1339.5 417.1,1344.4 419.6,1352.1 422.1,1362.2 424.6,1370.5 427.1,1377.6 429.6,1384.5 432.1,1389.9 434.6,1393.6 437.1,1397.1 439.6,1398.7 442.1,1399.9 444.6,1401.5 447.1,1403.1 449.6,1403.8 452.1,1405.2 454.6,1406.1 457.1,1407.3 459.6,1408.6 462.1,1409.8 464.6,1410.7 467.1,1411.5 469.6,1412.3 472.1,1413.7 474.6,1414 477.1,1414.8 479.6,1415.7 482.1,1416.4 484.6,1417.1 487.1,1417.7 489.6,1418 492.1,1418.6 494.6,1419 497.1,1419.9 499.6,1420.2 502.1,1420.5 504.5,1421 507,1421.4 509.5,1421.5 512,1421.3 514.5,1421.6 517,1421.5 519.5,1422.6 522,1422.6 524.5,1422.5 527,1423.3 529.5,1423.9 532,1424.4 534.5,1425.5 537,1427.5 539.5,1428.7 542,1430.2 544.5,1432.2 547,1434.9 549.5,1437.3 552,1439.6 554.5,1441.9 557,1444.5 559.5,1447 562,1448.7 564.5,1450 567,1452 569.5,1452.6 572,1454.2 574.5,1455.4 577,1456.2 579.5,1456.8 582,1457.6 584.5,1459.1 587,1459.1 589.5,1460.2 592,1460.4 594.5,1461.8 597,1462.2 599.5,1463.3 602,1464.3 604.5,1464.3 607,1464.9 609.5,1465 612,1465.7 614.5,1466.4 617,1467.4 619.5,1467.7 622,1468 624.5,1468.6 627,1469 629.5,1469.7 632,1470.4 634.5,1469.7 637,1471.5 639.5,1471.2 642,1471.5 644.5,1472.5 647,1472.8 649.5,1472.7 652,1473.1 654.5,1473.2 656.9,1473.7 659.4,1474 661.9,1474.7 664.4,1473.9 666.9,1474.4 669.4,1474.8 671.9,1475.4 674.4,1476 676.9,1476 679.4,1475.8" fill="none" stroke="#3090e0" stroke-width="2.6" stroke-linejoin="round" />
<path d="M179.8,1508.1 182.3,1507.6 184.8,1507.5 187.3,1507.9 189.8,1506.9 192.3,1506.8 194.8,1506.6 197.3,1506 199.8,1505.5 202.3,1505.4 204.8,1505.4 207.2,1504.7 209.7,1504 212.2,1503.4 214.7,1503.4 217.2,1502.9 219.7,1501.9 222.2,1500.8 224.7,1500.1 227.2,1499.8 229.7,1499.8 232.2,1498.1 234.7,1497.5 237.2,1497 239.7,1496.5 242.2,1495.3 244.7,1494.1 247.2,1493.3 249.7,1492.4 252.2,1491.3 254.7,1490.4 257.2,1488.8 259.7,1486.8 262.2,1484.5 264.7,1483.4 267.2,1482.4 269.7,1481.6 272.2,1480.6 274.7,1480.3 277.2,1478.8 279.7,1478 282.2,1472.2 284.7,1462.8 287.2,1449.9 289.7,1431.2 292.2,1412.2 294.7,1389.9 297.2,1369 299.7,1353.3 302.2,1342.2 304.7,1336.2 307.2,1339.2 309.7,1347.8 312.2,1357.6 314.7,1372.2 317.2,1383.3 319.7,1389.5 322.2,1393.7 324.7,1395.1 327.2,1394.7 329.7,1391.9 332.2,1390.3 334.7,1390.2 337.2,1389.8 339.7,1388.3 342.2,1388 344.7,1387.8 347.2,1386.9 349.7,1381.6 352.2,1375 354.6,1367.2 357.1,1361.8 359.6,1356.7 362.1,1356 364.6,1359.6 367.1,1362.6 369.6,1365.9 372.1,1369.2 374.6,1370.2 377.1,1369.8 379.6,1367.8 382.1,1366.3 384.6,1363.4 387.1,1359.6 389.6,1355.2 392.1,1350.5 394.6,1345.3 397.1,1341.4 399.6,1335.8 402.1,1331.8 404.6,1328.1 407.1,1325.9 409.6,1326.6 412.1,1329.6 414.6,1332.7 417.1,1337.7 419.6,1345.1 422.1,1355.1 424.6,1364.1 427.1,1371.8 429.6,1377.9 432.1,1383.8 434.6,1388.3 437.1,1391 439.6,1392.9 442.1,1394.6 444.6,1396.1 447.1,1397.6 449.6,1398.4 452.1,1400 454.6,1400.9 457.1,1401.8 459.6,1403.4 462.1,1403.6 464.6,1404.8 467.1,1406.4 469.6,1406.9 472.1,1408.3 474.6,1409.1 477.1,1410.1 479.6,1411.1 482.1,1411.5 484.6,1412.4 487.1,1412.9 489.6,1413.8 492.1,1413.2 494.6,1413.8 497.1,1414.6 499.6,1415.6 502.1,1415.4 504.5,1415.6 507,1416.3 509.5,1416 512,1415.9 514.5,1416.5 517,1417.2 519.5,1416.7 522,1417.6 524.5,1417.7 527,1417.6 529.5,1418.1 532,1419.1 534.5,1419.9 537,1422.1 539.5,1424 542,1425.1 544.5,1427.4 547,1429.4 549.5,1432.8 552,1435.4 554.5,1437.6 557,1439.8 559.5,1442.4 562,1444.3 564.5,1445.6 567,1447.4 569.5,1448.8 572,1449.7 574.5,1450.7 577,1451.8 579.5,1453.4 582,1453.9 584.5,1454.5 587,1455.4 589.5,1456.3 592,1456.6 594.5,1458.1 597,1458.7 599.5,1458.5 602,1460.3 604.5,1460.2 607,1460.2 609.5,1461.3 612,1461.6 614.5,1463 617,1463.3 619.5,1462.9 622,1464.5 624.5,1464.7 627,1465.7 629.5,1465.7 632,1466.5 634.5,1467 637,1467.8 639.5,1467.8 642,1468 644.5,1468.4 647,1468.6 649.5,1469.6 652,1469.9 654.5,1469.8 656.9,1469.9 659.4,1470.4 661.9,1470.5 664.4,1471.2 666.9,1471.2 669.4,1471.4 671.9,1471.9 674.4,1472 676.9,1472.1 679.4,1472.2" fill="none" stroke="#5080c0" stroke-width="1.6" stroke-linejoin="round" />
<path d="M179.8,1507.1 182.3,1506.1 184.8,1506.7 187.3,1506.2 189.8,1505.8 192.3,1505.5 194.8,1504.9 197.3,1504.9 199.8,1504.2 202.3,1504.4 204.8,1503.5 207.2,1503.1 209.7,1502.9 212.2,1502.2 214.7,1501.9 217.2,1501.1 219.7,1500.2 222.2,1499.7 224.7,1499.1 227.2,1498.5 229.7,1497 232.2,1496.2 234.7,1495.7 237.2,1494.8 239.7,1494.7 242.2,1492.8 244.7,1491.7 247.2,1490.8 249.7,1489.6 252.2,1489.2 254.7,1487.1 257.2,1485.9 259.7,1483.1 262.2,1482.1 264.7,1480.2 267.2,1479.1 269.7,1478.6 272.2,1478 274.7,1476.9 277.2,1475.8 279.7,1474.4 282.2,1468.9 284.7,1459.3 287.2,1446.4 289.7,1427.4 292.2,1406.4 294.7,1383.3 297.2,1359.5 299.7,1345.2 302.2,1333 304.7,1326.6 307.2,1329.9 309.7,1338.3 312.2,1349.4 314.7,1364.2 317.2,1376 319.7,1381.7 322.2,1386.7 324.7,1388.3 327.2,1386.3 329.7,1384.3 332.2,1383.2 334.7,1382.5 337.2,1381.3 339.7,1380.8 342.2,1380.2 344.7,1380.4 347.2,1378.5 349.7,1373.9 352.2,1366.1 354.6,1358.6 357.1,1352.3 359.6,1348.2 362.1,1346.5 364.6,1350.6 367.1,1353.9 369.6,1357.6 372.1,1359.7 374.6,1361 377.1,1360.6 379.6,1358.8 382.1,1356.5 384.6,1353.9 387.1,1351.1 389.6,1345.5 392.1,1340.3 394.6,1335.4 397.1,1330.8 399.6,1325.5 402.1,1320.9 404.6,1316.8 407.1,1314.5 409.6,1315.5 412.1,1317.3 414.6,1322.1 417.1,1326.2 419.6,1335.1 422.1,1345.8 424.6,1355.2 427.1,1363 429.6,1369.8 432.1,1376.2 434.6,1379.6 437.1,1382.9 439.6,1384.6 442.1,1386.2 444.6,1387.7 447.1,1389.6 449.6,1390.6 452.1,1392.5 454.6,1393.4 457.1,1393.9 459.6,1395 462.1,1396.4 464.6,1397.4 467.1,1398.5 469.6,1399.3 472.1,1400.1 474.6,1401.7 477.1,1401.9 479.6,1403.6 482.1,1403.6 484.6,1404.4 487.1,1405.2 489.6,1406.2 492.1,1406.2 494.6,1407.4 497.1,1407.7 499.6,1407 502.1,1407.8 504.5,1408.2 507,1408.6 509.5,1409 512,1408.6 514.5,1409.1 517,1409.7 519.5,1409.3 522,1410.3 524.5,1410.4 527,1410.1 529.5,1410.7 532,1411.5 534.5,1412.8 537,1414.2 539.5,1415.7 542,1418.3 544.5,1420.3 547,1422.5 549.5,1426.1 552,1428.7 554.5,1431 557,1433.5 559.5,1435.9 562,1438.5 564.5,1440.1 567,1441.4 569.5,1442.6 572,1444 574.5,1445.3 577,1446.2 579.5,1447.2 582,1447.8 584.5,1448.5 587,1449.3 589.5,1450 592,1451.7 594.5,1451.8 597,1452.5 599.5,1453.5 602,1454.3 604.5,1454.3 607,1455 609.5,1455.4 612,1456.3 614.5,1456.8 617,1457.1 619.5,1458.2 622,1458.1 624.5,1459.6 627,1459 629.5,1460.2 632,1460.9 634.5,1461.2 637,1461.4 639.5,1462 642,1462.5 644.5,1463 647,1463.6 649.5,1463.4 652,1464.6 654.5,1464.7 656.9,1464.8 659.4,1465.5 661.9,1465.6 664.4,1465.3 666.9,1466 669.4,1465.7 671.9,1467 674.4,1466.7 676.9,1466.6 679.4,1467.5" fill="none" stroke="#a070d0" stroke-width="1.6" stroke-linejoin="round" />
<path d="M179.8,1506.3 182.3,1505.6 184.8,1505.7 187.3,1505.6 189.8,1504.5 192.3,1505 194.8,1504.5 197.3,1503.5 199.8,1503.8 202.3,1503 204.8,1502.8 207.2,1501.8 209.7,1501.5 212.2,1501.3 214.7,1500.6 217.2,1499.3 219.7,1499 222.2,1497.8 224.7,1498 227.2,1496.4 229.7,1496.2 232.2,1495.1 234.7,1494.3 237.2,1493.4 239.7,1492.8 242.2,1491.5 244.7,1490.3 247.2,1489.1 249.7,1487.7 252.2,1487.2 254.7,1485.1 257.2,1483.6 259.7,1481.3 262.2,1479.5 264.7,1478.1 267.2,1476.8 269.7,1476.1 272.2,1475.6 274.7,1474.2 277.2,1474.2 279.7,1472.6 282.2,1467.2 284.7,1456.6 287.2,1443.5 289.7,1423.9 292.2,1402.1 294.7,1379 297.2,1355.2 299.7,1338.7 302.2,1328.1 304.7,1321.3 307.2,1324.6 309.7,1332.9 312.2,1343.4 314.7,1358.7 317.2,1371.4 319.7,1377.6 322.2,1381.7 324.7,1382.9 327.2,1381.6 329.7,1379.6 332.2,1377.5 334.7,1377 337.2,1376 339.7,1376 342.2,1375.4 344.7,1375.4 347.2,1373.7 349.7,1368.8 352.2,1360.6 354.6,1353.1 357.1,1347.2 359.6,1341.6 362.1,1340.2 364.6,1344.1 367.1,1347.6 369.6,1351 372.1,1354.2 374.6,1355.6 377.1,1355.1 379.6,1353.1 382.1,1350.7 384.6,1347.9 387.1,1344.6 389.6,1339.6 392.1,1333.6 394.6,1328.2 397.1,1324 399.6,1318.9 402.1,1313.9 404.6,1309.2 407.1,1307.3 409.6,1308.2 412.1,1310.6 414.6,1315 417.1,1319.7 419.6,1328.4 422.1,1339.2 424.6,1348.8 427.1,1356.7 429.6,1363.5 432.1,1369.5 434.6,1373.9 437.1,1376.9 439.6,1379.3 442.1,1381.1 444.6,1382.6 447.1,1384.3 449.6,1385.7 452.1,1386.9 454.6,1387.3 457.1,1389.2 459.6,1390 462.1,1391.4 464.6,1392.4 467.1,1392.8 469.6,1394.3 472.1,1395.4 474.6,1396.2 477.1,1396.9 479.6,1397.9 482.1,1399.2 484.6,1399.7 487.1,1400.1 489.6,1400.7 492.1,1401.5 494.6,1401.4 497.1,1402.4 499.6,1403.6 502.1,1402.7 504.5,1403.4 507,1404.1 509.5,1404.2 512,1403.7 514.5,1404.4 517,1404.5 519.5,1404.8 522,1404 524.5,1404.8 527,1404.7 529.5,1405.2 532,1406.7 534.5,1408.1 537,1409.6 539.5,1411.5 542,1412.8 544.5,1415 547,1417.4 549.5,1421.5 552,1423.9 554.5,1426.3 557,1428.3 559.5,1431.7 562,1433.8 564.5,1436 567,1437.6 569.5,1438.6 572,1439.9 574.5,1440.6 577,1442.4 579.5,1443 582,1443.9 584.5,1444.7 587,1445.1 589.5,1445.8 592,1447.2 594.5,1448.1 597,1448.7 599.5,1449 602,1450.3 604.5,1449.6 607,1451.3 609.5,1451.4 612,1452.2 614.5,1452.4 617,1453.5 619.5,1454.4 622,1454.5 624.5,1455.6 627,1456.3 629.5,1456 632,1456.8 634.5,1457.5 637,1458 639.5,1458.9 642,1459.1 644.5,1459.5 647,1460.5 649.5,1460.5 652,1460.2 654.5,1460.9 656.9,1461.5 659.4,1461.9 661.9,1462.8 664.4,1462.5 666.9,1462.6 669.4,1462.8 671.9,1463.3 674.4,1463.1 676.9,1464.1 679.4,1463.5" fill="none" stroke="#8030a0" stroke-width="2.2" stroke-linejoin="round" />
<path d="M130.6,1207.8 L130.6,889.5 L729.4,889.5 L729.4,1207.8" fill="none" stroke="#2a2a2a" stroke-width="2.2"/>
<line x1="129.6" y1="1207.8" x2="730.4" y2="1207.8" stroke="#2a2a2a" stroke-width="2.2" />
<path d="M129.8,1207.8 L129.8,1523.7 L729.4,1523.7 L729.4,1207.8" fill="none" stroke="#2a2a2a" stroke-width="2.2"/>
<text x="120.3" y="1215.6" font-size="22" text-anchor="end" font-weight="normal" font-style="normal" font-family="'Liberation Sans', Arial, sans-serif" letter-spacing="0.3" >0</text>
<line x1="130.6" y1="1181.27" x2="138.1" y2="1181.27" stroke="#888" stroke-width="1.2" />
<line x1="130.6" y1="1154.75" x2="140.1" y2="1154.75" stroke="#2a2a2a" stroke-width="1.8" />
<text x="120.3" y="1162.55" font-size="22" text-anchor="end" font-weight="normal" font-style="normal" font-family="'Liberation Sans', Arial, sans-serif" letter-spacing="0.3" >50</text>
<line x1="130.6" y1="1128.22" x2="138.1" y2="1128.22" stroke="#888" stroke-width="1.2" />
<line x1="130.6" y1="1101.7" x2="140.1" y2="1101.7" stroke="#2a2a2a" stroke-width="1.8" />
<text x="120.3" y="1109.5" font-size="22" text-anchor="end" font-weight="normal" font-style="normal" font-family="'Liberation Sans', Arial, sans-serif" letter-spacing="0.3" >100</text>
<line x1="130.6" y1="1075.17" x2="138.1" y2="1075.17" stroke="#888" stroke-width="1.2" />
<line x1="130.6" y1="1048.65" x2="140.1" y2="1048.65" stroke="#2a2a2a" stroke-width="1.8" />
<text x="120.3" y="1056.45" font-size="22" text-anchor="end" font-weight="normal" font-style="normal" font-family="'Liberation Sans', Arial, sans-serif" letter-spacing="0.3" >150</text>
<line x1="130.6" y1="1022.12" x2="138.1" y2="1022.12" stroke="#888" stroke-width="1.2" />
<line x1="130.6" y1="995.6" x2="140.1" y2="995.6" stroke="#2a2a2a" stroke-width="1.8" />
<text x="120.3" y="1003.4" font-size="22" text-anchor="end" font-weight="normal" font-style="normal" font-family="'Liberation Sans', Arial, sans-serif" letter-spacing="0.3" >200</text>
<line x1="130.6" y1="969.08" x2="138.1" y2="969.08" stroke="#888" stroke-width="1.2" />
<line x1="130.6" y1="942.55" x2="140.1" y2="942.55" stroke="#2a2a2a" stroke-width="1.8" />
<text x="120.3" y="950.35" font-size="22" text-anchor="end" font-weight="normal" font-style="normal" font-family="'Liberation Sans', Arial, sans-serif" letter-spacing="0.3" >250</text>
<line x1="130.6" y1="916.02" x2="138.1" y2="916.02" stroke="#888" stroke-width="1.2" />
<text x="120.3" y="897.3" font-size="22" text-anchor="end" font-weight="normal" font-style="normal" font-family="'Liberation Sans', Arial, sans-serif" letter-spacing="0.3" >300</text>
<text x="120.2" y="1531.5" font-size="22" text-anchor="end" font-weight="normal" font-style="normal" font-family="'Liberation Sans', Arial, sans-serif" letter-spacing="0.3" >0</text>
<line x1="129.8" y1="1497.38" x2="137.3" y2="1497.38" stroke="#888" stroke-width="1.2" />
<line x1="129.8" y1="1471.05" x2="139.3" y2="1471.05" stroke="#2a2a2a" stroke-width="1.8" />
<text x="120.2" y="1478.85" font-size="22" text-anchor="end" font-weight="normal" font-style="normal" font-family="'Liberation Sans', Arial, sans-serif" letter-spacing="0.3" >50</text>
<line x1="129.8" y1="1444.72" x2="137.3" y2="1444.72" stroke="#888" stroke-width="1.2" />
<line x1="129.8" y1="1418.4" x2="139.3" y2="1418.4" stroke="#2a2a2a" stroke-width="1.8" />
<text x="120.2" y="1426.2" font-size="22" text-anchor="end" font-weight="normal" font-style="normal" font-family="'Liberation Sans', Arial, sans-serif" letter-spacing="0.3" >100</text>
<line x1="129.8" y1="1392.08" x2="137.3" y2="1392.08" stroke="#888" stroke-width="1.2" />
<line x1="129.8" y1="1365.75" x2="139.3" y2="1365.75" stroke="#2a2a2a" stroke-width="1.8" />
<text x="120.2" y="1373.55" font-size="22" text-anchor="end" font-weight="normal" font-style="normal" font-family="'Liberation Sans', Arial, sans-serif" letter-spacing="0.3" >150</text>
<line x1="129.8" y1="1339.42" x2="137.3" y2="1339.42" stroke="#888" stroke-width="1.2" />
<line x1="129.8" y1="1313.1" x2="139.3" y2="1313.1" stroke="#2a2a2a" stroke-width="1.8" />
<text x="120.2" y="1320.9" font-size="22" text-anchor="end" font-weight="normal" font-style="normal" font-family="'Liberation Sans', Arial, sans-serif" letter-spacing="0.3" >200</text>
<line x1="129.8" y1="1286.78" x2="137.3" y2="1286.78" stroke="#888" stroke-width="1.2" />
<line x1="129.8" y1="1260.45" x2="139.3" y2="1260.45" stroke="#2a2a2a" stroke-width="1.8" />
<text x="120.2" y="1268.25" font-size="22" text-anchor="end" font-weight="normal" font-style="normal" font-family="'Liberation Sans', Arial, sans-serif" letter-spacing="0.3" >250</text>
<line x1="129.8" y1="1234.12" x2="137.3" y2="1234.12" stroke="#888" stroke-width="1.2" />
<text x="129.8" y="1555.7" font-size="22" text-anchor="middle" font-weight="normal" font-style="normal" font-family="'Liberation Sans', Arial, sans-serif" letter-spacing="0.3" >340</text>
<line x1="179.77" y1="1523.7" x2="179.77" y2="1516.2" stroke="#888" stroke-width="1.2" />
<line x1="229.73" y1="1523.7" x2="229.73" y2="1514.2" stroke="#2a2a2a" stroke-width="1.8" />
<text x="229.73" y="1555.7" font-size="22" text-anchor="middle" font-weight="normal" font-style="normal" font-family="'Liberation Sans', Arial, sans-serif" letter-spacing="0.3" >360</text>
<line x1="279.7" y1="1523.7" x2="279.7" y2="1516.2" stroke="#888" stroke-width="1.2" />
<line x1="329.67" y1="1523.7" x2="329.67" y2="1514.2" stroke="#2a2a2a" stroke-width="1.8" />
<text x="329.67" y="1555.7" font-size="22" text-anchor="middle" font-weight="normal" font-style="normal" font-family="'Liberation Sans', Arial, sans-serif" letter-spacing="0.3" >380</text>
<line x1="379.63" y1="1523.7" x2="379.63" y2="1516.2" stroke="#888" stroke-width="1.2" />
<line x1="429.6" y1="1523.7" x2="429.6" y2="1514.2" stroke="#2a2a2a" stroke-width="1.8" />
<text x="429.6" y="1555.7" font-size="22" text-anchor="middle" font-weight="normal" font-style="normal" font-family="'Liberation Sans', Arial, sans-serif" letter-spacing="0.3" >400</text>
<line x1="479.57" y1="1523.7" x2="479.57" y2="1516.2" stroke="#888" stroke-width="1.2" />
<line x1="529.53" y1="1523.7" x2="529.53" y2="1514.2" stroke="#2a2a2a" stroke-width="1.8" />
<text x="529.53" y="1555.7" font-size="22" text-anchor="middle" font-weight="normal" font-style="normal" font-family="'Liberation Sans', Arial, sans-serif" letter-spacing="0.3" >420</text>
<line x1="579.5" y1="1523.7" x2="579.5" y2="1516.2" stroke="#888" stroke-width="1.2" />
<line x1="629.47" y1="1523.7" x2="629.47" y2="1514.2" stroke="#2a2a2a" stroke-width="1.8" />
<text x="629.47" y="1555.7" font-size="22" text-anchor="middle" font-weight="normal" font-style="normal" font-family="'Liberation Sans', Arial, sans-serif" letter-spacing="0.3" >440</text>
<line x1="679.43" y1="1523.7" x2="679.43" y2="1516.2" stroke="#888" stroke-width="1.2" />
<text x="729.4" y="1555.7" font-size="22" text-anchor="middle" font-weight="normal" font-style="normal" font-family="'Liberation Sans', Arial, sans-serif" letter-spacing="0.3" >460</text>
<text x="432.1" y="1593.5" font-size="24" text-anchor="middle" font-weight="normal" letter-spacing="1.7" style="stroke-width:1.05px" font-family="'Liberation Sans', Arial, sans-serif"><tspan font-family="'Liberation Serif', 'Times New Roman', serif" font-size="25" style="stroke-width:0.5px">&#955;</tspan> (nm)</text>
<text x="0" y="0" transform="translate(38.0,1198.7) rotate(-90)" font-size="25" text-anchor="middle" font-weight="normal" letter-spacing="1.0" font-family="'Liberation Sans', Arial, sans-serif">Fluorescence Intensity (arbitrory units)</text>
<text x="150.2" y="916" font-size="20" font-weight="normal" font-family="'Liberation Sans', Arial, sans-serif" letter-spacing="0.65"><tspan font-weight="bold" stroke-width="0">N</tspan>on His<tspan font-size="12" dy="6">6</tspan><tspan dy="-6">-tagged </tspan><tspan font-style="italic">Bd</tspan>PTE</text>
<text x="152.6" y="1235.7" font-size="20" text-anchor="start" font-weight="normal" font-style="normal" font-family="'Liberation Sans', Arial, sans-serif" letter-spacing="0.4" >0.3 &#956;M</text>
<text x="153.2" y="1261" font-size="20" font-weight="normal" font-family="'Liberation Sans', Arial, sans-serif" letter-spacing="0.65">His<tspan font-size="12" dy="6">6</tspan><tspan dy="-6">-tagged </tspan><tspan font-style="italic">Bd</tspan>PTE</text>
<line x1="304.8" y1="963" x2="305.9" y2="1519" stroke="#000" stroke-width="3.2" stroke-linecap="round" stroke-dasharray="0.6 8.8"/>
<line x1="362.8" y1="984.8" x2="362" y2="1513" stroke="#000" stroke-width="3.2" stroke-linecap="round" stroke-dasharray="0.6 8.81"/>
<text x="0" y="0" transform="translate(304.8,954.7) scale(1.2,1)" font-size="21.5" text-anchor="middle" font-weight="bold" font-family="'Liberation Serif', 'Times New Roman', serif">I</text>
<text x="0" y="0" transform="translate(363.2,975.3) scale(1.2,1)" font-size="21.5" text-anchor="middle" font-weight="bold" font-family="'Liberation Serif', 'Times New Roman', serif">III</text>
<text x="548.5" y="917" font-size="17.5" font-weight="normal" font-style="italic" font-family="'Liberation Sans', Arial, sans-serif">C<tspan font-size="13" font-style="normal" dy="6.8">Tween 20</tspan><tspan font-size="14" font-weight="bold" font-style="normal" dy="-5" dx="5">(mM)</tspan></text>
<line x1="489.4" y1="937.3" x2="527.4" y2="937.3" stroke="#404040" stroke-width="1.6" />
<text x="536.5" y="942.7" font-size="15" text-anchor="start" font-weight="bold" font-style="normal" font-family="'Liberation Sans', Arial, sans-serif" letter-spacing="0.5" >0</text>
<line x1="489.4" y1="957.78" x2="527.4" y2="957.78" stroke="#a05a5a" stroke-width="1.5" />
<text x="536.5" y="963.18" font-size="15" text-anchor="start" font-weight="bold" font-style="normal" font-family="'Liberation Sans', Arial, sans-serif" letter-spacing="0.5" >0.2</text>
<line x1="489.4" y1="978.26" x2="527.4" y2="978.26" stroke="#e04848" stroke-width="2.0" />
<text x="536.5" y="983.66" font-size="15" text-anchor="start" font-weight="bold" font-style="normal" font-family="'Liberation Sans', Arial, sans-serif" letter-spacing="0.5" >0.4</text>
<line x1="489.4" y1="998.74" x2="527.4" y2="998.74" stroke="#e03a3a" stroke-width="2.6" />
<text x="536.5" y="1004.14" font-size="15" text-anchor="start" font-weight="bold" font-style="normal" font-family="'Liberation Sans', Arial, sans-serif" letter-spacing="0.5" >0.6</text>
<line x1="489.4" y1="1019.22" x2="527.4" y2="1019.22" stroke="#f4a4a4" stroke-width="1.5" />
<text x="536.5" y="1024.62" font-size="15" text-anchor="start" font-weight="bold" font-style="normal" font-family="'Liberation Sans', Arial, sans-serif" letter-spacing="0.5" >0.8</text>
<line x1="489.4" y1="1039.7" x2="527.4" y2="1039.7" stroke="#f2b464" stroke-width="1.6" />
<text x="536.5" y="1045.1" font-size="15" text-anchor="start" font-weight="bold" font-style="normal" font-family="'Liberation Sans', Arial, sans-serif" letter-spacing="0.5" >1.0</text>
<line x1="489.4" y1="1060.18" x2="527.4" y2="1060.18" stroke="#c48a4c" stroke-width="2.2" />
<text x="536.5" y="1065.58" font-size="15" text-anchor="start" font-weight="bold" font-style="normal" font-family="'Liberation Sans', Arial, sans-serif" letter-spacing="0.5" >1.2</text>
<line x1="565.4" y1="937.3" x2="604.2" y2="937.3" stroke="#a07850" stroke-width="1.6" />
<text x="613.3" y="942.7" font-size="15" text-anchor="start" font-weight="bold" font-style="normal" font-family="'Liberation Sans', Arial, sans-serif" letter-spacing="0.5" >1.4</text>
<line x1="565.4" y1="957.78" x2="604.2" y2="957.78" stroke="#909050" stroke-width="1.6" />
<text x="613.3" y="963.18" font-size="15" text-anchor="start" font-weight="bold" font-style="normal" font-family="'Liberation Sans', Arial, sans-serif" letter-spacing="0.5" >1.6</text>
<line x1="565.4" y1="978.26" x2="604.2" y2="978.26" stroke="#b4aa72" stroke-width="1.6" />
<text x="613.3" y="983.66" font-size="15" text-anchor="start" font-weight="bold" font-style="normal" font-family="'Liberation Sans', Arial, sans-serif" letter-spacing="0.5" >1.8</text>
<line x1="565.4" y1="998.74" x2="604.2" y2="998.74" stroke="#e2e040" stroke-width="2.0" />
<text x="613.3" y="1004.14" font-size="15" text-anchor="start" font-weight="bold" font-style="normal" font-family="'Liberation Sans', Arial, sans-serif" letter-spacing="0.5" >2.0</text>
<line x1="565.4" y1="1019.22" x2="604.2" y2="1019.22" stroke="#40c060" stroke-width="2.0" />
<text x="613.3" y="1024.62" font-size="15" text-anchor="start" font-weight="bold" font-style="normal" font-family="'Liberation Sans', Arial, sans-serif" letter-spacing="0.5" >2.5</text>
<line x1="565.4" y1="1039.7" x2="604.2" y2="1039.7" stroke="#40a060" stroke-width="2.0" />
<text x="613.3" y="1045.1" font-size="15" text-anchor="start" font-weight="bold" font-style="normal" font-family="'Liberation Sans', Arial, sans-serif" letter-spacing="0.5" >3.0</text>
<line x1="565.4" y1="1060.18" x2="604.2" y2="1060.18" stroke="#1e908a" stroke-width="2.6" />
<text x="613.3" y="1065.58" font-size="15" text-anchor="start" font-weight="bold" font-style="normal" font-family="'Liberation Sans', Arial, sans-serif" letter-spacing="0.5" >3.5</text>
<line x1="642.2" y1="937.3" x2="680.2" y2="937.3" stroke="#20b8c8" stroke-width="3.0" />
<text x="689.3" y="942.7" font-size="15" text-anchor="start" font-weight="bold" font-style="normal" font-family="'Liberation Sans', Arial, sans-serif" letter-spacing="0.5" >4.0</text>
<line x1="642.2" y1="957.78" x2="680.2" y2="957.78" stroke="#44d0d0" stroke-width="2.0" />
<text x="689.3" y="963.18" font-size="15" text-anchor="start" font-weight="bold" font-style="normal" font-family="'Liberation Sans', Arial, sans-serif" letter-spacing="0.5" >5.0</text>
<line x1="642.2" y1="978.26" x2="680.2" y2="978.26" stroke="#30a0a0" stroke-width="2.0" />
<text x="689.3" y="983.66" font-size="15" text-anchor="start" font-weight="bold" font-style="normal" font-family="'Liberation Sans', Arial, sans-serif" letter-spacing="0.5" >6.0</text>
<line x1="642.2" y1="998.74" x2="680.2" y2="998.74" stroke="#3090e0" stroke-width="2.6" />
<text x="689.3" y="1004.14" font-size="15" text-anchor="start" font-weight="bold" font-style="normal" font-family="'Liberation Sans', Arial, sans-serif" letter-spacing="0.5" >7.0</text>
<line x1="642.2" y1="1019.22" x2="680.2" y2="1019.22" stroke="#5080c0" stroke-width="1.6" />
<text x="689.3" y="1024.62" font-size="15" text-anchor="start" font-weight="bold" font-style="normal" font-family="'Liberation Sans', Arial, sans-serif" letter-spacing="0.5" >8.0</text>
<line x1="642.2" y1="1039.7" x2="680.2" y2="1039.7" stroke="#a070d0" stroke-width="1.6" />
<text x="689.3" y="1045.1" font-size="15" text-anchor="start" font-weight="bold" font-style="normal" font-family="'Liberation Sans', Arial, sans-serif" letter-spacing="0.5" >9.0</text>
<line x1="642.2" y1="1060.18" x2="680.2" y2="1060.18" stroke="#8030a0" stroke-width="2.2" />
<text x="689.3" y="1065.58" font-size="15" text-anchor="start" font-weight="bold" font-style="normal" font-family="'Liberation Sans', Arial, sans-serif" letter-spacing="0.5" >10.0</text>
<path d="M920,656.5 922,656.5 924,656.5 926,656.5 928,656.5 930,656.5 932,656.5 934,656.4 936.1,656.4 938.1,656.4 940.1,656.4 942.1,656.4 944.1,656.3 946.1,656.3 948.1,656.3 950.1,656.3 952.1,656.2 954.1,656.2 956.1,656.2 958.1,656.1 960.1,656.1 962.1,656 964.1,656 966.2,655.9 968.2,655.9 970.2,655.9 972.2,655.8 974.2,655.6 976.2,655.5 978.2,655.3 980.2,655.1 982.2,654.8 984.2,654.6 986.2,654.4 988.2,654.2 990.2,654 992.2,653.8 994.2,653.7 996.3,653.6 998.3,653.6 1000.3,653.5 1002.3,653.4 1004.3,653.4 1006.3,653.3 1008.3,653.2 1010.3,653.2 1012.3,653.1 1014.3,653.1 1016.3,653 1018.3,653 1020.3,652.9 1022.3,652.9 1024.3,652.8 1026.4,652.8 1028.4,652.7 1030.4,652.6 1032.4,652.5 1034.4,652.4 1036.4,652.3 1038.4,652.1 1040.4,651.9 1042.4,651.7 1044.4,651.4 1046.4,651.2 1048.4,650.9 1050.4,650.6 1052.4,650.2 1054.4,649.9 1056.5,649.5 1058.5,649.1 1060.5,648.7 1062.5,648.3 1064.5,647.9 1066.5,647.5 1068.5,647.1 1070.5,646.7 1072.5,646.3 1074.5,645.8 1076.5,645.4 1078.5,645 1080.5,644.6 1082.5,644.2 1084.5,643.7 1086.6,643.3 1088.6,642.8 1090.6,642.3 1092.6,641.7 1094.6,641.1 1096.6,640.5 1098.6,639.8 1100.6,639 1102.6,638.2 1104.6,637.3 1106.6,636.3 1108.6,635.3 1110.6,634.2 1112.6,633 1114.6,631.8 1116.7,630.6 1118.7,629.4 1120.7,628.1 1122.7,626.8 1124.7,625.4 1126.7,624 1128.7,622.5 1130.7,620.8 1132.7,619.1 1134.7,617.3 1136.7,615.4 1138.7,613.4 1140.7,611.1 1142.7,608.5 1144.7,605.7 1146.8,602.6 1148.8,599.4 1150.8,596 1152.8,592.4 1154.8,588.5 1156.8,584.3 1158.8,579.8 1160.8,574.9 1162.8,569.5 1164.8,563.7 1166.8,557.4 1168.8,550.9 1170.8,544.1 1172.8,537.2 1174.8,530.1 1176.9,522.9 1178.9,515.2 1180.9,507.2 1182.9,499 1184.9,490.7 1186.9,482.6 1188.9,474.4 1190.9,466.2 1192.9,457.9 1194.9,449.7 1196.9,441.6 1198.9,433.6 1200.9,425.8 1202.9,418.2 1204.9,410.8 1207,403.4 1209,396.2 1211,389 1213,381.8 1215,374.6 1217,367.4 1219,360.2 1221,352.7 1223,344.9 1225,336.9 1227,328.8 1229,320.9 1231,313.2 1233,306 1235.1,299.4 1237.1,293.5 1239.1,288.4 1241.1,283.7 1243.1,279.3 1245.1,275.3 1247.1,271.5 1249.1,268 1251.1,264.7 1253.1,261.7 1255.1,258.7 1257.1,255.8 1259.1,253 1261.1,250.3 1263.1,247.7 1265.2,245.2 1267.2,242.9 1269.2,240.7 1271.2,238.6 1273.2,236.8 1275.2,235.1 1277.2,233.6 1279.2,232.1 1281.2,230.7 1283.2,229.3 1285.2,228.1 1287.2,226.8 1289.2,225.7 1291.2,224.7 1293.2,223.7 1295.3,222.9 1297.3,222.2 1299.3,221.5 1301.3,221 1303.3,220.5 1305.3,220 1307.3,219.5 1309.3,219 1311.3,218.5 1313.3,218.1 1315.3,217.7 1317.3,217.3 1319.3,217 1321.3,216.6 1323.3,216.4 1325.4,216.1 1327.4,215.9 1329.4,215.8 1331.4,215.7 1333.4,215.6 1335.4,215.6 1337.4,215.6 1339.4,215.6 1341.4,215.6 1343.4,215.6 1345.4,215.6 1347.4,215.6 1349.4,215.6 1351.4,215.6 1353.4,215.6 1355.5,215.6 1357.5,215.6 1359.5,215.6 1361.5,215.6 1363.5,215.6 1365.5,215.6 1367.5,215.6 1369.5,215.6 1371.5,215.6 1373.5,215.6 1375.5,215.6 1377.5,215.6 1379.5,215.6 1381.5,215.6 1383.5,215.6 1385.6,215.6 1387.6,215.6 1389.6,215.6 1391.6,215.6 1393.6,215.6 1395.6,215.6 1397.6,215.6 1399.6,215.6 1401.6,215.6 1403.6,215.6 1405.6,215.6 1407.6,215.6 1409.6,215.6 1411.6,215.6 1413.6,215.6 1415.7,215.6 1417.7,215.6 1419.7,215.6 1421.7,215.6 1423.7,215.6 1425.7,215.6 1427.7,215.6 1429.7,215.6 1431.7,215.6 1433.7,215.6 1435.7,215.6 1437.7,215.6 1439.7,215.6 1441.7,215.6 1443.7,215.6 1445.8,215.6 1447.8,215.6 1449.8,215.6 1451.8,215.6 1453.8,215.6 1455.8,215.6 1457.8,215.6 1459.8,215.6 1461.8,215.6 1463.8,215.6 1465.8,215.6 1467.8,215.6 1469.8,215.6 1471.8,215.6 1473.8,215.6 1475.9,215.6 1477.9,215.6 1479.9,215.6 1481.9,215.6 1483.9,215.6 1485.9,215.6 1487.9,215.6 1489.9,215.6 1491.9,215.6 1493.9,215.6 1495.9,215.6 1497.9,215.6 1499.9,215.6 1501.9,215.6 1503.9,215.6 1506,215.6 1508,215.6 1510,215.6 1512,215.6 1514,215.6 1516,215.6 1518,215.6 1520,215.6" fill="none" stroke="#000" stroke-width="3.3" stroke-linejoin="round" stroke-dasharray="0.6 9.0" stroke-linecap="round"/>
<path d="M920,566.5 922,566.5 924,566.5 926,566.5 928,566.5 930,566.5 932,566.5 934,566.4 936.1,566.4 938.1,566.4 940.1,566.4 942.1,566.4 944.1,566.4 946.1,566.4 948.1,566.4 950.1,566.4 952.1,566.4 954.1,566.3 956.1,566.3 958.1,566.3 960.1,566.3 962.1,566.3 964.1,566.2 966.2,566.2 968.2,566.1 970.2,566 972.2,566 974.2,565.8 976.2,565.7 978.2,565.6 980.2,565.5 982.2,565.3 984.2,565.2 986.2,565 988.2,564.8 990.2,564.7 992.2,564.5 994.2,564.3 996.3,564.1 998.3,563.8 1000.3,563.4 1002.3,563.1 1004.3,562.7 1006.3,562.2 1008.3,561.8 1010.3,561.3 1012.3,560.7 1014.3,560.2 1016.3,559.6 1018.3,558.9 1020.3,558.1 1022.3,557.3 1024.3,556.4 1026.4,555.5 1028.4,554.5 1030.4,553.4 1032.4,552.3 1034.4,551.2 1036.4,549.9 1038.4,548.6 1040.4,547.2 1042.4,545.6 1044.4,544 1046.4,542.2 1048.4,540.4 1050.4,538.5 1052.4,536.5 1054.4,534.5 1056.5,532.4 1058.5,530.1 1060.5,527.8 1062.5,525.3 1064.5,522.7 1066.5,519.9 1068.5,517 1070.5,514 1072.5,510.9 1074.5,507.7 1076.5,504.3 1078.5,500.5 1080.5,496.4 1082.5,492 1084.5,487.6 1086.6,483.3 1088.6,479.2 1090.6,475.2 1092.6,471.2 1094.6,467.2 1096.6,463.2 1098.6,459.2 1100.6,455.2 1102.6,451.3 1104.6,447.3 1106.6,443.3 1108.6,439.3 1110.6,435.3 1112.6,431.3 1114.6,427.2 1116.7,423.2 1118.7,419.1 1120.7,415 1122.7,410.9 1124.7,406.8 1126.7,402.8 1128.7,398.8 1130.7,394.8 1132.7,390.9 1134.7,387.1 1136.7,383.3 1138.7,379.5 1140.7,375.8 1142.7,372 1144.7,368.4 1146.8,364.7 1148.8,361.1 1150.8,357.6 1152.8,354.1 1154.8,350.6 1156.8,347.3 1158.8,344 1160.8,340.8 1162.8,337.6 1164.8,334.5 1166.8,331.4 1168.8,328.3 1170.8,325.3 1172.8,322.4 1174.8,319.5 1176.9,316.6 1178.9,313.7 1180.9,310.9 1182.9,308.1 1184.9,305.3 1186.9,302.5 1188.9,299.8 1190.9,297 1192.9,294.4 1194.9,291.7 1196.9,289.1 1198.9,286.6 1200.9,284.2 1202.9,281.8 1204.9,279.5 1207,277.3 1209,275.1 1211,273 1213,270.8 1215,268.7 1217,266.6 1219,264.6 1221,262.6 1223,260.7 1225,258.7 1227,256.9 1229,255.1 1231,253.4 1233,251.7 1235.1,250.1 1237.1,248.6 1239.1,247.1 1241.1,245.8 1243.1,244.4 1245.1,243.2 1247.1,241.9 1249.1,240.7 1251.1,239.5 1253.1,238.4 1255.1,237.3 1257.1,236.2 1259.1,235.2 1261.1,234.2 1263.1,233.2 1265.2,232.2 1267.2,231.3 1269.2,230.4 1271.2,229.5 1273.2,228.7 1275.2,227.8 1277.2,227 1279.2,226.2 1281.2,225.4 1283.2,224.6 1285.2,223.8 1287.2,223.1 1289.2,222.3 1291.2,221.6 1293.2,220.9 1295.3,220.2 1297.3,219.5 1299.3,218.8 1301.3,218.2 1303.3,217.5 1305.3,216.9 1307.3,216.3 1309.3,215.7 1311.3,215.1 1313.3,214.5 1315.3,213.9 1317.3,213.4 1319.3,212.8 1321.3,212.3 1323.3,211.8 1325.4,211.3 1327.4,210.8 1329.4,210.3 1331.4,209.8 1333.4,209.3 1335.4,208.8 1337.4,208.3 1339.4,207.9 1341.4,207.4 1343.4,207 1345.4,206.6 1347.4,206.1 1349.4,205.8 1351.4,205.4 1353.4,205 1355.5,204.7 1357.5,204.4 1359.5,204.1 1361.5,203.8 1363.5,203.5 1365.5,203.2 1367.5,203 1369.5,202.7 1371.5,202.4 1373.5,202.2 1375.5,202 1377.5,201.7 1379.5,201.5 1381.5,201.3 1383.5,201 1385.6,200.8 1387.6,200.6 1389.6,200.4 1391.6,200.2 1393.6,200 1395.6,199.8 1397.6,199.6 1399.6,199.4 1401.6,199.2 1403.6,199 1405.6,198.8 1407.6,198.6 1409.6,198.5 1411.6,198.3 1413.6,198.1 1415.7,197.9 1417.7,197.8 1419.7,197.6 1421.7,197.5 1423.7,197.3 1425.7,197.1 1427.7,197 1429.7,196.8 1431.7,196.7 1433.7,196.5 1435.7,196.4 1437.7,196.2 1439.7,196.1 1441.7,195.9 1443.7,195.8 1445.8,195.6 1447.8,195.5 1449.8,195.3 1451.8,195.2 1453.8,195 1455.8,194.9 1457.8,194.8 1459.8,194.6 1461.8,194.5 1463.8,194.4 1465.8,194.2 1467.8,194.1 1469.8,194 1471.8,193.8 1473.8,193.7 1475.9,193.6 1477.9,193.4 1479.9,193.3 1481.9,193.2 1483.9,193.1 1485.9,193 1487.9,192.8 1489.9,192.7 1491.9,192.6 1493.9,192.5 1495.9,192.4 1497.9,192.3 1499.9,192.2 1501.9,192.1 1503.9,192 1506,191.9 1508,191.8 1510,191.7 1512,191.6 1514,191.5 1516,191.4 1518,191.4 1520,191.3" fill="none" stroke="#000" stroke-width="1.5" stroke-linejoin="round" />
<circle cx="920" cy="618.39" r="6.6" fill="#000"/>
<circle cx="928" cy="580.76" r="6.6" fill="#000"/>
<circle cx="936" cy="577.42" r="6.6" fill="#000"/>
<circle cx="944" cy="583.77" r="6.6" fill="#000"/>
<circle cx="952" cy="564.4" r="6.6" fill="#000"/>
<circle cx="960" cy="558.05" r="6.6" fill="#000"/>
<circle cx="968" cy="576.31" r="6.6" fill="#000"/>
<circle cx="976" cy="564.4" r="6.6" fill="#000"/>
<circle cx="984" cy="560.27" r="6.6" fill="#000"/>
<circle cx="992" cy="548.53" r="6.6" fill="#000"/>
<circle cx="1000" cy="535.82" r="6.6" fill="#000"/>
<circle cx="1020" cy="532.65" r="6.6" fill="#000"/>
<circle cx="1040" cy="531.06" r="6.6" fill="#000"/>
<circle cx="1060" cy="500.89" r="6.6" fill="#000"/>
<circle cx="1080" cy="495.34" r="6.6" fill="#000"/>
<circle cx="1120" cy="450.88" r="6.6" fill="#000"/>
<circle cx="1160" cy="365.93" r="6.6" fill="#000"/>
<circle cx="1200" cy="254.79" r="6.6" fill="#000"/>
<circle cx="1240" cy="222.56" r="6.6" fill="#000"/>
<circle cx="1280" cy="218.59" r="6.6" fill="#000"/>
<circle cx="1320" cy="213.51" r="6.6" fill="#000"/>
<circle cx="1360" cy="206.68" r="6.6" fill="#000"/>
<circle cx="1400" cy="206.68" r="6.6" fill="#000"/>
<circle cx="1440" cy="194.77" r="6.6" fill="#000"/>
<circle cx="1480" cy="199.7" r="6.6" fill="#000"/>
<circle cx="1520" cy="192.23" r="6.6" fill="#000"/>
<circle cx="920" cy="645.85" r="5.9" fill="#fff" stroke="#000" stroke-width="1.4"/>
<circle cx="928" cy="661.26" r="5.9" fill="#fff" stroke="#000" stroke-width="1.4"/>
<circle cx="936" cy="662.84" r="5.9" fill="#fff" stroke="#000" stroke-width="1.4"/>
<circle cx="944" cy="671.42" r="5.9" fill="#fff" stroke="#000" stroke-width="1.4"/>
<circle cx="952" cy="675.07" r="5.9" fill="#fff" stroke="#000" stroke-width="1.4"/>
<circle cx="960" cy="670.46" r="5.9" fill="#fff" stroke="#000" stroke-width="1.4"/>
<circle cx="968" cy="666.34" r="5.9" fill="#fff" stroke="#000" stroke-width="1.4"/>
<circle cx="976" cy="655.86" r="5.9" fill="#fff" stroke="#000" stroke-width="1.4"/>
<circle cx="984" cy="652.84" r="5.9" fill="#fff" stroke="#000" stroke-width="1.4"/>
<circle cx="992" cy="644.43" r="5.9" fill="#fff" stroke="#000" stroke-width="1.4"/>
<circle cx="1000" cy="646.49" r="5.9" fill="#fff" stroke="#000" stroke-width="1.4"/>
<circle cx="1020" cy="645.85" r="5.9" fill="#fff" stroke="#000" stroke-width="1.4"/>
<circle cx="1040" cy="648.24" r="5.9" fill="#fff" stroke="#000" stroke-width="1.4"/>
<circle cx="1060" cy="635.53" r="5.9" fill="#fff" stroke="#000" stroke-width="1.4"/>
<circle cx="1080" cy="628.87" r="5.9" fill="#fff" stroke="#000" stroke-width="1.4"/>
<circle cx="1120" cy="607.11" r="5.9" fill="#fff" stroke="#000" stroke-width="1.4"/>
<circle cx="1160" cy="589.81" r="5.9" fill="#fff" stroke="#000" stroke-width="1.4"/>
<circle cx="1200" cy="427.06" r="5.9" fill="#fff" stroke="#000" stroke-width="1.4"/>
<circle cx="1240" cy="282.1" r="5.9" fill="#fff" stroke="#000" stroke-width="1.4"/>
<circle cx="1280" cy="243.36" r="5.9" fill="#fff" stroke="#000" stroke-width="1.4"/>
<circle cx="1320" cy="222.56" r="5.9" fill="#fff" stroke="#000" stroke-width="1.4"/>
<circle cx="1360" cy="222.56" r="5.9" fill="#fff" stroke="#000" stroke-width="1.4"/>
<circle cx="1400" cy="217.64" r="5.9" fill="#fff" stroke="#000" stroke-width="1.4"/>
<circle cx="1440" cy="211.13" r="5.9" fill="#fff" stroke="#000" stroke-width="1.4"/>
<circle cx="1480" cy="211.92" r="5.9" fill="#fff" stroke="#000" stroke-width="1.4"/>
<circle cx="1520" cy="205.25" r="5.9" fill="#fff" stroke="#000" stroke-width="1.4"/>
<rect x="920" y="72.2" width="600" height="635.1" fill="none" stroke="#2a2a2a" stroke-width="2.2"/>
<text x="908" y="715.1" font-size="22" text-anchor="end" font-weight="normal" font-style="normal" font-family="'Liberation Sans', Arial, sans-serif" letter-spacing="0.4" >0.60</text>
<line x1="920" y1="667.61" x2="927" y2="667.61" stroke="#8a8a8a" stroke-width="1.4" />
<line x1="920" y1="627.91" x2="929.5" y2="627.91" stroke="#333" stroke-width="1.9" />
<text x="908" y="635.71" font-size="22" text-anchor="end" font-weight="normal" font-style="normal" font-family="'Liberation Sans', Arial, sans-serif" letter-spacing="0.4" >0.65</text>
<line x1="920" y1="588.22" x2="927" y2="588.22" stroke="#8a8a8a" stroke-width="1.4" />
<line x1="920" y1="548.53" x2="929.5" y2="548.53" stroke="#333" stroke-width="1.9" />
<text x="908" y="556.33" font-size="22" text-anchor="end" font-weight="normal" font-style="normal" font-family="'Liberation Sans', Arial, sans-serif" letter-spacing="0.4" >0.70</text>
<line x1="920" y1="508.83" x2="927" y2="508.83" stroke="#8a8a8a" stroke-width="1.4" />
<line x1="920" y1="469.14" x2="929.5" y2="469.14" stroke="#333" stroke-width="1.9" />
<text x="908" y="476.94" font-size="22" text-anchor="end" font-weight="normal" font-style="normal" font-family="'Liberation Sans', Arial, sans-serif" letter-spacing="0.4" >0.75</text>
<line x1="920" y1="429.44" x2="927" y2="429.44" stroke="#8a8a8a" stroke-width="1.4" />
<line x1="920" y1="389.75" x2="929.5" y2="389.75" stroke="#333" stroke-width="1.9" />
<text x="908" y="397.55" font-size="22" text-anchor="end" font-weight="normal" font-style="normal" font-family="'Liberation Sans', Arial, sans-serif" letter-spacing="0.4" >0.80</text>
<line x1="920" y1="350.06" x2="927" y2="350.06" stroke="#8a8a8a" stroke-width="1.4" />
<line x1="920" y1="310.36" x2="929.5" y2="310.36" stroke="#333" stroke-width="1.9" />
<text x="908" y="318.16" font-size="22" text-anchor="end" font-weight="normal" font-style="normal" font-family="'Liberation Sans', Arial, sans-serif" letter-spacing="0.4" >0.85</text>
<line x1="920" y1="270.67" x2="927" y2="270.67" stroke="#8a8a8a" stroke-width="1.4" />
<line x1="920" y1="230.97" x2="929.5" y2="230.97" stroke="#333" stroke-width="1.9" />
<text x="908" y="238.77" font-size="22" text-anchor="end" font-weight="normal" font-style="normal" font-family="'Liberation Sans', Arial, sans-serif" letter-spacing="0.4" >0.90</text>
<line x1="920" y1="191.28" x2="927" y2="191.28" stroke="#8a8a8a" stroke-width="1.4" />
<line x1="920" y1="151.59" x2="929.5" y2="151.59" stroke="#333" stroke-width="1.9" />
<text x="908" y="159.39" font-size="22" text-anchor="end" font-weight="normal" font-style="normal" font-family="'Liberation Sans', Arial, sans-serif" letter-spacing="0.4" >0.95</text>
<line x1="920" y1="111.89" x2="927" y2="111.89" stroke="#8a8a8a" stroke-width="1.4" />
<text x="908" y="80" font-size="22" text-anchor="end" font-weight="normal" font-style="normal" font-family="'Liberation Sans', Arial, sans-serif" letter-spacing="0.4" >1.00</text>
<text x="920" y="739.8" font-size="22" text-anchor="middle" font-weight="normal" font-style="normal" font-family="'Liberation Sans', Arial, sans-serif" letter-spacing="0.3" >0</text>
<line x1="960" y1="707.3" x2="960" y2="700.3" stroke="#8a8a8a" stroke-width="1.4" />
<line x1="1000" y1="707.3" x2="1000" y2="697.8" stroke="#333" stroke-width="1.9" />
<text x="1000" y="739.8" font-size="22" text-anchor="middle" font-weight="normal" font-style="normal" font-family="'Liberation Sans', Arial, sans-serif" letter-spacing="0.3" >2</text>
<line x1="1040" y1="707.3" x2="1040" y2="700.3" stroke="#8a8a8a" stroke-width="1.4" />
<line x1="1080" y1="707.3" x2="1080" y2="697.8" stroke="#333" stroke-width="1.9" />
<text x="1080" y="739.8" font-size="22" text-anchor="middle" font-weight="normal" font-style="normal" font-family="'Liberation Sans', Arial, sans-serif" letter-spacing="0.3" >4</text>
<line x1="1120" y1="707.3" x2="1120" y2="700.3" stroke="#8a8a8a" stroke-width="1.4" />
<line x1="1160" y1="707.3" x2="1160" y2="697.8" stroke="#333" stroke-width="1.9" />
<text x="1160" y="739.8" font-size="22" text-anchor="middle" font-weight="normal" font-style="normal" font-family="'Liberation Sans', Arial, sans-serif" letter-spacing="0.3" >6</text>
<line x1="1200" y1="707.3" x2="1200" y2="700.3" stroke="#8a8a8a" stroke-width="1.4" />
<line x1="1240" y1="707.3" x2="1240" y2="697.8" stroke="#333" stroke-width="1.9" />
<text x="1240" y="739.8" font-size="22" text-anchor="middle" font-weight="normal" font-style="normal" font-family="'Liberation Sans', Arial, sans-serif" letter-spacing="0.3" >8</text>
<line x1="1280" y1="707.3" x2="1280" y2="700.3" stroke="#8a8a8a" stroke-width="1.4" />
<line x1="1320" y1="707.3" x2="1320" y2="697.8" stroke="#333" stroke-width="1.9" />
<text x="1320" y="739.8" font-size="22" text-anchor="middle" font-weight="normal" font-style="normal" font-family="'Liberation Sans', Arial, sans-serif" letter-spacing="0.3" >10</text>
<line x1="1360" y1="707.3" x2="1360" y2="700.3" stroke="#8a8a8a" stroke-width="1.4" />
<line x1="1400" y1="707.3" x2="1400" y2="697.8" stroke="#333" stroke-width="1.9" />
<text x="1400" y="739.8" font-size="22" text-anchor="middle" font-weight="normal" font-style="normal" font-family="'Liberation Sans', Arial, sans-serif" letter-spacing="0.3" >12</text>
<line x1="1440" y1="707.3" x2="1440" y2="700.3" stroke="#8a8a8a" stroke-width="1.4" />
<line x1="1480" y1="707.3" x2="1480" y2="697.8" stroke="#333" stroke-width="1.9" />
<text x="1480" y="739.8" font-size="22" text-anchor="middle" font-weight="normal" font-style="normal" font-family="'Liberation Sans', Arial, sans-serif" letter-spacing="0.3" >14</text>
<text x="1222.4" y="777.6" font-size="25" text-anchor="middle" font-weight="normal" font-style="normal" font-family="'Liberation Sans', Arial, sans-serif" letter-spacing="0.55" >[SDS] (mM)</text>
<text x="0" y="0" transform="translate(828,389.75) rotate(-90)" font-size="25" text-anchor="middle" font-weight="normal" letter-spacing="0.4" font-family="'Liberation Sans', Arial, sans-serif">III / I ratio</text>
<line x1="1164.5" y1="624.3" x2="1214" y2="624.3" stroke="#000" stroke-width="3.3" stroke-dasharray="0.6 9.0" stroke-linecap="round"/>
<circle cx="1192" cy="624.3" r="7.6" fill="#fff" stroke="#000" stroke-width="1.5"/>
<line x1="1165.5" y1="661.8" x2="1217.5" y2="661.8" stroke="#000" stroke-width="1.5" />
<circle cx="1191.5" cy="661.8" r="8.3" fill="#000"/>
<text x="1230.5" y="627.9" font-size="21.5" font-weight="normal" font-family="'Liberation Sans', Arial, sans-serif" letter-spacing="0.7"><tspan font-weight="bold" stroke-width="0">No</tspan> His<tspan font-size="14.19" dy="7.52">6</tspan><tspan dy="-7.52">-tagged </tspan><tspan font-style="italic">Bd</tspan>PTE</text>
<text x="1230.5" y="665.9" font-size="21.5" font-weight="normal" font-family="'Liberation Sans', Arial, sans-serif" letter-spacing="0.6">0.3 &#956;M His<tspan font-size="14.19" dy="7.52">6</tspan><tspan dy="-7.52">-tagged </tspan><tspan font-style="italic">Bd</tspan>PTE</text>
<path d="M920.6,1522.6 920.7,1481.5 920.8,1445 921,1412.6 921.1,1383.7 921.2,1358.1 921.3,1335.4 921.4,1315.2 921.6,1297.2 921.7,1281.2 921.8,1267 921.9,1254.3 922,1243.1 922.2,1233.1 922.3,1224.2 922.4,1216.2 922.5,1209.1 922.6,1202.8 922.8,1197.2 922.9,1192.2 923,1187.7 923.1,1183.7 923.2,1180.1 923.3,1176.9 923.5,1174 923.6,1171.5 923.7,1169.2 923.8,1167.1 923.9,1165.2 924.1,1163.5 924.2,1162 924.3,1160.6 924.4,1159.4 924.5,1158.2 924.7,1157.2 924.8,1156.3 924.9,1155.4 925,1154.6 925.1,1153.9 925.3,1153.2 925.4,1152.6 925.5,1152 925.6,1151.5 925.7,1151 925.9,1150.5 926,1150.1 926.1,1149.7 926.2,1149.3 926.3,1148.9 926.5,1148.6 926.6,1148.2 926.7,1147.9 926.8,1147.6 926.9,1147.3 927.1,1147 927.2,1146.8 927.3,1146.5 927.4,1146.2 927.5,1146 927.7,1145.7 927.8,1145.5 927.9,1145.3 928,1145 928.1,1144.8 928.2,1144.6 928.4,1144.3 928.5,1144.1 928.6,1143.9 928.7,1143.7 928.8,1143.5 929,1143.3 929.1,1143.1 929.2,1142.9 929.3,1142.7 929.4,1142.5 929.6,1142.3 929.7,1142.1 929.8,1141.9 929.9,1141.7 930,1141.5 930.2,1141.3 930.3,1141.1 930.4,1141 930.5,1140.8 930.6,1140.6 930.8,1140.4 930.9,1140.2 931,1140 931.1,1139.9 931.2,1139.7 931.4,1139.5 931.5,1139.3 931.6,1139.2 931.7,1139 931.8,1138.8 932,1138.6 932.1,1138.5 932.2,1138.3 932.3,1138.1 932.4,1138 932.5,1137.8 932.7,1137.6 932.8,1137.5 932.9,1137.3 933,1137.1 933.1,1137 933.3,1136.8 933.4,1136.6 933.5,1136.5 933.6,1136.3 933.7,1136.2 933.9,1136 934,1135.8 934.1,1135.7 934.2,1135.5 934.3,1135.4 934.5,1135.2 934.6,1135.1 934.7,1134.9 934.8,1134.8 937.8,1131.2 940.7,1128.1 943.6,1125.3 946.6,1122.8 949.5,1120.6 952.4,1118.6 955.4,1116.7 958.3,1115.1 961.3,1113.5 964.2,1112.1 967.1,1110.8 970.1,1109.6 973,1108.5 976,1107.4 978.9,1106.4 981.8,1105.5 984.8,1104.6 987.7,1103.7 990.6,1102.8 993.6,1102 996.5,1101.2 999.5,1100.5 1002.4,1099.7 1005.3,1099 1008.3,1098.3 1011.2,1097.6 1014.1,1096.9 1017.1,1096.2 1020,1095.5 1023,1094.8 1025.9,1094.1 1028.8,1093.5 1031.8,1092.8 1034.7,1092.1 1037.7,1091.5 1040.6,1090.8 1043.5,1090.2 1046.5,1089.5 1049.4,1088.9 1052.3,1088.2 1055.3,1087.6 1058.2,1086.9 1061.2,1086.3 1064.1,1085.7 1067,1085 1070,1084.4 1072.9,1083.7 1075.8,1083.1 1078.8,1082.5 1081.7,1081.8 1084.7,1081.2 1087.6,1080.5 1090.5,1079.9 1093.5,1079.3 1096.4,1078.6 1099.4,1078 1102.3,1077.4 1105.2,1076.7 1108.2,1076.1 1111.1,1075.4 1114,1074.8 1117,1074.2 1119.9,1073.5 1122.9,1072.9 1125.8,1072.3 1128.7,1071.6 1131.7,1071 1134.6,1070.4 1137.5,1069.7 1140.5,1069.1 1143.4,1068.4 1146.4,1067.8 1149.3,1067.2 1152.2,1066.5 1155.2,1065.9 1158.1,1065.3 1161.1,1064.6 1164,1064 1166.9,1063.4 1169.9,1062.7 1172.8,1062.1 1175.7,1061.4 1178.7,1060.8 1181.6,1060.2 1184.6,1059.5 1187.5,1058.9 1190.4,1058.3 1193.4,1057.6 1196.3,1057 1199.2,1056.4 1202.2,1055.7 1205.1,1055.1 1208.1,1054.4 1211,1053.8 1213.9,1053.2 1216.9,1052.5 1219.8,1051.9 1222.8,1051.3 1225.7,1050.6 1228.6,1050 1231.6,1049.4 1234.5,1048.7 1237.4,1048.1 1240.4,1047.4 1243.3,1046.8 1246.3,1046.2 1249.2,1045.5 1252.1,1044.9 1255.1,1044.3 1258,1043.6 1260.9,1043 1263.9,1042.4 1266.8,1041.7 1269.8,1041.1 1272.7,1040.4 1275.6,1039.8 1278.6,1039.2 1281.5,1038.5 1284.5,1037.9 1287.4,1037.3 1290.3,1036.6 1293.3,1036 1296.2,1035.3 1299.1,1034.7 1302.1,1034.1 1305,1033.4 1308,1032.8 1310.9,1032.2 1313.8,1031.5 1316.8,1030.9 1319.7,1030.3 1322.6,1029.6 1325.6,1029 1328.5,1028.3 1331.5,1027.7 1334.4,1027.1 1337.3,1026.4 1340.3,1025.8 1343.2,1025.2 1346.2,1024.5 1349.1,1023.9 1352,1023.3 1355,1022.6 1357.9,1022 1360.8,1021.3 1363.8,1020.7 1366.7,1020.1 1369.7,1019.4 1372.6,1018.8 1375.5,1018.2 1378.5,1017.5 1381.4,1016.9 1384.3,1016.3 1387.3,1015.6 1390.2,1015 1393.2,1014.3 1396.1,1013.7 1399,1013.1 1402,1012.4 1404.9,1011.8 1407.9,1011.2 1410.8,1010.5 1413.7,1009.9 1416.7,1009.3 1419.6,1008.6 1422.5,1008 1425.5,1007.3 1428.4,1006.7 1431.4,1006.1 1434.3,1005.4 1437.2,1004.8 1440.2,1004.2 1443.1,1003.5 1446,1002.9 1449,1002.3 1451.9,1001.6 1454.9,1001 1457.8,1000.3 1460.7,999.7 1463.7,999.1 1466.6,998.4 1469.6,997.8 1472.5,997.2 1475.4,996.5 1478.4,995.9 1481.3,995.3 1484.2,994.6 1487.2,994 1490.1,993.3 1493.1,992.7 1496,992.1 1498.9,991.4 1501.9,990.8 1504.8,990.2 1507.7,989.5 1510.7,988.9 1513.6,988.3 1516.6,987.6 1519.5,987" fill="none" stroke="#000" stroke-width="3.3" stroke-linejoin="round" stroke-dasharray="0.6 9.0" stroke-linecap="round"/>
<path d="M920.6,1522.6 920.7,1482 920.8,1445.9 921,1413.9 921.1,1385.5 921.2,1360.2 921.3,1337.8 921.4,1317.8 921.6,1300 921.7,1284.3 921.8,1270.2 921.9,1257.7 922,1246.6 922.2,1236.7 922.3,1227.9 922.4,1220.1 922.5,1213.1 922.6,1206.9 922.8,1201.3 922.9,1196.3 923,1191.9 923.1,1188 923.2,1184.4 923.3,1181.2 923.5,1178.4 923.6,1175.8 923.7,1173.6 923.8,1171.5 923.9,1169.6 924.1,1168 924.2,1166.5 924.3,1165.1 924.4,1163.9 924.5,1162.7 924.7,1161.7 924.8,1160.8 924.9,1159.9 925,1159.1 925.1,1158.4 925.3,1157.7 925.4,1157.1 925.5,1156.6 925.6,1156 925.7,1155.5 925.9,1155.1 926,1154.6 926.1,1154.2 926.2,1153.8 926.3,1153.4 926.5,1153.1 926.6,1152.8 926.7,1152.4 926.8,1152.1 926.9,1151.8 927.1,1151.5 927.2,1151.3 927.3,1151 927.4,1150.7 927.5,1150.5 927.7,1150.2 927.8,1150 927.9,1149.7 928,1149.5 928.1,1149.3 928.2,1149 928.4,1148.8 928.5,1148.6 928.6,1148.4 928.7,1148.2 928.8,1148 929,1147.7 929.1,1147.5 929.2,1147.3 929.3,1147.1 929.4,1146.9 929.6,1146.7 929.7,1146.5 929.8,1146.3 929.9,1146.1 930,1145.9 930.2,1145.7 930.3,1145.6 930.4,1145.4 930.5,1145.2 930.6,1145 930.8,1144.8 930.9,1144.6 931,1144.4 931.1,1144.3 931.2,1144.1 931.4,1143.9 931.5,1143.7 931.6,1143.5 931.7,1143.4 931.8,1143.2 932,1143 932.1,1142.8 932.2,1142.6 932.3,1142.5 932.4,1142.3 932.5,1142.1 932.7,1142 932.8,1141.8 932.9,1141.6 933,1141.5 933.1,1141.3 933.3,1141.1 933.4,1141 933.5,1140.8 933.6,1140.6 933.7,1140.5 933.9,1140.3 934,1140.1 934.1,1140 934.2,1139.8 934.3,1139.7 934.5,1139.5 934.6,1139.3 934.7,1139.2 934.8,1139 937.8,1135.4 940.7,1132.2 943.6,1129.3 946.6,1126.7 949.5,1124.4 952.4,1122.3 955.4,1120.4 958.3,1118.6 961.3,1117 964.2,1115.5 967.1,1114.1 970.1,1112.8 973,1111.5 976,1110.4 978.9,1109.3 981.8,1108.2 984.8,1107.2 987.7,1106.3 990.6,1105.3 993.6,1104.4 996.5,1103.5 999.5,1102.7 1002.4,1101.8 1005.3,1101 1008.3,1100.2 1011.2,1099.4 1014.1,1098.6 1017.1,1097.8 1020,1097 1023,1096.3 1025.9,1095.5 1028.8,1094.7 1031.8,1094 1034.7,1093.2 1037.7,1092.5 1040.6,1091.7 1043.5,1091 1046.5,1090.2 1049.4,1089.5 1052.3,1088.8 1055.3,1088 1058.2,1087.3 1061.2,1086.6 1064.1,1085.8 1067,1085.1 1070,1084.3 1072.9,1083.6 1075.8,1082.9 1078.8,1082.2 1081.7,1081.4 1084.7,1080.7 1087.6,1080 1090.5,1079.2 1093.5,1078.5 1096.4,1077.8 1099.4,1077 1102.3,1076.3 1105.2,1075.6 1108.2,1074.8 1111.1,1074.1 1114,1073.4 1117,1072.6 1119.9,1071.9 1122.9,1071.2 1125.8,1070.5 1128.7,1069.7 1131.7,1069 1134.6,1068.3 1137.5,1067.5 1140.5,1066.8 1143.4,1066.1 1146.4,1065.3 1149.3,1064.6 1152.2,1063.9 1155.2,1063.2 1158.1,1062.4 1161.1,1061.7 1164,1061 1166.9,1060.2 1169.9,1059.5 1172.8,1058.8 1175.7,1058 1178.7,1057.3 1181.6,1056.6 1184.6,1055.9 1187.5,1055.1 1190.4,1054.4 1193.4,1053.7 1196.3,1052.9 1199.2,1052.2 1202.2,1051.5 1205.1,1050.8 1208.1,1050 1211,1049.3 1213.9,1048.6 1216.9,1047.8 1219.8,1047.1 1222.8,1046.4 1225.7,1045.6 1228.6,1044.9 1231.6,1044.2 1234.5,1043.5 1237.4,1042.7 1240.4,1042 1243.3,1041.3 1246.3,1040.5 1249.2,1039.8 1252.1,1039.1 1255.1,1038.3 1258,1037.6 1260.9,1036.9 1263.9,1036.2 1266.8,1035.4 1269.8,1034.7 1272.7,1034 1275.6,1033.2 1278.6,1032.5 1281.5,1031.8 1284.5,1031 1287.4,1030.3 1290.3,1029.6 1293.3,1028.9 1296.2,1028.1 1299.1,1027.4 1302.1,1026.7 1305,1025.9 1308,1025.2 1310.9,1024.5 1313.8,1023.7 1316.8,1023 1319.7,1022.3 1322.6,1021.6 1325.6,1020.8 1328.5,1020.1 1331.5,1019.4 1334.4,1018.6 1337.3,1017.9 1340.3,1017.2 1343.2,1016.4 1346.2,1015.7 1349.1,1015 1352,1014.3 1355,1013.5 1357.9,1012.8 1360.8,1012.1 1363.8,1011.3 1366.7,1010.6 1369.7,1009.9 1372.6,1009.1 1375.5,1008.4 1378.5,1007.7 1381.4,1007 1384.3,1006.2 1387.3,1005.5 1390.2,1004.8 1393.2,1004 1396.1,1003.3 1399,1002.6 1402,1001.8 1404.9,1001.1 1407.9,1000.4 1410.8,999.7 1413.7,998.9 1416.7,998.2 1419.6,997.5 1422.5,996.7 1425.5,996 1428.4,995.3 1431.4,994.5 1434.3,993.8 1437.2,993.1 1440.2,992.4 1443.1,991.6 1446,990.9 1449,990.2 1451.9,989.4 1454.9,988.7 1457.8,988 1460.7,987.3 1463.7,986.5 1466.6,985.8 1469.6,985.1 1472.5,984.3 1475.4,983.6 1478.4,982.9 1481.3,982.1 1484.2,981.4 1487.2,980.7 1490.1,980 1493.1,979.2 1496,978.5 1498.9,977.8 1501.9,977 1504.8,976.3 1507.7,975.6 1510.7,974.8 1513.6,974.1 1516.6,973.4 1519.5,972.7" fill="none" stroke="#000" stroke-width="1.5" stroke-linejoin="round" />
<circle cx="918.8" cy="1433.07" r="6.6" fill="#000"/>
<circle cx="926.81" cy="1146.55" r="6.6" fill="#000"/>
<circle cx="934.82" cy="1128.25" r="6.6" fill="#000"/>
<circle cx="942.83" cy="1125.06" r="6.6" fill="#000"/>
<circle cx="950.84" cy="1120.29" r="6.6" fill="#000"/>
<circle cx="958.85" cy="1117.1" r="6.6" fill="#000"/>
<circle cx="966.86" cy="1113.92" r="6.6" fill="#000"/>
<circle cx="974.87" cy="1112.33" r="6.6" fill="#000"/>
<circle cx="982.87" cy="1107.55" r="6.6" fill="#000"/>
<circle cx="990.88" cy="1098.96" r="6.6" fill="#000"/>
<circle cx="998.89" cy="1101.19" r="6.6" fill="#000"/>
<circle cx="1018.92" cy="1101.19" r="6.6" fill="#000"/>
<circle cx="1038.94" cy="1095.77" r="6.6" fill="#000"/>
<circle cx="1058.96" cy="1085.27" r="6.6" fill="#000"/>
<circle cx="1078.99" cy="1070.15" r="6.6" fill="#000"/>
<circle cx="1119.03" cy="1073.17" r="6.6" fill="#000"/>
<circle cx="1159.08" cy="1042.93" r="6.6" fill="#000"/>
<circle cx="1199.13" cy="1052.8" r="6.6" fill="#000"/>
<circle cx="1239.17" cy="1042.29" r="6.6" fill="#000"/>
<circle cx="1279.22" cy="1036.4" r="6.6" fill="#000"/>
<circle cx="1319.27" cy="1025.42" r="6.6" fill="#000"/>
<circle cx="1359.31" cy="1020.01" r="6.6" fill="#000"/>
<circle cx="1399.36" cy="1020.01" r="6.6" fill="#000"/>
<circle cx="1439.41" cy="998.2" r="6.6" fill="#000"/>
<circle cx="1479.45" cy="991.36" r="6.6" fill="#000"/>
<circle cx="1519.5" cy="940.9" r="6.6" fill="#000"/>
<circle cx="918.8" cy="1501.67" r="5.9" fill="#fff" stroke="#000" stroke-width="1.4"/>
<circle cx="926.81" cy="1150.53" r="5.9" fill="#fff" stroke="#000" stroke-width="1.4"/>
<circle cx="934.82" cy="1115.51" r="5.9" fill="#fff" stroke="#000" stroke-width="1.4"/>
<circle cx="942.83" cy="1101.19" r="5.9" fill="#fff" stroke="#000" stroke-width="1.4"/>
<circle cx="950.84" cy="1117.1" r="5.9" fill="#fff" stroke="#000" stroke-width="1.4"/>
<circle cx="958.85" cy="1112.97" r="5.9" fill="#fff" stroke="#000" stroke-width="1.4"/>
<circle cx="966.86" cy="1107.55" r="5.9" fill="#fff" stroke="#000" stroke-width="1.4"/>
<circle cx="974.87" cy="1103.57" r="5.9" fill="#fff" stroke="#000" stroke-width="1.4"/>
<circle cx="982.87" cy="1105.96" r="5.9" fill="#fff" stroke="#000" stroke-width="1.4"/>
<circle cx="990.88" cy="1109.94" r="5.9" fill="#fff" stroke="#000" stroke-width="1.4"/>
<circle cx="998.89" cy="1105.96" r="5.9" fill="#fff" stroke="#000" stroke-width="1.4"/>
<circle cx="1018.92" cy="1096.41" r="5.9" fill="#fff" stroke="#000" stroke-width="1.4"/>
<circle cx="1038.94" cy="1088.77" r="5.9" fill="#fff" stroke="#000" stroke-width="1.4"/>
<circle cx="1058.96" cy="1089.57" r="5.9" fill="#fff" stroke="#000" stroke-width="1.4"/>
<circle cx="1078.99" cy="1083.68" r="5.9" fill="#fff" stroke="#000" stroke-width="1.4"/>
<circle cx="1119.03" cy="1062.35" r="5.9" fill="#fff" stroke="#000" stroke-width="1.4"/>
<circle cx="1159.08" cy="1062.35" r="5.9" fill="#fff" stroke="#000" stroke-width="1.4"/>
<circle cx="1199.13" cy="1042.29" r="5.9" fill="#fff" stroke="#000" stroke-width="1.4"/>
<circle cx="1239.17" cy="1039.9" r="5.9" fill="#fff" stroke="#000" stroke-width="1.4"/>
<circle cx="1279.22" cy="1039.9" r="5.9" fill="#fff" stroke="#000" stroke-width="1.4"/>
<circle cx="1319.27" cy="1028.92" r="5.9" fill="#fff" stroke="#000" stroke-width="1.4"/>
<circle cx="1359.31" cy="1010.46" r="5.9" fill="#fff" stroke="#000" stroke-width="1.4"/>
<circle cx="1399.36" cy="1010.46" r="5.9" fill="#fff" stroke="#000" stroke-width="1.4"/>
<circle cx="1439.41" cy="995.65" r="5.9" fill="#fff" stroke="#000" stroke-width="1.4"/>
<circle cx="1479.45" cy="992.95" r="5.9" fill="#fff" stroke="#000" stroke-width="1.4"/>
<circle cx="1519.5" cy="999.31" r="5.9" fill="#fff" stroke="#000" stroke-width="1.4"/>
<rect x="918.8" y="886.3" width="600.7" height="636.7" fill="none" stroke="#2a2a2a" stroke-width="2.2"/>
<text x="906.8" y="1530.8" font-size="22" text-anchor="end" font-weight="normal" font-style="normal" font-family="'Liberation Sans', Arial, sans-serif" letter-spacing="0.4" >0.60</text>
<line x1="918.8" y1="1483.21" x2="925.8" y2="1483.21" stroke="#8a8a8a" stroke-width="1.4" />
<line x1="918.8" y1="1443.41" x2="928.3" y2="1443.41" stroke="#333" stroke-width="1.9" />
<text x="906.8" y="1451.21" font-size="22" text-anchor="end" font-weight="normal" font-style="normal" font-family="'Liberation Sans', Arial, sans-serif" letter-spacing="0.4" >0.65</text>
<line x1="918.8" y1="1403.62" x2="925.8" y2="1403.62" stroke="#8a8a8a" stroke-width="1.4" />
<line x1="918.8" y1="1363.83" x2="928.3" y2="1363.83" stroke="#333" stroke-width="1.9" />
<text x="906.8" y="1371.62" font-size="22" text-anchor="end" font-weight="normal" font-style="normal" font-family="'Liberation Sans', Arial, sans-serif" letter-spacing="0.4" >0.70</text>
<line x1="918.8" y1="1324.03" x2="925.8" y2="1324.03" stroke="#8a8a8a" stroke-width="1.4" />
<line x1="918.8" y1="1284.24" x2="928.3" y2="1284.24" stroke="#333" stroke-width="1.9" />
<text x="906.8" y="1292.04" font-size="22" text-anchor="end" font-weight="normal" font-style="normal" font-family="'Liberation Sans', Arial, sans-serif" letter-spacing="0.4" >0.75</text>
<line x1="918.8" y1="1244.44" x2="925.8" y2="1244.44" stroke="#8a8a8a" stroke-width="1.4" />
<line x1="918.8" y1="1204.65" x2="928.3" y2="1204.65" stroke="#333" stroke-width="1.9" />
<text x="906.8" y="1212.45" font-size="22" text-anchor="end" font-weight="normal" font-style="normal" font-family="'Liberation Sans', Arial, sans-serif" letter-spacing="0.4" >0.80</text>
<line x1="918.8" y1="1164.86" x2="925.8" y2="1164.86" stroke="#8a8a8a" stroke-width="1.4" />
<line x1="918.8" y1="1125.06" x2="928.3" y2="1125.06" stroke="#333" stroke-width="1.9" />
<text x="906.8" y="1132.86" font-size="22" text-anchor="end" font-weight="normal" font-style="normal" font-family="'Liberation Sans', Arial, sans-serif" letter-spacing="0.4" >0.85</text>
<line x1="918.8" y1="1085.27" x2="925.8" y2="1085.27" stroke="#8a8a8a" stroke-width="1.4" />
<line x1="918.8" y1="1045.47" x2="928.3" y2="1045.47" stroke="#333" stroke-width="1.9" />
<text x="906.8" y="1053.27" font-size="22" text-anchor="end" font-weight="normal" font-style="normal" font-family="'Liberation Sans', Arial, sans-serif" letter-spacing="0.4" >0.90</text>
<line x1="918.8" y1="1005.68" x2="925.8" y2="1005.68" stroke="#8a8a8a" stroke-width="1.4" />
<line x1="918.8" y1="965.89" x2="928.3" y2="965.89" stroke="#333" stroke-width="1.9" />
<text x="906.8" y="973.69" font-size="22" text-anchor="end" font-weight="normal" font-style="normal" font-family="'Liberation Sans', Arial, sans-serif" letter-spacing="0.4" >0.95</text>
<line x1="918.8" y1="926.09" x2="925.8" y2="926.09" stroke="#8a8a8a" stroke-width="1.4" />
<text x="906.8" y="894.1" font-size="22" text-anchor="end" font-weight="normal" font-style="normal" font-family="'Liberation Sans', Arial, sans-serif" letter-spacing="0.4" >1.00</text>
<text x="918.8" y="1555.5" font-size="22" text-anchor="middle" font-weight="normal" font-style="normal" font-family="'Liberation Sans', Arial, sans-serif" letter-spacing="0.3" >0</text>
<line x1="958.85" y1="1523" x2="958.85" y2="1516" stroke="#8a8a8a" stroke-width="1.4" />
<line x1="998.89" y1="1523" x2="998.89" y2="1513.5" stroke="#333" stroke-width="1.9" />
<text x="998.89" y="1555.5" font-size="22" text-anchor="middle" font-weight="normal" font-style="normal" font-family="'Liberation Sans', Arial, sans-serif" letter-spacing="0.3" >2</text>
<line x1="1038.94" y1="1523" x2="1038.94" y2="1516" stroke="#8a8a8a" stroke-width="1.4" />
<line x1="1078.99" y1="1523" x2="1078.99" y2="1513.5" stroke="#333" stroke-width="1.9" />
<text x="1078.99" y="1555.5" font-size="22" text-anchor="middle" font-weight="normal" font-style="normal" font-family="'Liberation Sans', Arial, sans-serif" letter-spacing="0.3" >4</text>
<line x1="1119.03" y1="1523" x2="1119.03" y2="1516" stroke="#8a8a8a" stroke-width="1.4" />
<line x1="1159.08" y1="1523" x2="1159.08" y2="1513.5" stroke="#333" stroke-width="1.9" />
<text x="1159.08" y="1555.5" font-size="22" text-anchor="middle" font-weight="normal" font-style="normal" font-family="'Liberation Sans', Arial, sans-serif" letter-spacing="0.3" >6</text>
<line x1="1199.13" y1="1523" x2="1199.13" y2="1516" stroke="#8a8a8a" stroke-width="1.4" />
<line x1="1239.17" y1="1523" x2="1239.17" y2="1513.5" stroke="#333" stroke-width="1.9" />
<text x="1239.17" y="1555.5" font-size="22" text-anchor="middle" font-weight="normal" font-style="normal" font-family="'Liberation Sans', Arial, sans-serif" letter-spacing="0.3" >8</text>
<line x1="1279.22" y1="1523" x2="1279.22" y2="1516" stroke="#8a8a8a" stroke-width="1.4" />
<line x1="1319.27" y1="1523" x2="1319.27" y2="1513.5" stroke="#333" stroke-width="1.9" />
<text x="1319.27" y="1555.5" font-size="22" text-anchor="middle" font-weight="normal" font-style="normal" font-family="'Liberation Sans', Arial, sans-serif" letter-spacing="0.3" >10</text>
<line x1="1359.31" y1="1523" x2="1359.31" y2="1516" stroke="#8a8a8a" stroke-width="1.4" />
<line x1="1399.36" y1="1523" x2="1399.36" y2="1513.5" stroke="#333" stroke-width="1.9" />
<text x="1399.36" y="1555.5" font-size="22" text-anchor="middle" font-weight="normal" font-style="normal" font-family="'Liberation Sans', Arial, sans-serif" letter-spacing="0.3" >12</text>
<line x1="1439.41" y1="1523" x2="1439.41" y2="1516" stroke="#8a8a8a" stroke-width="1.4" />
<line x1="1479.45" y1="1523" x2="1479.45" y2="1513.5" stroke="#333" stroke-width="1.9" />
<text x="1479.45" y="1555.5" font-size="22" text-anchor="middle" font-weight="normal" font-style="normal" font-family="'Liberation Sans', Arial, sans-serif" letter-spacing="0.3" >14</text>
<text x="1221.6" y="1591.6" font-size="25" text-anchor="middle" font-weight="normal" font-style="normal" font-family="'Liberation Sans', Arial, sans-serif" letter-spacing="0.8" >[Tween 20] (mM)</text>
<text x="0" y="0" transform="translate(832.3,1204.65) rotate(-90)" font-size="25" text-anchor="middle" font-weight="normal" letter-spacing="0.4" font-family="'Liberation Sans', Arial, sans-serif">III / I ratio</text>
<line x1="1164.5" y1="1440" x2="1214" y2="1440" stroke="#000" stroke-width="3.3" stroke-dasharray="0.6 9.0" stroke-linecap="round"/>
<circle cx="1192" cy="1440" r="7.6" fill="#fff" stroke="#000" stroke-width="1.5"/>
<line x1="1165.5" y1="1477.5" x2="1217.5" y2="1477.5" stroke="#000" stroke-width="1.5" />
<circle cx="1191.5" cy="1477.5" r="8.3" fill="#000"/>
<text x="1230.5" y="1443.6" font-size="21.5" font-weight="normal" font-family="'Liberation Sans', Arial, sans-serif" letter-spacing="0.7"><tspan font-weight="bold" stroke-width="0">No</tspan> His<tspan font-size="14.19" dy="7.52">6</tspan><tspan dy="-7.52">-tagged </tspan><tspan font-style="italic">Bd</tspan>PTE</text>
<text x="1230.5" y="1481.6" font-size="21.5" font-weight="normal" font-family="'Liberation Sans', Arial, sans-serif" letter-spacing="0.6">0.3 &#956;M His<tspan font-size="14.19" dy="7.52">6</tspan><tspan dy="-7.52">-tagged </tspan><tspan font-style="italic">Bd</tspan>PTE</text>
<text x="18.5" y="36.2" font-size="35" text-anchor="start" font-weight="bold" font-style="normal" font-family="'Liberation Sans', Arial, sans-serif" >a</text>
<text x="808.3" y="35.6" font-size="35" text-anchor="start" font-weight="bold" font-style="normal" font-family="'Liberation Sans', Arial, sans-serif" >b</text>
<text x="17.2" y="850.3" font-size="35" text-anchor="start" font-weight="bold" font-style="normal" font-family="'Liberation Sans', Arial, sans-serif" >c</text>
<text x="812.5" y="848.7" font-size="35" text-anchor="start" font-weight="bold" font-style="normal" font-family="'Liberation Sans', Arial, sans-serif" >d</text>
</svg>
</body></html>
